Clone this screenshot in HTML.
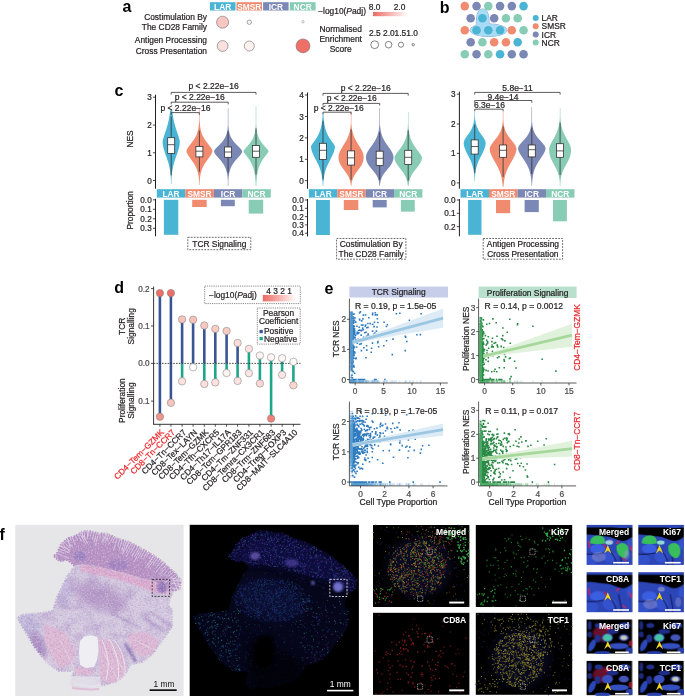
<!DOCTYPE html>
<html><head><meta charset="utf-8"><style>
html,body{margin:0;padding:0;background:#fff;}
body{width:685px;height:696px;overflow:hidden;position:relative;}
svg{position:absolute;left:0;top:0;font-family:"Liberation Sans",sans-serif;will-change:transform;}
</style></head><body>
<svg width="685" height="696" viewBox="0 0 685 696">
<text x="122.5" y="12.4" font-size="16" text-anchor="start" fill="#000" font-weight="bold" >a</text>
<rect x="209.9" y="2.2" width="25.6" height="8.3" fill="#4ab4d4" />
<text x="222.7" y="9.6" font-size="8.4" text-anchor="middle" fill="#fff" font-weight="bold" >LAR</text>
<rect x="236.5" y="2.2" width="25.5" height="8.3" fill="#f08b70" />
<text x="249.25" y="9.6" font-size="8.4" text-anchor="middle" fill="#fff" font-weight="bold" >SMSR</text>
<rect x="263.1" y="2.2" width="25.5" height="8.3" fill="#7b87b4" />
<text x="275.85" y="9.6" font-size="8.4" text-anchor="middle" fill="#fff" font-weight="bold" >ICR</text>
<rect x="289.8" y="2.2" width="25.8" height="8.3" fill="#88ccb6" />
<text x="302.7" y="9.6" font-size="8.4" text-anchor="middle" fill="#fff" font-weight="bold" >NCR</text>
<text x="207" y="19.8" font-size="8.4" text-anchor="end" fill="#231f20" font-weight="normal" stroke="#231f20" stroke-width="0.22" >Costimulation By</text>
<text x="207" y="29.8" font-size="8.4" text-anchor="end" fill="#231f20" font-weight="normal" stroke="#231f20" stroke-width="0.22" >The CD28 Family</text>
<text x="207" y="43.2" font-size="8.4" text-anchor="end" fill="#231f20" font-weight="normal" stroke="#231f20" stroke-width="0.22" >Antigen Processing</text>
<text x="207" y="53.8" font-size="8.4" text-anchor="end" fill="#231f20" font-weight="normal" stroke="#231f20" stroke-width="0.22" >Cross Presentation</text>
<circle cx="222.6" cy="22.2" r="6" fill="#f9c7c2" stroke="#555" stroke-width="0.5" />
<circle cx="249.3" cy="22.2" r="2.2" fill="#fdf3f2" stroke="#555" stroke-width="0.5" />
<circle cx="303" cy="21.8" r="1.2" fill="#fff" stroke="#666" stroke-width="0.4" />
<circle cx="222.6" cy="46" r="5.4" fill="#fbe1de" stroke="#555" stroke-width="0.5" />
<circle cx="249.3" cy="46" r="5" fill="#fdf1ef" stroke="#555" stroke-width="0.5" />
<circle cx="303" cy="45.9" r="7" fill="#ee6f66" stroke="#666" stroke-width="0.5" />
<text x="318.2" y="13.6" font-size="8.4" text-anchor="start" fill="#231f20" font-weight="normal" stroke="#231f20" stroke-width="0.22" >−log10(<tspan font-style="italic">P</tspan>adj)</text>
<defs><linearGradient id="ga" x1="0" x2="1" y1="0" y2="0"><stop offset="0" stop-color="#ec6a62"/><stop offset="1" stop-color="#ec6a62" stop-opacity="0"/></linearGradient></defs>
<rect x="373" y="11.9" width="35" height="4.3" fill="url(#ga)" />
<text x="374.6" y="10.2" font-size="8.4" text-anchor="middle" fill="#231f20" font-weight="normal" stroke="#231f20" stroke-width="0.22" >8.0</text>
<text x="399.5" y="10.2" font-size="8.4" text-anchor="middle" fill="#231f20" font-weight="normal" stroke="#231f20" stroke-width="0.22" >2.0</text>
<text x="340.7" y="31.6" font-size="8.4" text-anchor="middle" fill="#231f20" font-weight="normal" stroke="#231f20" stroke-width="0.22" >Normalised</text>
<text x="340.7" y="41.8" font-size="8.4" text-anchor="middle" fill="#231f20" font-weight="normal" stroke="#231f20" stroke-width="0.22" >Enrichment</text>
<text x="340.7" y="52.2" font-size="8.4" text-anchor="middle" fill="#231f20" font-weight="normal" stroke="#231f20" stroke-width="0.22" >Score</text>
<text x="369" y="36" font-size="8.4" text-anchor="start" fill="#231f20" font-weight="normal" stroke="#231f20" stroke-width="0.22" >2.5 2.01.51.0</text>
<circle cx="374.7" cy="44.7" r="3.9" fill="#fff" stroke="#333" stroke-width="0.6" />
<circle cx="388.6" cy="44.7" r="3.3" fill="#fff" stroke="#333" stroke-width="0.6" />
<circle cx="401" cy="44.7" r="2.6" fill="#fff" stroke="#333" stroke-width="0.6" />
<circle cx="413.2" cy="44.7" r="1.2" fill="#fff" stroke="#333" stroke-width="0.6" />
<text x="439.8" y="13.4" font-size="16" text-anchor="start" fill="#000" font-weight="bold" >b</text>
<ellipse cx="488.5" cy="30.2" rx="18.6" ry="6.3" fill="#a8dcf5" stroke="#6a7fbf" stroke-width="0.7"/><path d="M476.3,28 C476.3,19 476.2,9 482.7,9 C489.2,9 489.1,19 489.1,28 Z" fill="#a8dcf5" stroke="#6a7fbf" stroke-width="0.7"/>
<ellipse cx="488.5" cy="30.2" rx="18.6" ry="6.3" fill="#a8dcf5"/><path d="M476.3,28 C476.3,19 476.2,9 482.7,9 C489.2,9 489.1,19 489.1,28 Z" fill="#a8dcf5"/>
<circle cx="464.8" cy="6.1" r="4.3" fill="#f08b70" stroke="none" stroke-width="0.6" />
<circle cx="476.55" cy="6.1" r="4.3" fill="#7b87b4" stroke="none" stroke-width="0.6" />
<circle cx="488.3" cy="6.1" r="4.3" fill="#88ccb6" stroke="none" stroke-width="0.6" />
<circle cx="500.05" cy="6.1" r="4.3" fill="#7b87b4" stroke="none" stroke-width="0.6" />
<circle cx="511.8" cy="6.1" r="4.3" fill="#7b87b4" stroke="none" stroke-width="0.6" />
<circle cx="523.55" cy="6.1" r="4.3" fill="#4ab4d4" stroke="none" stroke-width="0.6" />
<circle cx="470.68" cy="18.2" r="4.3" fill="#7b87b4" stroke="none" stroke-width="0.6" />
<circle cx="482.43" cy="18.2" r="4.3" fill="#4ab4d4" stroke="none" stroke-width="0.6" />
<circle cx="494.18" cy="18.2" r="4.3" fill="#7b87b4" stroke="none" stroke-width="0.6" />
<circle cx="505.93" cy="18.2" r="4.3" fill="#88ccb6" stroke="none" stroke-width="0.6" />
<circle cx="517.67" cy="18.2" r="4.3" fill="#88ccb6" stroke="none" stroke-width="0.6" />
<circle cx="464.8" cy="30.2" r="4.3" fill="#f08b70" stroke="none" stroke-width="0.6" />
<circle cx="476.55" cy="30.2" r="4.3" fill="#4ab4d4" stroke="none" stroke-width="0.6" />
<circle cx="488.3" cy="30.2" r="4.3" fill="#4ab4d4" stroke="none" stroke-width="0.6" />
<circle cx="500.05" cy="30.2" r="4.3" fill="#4ab4d4" stroke="none" stroke-width="0.6" />
<circle cx="511.8" cy="30.2" r="4.3" fill="#f08b70" stroke="none" stroke-width="0.6" />
<circle cx="523.55" cy="30.2" r="4.3" fill="#88ccb6" stroke="none" stroke-width="0.6" />
<circle cx="470.68" cy="42.3" r="4.3" fill="#7b87b4" stroke="none" stroke-width="0.6" />
<circle cx="482.43" cy="42.3" r="4.3" fill="#88ccb6" stroke="none" stroke-width="0.6" />
<circle cx="494.18" cy="42.3" r="4.3" fill="#f08b70" stroke="none" stroke-width="0.6" />
<circle cx="505.93" cy="42.3" r="4.3" fill="#f08b70" stroke="none" stroke-width="0.6" />
<circle cx="517.67" cy="42.3" r="4.3" fill="#4ab4d4" stroke="none" stroke-width="0.6" />
<circle cx="464.8" cy="54.3" r="4.3" fill="#88ccb6" stroke="none" stroke-width="0.6" />
<circle cx="476.55" cy="54.3" r="4.3" fill="#7b87b4" stroke="none" stroke-width="0.6" />
<circle cx="488.3" cy="54.3" r="4.3" fill="#88ccb6" stroke="none" stroke-width="0.6" />
<circle cx="500.05" cy="54.3" r="4.3" fill="#4ab4d4" stroke="none" stroke-width="0.6" />
<circle cx="511.8" cy="54.3" r="4.3" fill="#7b87b4" stroke="none" stroke-width="0.6" />
<circle cx="523.55" cy="54.3" r="4.3" fill="#7b87b4" stroke="none" stroke-width="0.6" />
<circle cx="535.7" cy="18" r="3" fill="#4ab4d4" stroke="none" stroke-width="0.6" />
<text x="541.6" y="21" font-size="8.4" text-anchor="start" fill="#231f20" font-weight="normal" stroke="#231f20" stroke-width="0.22" >LAR</text>
<circle cx="535.7" cy="26.2" r="3" fill="#f08b70" stroke="none" stroke-width="0.6" />
<text x="541.6" y="29.2" font-size="8.4" text-anchor="start" fill="#231f20" font-weight="normal" stroke="#231f20" stroke-width="0.22" >SMSR</text>
<circle cx="535.7" cy="34.6" r="3" fill="#7b87b4" stroke="none" stroke-width="0.6" />
<text x="541.6" y="37.6" font-size="8.4" text-anchor="start" fill="#231f20" font-weight="normal" stroke="#231f20" stroke-width="0.22" >ICR</text>
<circle cx="535.7" cy="42.6" r="3" fill="#88ccb6" stroke="none" stroke-width="0.6" />
<text x="541.6" y="45.6" font-size="8.4" text-anchor="start" fill="#231f20" font-weight="normal" stroke="#231f20" stroke-width="0.22" >NCR</text>
<text x="114.5" y="96.4" font-size="16" text-anchor="start" fill="#000" font-weight="bold" >c</text>
<text x="0" y="0" font-size="8.4" text-anchor="middle" fill="#231f20" font-weight="normal" stroke="#231f20" stroke-width="0.22" transform="translate(133.3,139) rotate(-90)">NES</text>
<text x="0" y="0" font-size="8.4" text-anchor="middle" fill="#231f20" font-weight="normal" stroke="#231f20" stroke-width="0.22" transform="translate(133.3,210.3) rotate(-90)">Proportion</text>
<line x1="155.5" y1="94.7" x2="155.5" y2="188.8" stroke="#231f20" stroke-width="1" />
<line x1="152.9" y1="180.5" x2="155.5" y2="180.5" stroke="#231f20" stroke-width="0.8" />
<text x="151.7" y="183.5" font-size="8.2" text-anchor="end" fill="#231f20" font-weight="normal" stroke="#231f20" stroke-width="0.22" >0</text>
<line x1="152.9" y1="152.8" x2="155.5" y2="152.8" stroke="#231f20" stroke-width="0.8" />
<text x="151.7" y="155.8" font-size="8.2" text-anchor="end" fill="#231f20" font-weight="normal" stroke="#231f20" stroke-width="0.22" >1</text>
<line x1="152.9" y1="125.1" x2="155.5" y2="125.1" stroke="#231f20" stroke-width="0.8" />
<text x="151.7" y="128.1" font-size="8.2" text-anchor="end" fill="#231f20" font-weight="normal" stroke="#231f20" stroke-width="0.22" >2</text>
<line x1="152.9" y1="97.2" x2="155.5" y2="97.2" stroke="#231f20" stroke-width="0.8" />
<text x="151.7" y="100.2" font-size="8.2" text-anchor="end" fill="#231f20" font-weight="normal" stroke="#231f20" stroke-width="0.22" >3</text>
<path d="M171.40,110.00 L172.25,110.82 L172.34,111.64 L172.43,112.47 L172.54,113.29 L172.64,114.11 L172.76,114.93 L172.89,115.76 L173.02,116.58 L173.16,117.40 L173.31,118.22 L173.46,119.04 L173.63,119.87 L173.80,120.69 L173.99,121.51 L174.18,122.33 L174.38,123.16 L174.59,123.98 L174.81,124.80 L175.03,125.62 L175.27,126.44 L175.51,127.27 L175.76,128.09 L176.02,128.91 L176.29,129.73 L176.55,130.56 L176.83,131.38 L177.10,132.20 L177.38,133.02 L177.66,133.84 L177.94,134.67 L178.21,135.49 L178.48,136.31 L178.73,137.13 L178.98,137.96 L179.21,138.78 L179.42,139.60 L179.60,140.42 L179.74,141.24 L179.79,142.07 L179.74,142.89 L179.67,143.71 L179.58,144.53 L179.45,145.36 L179.31,146.18 L179.14,147.00 L178.96,147.82 L178.75,148.64 L178.52,149.47 L178.28,150.29 L178.03,151.11 L177.76,151.93 L177.49,152.76 L177.21,153.58 L176.92,154.40 L176.62,155.22 L176.33,156.04 L176.04,156.87 L175.75,157.69 L175.46,158.51 L175.18,159.33 L174.90,160.16 L174.63,160.98 L174.38,161.80 L174.13,162.62 L173.89,163.44 L173.66,164.27 L173.45,165.09 L173.25,165.91 L173.06,166.73 L172.88,167.56 L172.72,168.38 L172.56,169.20 L172.42,170.02 L172.29,170.84 L172.17,171.67 L172.06,172.49 L171.97,173.31 L171.88,174.13 L171.80,174.96 L171.72,175.78 L171.66,176.60 L171.60,177.42 L171.55,178.24 L171.50,179.07 L171.46,179.89 L171.45,180.71 L171.45,181.53 L171.45,182.36 L171.45,183.18 L171.40,184.00 L171.00,184.00 L170.95,183.18 L170.95,182.36 L170.95,181.53 L170.95,180.71 L170.94,179.89 L170.90,179.07 L170.85,178.24 L170.80,177.42 L170.74,176.60 L170.68,175.78 L170.60,174.96 L170.52,174.13 L170.43,173.31 L170.34,172.49 L170.23,171.67 L170.11,170.84 L169.98,170.02 L169.84,169.20 L169.68,168.38 L169.52,167.56 L169.34,166.73 L169.15,165.91 L168.95,165.09 L168.74,164.27 L168.51,163.44 L168.27,162.62 L168.02,161.80 L167.77,160.98 L167.50,160.16 L167.22,159.33 L166.94,158.51 L166.65,157.69 L166.36,156.87 L166.07,156.04 L165.78,155.22 L165.48,154.40 L165.19,153.58 L164.91,152.76 L164.64,151.93 L164.37,151.11 L164.12,150.29 L163.88,149.47 L163.65,148.64 L163.44,147.82 L163.26,147.00 L163.09,146.18 L162.95,145.36 L162.82,144.53 L162.73,143.71 L162.66,142.89 L162.61,142.07 L162.66,141.24 L162.80,140.42 L162.98,139.60 L163.19,138.78 L163.42,137.96 L163.67,137.13 L163.92,136.31 L164.19,135.49 L164.46,134.67 L164.74,133.84 L165.02,133.02 L165.30,132.20 L165.57,131.38 L165.85,130.56 L166.11,129.73 L166.38,128.91 L166.64,128.09 L166.89,127.27 L167.13,126.44 L167.37,125.62 L167.59,124.80 L167.81,123.98 L168.02,123.16 L168.22,122.33 L168.41,121.51 L168.60,120.69 L168.77,119.87 L168.94,119.04 L169.09,118.22 L169.24,117.40 L169.38,116.58 L169.51,115.76 L169.64,114.93 L169.76,114.11 L169.86,113.29 L169.97,112.47 L170.06,111.64 L170.15,110.82 L171.00,110.00 Z" fill="#4ab4d4"/>
<line x1="171.2" y1="116.6" x2="171.2" y2="175.3" stroke="#333" stroke-width="0.8" />
<rect x="167.7" y="137.7" width="7" height="15.7" fill="#fff" stroke="#333" stroke-width="0.8"/>
<line x1="167.7" y1="144.7" x2="174.7" y2="144.7" stroke="#333" stroke-width="0.8" />
<path d="M199.60,108.00 L199.65,108.86 L199.65,109.71 L199.65,110.57 L199.65,111.42 L199.65,112.28 L199.65,113.13 L199.65,113.99 L199.65,114.84 L199.65,115.70 L199.65,116.56 L199.65,117.41 L199.65,118.27 L199.65,119.12 L199.65,119.98 L199.68,120.83 L199.73,121.69 L199.78,122.54 L199.84,123.40 L199.92,124.26 L200.00,125.11 L200.10,125.97 L200.21,126.82 L200.34,127.68 L200.49,128.53 L200.66,129.39 L200.85,130.24 L201.06,131.10 L201.30,131.96 L201.57,132.81 L201.87,133.67 L202.20,134.52 L202.57,135.38 L202.97,136.23 L203.41,137.09 L203.88,137.94 L204.39,138.80 L204.93,139.66 L205.51,140.51 L206.11,141.37 L206.74,142.22 L207.39,143.08 L208.05,143.93 L208.72,144.79 L209.39,145.64 L210.03,146.50 L210.64,147.36 L211.21,148.21 L211.71,149.07 L212.11,149.92 L212.37,150.78 L212.30,151.63 L212.05,152.49 L211.70,153.34 L211.27,154.20 L210.77,155.06 L210.22,155.91 L209.64,156.77 L209.03,157.62 L208.41,158.48 L207.79,159.33 L207.17,160.19 L206.55,161.04 L205.96,161.90 L205.38,162.76 L204.83,163.61 L204.31,164.47 L203.82,165.32 L203.37,166.18 L202.94,167.03 L202.55,167.89 L202.19,168.74 L201.86,169.60 L201.56,170.46 L201.30,171.31 L201.06,172.17 L200.84,173.02 L200.65,173.88 L200.48,174.73 L200.33,175.59 L200.20,176.44 L200.09,177.30 L199.99,178.16 L199.91,179.01 L199.83,179.87 L199.77,180.72 L199.72,181.58 L199.67,182.43 L199.65,183.29 L199.65,184.14 L199.60,185.00 L199.20,185.00 L199.15,184.14 L199.15,183.29 L199.13,182.43 L199.08,181.58 L199.03,180.72 L198.97,179.87 L198.89,179.01 L198.81,178.16 L198.71,177.30 L198.60,176.44 L198.47,175.59 L198.32,174.73 L198.15,173.88 L197.96,173.02 L197.74,172.17 L197.50,171.31 L197.24,170.46 L196.94,169.60 L196.61,168.74 L196.25,167.89 L195.86,167.03 L195.43,166.18 L194.98,165.32 L194.49,164.47 L193.97,163.61 L193.42,162.76 L192.84,161.90 L192.25,161.04 L191.63,160.19 L191.01,159.33 L190.39,158.48 L189.77,157.62 L189.16,156.77 L188.58,155.91 L188.03,155.06 L187.53,154.20 L187.10,153.34 L186.75,152.49 L186.50,151.63 L186.43,150.78 L186.69,149.92 L187.09,149.07 L187.59,148.21 L188.16,147.36 L188.77,146.50 L189.41,145.64 L190.08,144.79 L190.75,143.93 L191.41,143.08 L192.06,142.22 L192.69,141.37 L193.29,140.51 L193.87,139.66 L194.41,138.80 L194.92,137.94 L195.39,137.09 L195.83,136.23 L196.23,135.38 L196.60,134.52 L196.93,133.67 L197.23,132.81 L197.50,131.96 L197.74,131.10 L197.95,130.24 L198.14,129.39 L198.31,128.53 L198.46,127.68 L198.59,126.82 L198.70,125.97 L198.80,125.11 L198.88,124.26 L198.96,123.40 L199.02,122.54 L199.07,121.69 L199.12,120.83 L199.15,119.98 L199.15,119.12 L199.15,118.27 L199.15,117.41 L199.15,116.56 L199.15,115.70 L199.15,114.84 L199.15,113.99 L199.15,113.13 L199.15,112.28 L199.15,111.42 L199.15,110.57 L199.15,109.71 L199.15,108.86 L199.20,108.00 Z" fill="#f08b70"/>
<line x1="199.4" y1="130.7" x2="199.4" y2="171.8" stroke="#333" stroke-width="0.8" />
<rect x="195.9" y="146.4" width="7" height="10.5" fill="#fff" stroke="#333" stroke-width="0.8"/>
<line x1="195.9" y1="151.2" x2="202.9" y2="151.2" stroke="#333" stroke-width="0.8" />
<path d="M228.30,108.00 L228.35,108.87 L228.35,109.73 L228.35,110.60 L228.35,111.47 L228.35,112.33 L228.35,113.20 L228.35,114.07 L228.35,114.93 L228.35,115.80 L228.35,116.67 L228.35,117.53 L228.35,118.40 L228.35,119.27 L228.35,120.13 L228.35,121.00 L228.35,121.87 L228.35,122.73 L228.35,123.60 L228.35,124.47 L228.39,125.33 L228.44,126.20 L228.50,127.07 L228.58,127.93 L228.67,128.80 L228.78,129.67 L228.91,130.53 L229.06,131.40 L229.24,132.27 L229.44,133.13 L229.69,134.00 L229.97,134.87 L230.29,135.73 L230.66,136.60 L231.08,137.47 L231.55,138.33 L232.08,139.20 L232.66,140.07 L233.30,140.93 L233.99,141.80 L234.74,142.67 L235.53,143.53 L236.36,144.40 L237.22,145.27 L238.09,146.13 L238.96,147.00 L239.79,147.87 L240.58,148.73 L241.27,149.60 L241.83,150.47 L242.17,151.33 L242.02,152.20 L241.61,153.07 L241.06,153.93 L240.42,154.80 L239.71,155.67 L238.96,156.53 L238.19,157.40 L237.42,158.27 L236.65,159.13 L235.90,160.00 L235.17,160.87 L234.48,161.73 L233.83,162.60 L233.22,163.47 L232.65,164.33 L232.13,165.20 L231.65,166.07 L231.21,166.93 L230.82,167.80 L230.47,168.67 L230.16,169.53 L229.88,170.40 L229.64,171.27 L229.42,172.13 L229.23,173.00 L229.07,173.87 L228.93,174.73 L228.81,175.60 L228.70,176.47 L228.61,177.33 L228.54,178.20 L228.47,179.07 L228.42,179.93 L228.37,180.80 L228.35,181.67 L228.35,182.53 L228.35,183.40 L228.35,184.27 L228.35,185.13 L228.30,186.00 L227.90,186.00 L227.85,185.13 L227.85,184.27 L227.85,183.40 L227.85,182.53 L227.85,181.67 L227.83,180.80 L227.78,179.93 L227.73,179.07 L227.66,178.20 L227.59,177.33 L227.50,176.47 L227.39,175.60 L227.27,174.73 L227.13,173.87 L226.97,173.00 L226.78,172.13 L226.56,171.27 L226.32,170.40 L226.04,169.53 L225.73,168.67 L225.38,167.80 L224.99,166.93 L224.55,166.07 L224.07,165.20 L223.55,164.33 L222.98,163.47 L222.37,162.60 L221.72,161.73 L221.03,160.87 L220.30,160.00 L219.55,159.13 L218.78,158.27 L218.01,157.40 L217.24,156.53 L216.49,155.67 L215.78,154.80 L215.14,153.93 L214.59,153.07 L214.18,152.20 L214.03,151.33 L214.37,150.47 L214.93,149.60 L215.62,148.73 L216.41,147.87 L217.24,147.00 L218.11,146.13 L218.98,145.27 L219.84,144.40 L220.67,143.53 L221.46,142.67 L222.21,141.80 L222.90,140.93 L223.54,140.07 L224.12,139.20 L224.65,138.33 L225.12,137.47 L225.54,136.60 L225.91,135.73 L226.23,134.87 L226.51,134.00 L226.76,133.13 L226.96,132.27 L227.14,131.40 L227.29,130.53 L227.42,129.67 L227.53,128.80 L227.62,127.93 L227.70,127.07 L227.76,126.20 L227.81,125.33 L227.85,124.47 L227.85,123.60 L227.85,122.73 L227.85,121.87 L227.85,121.00 L227.85,120.13 L227.85,119.27 L227.85,118.40 L227.85,117.53 L227.85,116.67 L227.85,115.80 L227.85,114.93 L227.85,114.07 L227.85,113.20 L227.85,112.33 L227.85,111.47 L227.85,110.60 L227.85,109.73 L227.85,108.87 L227.90,108.00 Z" fill="#7b87b4"/>
<line x1="228.1" y1="131.2" x2="228.1" y2="172.7" stroke="#333" stroke-width="0.8" />
<rect x="224.6" y="147" width="7" height="10.3" fill="#fff" stroke="#333" stroke-width="0.8"/>
<line x1="224.6" y1="152" x2="231.6" y2="152" stroke="#333" stroke-width="0.8" />
<path d="M256.20,106.00 L256.25,106.89 L256.25,107.78 L256.25,108.67 L256.25,109.56 L256.25,110.44 L256.25,111.33 L256.25,112.22 L256.25,113.11 L256.25,114.00 L256.25,114.89 L256.25,115.78 L256.25,116.67 L256.25,117.56 L256.25,118.44 L256.25,119.33 L256.25,120.22 L256.25,121.11 L256.25,122.00 L256.25,122.89 L256.27,123.78 L256.31,124.67 L256.35,125.56 L256.41,126.44 L256.48,127.33 L256.55,128.22 L256.64,129.11 L256.75,130.00 L256.88,130.89 L257.02,131.78 L257.19,132.67 L257.39,133.56 L257.61,134.44 L257.87,135.33 L258.17,136.22 L258.51,137.11 L258.89,138.00 L259.32,138.89 L259.79,139.78 L260.32,140.67 L260.90,141.56 L261.52,142.44 L262.20,143.33 L262.92,144.22 L263.68,145.11 L264.46,146.00 L265.26,146.89 L266.06,147.78 L266.83,148.67 L267.54,149.56 L268.15,150.44 L268.56,151.33 L268.24,152.22 L267.63,153.11 L266.96,154.00 L266.26,154.89 L265.56,155.78 L264.87,156.67 L264.19,157.56 L263.55,158.44 L262.93,159.33 L262.35,160.22 L261.80,161.11 L261.29,162.00 L260.81,162.89 L260.36,163.78 L259.95,164.67 L259.58,165.56 L259.23,166.44 L258.91,167.33 L258.62,168.22 L258.36,169.11 L258.12,170.00 L257.90,170.89 L257.70,171.78 L257.52,172.67 L257.36,173.56 L257.22,174.44 L257.09,175.33 L256.97,176.22 L256.86,177.11 L256.77,178.00 L256.69,178.89 L256.61,179.78 L256.54,180.67 L256.49,181.56 L256.43,182.44 L256.38,183.33 L256.34,184.22 L256.31,185.11 L256.20,186.00 L255.80,186.00 L255.69,185.11 L255.66,184.22 L255.62,183.33 L255.57,182.44 L255.51,181.56 L255.46,180.67 L255.39,179.78 L255.31,178.89 L255.23,178.00 L255.14,177.11 L255.03,176.22 L254.91,175.33 L254.78,174.44 L254.64,173.56 L254.48,172.67 L254.30,171.78 L254.10,170.89 L253.88,170.00 L253.64,169.11 L253.38,168.22 L253.09,167.33 L252.77,166.44 L252.42,165.56 L252.05,164.67 L251.64,163.78 L251.19,162.89 L250.71,162.00 L250.20,161.11 L249.65,160.22 L249.07,159.33 L248.45,158.44 L247.81,157.56 L247.13,156.67 L246.44,155.78 L245.74,154.89 L245.04,154.00 L244.37,153.11 L243.76,152.22 L243.44,151.33 L243.85,150.44 L244.46,149.56 L245.17,148.67 L245.94,147.78 L246.74,146.89 L247.54,146.00 L248.32,145.11 L249.08,144.22 L249.80,143.33 L250.48,142.44 L251.10,141.56 L251.68,140.67 L252.21,139.78 L252.68,138.89 L253.11,138.00 L253.49,137.11 L253.83,136.22 L254.13,135.33 L254.39,134.44 L254.61,133.56 L254.81,132.67 L254.98,131.78 L255.12,130.89 L255.25,130.00 L255.36,129.11 L255.45,128.22 L255.52,127.33 L255.59,126.44 L255.65,125.56 L255.69,124.67 L255.73,123.78 L255.75,122.89 L255.75,122.00 L255.75,121.11 L255.75,120.22 L255.75,119.33 L255.75,118.44 L255.75,117.56 L255.75,116.67 L255.75,115.78 L255.75,114.89 L255.75,114.00 L255.75,113.11 L255.75,112.22 L255.75,111.33 L255.75,110.44 L255.75,109.56 L255.75,108.67 L255.75,107.78 L255.75,106.89 L255.80,106.00 Z" fill="#88ccb6"/>
<line x1="256" y1="128.4" x2="256" y2="174.5" stroke="#333" stroke-width="0.8" />
<rect x="252.5" y="145.5" width="7" height="11.8" fill="#fff" stroke="#333" stroke-width="0.8"/>
<line x1="252.5" y1="151.2" x2="259.5" y2="151.2" stroke="#333" stroke-width="0.8" />
<rect x="156.8" y="189.2" width="28.5" height="8.4" fill="#4ab4d4" />
<text x="171.05" y="196.5" font-size="8.4" text-anchor="middle" fill="#fff" font-weight="bold" >LAR</text>
<rect x="185.3" y="189.2" width="28.5" height="8.4" fill="#f08b70" />
<text x="199.55" y="196.5" font-size="8.4" text-anchor="middle" fill="#fff" font-weight="bold" >SMSR</text>
<rect x="213.8" y="189.2" width="28.5" height="8.4" fill="#7b87b4" />
<text x="228.05" y="196.5" font-size="8.4" text-anchor="middle" fill="#fff" font-weight="bold" >ICR</text>
<rect x="242.3" y="189.2" width="28.5" height="8.4" fill="#88ccb6" />
<text x="256.55" y="196.5" font-size="8.4" text-anchor="middle" fill="#fff" font-weight="bold" >NCR</text>
<line x1="155.5" y1="198.8" x2="155.5" y2="236.3" stroke="#231f20" stroke-width="1" />
<line x1="152.9" y1="199.8" x2="155.5" y2="199.8" stroke="#231f20" stroke-width="0.8" />
<text x="151.7" y="202.8" font-size="8.2" text-anchor="end" fill="#231f20" font-weight="normal" stroke="#231f20" stroke-width="0.22" >0.0</text>
<line x1="152.9" y1="209.3" x2="155.5" y2="209.3" stroke="#231f20" stroke-width="0.8" />
<text x="151.7" y="212.3" font-size="8.2" text-anchor="end" fill="#231f20" font-weight="normal" stroke="#231f20" stroke-width="0.22" >0.1</text>
<line x1="152.9" y1="218.8" x2="155.5" y2="218.8" stroke="#231f20" stroke-width="0.8" />
<text x="151.7" y="221.8" font-size="8.2" text-anchor="end" fill="#231f20" font-weight="normal" stroke="#231f20" stroke-width="0.22" >0.2</text>
<line x1="152.9" y1="228.3" x2="155.5" y2="228.3" stroke="#231f20" stroke-width="0.8" />
<text x="151.7" y="231.3" font-size="8.2" text-anchor="end" fill="#231f20" font-weight="normal" stroke="#231f20" stroke-width="0.22" >0.3</text>
<rect x="163.9" y="199.8" width="14.4" height="35" fill="#4ab4d4" />
<rect x="192.2" y="199.8" width="14.5" height="7.2" fill="#f08b70" />
<rect x="220.9" y="199.8" width="13.9" height="6.4" fill="#7b87b4" />
<rect x="248.7" y="199.8" width="14.5" height="13.8" fill="#88ccb6" />
<path d="M171.2,94.6 V92.4 H256 V94.6" fill="none" stroke="#333" stroke-width="0.8"/>
<path d="M171.2,104.4 V102.2 H228.2 V104.4" fill="none" stroke="#333" stroke-width="0.8"/>
<path d="M171.2,114.8 V112.6 H199.3 V114.8" fill="none" stroke="#333" stroke-width="0.8"/>
<text x="213.6" y="89.2" font-size="8.5" text-anchor="middle" fill="#231f20" font-weight="normal" stroke="#231f20" stroke-width="0.22" >p &lt; 2.22e−16</text>
<text x="199.7" y="100" font-size="8.5" text-anchor="middle" fill="#231f20" font-weight="normal" stroke="#231f20" stroke-width="0.22" >p &lt; 2.22e−16</text>
<text x="185.5" y="111.4" font-size="8.5" text-anchor="middle" fill="#231f20" font-weight="normal" stroke="#231f20" stroke-width="0.22" >p &lt; 2.22e−16</text>
<text x="0" y="0" font-size="1" text-anchor="start" fill="#231f20" font-weight="normal" stroke="#231f20" stroke-width="0.22" ></text>
<rect x="187.8" y="237.3" width="63" height="12.4" fill="none" stroke="#444" stroke-width="0.8" stroke-dasharray="1.8,1.2"/>
<text x="219.3" y="246.6" font-size="8.4" text-anchor="middle" fill="#231f20" font-weight="normal" stroke="#231f20" stroke-width="0.22" >TCR Signaling</text>
<line x1="307.5" y1="92.5" x2="307.5" y2="188.8" stroke="#231f20" stroke-width="1" />
<line x1="304.9" y1="180.6" x2="307.5" y2="180.6" stroke="#231f20" stroke-width="0.8" />
<text x="303.7" y="183.6" font-size="8.2" text-anchor="end" fill="#231f20" font-weight="normal" stroke="#231f20" stroke-width="0.22" >0</text>
<line x1="304.9" y1="159.3" x2="307.5" y2="159.3" stroke="#231f20" stroke-width="0.8" />
<text x="303.7" y="162.3" font-size="8.2" text-anchor="end" fill="#231f20" font-weight="normal" stroke="#231f20" stroke-width="0.22" >1</text>
<line x1="304.9" y1="137.9" x2="307.5" y2="137.9" stroke="#231f20" stroke-width="0.8" />
<text x="303.7" y="140.9" font-size="8.2" text-anchor="end" fill="#231f20" font-weight="normal" stroke="#231f20" stroke-width="0.22" >2</text>
<line x1="304.9" y1="116.5" x2="307.5" y2="116.5" stroke="#231f20" stroke-width="0.8" />
<text x="303.7" y="119.5" font-size="8.2" text-anchor="end" fill="#231f20" font-weight="normal" stroke="#231f20" stroke-width="0.22" >3</text>
<line x1="304.9" y1="95" x2="307.5" y2="95" stroke="#231f20" stroke-width="0.8" />
<text x="303.7" y="98" font-size="8.2" text-anchor="end" fill="#231f20" font-weight="normal" stroke="#231f20" stroke-width="0.22" >4</text>
<path d="M323.20,113.00 L323.35,113.81 L323.39,114.62 L323.44,115.43 L323.49,116.24 L323.54,117.06 L323.60,117.87 L323.67,118.68 L323.75,119.49 L323.83,120.30 L323.92,121.11 L324.02,121.92 L324.14,122.73 L324.26,123.54 L324.40,124.36 L324.54,125.17 L324.71,125.98 L324.88,126.79 L325.08,127.60 L325.29,128.41 L325.52,129.22 L325.77,130.03 L326.04,130.84 L326.34,131.66 L326.66,132.47 L327.00,133.28 L327.36,134.09 L327.76,134.90 L328.18,135.71 L328.62,136.52 L329.09,137.33 L329.59,138.14 L330.12,138.96 L330.66,139.77 L331.23,140.58 L331.81,141.39 L332.40,142.20 L333.00,143.01 L333.59,143.82 L334.15,144.63 L334.66,145.44 L335.00,146.26 L334.94,147.07 L334.85,147.88 L334.72,148.69 L334.55,149.50 L334.35,150.31 L334.11,151.12 L333.84,151.93 L333.55,152.74 L333.22,153.56 L332.88,154.37 L332.51,155.18 L332.13,155.99 L331.73,156.80 L331.32,157.61 L330.91,158.42 L330.49,159.23 L330.06,160.04 L329.64,160.86 L329.23,161.67 L328.82,162.48 L328.41,163.29 L328.02,164.10 L327.64,164.91 L327.28,165.72 L326.93,166.53 L326.60,167.34 L326.28,168.16 L325.98,168.97 L325.70,169.78 L325.44,170.59 L325.20,171.40 L324.97,172.21 L324.77,173.02 L324.57,173.83 L324.40,174.64 L324.24,175.46 L324.10,176.27 L323.97,177.08 L323.85,177.89 L323.74,178.70 L323.65,179.51 L323.57,180.32 L323.49,181.13 L323.43,181.94 L323.37,182.76 L323.32,183.57 L323.27,184.38 L323.25,185.19 L323.20,186.00 L322.80,186.00 L322.75,185.19 L322.73,184.38 L322.68,183.57 L322.63,182.76 L322.57,181.94 L322.51,181.13 L322.43,180.32 L322.35,179.51 L322.26,178.70 L322.15,177.89 L322.03,177.08 L321.90,176.27 L321.76,175.46 L321.60,174.64 L321.43,173.83 L321.23,173.02 L321.03,172.21 L320.80,171.40 L320.56,170.59 L320.30,169.78 L320.02,168.97 L319.72,168.16 L319.40,167.34 L319.07,166.53 L318.72,165.72 L318.36,164.91 L317.98,164.10 L317.59,163.29 L317.18,162.48 L316.77,161.67 L316.36,160.86 L315.94,160.04 L315.51,159.23 L315.09,158.42 L314.68,157.61 L314.27,156.80 L313.87,155.99 L313.49,155.18 L313.12,154.37 L312.78,153.56 L312.45,152.74 L312.16,151.93 L311.89,151.12 L311.65,150.31 L311.45,149.50 L311.28,148.69 L311.15,147.88 L311.06,147.07 L311.00,146.26 L311.34,145.44 L311.85,144.63 L312.41,143.82 L313.00,143.01 L313.60,142.20 L314.19,141.39 L314.77,140.58 L315.34,139.77 L315.88,138.96 L316.41,138.14 L316.91,137.33 L317.38,136.52 L317.82,135.71 L318.24,134.90 L318.64,134.09 L319.00,133.28 L319.34,132.47 L319.66,131.66 L319.96,130.84 L320.23,130.03 L320.48,129.22 L320.71,128.41 L320.92,127.60 L321.12,126.79 L321.29,125.98 L321.46,125.17 L321.60,124.36 L321.74,123.54 L321.86,122.73 L321.98,121.92 L322.08,121.11 L322.17,120.30 L322.25,119.49 L322.33,118.68 L322.40,117.87 L322.46,117.06 L322.51,116.24 L322.56,115.43 L322.61,114.62 L322.65,113.81 L322.80,113.00 Z" fill="#4ab4d4"/>
<line x1="323" y1="120.9" x2="323" y2="179.7" stroke="#333" stroke-width="0.8" />
<rect x="319.5" y="143.3" width="7" height="16.1" fill="#fff" stroke="#333" stroke-width="0.8"/>
<line x1="319.5" y1="150.3" x2="326.5" y2="150.3" stroke="#333" stroke-width="0.8" />
<path d="M351.30,111.00 L351.35,111.83 L351.35,112.67 L351.35,113.50 L351.35,114.33 L351.35,115.17 L351.35,116.00 L351.35,116.83 L351.35,117.67 L351.35,118.50 L351.35,119.33 L351.35,120.17 L351.35,121.00 L351.35,121.83 L351.35,122.67 L351.40,123.50 L351.46,124.33 L351.52,125.17 L351.59,126.00 L351.68,126.83 L351.78,127.67 L351.90,128.50 L352.03,129.33 L352.18,130.17 L352.34,131.00 L352.53,131.83 L352.74,132.67 L352.98,133.50 L353.24,134.33 L353.52,135.17 L353.83,136.00 L354.17,136.83 L354.53,137.67 L354.92,138.50 L355.33,139.33 L355.76,140.17 L356.22,141.00 L356.70,141.83 L357.19,142.67 L357.70,143.50 L358.21,144.33 L358.73,145.17 L359.25,146.00 L359.77,146.83 L360.27,147.67 L360.76,148.50 L361.22,149.33 L361.67,150.17 L362.07,151.00 L362.45,151.83 L362.78,152.67 L363.06,153.50 L363.30,154.33 L363.48,155.17 L363.62,156.00 L363.69,156.83 L363.67,157.67 L363.61,158.50 L363.51,159.33 L363.38,160.17 L363.19,161.00 L362.96,161.83 L362.67,162.67 L362.33,163.50 L361.94,164.33 L361.49,165.17 L361.00,166.00 L360.46,166.83 L359.89,167.67 L359.29,168.50 L358.67,169.33 L358.04,170.17 L357.41,171.00 L356.79,171.83 L356.19,172.67 L355.60,173.50 L355.05,174.33 L354.54,175.17 L354.06,176.00 L353.63,176.83 L353.24,177.67 L352.89,178.50 L352.59,179.33 L352.32,180.17 L352.10,181.00 L351.91,181.83 L351.75,182.67 L351.62,183.50 L351.51,184.33 L351.43,185.17 L351.30,186.00 L350.90,186.00 L350.77,185.17 L350.69,184.33 L350.58,183.50 L350.45,182.67 L350.29,181.83 L350.10,181.00 L349.88,180.17 L349.61,179.33 L349.31,178.50 L348.96,177.67 L348.57,176.83 L348.14,176.00 L347.66,175.17 L347.15,174.33 L346.60,173.50 L346.01,172.67 L345.41,171.83 L344.79,171.00 L344.16,170.17 L343.53,169.33 L342.91,168.50 L342.31,167.67 L341.74,166.83 L341.20,166.00 L340.71,165.17 L340.26,164.33 L339.87,163.50 L339.53,162.67 L339.24,161.83 L339.01,161.00 L338.82,160.17 L338.69,159.33 L338.59,158.50 L338.53,157.67 L338.51,156.83 L338.58,156.00 L338.72,155.17 L338.90,154.33 L339.14,153.50 L339.42,152.67 L339.75,151.83 L340.13,151.00 L340.53,150.17 L340.98,149.33 L341.44,148.50 L341.93,147.67 L342.43,146.83 L342.95,146.00 L343.47,145.17 L343.99,144.33 L344.50,143.50 L345.01,142.67 L345.50,141.83 L345.98,141.00 L346.44,140.17 L346.87,139.33 L347.28,138.50 L347.67,137.67 L348.03,136.83 L348.37,136.00 L348.68,135.17 L348.96,134.33 L349.22,133.50 L349.46,132.67 L349.67,131.83 L349.86,131.00 L350.02,130.17 L350.17,129.33 L350.30,128.50 L350.42,127.67 L350.52,126.83 L350.61,126.00 L350.68,125.17 L350.74,124.33 L350.80,123.50 L350.85,122.67 L350.85,121.83 L350.85,121.00 L350.85,120.17 L350.85,119.33 L350.85,118.50 L350.85,117.67 L350.85,116.83 L350.85,116.00 L350.85,115.17 L350.85,114.33 L350.85,113.50 L350.85,112.67 L350.85,111.83 L350.90,111.00 Z" fill="#f08b70"/>
<line x1="351.1" y1="129.4" x2="351.1" y2="179.7" stroke="#333" stroke-width="0.8" />
<rect x="347.6" y="150.9" width="7" height="14.2" fill="#fff" stroke="#333" stroke-width="0.8"/>
<line x1="347.6" y1="157.9" x2="354.6" y2="157.9" stroke="#333" stroke-width="0.8" />
<path d="M379.90,108.00 L379.95,108.87 L379.95,109.73 L379.95,110.60 L379.95,111.47 L379.95,112.33 L379.95,113.20 L379.95,114.07 L379.95,114.93 L379.95,115.80 L379.95,116.67 L379.95,117.53 L379.95,118.40 L379.95,119.27 L379.95,120.13 L379.95,121.00 L379.95,121.87 L379.95,122.73 L379.96,123.60 L380.01,124.47 L380.07,125.33 L380.14,126.20 L380.22,127.07 L380.31,127.93 L380.42,128.80 L380.54,129.67 L380.69,130.53 L380.85,131.40 L381.04,132.27 L381.25,133.13 L381.49,134.00 L381.76,134.87 L382.06,135.73 L382.39,136.60 L382.75,137.47 L383.15,138.33 L383.58,139.20 L384.04,140.07 L384.53,140.93 L385.05,141.80 L385.60,142.67 L386.17,143.53 L386.77,144.40 L387.37,145.27 L387.99,146.13 L388.61,147.00 L389.23,147.87 L389.84,148.73 L390.42,149.60 L390.98,150.47 L391.51,151.33 L391.99,152.20 L392.42,153.07 L392.79,153.93 L393.09,154.80 L393.32,155.67 L393.46,156.53 L393.48,157.40 L393.41,158.27 L393.29,159.13 L393.12,160.00 L392.88,160.87 L392.58,161.73 L392.20,162.60 L391.76,163.47 L391.25,164.33 L390.68,165.20 L390.06,166.07 L389.39,166.93 L388.70,167.80 L387.98,168.67 L387.25,169.53 L386.52,170.40 L385.81,171.27 L385.12,172.13 L384.46,173.00 L383.84,173.87 L383.27,174.73 L382.75,175.60 L382.27,176.47 L381.85,177.33 L381.49,178.20 L381.17,179.07 L380.89,179.93 L380.67,180.80 L380.47,181.67 L380.32,182.53 L380.19,183.40 L380.09,184.27 L380.01,185.13 L379.90,186.00 L379.50,186.00 L379.39,185.13 L379.31,184.27 L379.21,183.40 L379.08,182.53 L378.93,181.67 L378.73,180.80 L378.51,179.93 L378.23,179.07 L377.91,178.20 L377.55,177.33 L377.13,176.47 L376.65,175.60 L376.13,174.73 L375.56,173.87 L374.94,173.00 L374.28,172.13 L373.59,171.27 L372.88,170.40 L372.15,169.53 L371.42,168.67 L370.70,167.80 L370.01,166.93 L369.34,166.07 L368.72,165.20 L368.15,164.33 L367.64,163.47 L367.20,162.60 L366.82,161.73 L366.52,160.87 L366.28,160.00 L366.11,159.13 L365.99,158.27 L365.92,157.40 L365.94,156.53 L366.08,155.67 L366.31,154.80 L366.61,153.93 L366.98,153.07 L367.41,152.20 L367.89,151.33 L368.42,150.47 L368.98,149.60 L369.56,148.73 L370.17,147.87 L370.79,147.00 L371.41,146.13 L372.03,145.27 L372.63,144.40 L373.23,143.53 L373.80,142.67 L374.35,141.80 L374.87,140.93 L375.36,140.07 L375.82,139.20 L376.25,138.33 L376.65,137.47 L377.01,136.60 L377.34,135.73 L377.64,134.87 L377.91,134.00 L378.15,133.13 L378.36,132.27 L378.55,131.40 L378.71,130.53 L378.86,129.67 L378.98,128.80 L379.09,127.93 L379.18,127.07 L379.26,126.20 L379.33,125.33 L379.39,124.47 L379.44,123.60 L379.45,122.73 L379.45,121.87 L379.45,121.00 L379.45,120.13 L379.45,119.27 L379.45,118.40 L379.45,117.53 L379.45,116.67 L379.45,115.80 L379.45,114.93 L379.45,114.07 L379.45,113.20 L379.45,112.33 L379.45,111.47 L379.45,110.60 L379.45,109.73 L379.45,108.87 L379.50,108.00 Z" fill="#7b87b4"/>
<line x1="379.7" y1="132.3" x2="379.7" y2="179.7" stroke="#333" stroke-width="0.8" />
<rect x="376.2" y="151.2" width="7" height="14.3" fill="#fff" stroke="#333" stroke-width="0.8"/>
<line x1="376.2" y1="158.3" x2="383.2" y2="158.3" stroke="#333" stroke-width="0.8" />
<path d="M408.40,112.00 L408.45,112.82 L408.45,113.64 L408.45,114.47 L408.45,115.29 L408.45,116.11 L408.45,116.93 L408.45,117.76 L408.45,118.58 L408.45,119.40 L408.45,120.22 L408.45,121.04 L408.45,121.87 L408.45,122.69 L408.45,123.51 L408.48,124.33 L408.52,125.16 L408.56,125.98 L408.61,126.80 L408.67,127.62 L408.74,128.44 L408.82,129.27 L408.91,130.09 L409.00,130.91 L409.12,131.73 L409.24,132.56 L409.38,133.38 L409.54,134.20 L409.71,135.02 L409.90,135.84 L410.12,136.67 L410.36,137.49 L410.62,138.31 L410.90,139.13 L411.21,139.96 L411.56,140.78 L411.92,141.60 L412.32,142.42 L412.75,143.24 L413.21,144.07 L413.70,144.89 L414.21,145.71 L414.76,146.53 L415.33,147.36 L415.92,148.18 L416.53,149.00 L417.15,149.82 L417.79,150.64 L418.42,151.47 L419.05,152.29 L419.66,153.11 L420.25,153.93 L420.79,154.76 L421.27,155.58 L421.68,156.40 L421.95,157.22 L421.96,158.04 L421.85,158.87 L421.67,159.69 L421.43,160.51 L421.11,161.33 L420.73,162.16 L420.29,162.98 L419.80,163.80 L419.26,164.62 L418.68,165.44 L418.06,166.27 L417.43,167.09 L416.78,167.91 L416.13,168.73 L415.47,169.56 L414.83,170.38 L414.21,171.20 L413.61,172.02 L413.04,172.84 L412.50,173.67 L412.00,174.49 L411.53,175.31 L411.10,176.13 L410.72,176.96 L410.37,177.78 L410.06,178.60 L409.78,179.42 L409.54,180.24 L409.33,181.07 L409.15,181.89 L408.99,182.71 L408.86,183.53 L408.74,184.36 L408.65,185.18 L408.40,186.00 L408.00,186.00 L407.75,185.18 L407.66,184.36 L407.54,183.53 L407.41,182.71 L407.25,181.89 L407.07,181.07 L406.86,180.24 L406.62,179.42 L406.34,178.60 L406.03,177.78 L405.68,176.96 L405.30,176.13 L404.87,175.31 L404.40,174.49 L403.90,173.67 L403.36,172.84 L402.79,172.02 L402.19,171.20 L401.57,170.38 L400.93,169.56 L400.27,168.73 L399.62,167.91 L398.97,167.09 L398.34,166.27 L397.72,165.44 L397.14,164.62 L396.60,163.80 L396.11,162.98 L395.67,162.16 L395.29,161.33 L394.97,160.51 L394.73,159.69 L394.55,158.87 L394.44,158.04 L394.45,157.22 L394.72,156.40 L395.13,155.58 L395.61,154.76 L396.15,153.93 L396.74,153.11 L397.35,152.29 L397.98,151.47 L398.61,150.64 L399.25,149.82 L399.87,149.00 L400.48,148.18 L401.07,147.36 L401.64,146.53 L402.19,145.71 L402.70,144.89 L403.19,144.07 L403.65,143.24 L404.08,142.42 L404.48,141.60 L404.84,140.78 L405.19,139.96 L405.50,139.13 L405.78,138.31 L406.04,137.49 L406.28,136.67 L406.50,135.84 L406.69,135.02 L406.86,134.20 L407.02,133.38 L407.16,132.56 L407.28,131.73 L407.40,130.91 L407.49,130.09 L407.58,129.27 L407.66,128.44 L407.73,127.62 L407.79,126.80 L407.84,125.98 L407.88,125.16 L407.92,124.33 L407.95,123.51 L407.95,122.69 L407.95,121.87 L407.95,121.04 L407.95,120.22 L407.95,119.40 L407.95,118.58 L407.95,117.76 L407.95,116.93 L407.95,116.11 L407.95,115.29 L407.95,114.47 L407.95,113.64 L407.95,112.82 L408.00,112.00 Z" fill="#88ccb6"/>
<line x1="408.2" y1="130.4" x2="408.2" y2="180.7" stroke="#333" stroke-width="0.8" />
<rect x="404.7" y="150.3" width="7" height="14.2" fill="#fff" stroke="#333" stroke-width="0.8"/>
<line x1="404.7" y1="157.3" x2="411.7" y2="157.3" stroke="#333" stroke-width="0.8" />
<rect x="308.9" y="189.2" width="28.38" height="8.4" fill="#4ab4d4" />
<text x="323.09" y="196.5" font-size="8.4" text-anchor="middle" fill="#fff" font-weight="bold" >LAR</text>
<rect x="337.27" y="189.2" width="28.38" height="8.4" fill="#f08b70" />
<text x="351.46" y="196.5" font-size="8.4" text-anchor="middle" fill="#fff" font-weight="bold" >SMSR</text>
<rect x="365.65" y="189.2" width="28.38" height="8.4" fill="#7b87b4" />
<text x="379.84" y="196.5" font-size="8.4" text-anchor="middle" fill="#fff" font-weight="bold" >ICR</text>
<rect x="394.02" y="189.2" width="28.38" height="8.4" fill="#88ccb6" />
<text x="408.21" y="196.5" font-size="8.4" text-anchor="middle" fill="#fff" font-weight="bold" >NCR</text>
<line x1="307.5" y1="199" x2="307.5" y2="236.5" stroke="#231f20" stroke-width="1" />
<line x1="304.9" y1="200" x2="307.5" y2="200" stroke="#231f20" stroke-width="0.8" />
<text x="303.7" y="203" font-size="8.2" text-anchor="end" fill="#231f20" font-weight="normal" stroke="#231f20" stroke-width="0.22" >0.0</text>
<line x1="304.9" y1="208.3" x2="307.5" y2="208.3" stroke="#231f20" stroke-width="0.8" />
<text x="303.7" y="211.3" font-size="8.2" text-anchor="end" fill="#231f20" font-weight="normal" stroke="#231f20" stroke-width="0.22" >0.1</text>
<line x1="304.9" y1="216.6" x2="307.5" y2="216.6" stroke="#231f20" stroke-width="0.8" />
<text x="303.7" y="219.6" font-size="8.2" text-anchor="end" fill="#231f20" font-weight="normal" stroke="#231f20" stroke-width="0.22" >0.2</text>
<line x1="304.9" y1="224.9" x2="307.5" y2="224.9" stroke="#231f20" stroke-width="0.8" />
<text x="303.7" y="227.9" font-size="8.2" text-anchor="end" fill="#231f20" font-weight="normal" stroke="#231f20" stroke-width="0.22" >0.3</text>
<line x1="304.9" y1="233.2" x2="307.5" y2="233.2" stroke="#231f20" stroke-width="0.8" />
<text x="303.7" y="236.2" font-size="8.2" text-anchor="end" fill="#231f20" font-weight="normal" stroke="#231f20" stroke-width="0.22" >0.4</text>
<rect x="316" y="200" width="13.9" height="35" fill="#4ab4d4" />
<rect x="343.8" y="200" width="14.5" height="10" fill="#f08b70" />
<rect x="372.7" y="200" width="14" height="7.4" fill="#7b87b4" />
<rect x="400.9" y="200" width="13.9" height="11.6" fill="#88ccb6" />
<path d="M323,95.6 V93.4 H408.2 V95.6" fill="none" stroke="#333" stroke-width="0.8"/>
<path d="M323,105.6 V103.4 H379.7 V105.6" fill="none" stroke="#333" stroke-width="0.8"/>
<path d="M323,114.4 V112.2 H351.1 V114.4" fill="none" stroke="#333" stroke-width="0.8"/>
<text x="365.7" y="91" font-size="8.5" text-anchor="middle" fill="#231f20" font-weight="normal" stroke="#231f20" stroke-width="0.22" >p &lt; 2.22e−16</text>
<text x="351.7" y="101" font-size="8.5" text-anchor="middle" fill="#231f20" font-weight="normal" stroke="#231f20" stroke-width="0.22" >p &lt; 2.22e−16</text>
<text x="338.7" y="110.8" font-size="8.5" text-anchor="middle" fill="#231f20" font-weight="normal" stroke="#231f20" stroke-width="0.22" >p &lt; 2.22e−16</text>
<rect x="336.6" y="238.5" width="69.3" height="20.7" fill="none" stroke="#444" stroke-width="0.8" stroke-dasharray="1.8,1.2"/>
<text x="371.2" y="247.3" font-size="8.4" text-anchor="middle" fill="#231f20" font-weight="normal" stroke="#231f20" stroke-width="0.22" >Costimulation By</text>
<text x="371.2" y="256.8" font-size="8.4" text-anchor="middle" fill="#231f20" font-weight="normal" stroke="#231f20" stroke-width="0.22" >The CD28 Family</text>
<line x1="459.4" y1="91.7" x2="459.4" y2="188.8" stroke="#231f20" stroke-width="1" />
<line x1="456.8" y1="182.9" x2="459.4" y2="182.9" stroke="#231f20" stroke-width="0.8" />
<text x="455.6" y="185.9" font-size="8.2" text-anchor="end" fill="#231f20" font-weight="normal" stroke="#231f20" stroke-width="0.22" >0</text>
<line x1="456.8" y1="153.4" x2="459.4" y2="153.4" stroke="#231f20" stroke-width="0.8" />
<text x="455.6" y="156.4" font-size="8.2" text-anchor="end" fill="#231f20" font-weight="normal" stroke="#231f20" stroke-width="0.22" >1</text>
<line x1="456.8" y1="124" x2="459.4" y2="124" stroke="#231f20" stroke-width="0.8" />
<text x="455.6" y="127" font-size="8.2" text-anchor="end" fill="#231f20" font-weight="normal" stroke="#231f20" stroke-width="0.22" >2</text>
<line x1="456.8" y1="94.2" x2="459.4" y2="94.2" stroke="#231f20" stroke-width="0.8" />
<text x="455.6" y="97.2" font-size="8.2" text-anchor="end" fill="#231f20" font-weight="normal" stroke="#231f20" stroke-width="0.22" >3</text>
<path d="M474.90,112.00 L474.95,112.77 L474.95,113.53 L474.95,114.30 L474.95,115.07 L474.95,115.83 L474.98,116.60 L475.03,117.37 L475.09,118.13 L475.15,118.90 L475.24,119.67 L475.33,120.43 L475.44,121.20 L475.57,121.97 L475.71,122.73 L475.88,123.50 L476.07,124.27 L476.29,125.03 L476.53,125.80 L476.80,126.57 L477.10,127.33 L477.43,128.10 L477.79,128.87 L478.18,129.63 L478.60,130.40 L479.05,131.17 L479.53,131.93 L480.03,132.70 L480.55,133.47 L481.08,134.23 L481.63,135.00 L482.17,135.77 L482.71,136.53 L483.24,137.30 L483.74,138.07 L484.21,138.83 L484.64,139.60 L485.01,140.37 L485.32,141.13 L485.55,141.90 L485.68,142.67 L485.67,143.43 L485.60,144.20 L485.49,144.97 L485.34,145.73 L485.16,146.50 L484.95,147.27 L484.71,148.03 L484.44,148.80 L484.15,149.57 L483.83,150.33 L483.49,151.10 L483.13,151.87 L482.76,152.63 L482.38,153.40 L482.00,154.17 L481.60,154.93 L481.21,155.70 L480.82,156.47 L480.43,157.23 L480.04,158.00 L479.67,158.77 L479.30,159.53 L478.95,160.30 L478.61,161.07 L478.28,161.83 L477.97,162.60 L477.68,163.37 L477.40,164.13 L477.15,164.90 L476.90,165.67 L476.68,166.43 L476.47,167.20 L476.28,167.97 L476.11,168.73 L475.95,169.50 L475.80,170.27 L475.67,171.03 L475.55,171.80 L475.45,172.57 L475.35,173.33 L475.27,174.10 L475.20,174.87 L475.13,175.63 L475.07,176.40 L475.02,177.17 L474.98,177.93 L474.95,178.70 L474.95,179.47 L474.95,180.23 L474.90,181.00 L474.50,181.00 L474.45,180.23 L474.45,179.47 L474.45,178.70 L474.42,177.93 L474.38,177.17 L474.33,176.40 L474.27,175.63 L474.20,174.87 L474.13,174.10 L474.05,173.33 L473.95,172.57 L473.85,171.80 L473.73,171.03 L473.60,170.27 L473.45,169.50 L473.29,168.73 L473.12,167.97 L472.93,167.20 L472.72,166.43 L472.50,165.67 L472.25,164.90 L472.00,164.13 L471.72,163.37 L471.43,162.60 L471.12,161.83 L470.79,161.07 L470.45,160.30 L470.10,159.53 L469.73,158.77 L469.36,158.00 L468.97,157.23 L468.58,156.47 L468.19,155.70 L467.80,154.93 L467.40,154.17 L467.02,153.40 L466.64,152.63 L466.27,151.87 L465.91,151.10 L465.57,150.33 L465.25,149.57 L464.96,148.80 L464.69,148.03 L464.45,147.27 L464.24,146.50 L464.06,145.73 L463.91,144.97 L463.80,144.20 L463.73,143.43 L463.72,142.67 L463.85,141.90 L464.08,141.13 L464.39,140.37 L464.76,139.60 L465.19,138.83 L465.66,138.07 L466.16,137.30 L466.69,136.53 L467.23,135.77 L467.77,135.00 L468.32,134.23 L468.85,133.47 L469.37,132.70 L469.87,131.93 L470.35,131.17 L470.80,130.40 L471.22,129.63 L471.61,128.87 L471.97,128.10 L472.30,127.33 L472.60,126.57 L472.87,125.80 L473.11,125.03 L473.33,124.27 L473.52,123.50 L473.69,122.73 L473.83,121.97 L473.96,121.20 L474.07,120.43 L474.16,119.67 L474.25,118.90 L474.31,118.13 L474.37,117.37 L474.42,116.60 L474.45,115.83 L474.45,115.07 L474.45,114.30 L474.45,113.53 L474.45,112.77 L474.50,112.00 Z" fill="#4ab4d4"/>
<line x1="474.7" y1="124.7" x2="474.7" y2="173" stroke="#333" stroke-width="0.8" />
<rect x="471.2" y="139.9" width="7" height="14.2" fill="#fff" stroke="#333" stroke-width="0.8"/>
<line x1="471.2" y1="146.5" x2="478.2" y2="146.5" stroke="#333" stroke-width="0.8" />
<path d="M503.30,112.00 L503.35,112.83 L503.35,113.67 L503.35,114.50 L503.35,115.33 L503.35,116.17 L503.35,117.00 L503.35,117.83 L503.35,118.67 L503.35,119.50 L503.40,120.33 L503.46,121.17 L503.52,122.00 L503.60,122.83 L503.70,123.67 L503.81,124.50 L503.94,125.33 L504.10,126.17 L504.28,127.00 L504.48,127.83 L504.71,128.67 L504.98,129.50 L505.28,130.33 L505.61,131.17 L505.98,132.00 L506.39,132.83 L506.84,133.67 L507.33,134.50 L507.85,135.33 L508.41,136.17 L509.01,137.00 L509.63,137.83 L510.27,138.67 L510.93,139.50 L511.60,140.33 L512.26,141.17 L512.92,142.00 L513.56,142.83 L514.17,143.67 L514.73,144.50 L515.24,145.33 L515.68,146.17 L516.04,147.00 L516.31,147.83 L516.47,148.67 L516.46,149.50 L516.36,150.33 L516.20,151.17 L516.00,152.00 L515.75,152.83 L515.47,153.67 L515.15,154.50 L514.79,155.33 L514.41,156.17 L514.00,157.00 L513.57,157.83 L513.13,158.67 L512.67,159.50 L512.20,160.33 L511.73,161.17 L511.25,162.00 L510.78,162.83 L510.31,163.67 L509.84,164.50 L509.39,165.33 L508.95,166.17 L508.52,167.00 L508.11,167.83 L507.71,168.67 L507.34,169.50 L506.98,170.33 L506.64,171.17 L506.32,172.00 L506.02,172.83 L505.74,173.67 L505.48,174.50 L505.24,175.33 L505.02,176.17 L504.82,177.00 L504.63,177.83 L504.46,178.67 L504.31,179.50 L504.17,180.33 L504.04,181.17 L503.93,182.00 L503.83,182.83 L503.74,183.67 L503.66,184.50 L503.59,185.33 L503.52,186.17 L503.30,187.00 L502.90,187.00 L502.68,186.17 L502.61,185.33 L502.54,184.50 L502.46,183.67 L502.37,182.83 L502.27,182.00 L502.16,181.17 L502.03,180.33 L501.89,179.50 L501.74,178.67 L501.57,177.83 L501.38,177.00 L501.18,176.17 L500.96,175.33 L500.72,174.50 L500.46,173.67 L500.18,172.83 L499.88,172.00 L499.56,171.17 L499.22,170.33 L498.86,169.50 L498.49,168.67 L498.09,167.83 L497.68,167.00 L497.25,166.17 L496.81,165.33 L496.36,164.50 L495.89,163.67 L495.42,162.83 L494.95,162.00 L494.47,161.17 L494.00,160.33 L493.53,159.50 L493.07,158.67 L492.63,157.83 L492.20,157.00 L491.79,156.17 L491.41,155.33 L491.05,154.50 L490.73,153.67 L490.45,152.83 L490.20,152.00 L490.00,151.17 L489.84,150.33 L489.74,149.50 L489.73,148.67 L489.89,147.83 L490.16,147.00 L490.52,146.17 L490.96,145.33 L491.47,144.50 L492.03,143.67 L492.64,142.83 L493.28,142.00 L493.94,141.17 L494.60,140.33 L495.27,139.50 L495.93,138.67 L496.57,137.83 L497.19,137.00 L497.79,136.17 L498.35,135.33 L498.87,134.50 L499.36,133.67 L499.81,132.83 L500.22,132.00 L500.59,131.17 L500.92,130.33 L501.22,129.50 L501.49,128.67 L501.72,127.83 L501.92,127.00 L502.10,126.17 L502.26,125.33 L502.39,124.50 L502.50,123.67 L502.60,122.83 L502.68,122.00 L502.74,121.17 L502.80,120.33 L502.85,119.50 L502.85,118.67 L502.85,117.83 L502.85,117.00 L502.85,116.17 L502.85,115.33 L502.85,114.50 L502.85,113.67 L502.85,112.83 L502.90,112.00 Z" fill="#f08b70"/>
<line x1="503.1" y1="126.6" x2="503.1" y2="176.9" stroke="#333" stroke-width="0.8" />
<rect x="499.6" y="145" width="7" height="12.3" fill="#fff" stroke="#333" stroke-width="0.8"/>
<line x1="499.6" y1="150.3" x2="506.6" y2="150.3" stroke="#333" stroke-width="0.8" />
<path d="M532.00,107.00 L532.05,107.88 L532.05,108.76 L532.05,109.63 L532.05,110.51 L532.05,111.39 L532.05,112.27 L532.05,113.14 L532.05,114.02 L532.05,114.90 L532.05,115.78 L532.05,116.66 L532.05,117.53 L532.05,118.41 L532.05,119.29 L532.05,120.17 L532.06,121.04 L532.11,121.92 L532.17,122.80 L532.25,123.68 L532.34,124.56 L532.45,125.43 L532.58,126.31 L532.74,127.19 L532.92,128.07 L533.14,128.94 L533.39,129.82 L533.68,130.70 L534.01,131.58 L534.39,132.46 L534.82,133.33 L535.31,134.21 L535.84,135.09 L536.42,135.97 L537.06,136.84 L537.74,137.72 L538.47,138.60 L539.23,139.48 L540.01,140.36 L540.81,141.23 L541.61,142.11 L542.40,142.99 L543.15,143.87 L543.85,144.74 L544.46,145.62 L544.98,146.50 L545.37,147.38 L545.59,148.26 L545.51,149.13 L545.29,150.01 L544.99,150.89 L544.63,151.77 L544.20,152.64 L543.73,153.52 L543.21,154.40 L542.67,155.28 L542.10,156.16 L541.52,157.03 L540.94,157.91 L540.35,158.79 L539.76,159.67 L539.18,160.54 L538.62,161.42 L538.08,162.30 L537.56,163.18 L537.06,164.06 L536.58,164.93 L536.14,165.81 L535.72,166.69 L535.33,167.57 L534.96,168.44 L534.63,169.32 L534.32,170.20 L534.04,171.08 L533.78,171.96 L533.55,172.83 L533.34,173.71 L533.15,174.59 L532.98,175.47 L532.83,176.34 L532.70,177.22 L532.58,178.10 L532.47,178.98 L532.38,179.86 L532.30,180.73 L532.23,181.61 L532.17,182.49 L532.12,183.37 L532.07,184.24 L532.05,185.12 L532.00,186.00 L531.60,186.00 L531.55,185.12 L531.53,184.24 L531.48,183.37 L531.43,182.49 L531.37,181.61 L531.30,180.73 L531.22,179.86 L531.13,178.98 L531.02,178.10 L530.90,177.22 L530.77,176.34 L530.62,175.47 L530.45,174.59 L530.26,173.71 L530.05,172.83 L529.82,171.96 L529.56,171.08 L529.28,170.20 L528.97,169.32 L528.64,168.44 L528.27,167.57 L527.88,166.69 L527.46,165.81 L527.02,164.93 L526.54,164.06 L526.04,163.18 L525.52,162.30 L524.98,161.42 L524.42,160.54 L523.84,159.67 L523.25,158.79 L522.66,157.91 L522.08,157.03 L521.50,156.16 L520.93,155.28 L520.39,154.40 L519.87,153.52 L519.40,152.64 L518.97,151.77 L518.61,150.89 L518.31,150.01 L518.09,149.13 L518.01,148.26 L518.23,147.38 L518.62,146.50 L519.14,145.62 L519.75,144.74 L520.45,143.87 L521.20,142.99 L521.99,142.11 L522.79,141.23 L523.59,140.36 L524.37,139.48 L525.13,138.60 L525.86,137.72 L526.54,136.84 L527.18,135.97 L527.76,135.09 L528.29,134.21 L528.78,133.33 L529.21,132.46 L529.59,131.58 L529.92,130.70 L530.21,129.82 L530.46,128.94 L530.68,128.07 L530.86,127.19 L531.02,126.31 L531.15,125.43 L531.26,124.56 L531.35,123.68 L531.43,122.80 L531.49,121.92 L531.54,121.04 L531.55,120.17 L531.55,119.29 L531.55,118.41 L531.55,117.53 L531.55,116.66 L531.55,115.78 L531.55,114.90 L531.55,114.02 L531.55,113.14 L531.55,112.27 L531.55,111.39 L531.55,110.51 L531.55,109.63 L531.55,108.76 L531.55,107.88 L531.60,107.00 Z" fill="#7b87b4"/>
<line x1="531.8" y1="127.5" x2="531.8" y2="174" stroke="#333" stroke-width="0.8" />
<rect x="528.3" y="145" width="7" height="11.9" fill="#fff" stroke="#333" stroke-width="0.8"/>
<line x1="528.3" y1="149.7" x2="535.3" y2="149.7" stroke="#333" stroke-width="0.8" />
<path d="M560.30,108.00 L560.35,108.87 L560.35,109.73 L560.35,110.60 L560.35,111.47 L560.35,112.33 L560.35,113.20 L560.35,114.07 L560.35,114.93 L560.35,115.80 L560.36,116.67 L560.40,117.53 L560.46,118.40 L560.52,119.27 L560.59,120.13 L560.68,121.00 L560.77,121.87 L560.88,122.73 L561.01,123.60 L561.15,124.47 L561.31,125.33 L561.50,126.20 L561.70,127.07 L561.92,127.93 L562.17,128.80 L562.44,129.67 L562.74,130.53 L563.06,131.40 L563.41,132.27 L563.78,133.13 L564.17,134.00 L564.59,134.87 L565.03,135.73 L565.48,136.60 L565.95,137.47 L566.43,138.33 L566.92,139.20 L567.40,140.07 L567.89,140.93 L568.36,141.80 L568.82,142.67 L569.26,143.53 L569.66,144.40 L570.03,145.27 L570.36,146.13 L570.64,147.00 L570.86,147.87 L571.02,148.73 L571.10,149.60 L571.06,150.47 L571.00,151.33 L570.92,152.20 L570.80,153.07 L570.66,153.93 L570.47,154.80 L570.25,155.67 L569.99,156.53 L569.70,157.40 L569.36,158.27 L569.00,159.13 L568.61,160.00 L568.19,160.87 L567.75,161.73 L567.29,162.60 L566.82,163.47 L566.34,164.33 L565.87,165.20 L565.39,166.07 L564.92,166.93 L564.47,167.80 L564.03,168.67 L563.61,169.53 L563.22,170.40 L562.85,171.27 L562.51,172.13 L562.19,173.00 L561.91,173.87 L561.65,174.73 L561.42,175.60 L561.22,176.47 L561.04,177.33 L560.89,178.20 L560.75,179.07 L560.64,179.93 L560.54,180.80 L560.46,181.67 L560.39,182.53 L560.35,183.40 L560.35,184.27 L560.35,185.13 L560.30,186.00 L559.90,186.00 L559.85,185.13 L559.85,184.27 L559.85,183.40 L559.81,182.53 L559.74,181.67 L559.66,180.80 L559.56,179.93 L559.45,179.07 L559.31,178.20 L559.16,177.33 L558.98,176.47 L558.78,175.60 L558.55,174.73 L558.29,173.87 L558.01,173.00 L557.69,172.13 L557.35,171.27 L556.98,170.40 L556.59,169.53 L556.17,168.67 L555.73,167.80 L555.28,166.93 L554.81,166.07 L554.33,165.20 L553.86,164.33 L553.38,163.47 L552.91,162.60 L552.45,161.73 L552.01,160.87 L551.59,160.00 L551.20,159.13 L550.84,158.27 L550.50,157.40 L550.21,156.53 L549.95,155.67 L549.73,154.80 L549.54,153.93 L549.40,153.07 L549.28,152.20 L549.20,151.33 L549.14,150.47 L549.10,149.60 L549.18,148.73 L549.34,147.87 L549.56,147.00 L549.84,146.13 L550.17,145.27 L550.54,144.40 L550.94,143.53 L551.38,142.67 L551.84,141.80 L552.31,140.93 L552.80,140.07 L553.28,139.20 L553.77,138.33 L554.25,137.47 L554.72,136.60 L555.17,135.73 L555.61,134.87 L556.03,134.00 L556.42,133.13 L556.79,132.27 L557.14,131.40 L557.46,130.53 L557.76,129.67 L558.03,128.80 L558.28,127.93 L558.50,127.07 L558.70,126.20 L558.89,125.33 L559.05,124.47 L559.19,123.60 L559.32,122.73 L559.43,121.87 L559.52,121.00 L559.61,120.13 L559.68,119.27 L559.74,118.40 L559.80,117.53 L559.84,116.67 L559.85,115.80 L559.85,114.93 L559.85,114.07 L559.85,113.20 L559.85,112.33 L559.85,111.47 L559.85,110.60 L559.85,109.73 L559.85,108.87 L559.90,108.00 Z" fill="#88ccb6"/>
<line x1="560.1" y1="122.8" x2="560.1" y2="175" stroke="#333" stroke-width="0.8" />
<rect x="556.6" y="143.7" width="7" height="13.6" fill="#fff" stroke="#333" stroke-width="0.8"/>
<line x1="556.6" y1="150.9" x2="563.6" y2="150.9" stroke="#333" stroke-width="0.8" />
<rect x="460.5" y="189.2" width="28.5" height="8.4" fill="#4ab4d4" />
<text x="474.75" y="196.5" font-size="8.4" text-anchor="middle" fill="#fff" font-weight="bold" >LAR</text>
<rect x="489" y="189.2" width="28.5" height="8.4" fill="#f08b70" />
<text x="503.25" y="196.5" font-size="8.4" text-anchor="middle" fill="#fff" font-weight="bold" >SMSR</text>
<rect x="517.5" y="189.2" width="28.5" height="8.4" fill="#7b87b4" />
<text x="531.75" y="196.5" font-size="8.4" text-anchor="middle" fill="#fff" font-weight="bold" >ICR</text>
<rect x="546" y="189.2" width="28.5" height="8.4" fill="#88ccb6" />
<text x="560.25" y="196.5" font-size="8.4" text-anchor="middle" fill="#fff" font-weight="bold" >NCR</text>
<line x1="459.4" y1="199" x2="459.4" y2="236.3" stroke="#231f20" stroke-width="1" />
<line x1="456.8" y1="200" x2="459.4" y2="200" stroke="#231f20" stroke-width="0.8" />
<text x="455.6" y="203" font-size="8.2" text-anchor="end" fill="#231f20" font-weight="normal" stroke="#231f20" stroke-width="0.22" >0.0</text>
<line x1="456.8" y1="213.3" x2="459.4" y2="213.3" stroke="#231f20" stroke-width="0.8" />
<text x="455.6" y="216.3" font-size="8.2" text-anchor="end" fill="#231f20" font-weight="normal" stroke="#231f20" stroke-width="0.22" >0.1</text>
<line x1="456.8" y1="226.6" x2="459.4" y2="226.6" stroke="#231f20" stroke-width="0.8" />
<text x="455.6" y="229.6" font-size="8.2" text-anchor="end" fill="#231f20" font-weight="normal" stroke="#231f20" stroke-width="0.22" >0.2</text>
<rect x="468.1" y="200" width="13.4" height="34.8" fill="#4ab4d4" />
<rect x="496" y="200" width="14.2" height="13.2" fill="#f08b70" />
<rect x="524.6" y="200" width="14.2" height="12.1" fill="#7b87b4" />
<rect x="553" y="200" width="13.9" height="21.3" fill="#88ccb6" />
<path d="M474.7,94.6 V92.4 H560.1 V94.6" fill="none" stroke="#333" stroke-width="0.8"/>
<path d="M474.7,102.7 V100.5 H531.8 V102.7" fill="none" stroke="#333" stroke-width="0.8"/>
<path d="M474.7,111.4 V109.2 H503.1 V111.4" fill="none" stroke="#333" stroke-width="0.8"/>
<text x="517.5" y="90.8" font-size="8.5" text-anchor="middle" fill="#231f20" font-weight="normal" stroke="#231f20" stroke-width="0.22" >5.8e−11</text>
<text x="503" y="99.8" font-size="8.5" text-anchor="middle" fill="#231f20" font-weight="normal" stroke="#231f20" stroke-width="0.22" >9.4e−14</text>
<text x="489.5" y="108.2" font-size="8.5" text-anchor="middle" fill="#231f20" font-weight="normal" stroke="#231f20" stroke-width="0.22" >6.3e−16</text>
<rect x="483.2" y="238.5" width="79.4" height="20.7" fill="none" stroke="#444" stroke-width="0.8" stroke-dasharray="1.8,1.2"/>
<text x="522.9" y="247.3" font-size="8.4" text-anchor="middle" fill="#231f20" font-weight="normal" stroke="#231f20" stroke-width="0.22" >Antigen Processing</text>
<text x="522.9" y="256.8" font-size="8.4" text-anchor="middle" fill="#231f20" font-weight="normal" stroke="#231f20" stroke-width="0.22" >Cross Presentation</text>
<text x="114.2" y="293.4" font-size="16" text-anchor="start" fill="#000" font-weight="bold" >d</text>
<line x1="153.6" y1="286.5" x2="153.6" y2="424.3" stroke="#231f20" stroke-width="0.9" />
<line x1="153.15" y1="424.3" x2="300.5" y2="424.3" stroke="#231f20" stroke-width="0.9" />
<line x1="151" y1="288.6" x2="153.6" y2="288.6" stroke="#231f20" stroke-width="0.8" />
<text x="149.6" y="291.6" font-size="8.2" text-anchor="end" fill="#4a4a4a" font-weight="normal" stroke="#4a4a4a" stroke-width="0.22" >0.2</text>
<line x1="151" y1="325.9" x2="153.6" y2="325.9" stroke="#231f20" stroke-width="0.8" />
<text x="149.6" y="328.9" font-size="8.2" text-anchor="end" fill="#4a4a4a" font-weight="normal" stroke="#4a4a4a" stroke-width="0.22" >0.1</text>
<line x1="151" y1="363.4" x2="153.6" y2="363.4" stroke="#231f20" stroke-width="0.8" />
<text x="149.6" y="366.4" font-size="8.2" text-anchor="end" fill="#4a4a4a" font-weight="normal" stroke="#4a4a4a" stroke-width="0.22" >0.0</text>
<line x1="151" y1="401.1" x2="153.6" y2="401.1" stroke="#231f20" stroke-width="0.8" />
<text x="149.6" y="404.1" font-size="8.2" text-anchor="end" fill="#4a4a4a" font-weight="normal" stroke="#4a4a4a" stroke-width="0.22" >0.1</text>
<text x="0" y="0" font-size="8.4" text-anchor="middle" fill="#231f20" font-weight="normal" stroke="#231f20" stroke-width="0.22" transform="translate(125.4,326.3) rotate(-90)">TCR</text>
<text x="0" y="0" font-size="8.4" text-anchor="middle" fill="#231f20" font-weight="normal" stroke="#231f20" stroke-width="0.22" transform="translate(134.4,326.3) rotate(-90)">Signalling</text>
<text x="0" y="0" font-size="8.4" text-anchor="middle" fill="#231f20" font-weight="normal" stroke="#231f20" stroke-width="0.22" transform="translate(125.4,400.6) rotate(-90)">Proliferation</text>
<text x="0" y="0" font-size="8.4" text-anchor="middle" fill="#231f20" font-weight="normal" stroke="#231f20" stroke-width="0.22" transform="translate(134.4,400.6) rotate(-90)">Signalling</text>
<line x1="159.9" y1="293.1" x2="159.9" y2="416.8" stroke="#3a5595" stroke-width="2.6" />
<line x1="170.9" y1="293.1" x2="170.9" y2="402.8" stroke="#3a5595" stroke-width="2.6" />
<line x1="182.1" y1="319.4" x2="182.1" y2="363.4" stroke="#3a5595" stroke-width="2.6" />
<line x1="182.1" y1="363.4" x2="182.1" y2="381.3" stroke="#1fa58a" stroke-width="2.6" />
<line x1="193.1" y1="319.7" x2="193.1" y2="363.4" stroke="#3a5595" stroke-width="2.6" />
<line x1="193.1" y1="363.4" x2="193.1" y2="367.3" stroke="#1fa58a" stroke-width="2.6" />
<line x1="204.3" y1="325.5" x2="204.3" y2="363.4" stroke="#3a5595" stroke-width="2.6" />
<line x1="204.3" y1="363.4" x2="204.3" y2="384" stroke="#1fa58a" stroke-width="2.6" />
<line x1="215.3" y1="328.9" x2="215.3" y2="363.4" stroke="#3a5595" stroke-width="2.6" />
<line x1="215.3" y1="363.4" x2="215.3" y2="382.4" stroke="#1fa58a" stroke-width="2.6" />
<line x1="226.6" y1="331" x2="226.6" y2="363.4" stroke="#3a5595" stroke-width="2.6" />
<line x1="226.6" y1="363.4" x2="226.6" y2="373" stroke="#1fa58a" stroke-width="2.6" />
<line x1="237.6" y1="343" x2="237.6" y2="363.4" stroke="#3a5595" stroke-width="2.6" />
<line x1="237.6" y1="363.4" x2="237.6" y2="380.9" stroke="#1fa58a" stroke-width="2.6" />
<line x1="248.9" y1="348.9" x2="248.9" y2="373.2" stroke="#1fa58a" stroke-width="2.6" />
<line x1="259.9" y1="355.5" x2="259.9" y2="383.5" stroke="#1fa58a" stroke-width="2.6" />
<line x1="271.1" y1="357.3" x2="271.1" y2="418.6" stroke="#1fa58a" stroke-width="2.6" />
<line x1="282.1" y1="358.2" x2="282.1" y2="374.8" stroke="#1fa58a" stroke-width="2.6" />
<line x1="293.4" y1="361.8" x2="293.4" y2="385.3" stroke="#1fa58a" stroke-width="2.6" />
<line x1="153.6" y1="363.4" x2="300.5" y2="363.4" stroke="#222" stroke-width="0.8" stroke-dasharray="1.6,1.2"/>
<circle cx="159.9" cy="293.1" r="3.7" fill="#ec6f66" stroke="#777" stroke-width="0.5" />
<circle cx="159.9" cy="416.8" r="3.7" fill="#f0968c" stroke="#777" stroke-width="0.5" />
<circle cx="170.9" cy="293.1" r="3.7" fill="#ec6f66" stroke="#777" stroke-width="0.5" />
<circle cx="170.9" cy="402.8" r="3.7" fill="#f7c4be" stroke="#777" stroke-width="0.5" />
<circle cx="182.1" cy="319.4" r="3.7" fill="#f7c3bd" stroke="#777" stroke-width="0.5" />
<circle cx="182.1" cy="381.3" r="3.7" fill="#fde3e0" stroke="#777" stroke-width="0.5" />
<circle cx="193.1" cy="319.7" r="3.7" fill="#f7c3bd" stroke="#777" stroke-width="0.5" />
<circle cx="193.1" cy="367.3" r="3.7" fill="#fffdfd" stroke="#777" stroke-width="0.5" />
<circle cx="204.3" cy="325.5" r="3.7" fill="#f8c9c3" stroke="#777" stroke-width="0.5" />
<circle cx="204.3" cy="384" r="3.7" fill="#fde0dc" stroke="#777" stroke-width="0.5" />
<circle cx="215.3" cy="328.9" r="3.7" fill="#f8cbc5" stroke="#777" stroke-width="0.5" />
<circle cx="215.3" cy="382.4" r="3.7" fill="#fde1dd" stroke="#777" stroke-width="0.5" />
<circle cx="226.6" cy="331" r="3.7" fill="#f8ccc6" stroke="#777" stroke-width="0.5" />
<circle cx="226.6" cy="373" r="3.7" fill="#fff3f1" stroke="#777" stroke-width="0.5" />
<circle cx="237.6" cy="343" r="3.7" fill="#fbdcd8" stroke="#777" stroke-width="0.5" />
<circle cx="237.6" cy="380.9" r="3.7" fill="#fde3e0" stroke="#777" stroke-width="0.5" />
<circle cx="248.9" cy="348.9" r="3.7" fill="#fce3e0" stroke="#777" stroke-width="0.5" />
<circle cx="248.9" cy="373.2" r="3.7" fill="#fde7e4" stroke="#777" stroke-width="0.5" />
<circle cx="259.9" cy="355.5" r="3.7" fill="#fff4f3" stroke="#777" stroke-width="0.5" />
<circle cx="259.9" cy="383.5" r="3.7" fill="#fbd9d5" stroke="#777" stroke-width="0.5" />
<circle cx="271.1" cy="357.3" r="3.7" fill="#fff5f4" stroke="#777" stroke-width="0.5" />
<circle cx="271.1" cy="418.6" r="3.7" fill="#ee8278" stroke="#777" stroke-width="0.5" />
<circle cx="282.1" cy="358.2" r="3.7" fill="#fff5f4" stroke="#777" stroke-width="0.5" />
<circle cx="282.1" cy="374.8" r="3.7" fill="#fde6e3" stroke="#777" stroke-width="0.5" />
<circle cx="293.4" cy="361.8" r="3.7" fill="#fffafa" stroke="#777" stroke-width="0.5" />
<circle cx="293.4" cy="385.3" r="3.7" fill="#fbd7d2" stroke="#777" stroke-width="0.5" />
<line x1="159.9" y1="424.3" x2="159.9" y2="426.7" stroke="#231f20" stroke-width="0.8" />
<line x1="170.9" y1="424.3" x2="170.9" y2="426.7" stroke="#231f20" stroke-width="0.8" />
<line x1="182.1" y1="424.3" x2="182.1" y2="426.7" stroke="#231f20" stroke-width="0.8" />
<line x1="193.1" y1="424.3" x2="193.1" y2="426.7" stroke="#231f20" stroke-width="0.8" />
<line x1="204.3" y1="424.3" x2="204.3" y2="426.7" stroke="#231f20" stroke-width="0.8" />
<line x1="215.3" y1="424.3" x2="215.3" y2="426.7" stroke="#231f20" stroke-width="0.8" />
<line x1="226.6" y1="424.3" x2="226.6" y2="426.7" stroke="#231f20" stroke-width="0.8" />
<line x1="237.6" y1="424.3" x2="237.6" y2="426.7" stroke="#231f20" stroke-width="0.8" />
<line x1="248.9" y1="424.3" x2="248.9" y2="426.7" stroke="#231f20" stroke-width="0.8" />
<line x1="259.9" y1="424.3" x2="259.9" y2="426.7" stroke="#231f20" stroke-width="0.8" />
<line x1="271.1" y1="424.3" x2="271.1" y2="426.7" stroke="#231f20" stroke-width="0.8" />
<line x1="282.1" y1="424.3" x2="282.1" y2="426.7" stroke="#231f20" stroke-width="0.8" />
<line x1="293.4" y1="424.3" x2="293.4" y2="426.7" stroke="#231f20" stroke-width="0.8" />
<text x="0" y="0" font-size="8.4" text-anchor="end" fill="#e8262b" font-weight="normal" stroke="#e8262b" stroke-width="0.22" transform="translate(164.5,432.9) rotate(-45)">CD4−Tem−GZMK</text>
<text x="0" y="0" font-size="8.4" text-anchor="end" fill="#e8262b" font-weight="normal" stroke="#e8262b" stroke-width="0.22" transform="translate(175.5,432.9) rotate(-45)">CD8−Tn−CCR7</text>
<text x="0" y="0" font-size="8.4" text-anchor="end" fill="#231f20" font-weight="normal" stroke="#231f20" stroke-width="0.22" transform="translate(186.7,432.9) rotate(-45)">CD4−Tn−CCR7</text>
<text x="0" y="0" font-size="8.4" text-anchor="end" fill="#231f20" font-weight="normal" stroke="#231f20" stroke-width="0.22" transform="translate(197.7,432.9) rotate(-45)">CD8−Tex−LAYN</text>
<text x="0" y="0" font-size="8.4" text-anchor="end" fill="#231f20" font-weight="normal" stroke="#231f20" stroke-width="0.22" transform="translate(208.9,432.9) rotate(-45)">CD8−Tem−GZMK</text>
<text x="0" y="0" font-size="8.4" text-anchor="end" fill="#231f20" font-weight="normal" stroke="#231f20" stroke-width="0.22" transform="translate(219.9,432.9) rotate(-45)">CD4−Tfh−CXCR5</text>
<text x="0" y="0" font-size="8.4" text-anchor="end" fill="#231f20" font-weight="normal" stroke="#231f20" stroke-width="0.22" transform="translate(231.2,432.9) rotate(-45)">CD4−Th17−IL17A</text>
<text x="0" y="0" font-size="8.4" text-anchor="end" fill="#231f20" font-weight="normal" stroke="#231f20" stroke-width="0.22" transform="translate(242.2,432.9) rotate(-45)">CD8−Tcm−GPR183</text>
<text x="0" y="0" font-size="8.4" text-anchor="end" fill="#231f20" font-weight="normal" stroke="#231f20" stroke-width="0.22" transform="translate(253.5,432.9) rotate(-45)">CD4−Tm−ZNF331</text>
<text x="0" y="0" font-size="8.4" text-anchor="end" fill="#231f20" font-weight="normal" stroke="#231f20" stroke-width="0.22" transform="translate(264.5,432.9) rotate(-45)">CD8−Temra−CX3CR1</text>
<text x="0" y="0" font-size="8.4" text-anchor="end" fill="#231f20" font-weight="normal" stroke="#231f20" stroke-width="0.22" transform="translate(275.7,432.9) rotate(-45)">CD8−Trm−ZNF683</text>
<text x="0" y="0" font-size="8.4" text-anchor="end" fill="#231f20" font-weight="normal" stroke="#231f20" stroke-width="0.22" transform="translate(286.7,432.9) rotate(-45)">CD4−Treg−FOXP3</text>
<text x="0" y="0" font-size="8.4" text-anchor="end" fill="#231f20" font-weight="normal" stroke="#231f20" stroke-width="0.22" transform="translate(298,432.9) rotate(-45)">CD8−MAIT−SLC4A10</text>
<rect x="204.7" y="286.1" width="95.6" height="17.5" fill="none" stroke="#555" stroke-width="0.7" stroke-dasharray="1.2,1.0"/>
<text x="209" y="297.8" font-size="8.4" text-anchor="start" fill="#231f20" font-weight="normal" stroke="#231f20" stroke-width="0.22" >−log10(<tspan font-style="italic">P</tspan>adj)</text>
<defs><linearGradient id="gd" x1="0" x2="1" y1="0" y2="0"><stop offset="0" stop-color="#ec6a62"/><stop offset="1" stop-color="#ec6a62" stop-opacity="0"/></linearGradient></defs>
<rect x="262.8" y="294.9" width="33.5" height="6.5" fill="url(#gd)" />
<text x="279" y="293.5" font-size="8.4" text-anchor="middle" fill="#231f20" font-weight="normal" stroke="#231f20" stroke-width="0.22" >4 3 2 1</text>
<rect x="257.3" y="308.0" width="42.9" height="36.1" fill="none" stroke="#555" stroke-width="0.7" stroke-dasharray="1.2,1.0"/>
<text x="278.6" y="316.1" font-size="8.4" text-anchor="middle" fill="#231f20" font-weight="normal" stroke="#231f20" stroke-width="0.22" >Pearson</text>
<text x="278.6" y="324.2" font-size="8.4" text-anchor="middle" fill="#231f20" font-weight="normal" stroke="#231f20" stroke-width="0.22" >Coefficient</text>
<rect x="259.5" y="329.9" width="3.3" height="3.3" fill="#3a5595" />
<text x="264" y="334.4" font-size="8.4" text-anchor="start" fill="#231f20" font-weight="normal" stroke="#231f20" stroke-width="0.22" >Positive</text>
<rect x="259.5" y="336.9" width="3.3" height="3.3" fill="#1fa58a" />
<text x="264" y="341.6" font-size="8.4" text-anchor="start" fill="#231f20" font-weight="normal" stroke="#231f20" stroke-width="0.22" >Negative</text>
<text x="324.6" y="293.6" font-size="16" text-anchor="start" fill="#000" font-weight="bold" >e</text>
<rect x="349.4" y="286.6" width="98.6" height="10.9" fill="#c6cee9" />
<text x="398.7" y="295.3" font-size="8.4" text-anchor="middle" fill="#231f20" font-weight="normal" stroke="#231f20" stroke-width="0.22" >TCR Signaling</text>
<rect x="478.6" y="286.6" width="98" height="11.4" fill="#b8e0cc" />
<text x="527.6" y="295.5" font-size="8.4" text-anchor="middle" fill="#231f20" font-weight="normal" stroke="#231f20" stroke-width="0.22" >Proliferation Signaling</text>
<path d="M351.2 380.4v2.4M351.4 380.4v2.4M351.7 380.4v2.4M352.5 380.4v2.4M351.2 380.4v2.4M351.6 380.4v2.4M352.4 380.4v2.4M352.3 380.4v2.4M351.3 380.4v2.4M351.1 380.4v2.4M353.7 380.4v2.4M351.5 380.4v2.4M351.1 380.4v2.4M351.3 380.4v2.4M351.4 380.4v2.4M351.3 380.4v2.4M351.4 380.4v2.4M351.1 380.4v2.4M352.0 380.4v2.4M351.3 380.4v2.4M351.2 380.4v2.4M352.2 380.4v2.4M353.6 380.4v2.4M352.1 380.4v2.4M351.4 380.4v2.4M352.8 380.4v2.4M351.7 380.4v2.4M351.4 380.4v2.4M352.6 380.4v2.4M351.8 380.4v2.4M352.2 380.4v2.4M351.6 380.4v2.4M351.8 380.4v2.4M351.6 380.4v2.4M351.7 380.4v2.4M352.2 380.4v2.4M354.8 380.4v2.4M351.3 380.4v2.4M351.7 380.4v2.4M351.8 380.4v2.4M352.9 380.4v2.4M353.9 380.4v2.4M351.9 380.4v2.4M351.8 380.4v2.4M354.0 380.4v2.4M352.7 380.4v2.4M353.1 380.4v2.4M351.8 380.4v2.4M351.9 380.4v2.4M353.0 380.4v2.4M351.9 380.4v2.4M351.7 380.4v2.4M351.5 380.4v2.4M352.0 380.4v2.4M352.0 380.4v2.4M351.3 380.4v2.4M351.3 380.4v2.4M352.6 380.4v2.4M352.6 380.4v2.4M352.8 380.4v2.4M352.1 380.4v2.4M351.1 380.4v2.4M352.4 380.4v2.4M352.0 380.4v2.4M351.5 380.4v2.4M351.8 380.4v2.4M351.3 380.4v2.4M351.7 380.4v2.4M351.5 380.4v2.4M351.6 380.4v2.4M351.6 380.4v2.4M353.2 380.4v2.4M351.8 380.4v2.4M352.7 380.4v2.4M351.1 380.4v2.4M352.3 380.4v2.4M351.3 380.4v2.4M351.8 380.4v2.4M351.3 380.4v2.4M351.8 380.4v2.4M351.3 380.4v2.4M351.9 380.4v2.4M351.5 380.4v2.4M351.4 380.4v2.4M354.2 380.4v2.4M352.9 380.4v2.4M351.4 380.4v2.4M351.6 380.4v2.4M351.4 380.4v2.4M351.1 380.4v2.4M351.9 380.4v2.4M351.3 380.4v2.4M352.2 380.4v2.4M351.8 380.4v2.4M351.3 380.4v2.4M352.1 380.4v2.4M351.2 380.4v2.4M352.1 380.4v2.4M351.5 380.4v2.4M353.0 380.4v2.4M351.3 380.4v2.4M351.5 380.4v2.4M351.5 380.4v2.4M351.3 380.4v2.4M353.6 380.4v2.4M351.5 380.4v2.4M351.7 380.4v2.4M355.0 380.4v2.4M351.2 380.4v2.4M351.3 380.4v2.4M352.4 380.4v2.4M351.9 380.4v2.4M351.5 380.4v2.4M351.4 380.4v2.4M353.9 380.4v2.4M353.1 380.4v2.4M351.2 380.4v2.4M351.1 380.4v2.4M352.5 380.4v2.4M352.7 380.4v2.4M352.5 380.4v2.4M351.5 380.4v2.4M351.2 380.4v2.4M351.4 380.4v2.4M353.5 380.4v2.4M351.7 380.4v2.4M352.7 380.4v2.4M351.1 380.4v2.4M351.2 380.4v2.4M353.1 380.4v2.4M355.1 380.4v2.4M351.6 380.4v2.4M351.4 380.4v2.4M352.3 380.4v2.4M351.5 380.4v2.4M354.3 380.4v2.4M351.4 380.4v2.4M351.7 380.4v2.4M351.1 380.4v2.4M351.1 380.4v2.4M351.9 380.4v2.4M351.7 380.4v2.4M353.3 380.4v2.4M354.3 380.4v2.4M351.3 380.4v2.4M352.0 380.4v2.4M352.2 380.4v2.4M352.1 380.4v2.4M351.4 380.4v2.4M351.4 380.4v2.4M354.8 380.4v2.4M351.7 380.4v2.4M353.7 380.4v2.4M351.6 380.4v2.4M351.5 380.4v2.4M352.8 380.4v2.4M351.5 380.4v2.4M351.8 380.4v2.4M351.4 380.4v2.4M351.1 380.4v2.4M351.8 380.4v2.4M351.2 380.4v2.4M351.4 380.4v2.4M352.5 380.4v2.4M351.3 380.4v2.4M351.7 380.4v2.4M353.8 380.4v2.4M351.3 380.4v2.4M352.7 380.4v2.4M351.8 380.4v2.4M353.4 380.4v2.4M351.2 380.4v2.4M351.5 380.4v2.4M353.2 380.4v2.4M352.8 380.4v2.4M352.4 380.4v2.4M351.6 380.4v2.4M351.3 380.4v2.4M351.4 380.4v2.4M351.2 380.4v2.4M351.8 380.4v2.4M351.8 380.4v2.4M351.6 380.4v2.4M351.5 380.4v2.4M352.1 380.4v2.4M351.6 380.4v2.4M351.5 380.4v2.4M351.2 380.4v2.4M352.7 380.4v2.4M351.6 380.4v2.4M351.4 380.4v2.4M351.1 380.4v2.4M352.1 380.4v2.4M351.6 380.4v2.4M351.4 380.4v2.4M351.7 380.4v2.4M351.6 380.4v2.4M351.9 380.4v2.4M351.4 380.4v2.4M352.1 380.4v2.4M351.8 380.4v2.4M353.0 380.4v2.4M353.1 380.4v2.4M351.4 380.4v2.4M351.5 380.4v2.4M352.2 380.4v2.4M352.9 380.4v2.4M353.2 380.4v2.4M351.3 380.4v2.4M351.4 380.4v2.4M352.4 380.4v2.4M351.2 380.4v2.4M351.5 380.4v2.4M351.8 380.4v2.4M351.1 380.4v2.4M354.7 380.4v2.4M351.4 380.4v2.4M353.3 380.4v2.4M352.5 380.4v2.4M352.8 380.4v2.4M351.6 380.4v2.4M353.5 380.4v2.4M352.6 380.4v2.4M351.6 380.4v2.4M351.2 380.4v2.4M353.3 380.4v2.4M351.9 380.4v2.4M351.6 380.4v2.4M351.4 380.4v2.4M352.4 380.4v2.4M351.6 380.4v2.4M351.1 380.4v2.4M352.7 380.4v2.4M351.3 380.4v2.4M351.4 380.4v2.4M351.9 380.4v2.4M352.5 380.4v2.4M352.6 380.4v2.4M351.7 380.4v2.4M352.9 380.4v2.4M351.5 380.4v2.4M351.4 380.4v2.4M351.2 380.4v2.4M352.4 380.4v2.4M352.4 380.4v2.4M354.4 380.4v2.4M351.9 380.4v2.4M351.4 380.4v2.4M351.8 380.4v2.4M351.1 380.4v2.4M351.4 380.4v2.4M351.6 380.4v2.4M351.7 380.4v2.4M352.1 380.4v2.4M351.1 380.4v2.4M351.4 380.4v2.4M352.7 380.4v2.4M351.8 380.4v2.4M352.7 380.4v2.4M351.6 380.4v2.4M351.4 380.4v2.4M351.8 380.4v2.4M351.5 380.4v2.4M351.6 380.4v2.4M351.6 380.4v2.4M352.3 380.4v2.4M353.2 380.4v2.4M352.4 380.4v2.4M352.0 380.4v2.4M351.6 380.4v2.4M352.0 380.4v2.4M352.5 380.4v2.4M352.8 380.4v2.4M352.0 380.4v2.4M351.5 380.4v2.4M353.0 380.4v2.4M351.8 380.4v2.4M351.7 380.4v2.4M351.7 380.4v2.4M352.4 380.4v2.4M351.6 380.4v2.4M351.1 380.4v2.4M351.8 380.4v2.4M351.6 380.4v2.4M352.2 380.4v2.4M351.3 380.4v2.4M353.1 380.4v2.4M352.7 380.4v2.4M351.8 380.4v2.4M352.3 380.4v2.4M351.3 380.4v2.4M352.6 380.4v2.4M351.4 380.4v2.4M351.9 380.4v2.4M351.3 380.4v2.4M351.5 380.4v2.4M351.3 380.4v2.4M352.8 380.4v2.4M351.1 380.4v2.4M351.5 380.4v2.4M351.6 380.4v2.4M351.3 380.4v2.4M352.0 380.4v2.4M351.6 380.4v2.4M352.0 380.4v2.4M351.4 380.4v2.4M351.2 380.4v2.4M352.3 380.4v2.4M351.4 380.4v2.4M352.3 380.4v2.4M351.2 380.4v2.4M351.6 380.4v2.4M351.3 380.4v2.4M351.2 380.4v2.4M351.3 380.4v2.4M351.1 380.4v2.4M354.1 380.4v2.4M352.0 380.4v2.4M351.2 380.4v2.4M352.2 380.4v2.4M351.7 380.4v2.4M351.5 380.4v2.4M352.7 380.4v2.4M351.7 380.4v2.4M352.3 380.4v2.4M351.5 380.4v2.4M355.8 380.4v2.4M351.2 380.4v2.4M351.5 380.4v2.4M351.5 380.4v2.4M351.6 380.4v2.4M353.0 380.4v2.4M353.3 380.4v2.4M351.1 380.4v2.4M351.2 380.4v2.4M351.5 380.4v2.4M352.8 380.4v2.4M353.3 380.4v2.4M352.8 380.4v2.4M351.2 380.4v2.4M351.2 380.4v2.4M351.1 380.4v2.4M352.2 380.4v2.4M352.8 380.4v2.4M352.0 380.4v2.4M354.3 380.4v2.4M351.2 380.4v2.4M353.6 380.4v2.4M352.0 380.4v2.4M351.9 380.4v2.4M351.5 380.4v2.4M351.6 380.4v2.4M351.6 380.4v2.4M352.3 380.4v2.4M352.3 380.4v2.4M354.5 380.4v2.4M351.3 380.4v2.4M352.8 380.4v2.4M351.2 380.4v2.4M351.7 380.4v2.4M351.5 380.4v2.4M351.8 380.4v2.4M351.6 380.4v2.4M352.2 380.4v2.4M353.1 380.4v2.4M351.2 380.4v2.4M352.6 380.4v2.4M351.6 380.4v2.4M352.3 380.4v2.4M352.5 380.4v2.4M352.6 380.4v2.4M351.6 380.4v2.4M351.4 380.4v2.4M351.5 380.4v2.4M352.5 380.4v2.4M351.2 380.4v2.4M352.1 380.4v2.4M352.3 380.4v2.4M351.8 380.4v2.4M353.2 380.4v2.4M351.3 380.4v2.4M351.5 380.4v2.4M351.5 380.4v2.4M351.9 380.4v2.4M352.1 380.4v2.4M351.5 380.4v2.4M351.5 380.4v2.4M352.4 380.4v2.4M351.3 380.4v2.4M353.3 380.4v2.4M351.2 380.4v2.4M354.6 380.4v2.4M353.5 380.4v2.4M354.3 380.4v2.4M353.4 380.4v2.4M352.6 380.4v2.4M351.9 380.4v2.4M355.6 380.4v2.4M352.4 380.4v2.4M351.5 380.4v2.4M351.6 380.4v2.4M351.7 380.4v2.4M351.3 380.4v2.4M351.3 380.4v2.4M353.3 380.4v2.4M351.3 380.4v2.4M351.2 380.4v2.4M351.2 380.4v2.4M351.2 380.4v2.4M351.4 380.4v2.4M351.2 380.4v2.4M351.2 380.4v2.4M351.3 380.4v2.4M352.9 380.4v2.4M352.8 380.4v2.4M352.2 380.4v2.4M351.9 380.4v2.4M351.6 380.4v2.4M352.1 380.4v2.4M352.6 380.4v2.4M352.3 380.4v2.4M351.4 380.4v2.4M352.4 380.4v2.4M351.8 380.4v2.4M353.1 380.4v2.4M352.6 380.4v2.4M352.8 380.4v2.4M351.7 380.4v2.4M352.2 380.4v2.4M351.1 380.4v2.4M353.1 380.4v2.4M352.4 380.4v2.4M351.9 380.4v2.4M351.8 380.4v2.4M352.7 380.4v2.4M353.9 380.4v2.4M351.4 380.4v2.4M351.4 380.4v2.4M351.8 380.4v2.4M354.5 380.4v2.4M355.8 380.4v2.4M352.3 380.4v2.4M351.6 380.4v2.4M353.6 380.4v2.4M353.2 380.4v2.4M353.5 380.4v2.4M351.7 380.4v2.4M352.6 380.4v2.4M351.7 380.4v2.4M351.5 380.4v2.4M351.5 380.4v2.4M351.6 380.4v2.4M351.4 380.4v2.4M352.9 380.4v2.4M356.6 380.4v2.4M351.4 380.4v2.4M352.2 380.4v2.4M351.6 380.4v2.4M352.3 380.4v2.4M351.7 380.4v2.4M351.2 380.4v2.4M351.2 380.4v2.4M351.1 380.4v2.4M351.4 380.4v2.4M351.6 380.4v2.4M352.3 380.4v2.4M352.0 380.4v2.4M356.1 380.4v2.4M351.5 380.4v2.4M353.8 380.4v2.4M351.8 380.4v2.4M351.6 380.4v2.4M351.4 380.4v2.4M351.4 380.4v2.4M352.9 380.4v2.4M352.5 380.4v2.4M351.6 380.4v2.4M352.1 380.4v2.4M353.3 380.4v2.4M351.2 380.4v2.4M351.6 380.4v2.4M353.3 380.4v2.4M351.6 380.4v2.4M353.1 380.4v2.4M351.7 380.4v2.4M353.2 380.4v2.4M352.4 380.4v2.4M351.5 380.4v2.4M355.2 380.4v2.4M352.1 380.4v2.4M351.4 380.4v2.4M352.4 380.4v2.4M352.8 380.4v2.4M352.2 380.4v2.4M351.6 380.4v2.4M351.9 380.4v2.4M351.9 380.4v2.4M352.0 380.4v2.4M351.3 380.4v2.4M352.2 380.4v2.4M351.4 380.4v2.4M351.7 380.4v2.4M351.5 380.4v2.4M353.0 380.4v2.4M352.2 380.4v2.4M351.5 380.4v2.4M352.2 380.4v2.4M353.1 380.4v2.4M351.5 380.4v2.4M351.2 380.4v2.4M351.2 380.4v2.4M351.8 380.4v2.4M352.2 380.4v2.4M351.3 380.4v2.4M351.3 380.4v2.4M351.6 380.4v2.4M351.1 380.4v2.4M352.0 380.4v2.4M351.2 380.4v2.4M354.9 380.4v2.4M351.5 380.4v2.4M351.1 380.4v2.4M351.5 380.4v2.4M352.4 380.4v2.4M352.1 380.4v2.4M352.3 380.4v2.4M351.2 380.4v2.4M351.2 380.4v2.4M351.1 380.4v2.4M353.6 380.4v2.4M352.0 380.4v2.4M351.4 380.4v2.4M351.8 380.4v2.4M351.5 380.4v2.4M352.8 380.4v2.4M352.0 380.4v2.4M352.1 380.4v2.4M352.0 380.4v2.4M351.8 380.4v2.4M351.6 380.4v2.4M351.8 380.4v2.4M351.2 380.4v2.4M351.3 380.4v2.4M351.6 380.4v2.4M351.4 380.4v2.4M351.8 380.4v2.4M351.2 380.4v2.4M351.5 380.4v2.4M351.8 380.4v2.4M352.8 380.4v2.4M351.1 380.4v2.4M351.4 380.4v2.4M353.3 380.4v2.4M351.2 380.4v2.4M352.8 380.4v2.4M352.8 380.4v2.4M351.3 380.4v2.4M352.8 380.4v2.4M351.2 380.4v2.4M351.9 380.4v2.4M352.6 380.4v2.4M352.0 380.4v2.4M353.4 380.4v2.4M351.9 380.4v2.4M353.1 380.4v2.4M351.9 380.4v2.4M351.6 380.4v2.4M352.0 380.4v2.4M351.2 380.4v2.4M352.2 380.4v2.4M351.1 380.4v2.4M351.2 380.4v2.4M351.8 380.4v2.4M354.8 380.4v2.4M353.3 380.4v2.4M352.7 380.4v2.4M351.4 380.4v2.4M351.9 380.4v2.4M351.5 380.4v2.4M353.4 380.4v2.4M351.5 380.4v2.4M352.1 380.4v2.4M356.1 380.4v2.4M351.6 380.4v2.4M351.5 380.4v2.4M351.6 380.4v2.4M352.2 380.4v2.4M351.2 380.4v2.4M352.1 380.4v2.4M352.0 380.4v2.4M351.7 380.4v2.4M354.5 380.4v2.4M351.1 380.4v2.4M352.7 380.4v2.4M351.3 380.4v2.4M351.5 380.4v2.4M354.3 380.4v2.4M351.7 380.4v2.4M351.7 380.4v2.4M352.3 380.4v2.4M361.3 380.4v2.4M374.2 380.4v2.4M410.4 380.4v2.4M366.6 380.4v2.4M359.3 380.4v2.4M361.0 380.4v2.4M386.6 380.4v2.4M363.9 380.4v2.4M360.4 380.4v2.4M416.9 380.4v2.4M357.3 380.4v2.4M384.1 380.4v2.4M406.8 380.4v2.4M357.0 380.4v2.4M390.2 380.4v2.4M379.1 380.4v2.4M387.4 380.4v2.4M412.9 380.4v2.4M374.9 380.4v2.4M371.6 380.4v2.4M413.0 380.4v2.4M383.3 380.4v2.4M378.6 380.4v2.4M372.6 380.4v2.4M359.5 380.4v2.4M378.0 380.4v2.4M377.9 380.4v2.4M370.2 380.4v2.4M357.2 380.4v2.4M420.4 380.4v2.4M367.9 380.4v2.4M375.4 380.4v2.4M364.7 380.4v2.4M372.5 380.4v2.4M368.0 380.4v2.4M360.7 380.4v2.4M361.5 380.4v2.4M391.6 380.4v2.4M374.0 380.4v2.4M395.0 380.4v2.4M383.8 380.4v2.4M365.3 380.4v2.4M365.7 380.4v2.4M363.6 380.4v2.4M359.8 380.4v2.4M362.9 380.4v2.4M372.7 380.4v2.4M361.4 380.4v2.4M374.5 380.4v2.4M373.4 380.4v2.4M377.0 380.4v2.4M358.5 380.4v2.4M385.0 380.4v2.4M366.8 380.4v2.4M359.7 380.4v2.4M372.7 380.4v2.4M366.7 380.4v2.4M363.8 380.4v2.4M365.9 380.4v2.4M394.2 380.4v2.4M365.6 380.4v2.4M372.6 380.4v2.4M361.7 380.4v2.4M369.6 380.4v2.4M375.3 380.4v2.4M376.4 380.4v2.4M358.1 380.4v2.4M393.0 380.4v2.4M421.1 380.4v2.4M377.2 380.4v2.4M377.4 380.4v2.4M362.7 380.4v2.4M359.6 380.4v2.4M405.3 380.4v2.4M366.8 380.4v2.4M409.4 380.4v2.4M362.9 380.4v2.4M357.0 380.4v2.4M386.4 380.4v2.4M366.6 380.4v2.4M363.3 380.4v2.4M377.7 380.4v2.4M371.2 380.4v2.4M396.4 380.4v2.4M368.1 380.4v2.4M363.4 380.4v2.4M359.7 380.4v2.4M373.7 380.4v2.4M361.8 380.4v2.4M392.3 380.4v2.4M405.7 380.4v2.4M358.9 380.4v2.4M368.1 380.4v2.4M368.8 380.4v2.4M361.2 380.4v2.4M371.5 380.4v2.4M366.0 380.4v2.4M399.8 380.4v2.4M358.3 380.4v2.4M405.2 380.4v2.4M351.7 380.4v2.4M351.5 380.4v2.4M362.8 380.4v2.4M352.4 380.4v2.4M350.9 380.4v2.4M354.2 380.4v2.4M374.5 380.4v2.4M359.9 380.4v2.4M353.2 380.4v2.4M376.1 380.4v2.4M358.8 380.4v2.4M360.1 380.4v2.4M356.0 380.4v2.4M353.2 380.4v2.4M362.7 380.4v2.4M353.9 380.4v2.4M364.6 380.4v2.4M354.8 380.4v2.4M363.0 380.4v2.4M354.0 380.4v2.4M353.5 380.4v2.4M355.2 380.4v2.4M352.6 380.4v2.4M351.5 380.4v2.4M355.2 380.4v2.4M360.4 380.4v2.4M352.3 380.4v2.4M360.9 380.4v2.4M358.6 380.4v2.4M358.3 380.4v2.4M353.4 380.4v2.4M384.9 380.4v2.4M358.7 380.4v2.4M355.0 380.4v2.4M351.3 380.4v2.4M355.0 380.4v2.4M350.7 380.4v2.4M362.5 380.4v2.4M352.8 380.4v2.4M353.0 380.4v2.4" stroke="#5a9fd4" stroke-width="0.5" fill="none" opacity="0.55"/>
<path d="M350.4 325.7h1.6M350.6 361.3h1.6M350.9 361.1h1.6M351.7 333.6h1.6M350.4 312.2h1.6M350.8 335.3h1.6M351.6 324.0h1.6M351.5 340.2h1.6M350.5 351.3h1.6M350.3 321.8h1.6M352.9 337.4h1.6M350.7 337.1h1.6M350.3 325.0h1.6M350.5 356.7h1.6M350.6 333.7h1.6M350.5 337.1h1.6M350.6 324.0h1.6M350.3 330.3h1.6M351.2 356.7h1.6M350.5 341.8h1.6M350.4 352.3h1.6M351.4 319.5h1.6M352.8 365.4h1.6M351.3 327.1h1.6M350.6 366.9h1.6M352.0 356.7h1.6M350.9 343.8h1.6M350.6 342.5h1.6M351.8 348.3h1.6M351.0 335.6h1.6M351.4 347.0h1.6M350.8 353.3h1.6M351.0 337.1h1.6M350.8 358.3h1.6M350.9 336.0h1.6M351.4 339.5h1.6M354.0 352.9h1.6M350.5 348.7h1.6M350.9 314.7h1.6M351.0 343.3h1.6M352.1 338.4h1.6M353.1 322.4h1.6M351.1 351.9h1.6M351.0 337.3h1.6M353.2 314.1h1.6M351.9 339.4h1.6M352.3 342.0h1.6M351.0 367.7h1.6M351.1 344.9h1.6M352.2 338.1h1.6M351.1 334.8h1.6M350.9 323.4h1.6M350.7 351.0h1.6M351.2 325.0h1.6M351.2 343.8h1.6M350.5 339.4h1.6M350.5 366.2h1.6M351.8 355.5h1.6M351.8 335.7h1.6M352.0 350.9h1.6M351.3 338.0h1.6M350.3 339.0h1.6M351.6 340.3h1.6M351.2 333.1h1.6M350.7 332.3h1.6M351.0 336.6h1.6M350.5 343.8h1.6M350.9 316.9h1.6M350.7 343.6h1.6M350.8 339.8h1.6M350.8 337.6h1.6M352.4 333.7h1.6M351.0 335.2h1.6M351.9 320.5h1.6M350.3 332.0h1.6M351.5 339.4h1.6M350.5 346.7h1.6M351.0 362.1h1.6M350.5 313.8h1.6M351.0 344.5h1.6M350.5 349.4h1.6M351.1 352.5h1.6M350.7 343.9h1.6M350.6 344.2h1.6M353.4 331.2h1.6M352.1 349.4h1.6M350.6 317.3h1.6M350.8 349.6h1.6M350.6 338.7h1.6M350.3 324.1h1.6M351.1 375.3h1.6M350.5 313.0h1.6M351.4 370.4h1.6M351.0 350.4h1.6M350.5 330.7h1.6M351.3 349.4h1.6M350.4 336.3h1.6M351.3 345.4h1.6M350.7 323.4h1.6M352.2 338.0h1.6M350.5 342.1h1.6M350.7 314.2h1.6M350.7 342.5h1.6M350.5 353.5h1.6M352.8 365.9h1.6M350.7 323.4h1.6M350.9 355.8h1.6M354.2 338.0h1.6M350.4 316.3h1.6M350.5 331.5h1.6M351.6 345.9h1.6M351.1 332.6h1.6M350.7 352.5h1.6M350.6 326.6h1.6M353.1 355.5h1.6M352.3 327.8h1.6M350.4 326.1h1.6M350.3 313.3h1.6M351.7 327.0h1.6M351.9 351.6h1.6M351.7 322.9h1.6M350.7 350.0h1.6M350.4 345.0h1.6M350.6 325.4h1.6M352.7 352.7h1.6M350.9 344.9h1.6M351.9 314.3h1.6M350.3 343.5h1.6M350.4 346.2h1.6M352.3 329.6h1.6M354.3 337.6h1.6M350.8 333.6h1.6M350.6 334.3h1.6M351.5 314.0h1.6M350.7 320.4h1.6M353.5 329.8h1.6M350.6 347.2h1.6M350.9 322.7h1.6M350.3 327.5h1.6M350.3 327.8h1.6M351.1 341.7h1.6M350.9 342.5h1.6M352.5 335.4h1.6M353.5 333.2h1.6M350.5 341.7h1.6M351.2 321.7h1.6M351.4 342.7h1.6M351.3 341.4h1.6M350.6 321.6h1.6M350.6 329.7h1.6M354.0 334.4h1.6M350.9 352.9h1.6M352.9 358.0h1.6M350.8 345.1h1.6M350.7 327.8h1.6M352.0 330.3h1.6M350.7 348.3h1.6M351.0 358.2h1.6M350.6 350.0h1.6M350.3 340.1h1.6M351.0 334.5h1.6M350.4 321.3h1.6M350.6 330.6h1.6M351.7 370.3h1.6M350.5 339.1h1.6M350.9 338.7h1.6M353.0 346.2h1.6M350.5 333.2h1.6M351.9 343.4h1.6M351.0 333.9h1.6M352.6 349.0h1.6M350.4 337.1h1.6M350.7 342.4h1.6M352.4 329.5h1.6M352.0 371.3h1.6M351.6 343.9h1.6M350.8 349.1h1.6M350.5 345.3h1.6M350.6 362.2h1.6M350.4 313.7h1.6M351.0 346.6h1.6M351.0 330.5h1.6M350.8 353.7h1.6M350.7 340.5h1.6M351.3 337.0h1.6M350.8 345.2h1.6M350.7 342.7h1.6M350.4 332.1h1.6M351.9 332.1h1.6M350.8 357.2h1.6M350.6 328.3h1.6M350.3 357.8h1.6M351.3 343.6h1.6M350.8 349.8h1.6M350.6 362.9h1.6M350.9 351.0h1.6M350.8 338.9h1.6M351.1 312.3h1.6M350.6 358.9h1.6M351.3 334.8h1.6M351.0 338.6h1.6M352.2 326.6h1.6M352.3 318.8h1.6M350.6 350.7h1.6M350.7 367.7h1.6M351.4 342.1h1.6M352.1 360.5h1.6M352.4 321.4h1.6M350.5 345.2h1.6M350.6 336.4h1.6M351.6 321.2h1.6M350.4 350.3h1.6M350.7 362.1h1.6M351.0 327.9h1.6M350.3 319.4h1.6M353.9 332.8h1.6M350.6 360.2h1.6M352.5 332.4h1.6M351.7 342.4h1.6M352.0 352.9h1.6M350.8 360.1h1.6M352.7 325.8h1.6M351.8 343.0h1.6M350.8 333.6h1.6M350.4 328.9h1.6M352.5 333.0h1.6M351.1 342.3h1.6M350.8 331.1h1.6M350.6 331.9h1.6M351.6 330.6h1.6M350.8 340.1h1.6M350.3 354.7h1.6M351.9 355.1h1.6M350.5 344.4h1.6M350.6 322.0h1.6M351.1 340.5h1.6M351.7 317.5h1.6M351.8 321.7h1.6M350.9 343.5h1.6M352.1 338.0h1.6M350.7 359.8h1.6M350.6 319.1h1.6M350.4 323.2h1.6M351.6 377.8h1.6M351.6 351.3h1.6M353.6 328.8h1.6M351.1 327.0h1.6M350.6 354.5h1.6M351.0 340.6h1.6M350.3 355.7h1.6M350.6 334.5h1.6M350.8 335.7h1.6M350.9 362.7h1.6M351.3 347.7h1.6M350.3 333.3h1.6M350.6 365.7h1.6M351.9 358.4h1.6M351.0 323.7h1.6M351.9 341.7h1.6M350.8 341.9h1.6M350.6 330.3h1.6M351.0 322.0h1.6M350.7 325.4h1.6M350.8 340.0h1.6M350.8 327.5h1.6M351.5 355.6h1.6M352.4 340.5h1.6M351.6 357.9h1.6M351.2 353.0h1.6M350.8 357.4h1.6M351.2 364.0h1.6M351.7 366.7h1.6M352.0 337.3h1.6M351.2 367.9h1.6M350.7 342.5h1.6M352.2 316.9h1.6M351.0 323.9h1.6M350.9 317.1h1.6M350.9 323.1h1.6M351.6 335.3h1.6M350.8 353.9h1.6M350.3 323.0h1.6M351.0 318.6h1.6M350.8 348.0h1.6M351.4 348.5h1.6M350.5 346.7h1.6M352.3 341.1h1.6M351.9 334.5h1.6M351.0 352.6h1.6M351.5 327.1h1.6M350.5 354.0h1.6M351.8 359.9h1.6M350.6 348.8h1.6M351.1 347.3h1.6M350.5 332.9h1.6M350.7 369.6h1.6M350.5 317.4h1.6M352.0 345.7h1.6M350.3 323.4h1.6M350.7 352.8h1.6M350.8 338.4h1.6M350.5 366.7h1.6M351.2 319.9h1.6M350.8 319.6h1.6M351.2 353.0h1.6M350.6 348.5h1.6M350.4 341.7h1.6M351.5 356.5h1.6M350.6 321.1h1.6M351.5 342.9h1.6M350.4 353.0h1.6M350.8 347.3h1.6M350.5 340.0h1.6M350.4 366.2h1.6M350.5 358.5h1.6M350.3 348.3h1.6M353.3 366.9h1.6M351.2 356.1h1.6M350.4 316.4h1.6M351.4 327.8h1.6M350.9 331.8h1.6M350.7 335.0h1.6M351.9 330.8h1.6M350.9 349.5h1.6M351.5 345.4h1.6M350.7 367.8h1.6M355.0 358.7h1.6M350.4 331.6h1.6M350.7 368.8h1.6M350.7 369.9h1.6M350.8 356.7h1.6M352.2 339.9h1.6M352.5 349.0h1.6M350.3 326.8h1.6M350.4 322.8h1.6M350.7 328.9h1.6M352.0 328.1h1.6M352.5 335.2h1.6M352.0 339.2h1.6M350.4 341.5h1.6M350.4 332.9h1.6M350.3 356.5h1.6M351.4 359.3h1.6M352.0 348.1h1.6M351.2 353.1h1.6M353.5 347.4h1.6M350.4 349.1h1.6M352.8 352.1h1.6M351.2 347.9h1.6M351.1 345.6h1.6M350.7 341.1h1.6M350.8 330.7h1.6M350.8 352.8h1.6M351.5 360.7h1.6M351.5 340.2h1.6M353.7 351.8h1.6M350.5 314.6h1.6M352.0 354.8h1.6M350.4 317.2h1.6M350.9 325.4h1.6M350.7 336.1h1.6M351.0 340.8h1.6M350.8 329.9h1.6M351.4 329.5h1.6M352.3 322.2h1.6M350.4 337.5h1.6M351.8 337.0h1.6M350.8 338.3h1.6M351.5 343.4h1.6M351.7 333.0h1.6M351.8 332.5h1.6M350.8 350.4h1.6M350.6 353.0h1.6M350.7 345.1h1.6M351.7 321.2h1.6M350.4 345.8h1.6M351.3 326.2h1.6M351.5 328.5h1.6M351.0 360.5h1.6M352.4 334.2h1.6M350.5 351.3h1.6M350.7 347.1h1.6M350.7 341.3h1.6M351.1 313.8h1.6M351.3 332.9h1.6M350.7 344.6h1.6M350.7 327.0h1.6M351.6 358.8h1.6M350.5 340.5h1.6M352.5 346.5h1.6M350.4 328.4h1.6M353.8 373.3h1.6M352.7 336.1h1.6M353.5 326.6h1.6M352.6 371.8h1.6M351.8 328.2h1.6M351.1 326.7h1.6M354.8 335.4h1.6M351.6 363.3h1.6M350.7 320.2h1.6M350.8 348.0h1.6M350.9 322.0h1.6M350.5 342.7h1.6M350.5 347.8h1.6M352.5 358.2h1.6M350.5 361.0h1.6M350.4 327.5h1.6M350.4 351.7h1.6M350.4 343.7h1.6M350.6 352.8h1.6M350.4 354.0h1.6M350.4 327.6h1.6M350.5 357.8h1.6M352.1 326.1h1.6M352.0 338.4h1.6M351.4 347.0h1.6M351.1 319.3h1.6M350.8 364.2h1.6M351.3 375.2h1.6M351.8 350.4h1.6M351.5 319.5h1.6M350.6 332.9h1.6M351.6 316.6h1.6M351.0 355.6h1.6M352.3 339.1h1.6M351.8 344.1h1.6M352.0 342.6h1.6M350.9 335.7h1.6M351.4 328.6h1.6M350.3 331.1h1.6M352.3 331.6h1.6M351.6 321.9h1.6M351.1 343.8h1.6M351.0 358.9h1.6M351.9 343.4h1.6M353.1 358.2h1.6M350.6 328.8h1.6M350.6 360.3h1.6M351.0 341.2h1.6M353.7 329.2h1.6M355.0 322.1h1.6M351.5 353.6h1.6M350.8 346.2h1.6M352.8 322.6h1.6M352.4 354.1h1.6M352.7 331.9h1.6M350.9 352.5h1.6M351.8 357.8h1.6M350.9 322.4h1.6M350.7 347.6h1.6M350.7 338.3h1.6M350.8 331.2h1.6M350.6 339.3h1.6M352.1 350.8h1.6M355.8 347.0h1.6M350.6 365.0h1.6M351.4 342.5h1.6M350.8 337.4h1.6M351.5 357.5h1.6M350.9 316.9h1.6M350.4 344.6h1.6M350.4 329.7h1.6M350.3 342.6h1.6M350.6 377.2h1.6M350.8 335.7h1.6M351.5 337.1h1.6M351.2 346.0h1.6M355.3 358.1h1.6M350.7 346.1h1.6M353.0 333.5h1.6M351.0 341.7h1.6M350.8 343.9h1.6M350.6 347.0h1.6M350.6 366.9h1.6M352.1 337.0h1.6M351.7 343.2h1.6M350.8 346.1h1.6M351.3 345.3h1.6M352.5 323.1h1.6M350.4 336.0h1.6M350.8 346.0h1.6M352.5 334.9h1.6M350.8 323.0h1.6M352.3 328.0h1.6M350.9 341.0h1.6M352.4 350.4h1.6M351.6 343.3h1.6M350.7 342.3h1.6M354.4 340.2h1.6M351.3 358.2h1.6M350.6 356.1h1.6M351.6 344.5h1.6M352.0 338.8h1.6M351.4 328.4h1.6M350.8 333.6h1.6M351.1 333.1h1.6M351.1 322.4h1.6M351.2 345.0h1.6M350.5 350.8h1.6M351.4 334.1h1.6M350.6 337.2h1.6M350.9 326.3h1.6M350.7 347.9h1.6M352.2 346.2h1.6M351.4 345.5h1.6M350.7 341.5h1.6M351.4 357.2h1.6M352.3 362.1h1.6M350.7 353.8h1.6M350.4 339.8h1.6M350.4 340.6h1.6M351.0 333.9h1.6M351.4 361.5h1.6M350.5 349.2h1.6M350.5 368.9h1.6M350.8 353.2h1.6M350.3 327.6h1.6M351.2 338.8h1.6M350.4 336.7h1.6M354.1 317.9h1.6M350.7 355.0h1.6M350.3 351.2h1.6M350.7 333.0h1.6M351.6 331.6h1.6M351.3 334.5h1.6M351.5 338.8h1.6M350.4 345.2h1.6M350.4 329.5h1.6M350.3 330.6h1.6M352.8 328.7h1.6M351.2 339.2h1.6M350.6 317.7h1.6M351.0 356.4h1.6M350.7 333.3h1.6M352.0 360.7h1.6M351.2 329.8h1.6M351.3 351.5h1.6M351.2 359.5h1.6M351.0 343.7h1.6M350.8 323.3h1.6M351.0 353.1h1.6M350.4 349.7h1.6M350.5 340.9h1.6M350.8 351.3h1.6M350.6 343.6h1.6M351.0 355.4h1.6M350.4 337.8h1.6M350.7 351.0h1.6M351.0 355.9h1.6M352.0 344.2h1.6M350.3 362.9h1.6M350.6 344.0h1.6M352.5 348.4h1.6M350.4 332.8h1.6M352.0 347.6h1.6M352.0 356.5h1.6M350.5 313.3h1.6M352.0 352.3h1.6M350.4 329.4h1.6M351.1 343.1h1.6M351.8 318.2h1.6M351.2 338.5h1.6M352.6 349.5h1.6M351.1 351.9h1.6M352.3 365.7h1.6M351.1 333.8h1.6M350.8 326.3h1.6M351.2 346.6h1.6M350.4 344.5h1.6M351.4 339.6h1.6M350.3 333.3h1.6M350.4 338.5h1.6M351.0 347.8h1.6M354.0 331.0h1.6M352.5 355.6h1.6M351.9 362.8h1.6M350.6 336.4h1.6M351.1 350.8h1.6M350.7 326.2h1.6M352.6 318.5h1.6M350.7 330.3h1.6M351.3 349.9h1.6M355.3 339.7h1.6M350.8 345.4h1.6M350.7 347.9h1.6M350.8 313.7h1.6M351.4 352.4h1.6M350.4 354.0h1.6M351.3 333.2h1.6M351.2 346.2h1.6M350.9 353.2h1.6M353.7 320.4h1.6M350.3 328.5h1.6M351.9 349.3h1.6M350.5 341.8h1.6M350.7 347.1h1.6M353.5 355.0h1.6M350.9 362.3h1.6M350.9 366.3h1.6M351.5 339.2h1.6M360.5 343.6h1.6M373.4 326.5h1.6M409.6 328.1h1.6M365.8 336.4h1.6M358.5 327.2h1.6M360.2 330.7h1.6M385.8 340.7h1.6M363.1 347.7h1.6M359.6 311.9h1.6M416.1 334.8h1.6M356.5 343.2h1.6M383.3 322.3h1.6M406.0 341.5h1.6M356.2 333.8h1.6M389.4 333.9h1.6M378.3 335.6h1.6M386.6 324.8h1.6M412.1 325.0h1.6M374.1 333.0h1.6M370.8 348.2h1.6M412.2 323.1h1.6M382.5 336.3h1.6M377.8 346.7h1.6M371.8 331.1h1.6M358.7 313.0h1.6M377.2 341.6h1.6M377.1 322.5h1.6M369.4 323.6h1.6M356.4 332.4h1.6M419.6 334.6h1.6M367.1 323.5h1.6M374.6 314.9h1.6M363.9 332.8h1.6M371.7 343.1h1.6M367.2 327.4h1.6M359.9 339.6h1.6M360.7 325.0h1.6M390.8 335.2h1.6M373.2 326.7h1.6M394.2 328.5h1.6M383.0 345.8h1.6M364.5 326.3h1.6M364.9 325.0h1.6M362.8 337.2h1.6M359.0 330.1h1.6M362.1 325.1h1.6M371.9 313.4h1.6M360.6 350.6h1.6M373.7 322.2h1.6M372.6 336.7h1.6M376.2 327.0h1.6M357.7 330.5h1.6M384.2 334.9h1.6M366.0 337.1h1.6M358.9 344.2h1.6M371.9 324.3h1.6M365.9 327.8h1.6M363.0 347.7h1.6M365.1 357.7h1.6M393.4 328.8h1.6M364.8 315.0h1.6M371.8 314.6h1.6M360.9 320.9h1.6M368.8 336.2h1.6M374.5 312.7h1.6M375.6 331.1h1.6M357.3 339.4h1.6M392.2 339.1h1.6M420.3 313.7h1.6M376.4 314.9h1.6M376.6 318.8h1.6M361.9 328.1h1.6M358.8 319.2h1.6M404.5 336.4h1.6M366.0 350.1h1.6M408.6 320.2h1.6M362.1 318.9h1.6M356.2 326.2h1.6M385.6 326.5h1.6M365.8 345.8h1.6M362.5 329.7h1.6M376.9 342.6h1.6M370.4 352.3h1.6M395.6 313.7h1.6M367.3 335.0h1.6M362.6 315.1h1.6M358.9 319.9h1.6M372.9 334.4h1.6M361.0 330.4h1.6M391.5 354.6h1.6M404.9 337.1h1.6M358.1 332.7h1.6M367.3 334.1h1.6M368.0 317.7h1.6M360.4 335.1h1.6M370.7 338.3h1.6M365.2 332.3h1.6M399.0 313.2h1.6M357.5 333.5h1.6M404.4 350.6h1.6M350.9 379.5h1.6M350.7 379.5h1.6M362.0 379.5h1.6M351.6 379.5h1.6M353.4 379.5h1.6M373.7 379.5h1.6M359.1 379.5h1.6M352.4 379.5h1.6M375.3 379.5h1.6M358.0 379.5h1.6M359.3 379.5h1.6M355.2 379.5h1.6M352.4 379.5h1.6M361.9 379.5h1.6M353.1 379.5h1.6M363.8 379.5h1.6M354.0 379.5h1.6M362.2 379.5h1.6M353.2 379.5h1.6M352.7 379.5h1.6M354.4 379.5h1.6M351.8 379.5h1.6M350.7 379.5h1.6M354.4 379.5h1.6M359.6 379.5h1.6M351.5 379.5h1.6M360.1 379.5h1.6M357.8 379.5h1.6M357.5 379.5h1.6M352.6 379.5h1.6M384.1 379.5h1.6M357.9 379.5h1.6M354.2 379.5h1.6M350.5 379.5h1.6M354.2 379.5h1.6M361.7 379.5h1.6M352.0 379.5h1.6M352.2 379.5h1.6" stroke="#2f7bbf" stroke-width="1.6" fill="none"/>
<path d="M349.8 325.7h3.2M349.8 361.3h3.2M349.8 361.1h3.2M349.8 333.6h3.2M349.8 312.2h3.2M349.8 335.3h3.2M349.8 324.0h3.2M349.8 340.2h3.2M349.8 351.3h3.2M349.8 321.8h3.2M349.8 337.4h3.2M349.8 337.1h3.2M349.8 325.0h3.2M349.8 356.7h3.2M349.8 333.7h3.2M349.8 337.1h3.2M349.8 324.0h3.2M349.8 330.3h3.2M349.8 356.7h3.2M349.8 341.8h3.2M349.8 352.3h3.2M349.8 319.5h3.2M349.8 365.4h3.2M349.8 327.1h3.2M349.8 366.9h3.2M349.8 356.7h3.2M349.8 343.8h3.2M349.8 342.5h3.2M349.8 348.3h3.2M349.8 335.6h3.2M349.8 347.0h3.2M349.8 353.3h3.2M349.8 337.1h3.2M349.8 358.3h3.2M349.8 336.0h3.2M349.8 339.5h3.2M349.8 352.9h3.2M349.8 348.7h3.2M349.8 314.7h3.2M349.8 343.3h3.2M349.8 338.4h3.2M349.8 322.4h3.2M349.8 351.9h3.2M349.8 337.3h3.2M349.8 314.1h3.2M349.8 339.4h3.2M349.8 342.0h3.2M349.8 367.7h3.2M349.8 344.9h3.2M349.8 338.1h3.2M349.8 334.8h3.2M349.8 323.4h3.2M349.8 351.0h3.2M349.8 325.0h3.2M349.8 343.8h3.2M349.8 339.4h3.2M349.8 366.2h3.2M349.8 355.5h3.2M349.8 335.7h3.2M349.8 350.9h3.2M349.8 338.0h3.2M349.8 339.0h3.2M349.8 340.3h3.2M349.8 333.1h3.2M349.8 332.3h3.2M349.8 336.6h3.2M349.8 343.8h3.2M349.8 316.9h3.2M349.8 343.6h3.2M349.8 339.8h3.2M349.8 337.6h3.2M349.8 333.7h3.2M349.8 335.2h3.2M349.8 320.5h3.2M349.8 332.0h3.2M349.8 339.4h3.2M349.8 346.7h3.2M349.8 362.1h3.2M349.8 313.8h3.2M349.8 344.5h3.2M349.8 349.4h3.2M349.8 352.5h3.2M349.8 343.9h3.2M349.8 344.2h3.2M349.8 331.2h3.2M349.8 349.4h3.2M349.8 317.3h3.2M349.8 349.6h3.2M349.8 338.7h3.2M349.8 324.1h3.2M349.8 375.3h3.2M349.8 313.0h3.2M349.8 370.4h3.2M349.8 350.4h3.2M349.8 330.7h3.2M349.8 349.4h3.2M349.8 336.3h3.2M349.8 345.4h3.2M349.8 323.4h3.2M349.8 338.0h3.2M349.8 342.1h3.2M349.8 314.2h3.2M349.8 342.5h3.2M349.8 353.5h3.2M349.8 365.9h3.2M349.8 323.4h3.2M349.8 355.8h3.2M349.8 338.0h3.2M349.8 316.3h3.2M349.8 331.5h3.2M349.8 345.9h3.2M349.8 332.6h3.2M349.8 352.5h3.2M349.8 326.6h3.2M349.8 355.5h3.2M349.8 327.8h3.2M349.8 326.1h3.2M349.8 313.3h3.2M349.8 327.0h3.2M349.8 351.6h3.2M349.8 322.9h3.2M349.8 350.0h3.2M349.8 345.0h3.2M349.8 325.4h3.2M349.8 352.7h3.2M349.8 344.9h3.2M349.8 314.3h3.2M349.8 343.5h3.2M349.8 346.2h3.2M349.8 329.6h3.2M349.8 337.6h3.2M349.8 333.6h3.2M349.8 334.3h3.2M349.8 314.0h3.2M349.8 320.4h3.2M349.8 329.8h3.2M349.8 347.2h3.2M349.8 322.7h3.2M349.8 327.5h3.2M349.8 327.8h3.2M349.8 341.7h3.2M349.8 342.5h3.2M349.8 335.4h3.2M349.8 333.2h3.2M349.8 341.7h3.2M349.8 321.7h3.2M349.8 342.7h3.2M349.8 341.4h3.2M349.8 321.6h3.2M349.8 329.7h3.2M349.8 334.4h3.2M349.8 352.9h3.2M349.8 358.0h3.2M349.8 345.1h3.2M349.8 327.8h3.2M349.8 330.3h3.2M349.8 348.3h3.2M349.8 358.2h3.2M349.8 350.0h3.2M349.8 340.1h3.2M349.8 334.5h3.2M349.8 321.3h3.2M349.8 330.6h3.2M349.8 370.3h3.2M349.8 339.1h3.2M349.8 338.7h3.2M349.8 346.2h3.2M349.8 333.2h3.2M349.8 343.4h3.2M349.8 333.9h3.2M349.8 349.0h3.2M349.8 337.1h3.2M349.8 342.4h3.2M349.8 329.5h3.2M349.8 371.3h3.2M349.8 343.9h3.2M349.8 349.1h3.2M349.8 345.3h3.2M349.8 362.2h3.2M349.8 313.7h3.2M349.8 346.6h3.2M349.8 330.5h3.2M349.8 353.7h3.2M349.8 340.5h3.2M349.8 337.0h3.2M349.8 345.2h3.2M349.8 342.7h3.2M349.8 332.1h3.2M349.8 332.1h3.2M349.8 357.2h3.2M349.8 328.3h3.2M349.8 357.8h3.2M349.8 343.6h3.2M349.8 349.8h3.2M349.8 362.9h3.2M349.8 351.0h3.2M349.8 338.9h3.2M349.8 312.3h3.2M349.8 358.9h3.2M349.8 334.8h3.2M349.8 338.6h3.2M349.8 326.6h3.2M349.8 318.8h3.2M349.8 350.7h3.2M349.8 367.7h3.2M349.8 342.1h3.2M349.8 360.5h3.2M349.8 321.4h3.2M349.8 345.2h3.2M349.8 336.4h3.2M349.8 321.2h3.2M349.8 350.3h3.2M349.8 362.1h3.2M349.8 327.9h3.2M349.8 319.4h3.2M349.8 332.8h3.2M349.8 360.2h3.2M349.8 332.4h3.2M349.8 342.4h3.2M349.8 352.9h3.2M349.8 360.1h3.2M349.8 325.8h3.2M349.8 343.0h3.2M349.8 333.6h3.2M349.8 328.9h3.2M349.8 333.0h3.2M349.8 342.3h3.2M349.8 331.1h3.2M349.8 331.9h3.2M349.8 330.6h3.2M349.8 340.1h3.2M349.8 354.7h3.2M349.8 355.1h3.2M349.8 344.4h3.2M349.8 322.0h3.2M349.8 340.5h3.2M349.8 317.5h3.2M349.8 321.7h3.2M349.8 343.5h3.2M349.8 338.0h3.2M349.8 359.8h3.2M349.8 319.1h3.2M349.8 323.2h3.2M349.8 377.8h3.2M349.8 351.3h3.2M349.8 328.8h3.2M349.8 327.0h3.2M349.8 354.5h3.2M349.8 340.6h3.2M349.8 355.7h3.2M349.8 334.5h3.2M349.8 335.7h3.2M349.8 362.7h3.2M349.8 347.7h3.2M349.8 333.3h3.2M349.8 365.7h3.2M349.8 358.4h3.2M349.8 323.7h3.2M349.8 341.7h3.2M349.8 341.9h3.2M349.8 330.3h3.2M349.8 322.0h3.2M349.8 325.4h3.2M349.8 340.0h3.2M349.8 327.5h3.2M349.8 355.6h3.2M349.8 340.5h3.2M349.8 357.9h3.2M349.8 353.0h3.2M349.8 357.4h3.2M349.8 364.0h3.2M349.8 366.7h3.2M349.8 337.3h3.2M349.8 367.9h3.2M349.8 342.5h3.2M349.8 316.9h3.2M349.8 323.9h3.2M349.8 317.1h3.2M349.8 323.1h3.2M349.8 335.3h3.2M349.8 353.9h3.2M349.8 323.0h3.2M349.8 318.6h3.2M349.8 348.0h3.2M349.8 348.5h3.2M349.8 346.7h3.2M349.8 341.1h3.2M349.8 334.5h3.2M349.8 352.6h3.2M349.8 327.1h3.2M349.8 354.0h3.2M349.8 359.9h3.2M349.8 348.8h3.2M349.8 347.3h3.2M349.8 332.9h3.2M349.8 369.6h3.2M349.8 317.4h3.2M349.8 345.7h3.2M349.8 323.4h3.2M349.8 352.8h3.2M349.8 338.4h3.2M349.8 366.7h3.2M349.8 319.9h3.2M349.8 319.6h3.2M349.8 353.0h3.2M349.8 348.5h3.2M349.8 341.7h3.2M349.8 356.5h3.2M349.8 321.1h3.2M349.8 342.9h3.2M349.8 353.0h3.2M349.8 347.3h3.2M349.8 340.0h3.2M349.8 366.2h3.2M349.8 358.5h3.2M349.8 348.3h3.2M349.8 366.9h3.2M349.8 356.1h3.2M349.8 316.4h3.2M349.8 327.8h3.2M349.8 331.8h3.2M349.8 335.0h3.2M349.8 330.8h3.2M349.8 349.5h3.2M349.8 345.4h3.2M349.8 367.8h3.2M349.8 358.7h3.2M349.8 331.6h3.2M349.8 368.8h3.2M349.8 369.9h3.2M349.8 356.7h3.2M349.8 339.9h3.2M349.8 349.0h3.2M349.8 326.8h3.2M349.8 322.8h3.2M349.8 328.9h3.2M349.8 328.1h3.2M349.8 335.2h3.2M349.8 339.2h3.2M349.8 341.5h3.2M349.8 332.9h3.2M349.8 356.5h3.2M349.8 359.3h3.2M349.8 348.1h3.2M349.8 353.1h3.2M349.8 347.4h3.2M349.8 349.1h3.2M349.8 352.1h3.2M349.8 347.9h3.2M349.8 345.6h3.2M349.8 341.1h3.2M349.8 330.7h3.2M349.8 352.8h3.2M349.8 360.7h3.2M349.8 340.2h3.2M349.8 351.8h3.2M349.8 314.6h3.2M349.8 354.8h3.2M349.8 317.2h3.2M349.8 325.4h3.2M349.8 336.1h3.2M349.8 340.8h3.2M349.8 329.9h3.2M349.8 329.5h3.2M349.8 322.2h3.2M349.8 337.5h3.2M349.8 337.0h3.2M349.8 338.3h3.2M349.8 343.4h3.2M349.8 333.0h3.2M349.8 332.5h3.2M349.8 350.4h3.2M349.8 353.0h3.2M349.8 345.1h3.2M349.8 321.2h3.2M349.8 345.8h3.2M349.8 326.2h3.2M349.8 328.5h3.2M349.8 360.5h3.2M349.8 334.2h3.2M349.8 351.3h3.2M349.8 347.1h3.2M349.8 341.3h3.2M349.8 313.8h3.2M349.8 332.9h3.2M349.8 344.6h3.2M349.8 327.0h3.2M349.8 358.8h3.2M349.8 340.5h3.2M349.8 346.5h3.2M349.8 328.4h3.2M349.8 373.3h3.2M349.8 336.1h3.2M349.8 326.6h3.2M349.8 371.8h3.2M349.8 328.2h3.2M349.8 326.7h3.2M349.8 335.4h3.2M349.8 363.3h3.2M349.8 320.2h3.2M349.8 348.0h3.2M349.8 322.0h3.2M349.8 342.7h3.2M349.8 347.8h3.2M349.8 358.2h3.2M349.8 361.0h3.2M349.8 327.5h3.2M349.8 351.7h3.2M349.8 343.7h3.2M349.8 352.8h3.2M349.8 354.0h3.2M349.8 327.6h3.2M349.8 357.8h3.2M349.8 326.1h3.2M349.8 338.4h3.2M349.8 347.0h3.2M349.8 319.3h3.2M349.8 364.2h3.2M349.8 375.2h3.2M349.8 350.4h3.2M349.8 319.5h3.2M349.8 332.9h3.2M349.8 316.6h3.2M349.8 355.6h3.2M349.8 339.1h3.2M349.8 344.1h3.2M349.8 342.6h3.2M349.8 335.7h3.2M349.8 328.6h3.2M349.8 331.1h3.2M349.8 331.6h3.2M349.8 321.9h3.2M349.8 343.8h3.2M349.8 358.9h3.2M349.8 343.4h3.2M349.8 358.2h3.2M349.8 328.8h3.2M349.8 360.3h3.2M349.8 341.2h3.2M349.8 329.2h3.2M349.8 322.1h3.2M349.8 353.6h3.2M349.8 346.2h3.2M349.8 322.6h3.2M349.8 354.1h3.2M349.8 331.9h3.2M349.8 352.5h3.2M349.8 357.8h3.2M349.8 322.4h3.2M349.8 347.6h3.2M349.8 338.3h3.2M349.8 331.2h3.2M349.8 339.3h3.2M349.8 350.8h3.2M349.8 347.0h3.2M349.8 365.0h3.2M349.8 342.5h3.2M349.8 337.4h3.2M349.8 357.5h3.2M349.8 316.9h3.2M349.8 344.6h3.2M349.8 329.7h3.2M349.8 342.6h3.2M349.8 377.2h3.2M349.8 335.7h3.2M349.8 337.1h3.2M349.8 346.0h3.2M349.8 358.1h3.2M349.8 346.1h3.2M349.8 333.5h3.2M349.8 341.7h3.2M349.8 343.9h3.2M349.8 347.0h3.2M349.8 366.9h3.2M349.8 337.0h3.2M349.8 343.2h3.2M349.8 346.1h3.2M349.8 345.3h3.2M349.8 323.1h3.2M349.8 336.0h3.2M349.8 346.0h3.2M349.8 334.9h3.2M349.8 323.0h3.2M349.8 328.0h3.2M349.8 341.0h3.2M349.8 350.4h3.2M349.8 343.3h3.2M349.8 342.3h3.2M349.8 340.2h3.2M349.8 358.2h3.2M349.8 356.1h3.2M349.8 344.5h3.2M349.8 338.8h3.2M349.8 328.4h3.2M349.8 333.6h3.2M349.8 333.1h3.2M349.8 322.4h3.2M349.8 345.0h3.2M349.8 350.8h3.2M349.8 334.1h3.2M349.8 337.2h3.2M349.8 326.3h3.2M349.8 347.9h3.2M349.8 346.2h3.2M349.8 345.5h3.2M349.8 341.5h3.2M349.8 357.2h3.2M349.8 362.1h3.2M349.8 353.8h3.2M349.8 339.8h3.2M349.8 340.6h3.2M349.8 333.9h3.2M349.8 361.5h3.2M349.8 349.2h3.2M349.8 368.9h3.2M349.8 353.2h3.2M349.8 327.6h3.2M349.8 338.8h3.2M349.8 336.7h3.2M349.8 317.9h3.2M349.8 355.0h3.2M349.8 351.2h3.2M349.8 333.0h3.2M349.8 331.6h3.2M349.8 334.5h3.2M349.8 338.8h3.2M349.8 345.2h3.2M349.8 329.5h3.2M349.8 330.6h3.2M349.8 328.7h3.2M349.8 339.2h3.2M349.8 317.7h3.2M349.8 356.4h3.2M349.8 333.3h3.2M349.8 360.7h3.2M349.8 329.8h3.2M349.8 351.5h3.2M349.8 359.5h3.2M349.8 343.7h3.2M349.8 323.3h3.2M349.8 353.1h3.2M349.8 349.7h3.2M349.8 340.9h3.2M349.8 351.3h3.2M349.8 343.6h3.2M349.8 355.4h3.2M349.8 337.8h3.2M349.8 351.0h3.2M349.8 355.9h3.2M349.8 344.2h3.2M349.8 362.9h3.2M349.8 344.0h3.2M349.8 348.4h3.2M349.8 332.8h3.2M349.8 347.6h3.2M349.8 356.5h3.2M349.8 313.3h3.2M349.8 352.3h3.2M349.8 329.4h3.2M349.8 343.1h3.2M349.8 318.2h3.2M349.8 338.5h3.2M349.8 349.5h3.2M349.8 351.9h3.2M349.8 365.7h3.2M349.8 333.8h3.2M349.8 326.3h3.2M349.8 346.6h3.2M349.8 344.5h3.2M349.8 339.6h3.2M349.8 333.3h3.2M349.8 338.5h3.2M349.8 347.8h3.2M349.8 331.0h3.2M349.8 355.6h3.2M349.8 362.8h3.2M349.8 336.4h3.2M349.8 350.8h3.2M349.8 326.2h3.2M349.8 318.5h3.2M349.8 330.3h3.2M349.8 349.9h3.2M349.8 339.7h3.2M349.8 345.4h3.2M349.8 347.9h3.2M349.8 313.7h3.2M349.8 352.4h3.2M349.8 354.0h3.2M349.8 333.2h3.2M349.8 346.2h3.2M349.8 353.2h3.2M349.8 320.4h3.2M349.8 328.5h3.2M349.8 349.3h3.2M349.8 341.8h3.2M349.8 347.1h3.2M349.8 355.0h3.2M349.8 362.3h3.2M349.8 366.3h3.2M349.8 339.2h3.2M349.8 343.6h3.2M349.8 326.5h3.2M349.8 328.1h3.2M349.8 336.4h3.2M349.8 327.2h3.2M349.8 330.7h3.2M349.8 340.7h3.2M349.8 347.7h3.2M349.8 311.9h3.2M349.8 334.8h3.2M349.8 343.2h3.2M349.8 322.3h3.2M349.8 341.5h3.2M349.8 333.8h3.2M349.8 333.9h3.2M349.8 335.6h3.2M349.8 324.8h3.2M349.8 325.0h3.2M349.8 333.0h3.2M349.8 348.2h3.2M349.8 323.1h3.2M349.8 336.3h3.2M349.8 346.7h3.2M349.8 331.1h3.2M349.8 313.0h3.2M349.8 341.6h3.2M349.8 322.5h3.2M349.8 323.6h3.2M349.8 332.4h3.2M349.8 334.6h3.2M349.8 323.5h3.2M349.8 314.9h3.2M349.8 332.8h3.2M349.8 343.1h3.2M349.8 327.4h3.2M349.8 339.6h3.2M349.8 325.0h3.2M349.8 335.2h3.2M349.8 326.7h3.2M349.8 328.5h3.2M349.8 345.8h3.2M349.8 326.3h3.2M349.8 325.0h3.2M349.8 337.2h3.2M349.8 330.1h3.2M349.8 325.1h3.2M349.8 313.4h3.2M349.8 350.6h3.2M349.8 322.2h3.2M349.8 336.7h3.2M349.8 327.0h3.2M349.8 330.5h3.2M349.8 334.9h3.2M349.8 337.1h3.2M349.8 344.2h3.2M349.8 324.3h3.2M349.8 327.8h3.2M349.8 347.7h3.2M349.8 357.7h3.2M349.8 328.8h3.2M349.8 315.0h3.2M349.8 314.6h3.2M349.8 320.9h3.2M349.8 336.2h3.2M349.8 312.7h3.2M349.8 331.1h3.2M349.8 339.4h3.2M349.8 339.1h3.2M349.8 313.7h3.2M349.8 314.9h3.2M349.8 318.8h3.2M349.8 328.1h3.2M349.8 319.2h3.2M349.8 336.4h3.2M349.8 350.1h3.2M349.8 320.2h3.2M349.8 318.9h3.2M349.8 326.2h3.2M349.8 326.5h3.2M349.8 345.8h3.2M349.8 329.7h3.2M349.8 342.6h3.2M349.8 352.3h3.2M349.8 313.7h3.2M349.8 335.0h3.2M349.8 315.1h3.2M349.8 319.9h3.2M349.8 334.4h3.2M349.8 330.4h3.2M349.8 354.6h3.2M349.8 337.1h3.2M349.8 332.7h3.2M349.8 334.1h3.2M349.8 317.7h3.2M349.8 335.1h3.2M349.8 338.3h3.2M349.8 332.3h3.2M349.8 313.2h3.2M349.8 333.5h3.2M349.8 350.6h3.2M349.8 379.5h3.2M349.8 379.5h3.2M349.8 379.5h3.2M349.8 379.5h3.2M349.8 379.5h3.2M349.8 379.5h3.2M349.8 379.5h3.2M349.8 379.5h3.2M349.8 379.5h3.2M349.8 379.5h3.2M349.8 379.5h3.2M349.8 379.5h3.2M349.8 379.5h3.2M349.8 379.5h3.2M349.8 379.5h3.2M349.8 379.5h3.2M349.8 379.5h3.2M349.8 379.5h3.2M349.8 379.5h3.2M349.8 379.5h3.2M349.8 379.5h3.2M349.8 379.5h3.2M349.8 379.5h3.2M349.8 379.5h3.2M349.8 379.5h3.2M349.8 379.5h3.2M349.8 379.5h3.2M349.8 379.5h3.2M349.8 379.5h3.2M349.8 379.5h3.2M349.8 379.5h3.2M349.8 379.5h3.2M349.8 379.5h3.2M349.8 379.5h3.2M349.8 379.5h3.2M349.8 379.5h3.2M349.8 379.5h3.2M349.8 379.5h3.2M349.8 379.5h3.2M349.8 379.5h3.2" stroke="#5a9fd4" stroke-width="0.5" fill="none" opacity="0.5"/>
<path d="M352.7,340.6 L357.22,339.33 L361.74,337.95 L366.26,336.48 L370.78,334.95 L375.3,333.38 L379.82,331.79 L384.34,330.17 L388.86,328.54 L393.38,326.9 L397.9,325.25 L402.42,323.6 L406.94,321.94 L411.46,320.28 L415.98,318.62 L420.5,316.95 L425.02,315.28 L429.54,313.62 L434.06,311.94 L438.58,310.27 L443.1,308.6 L443.1,327.8 L438.58,328.55 L434.06,329.3 L429.54,330.04 L425.02,330.8 L420.5,331.55 L415.98,332.3 L411.46,333.06 L406.94,333.82 L402.42,334.58 L397.9,335.35 L393.38,336.12 L388.86,336.9 L384.34,337.69 L379.82,338.49 L375.3,339.32 L370.78,340.17 L366.26,341.06 L361.74,342.01 L357.22,343.05 L352.7,344.2 Z" fill="#dcebf6"/>
<line x1="352.7" y1="342.4" x2="443.1" y2="318.2" stroke="#9cc7e2" stroke-width="2.8" />
<line x1="349.4" y1="298.6" x2="349.4" y2="383" stroke="#333" stroke-width="0.8" />
<line x1="349.4" y1="383" x2="447.8" y2="383" stroke="#333" stroke-width="0.8" />
<line x1="347" y1="379.5" x2="349.4" y2="379.5" stroke="#333" stroke-width="0.8" />
<text x="346.2" y="382.5" font-size="8.4" text-anchor="end" fill="#4d4d4d" font-weight="normal" stroke="#4d4d4d" stroke-width="0.22" >0</text>
<line x1="347" y1="349.4" x2="349.4" y2="349.4" stroke="#333" stroke-width="0.8" />
<text x="346.2" y="352.4" font-size="8.4" text-anchor="end" fill="#4d4d4d" font-weight="normal" stroke="#4d4d4d" stroke-width="0.22" >1</text>
<line x1="347" y1="319.3" x2="349.4" y2="319.3" stroke="#333" stroke-width="0.8" />
<text x="346.2" y="322.3" font-size="8.4" text-anchor="end" fill="#4d4d4d" font-weight="normal" stroke="#4d4d4d" stroke-width="0.22" >2</text>
<line x1="355.2" y1="383" x2="355.2" y2="385.4" stroke="#333" stroke-width="0.8" />
<text x="355.2" y="393.6" font-size="8.4" text-anchor="middle" fill="#4d4d4d" font-weight="normal" stroke="#4d4d4d" stroke-width="0.22" >0</text>
<line x1="383.6" y1="383" x2="383.6" y2="385.4" stroke="#333" stroke-width="0.8" />
<text x="383.6" y="393.6" font-size="8.4" text-anchor="middle" fill="#4d4d4d" font-weight="normal" stroke="#4d4d4d" stroke-width="0.22" >5</text>
<line x1="412" y1="383" x2="412" y2="385.4" stroke="#333" stroke-width="0.8" />
<text x="412" y="393.6" font-size="8.4" text-anchor="middle" fill="#4d4d4d" font-weight="normal" stroke="#4d4d4d" stroke-width="0.22" >10</text>
<line x1="440.4" y1="383" x2="440.4" y2="385.4" stroke="#333" stroke-width="0.8" />
<text x="440.4" y="393.6" font-size="8.4" text-anchor="middle" fill="#4d4d4d" font-weight="normal" stroke="#4d4d4d" stroke-width="0.22" >15</text>
<text x="0" y="0" font-size="8.4" text-anchor="middle" fill="#231f20" font-weight="normal" stroke="#231f20" stroke-width="0.22" transform="translate(339.4,338.8) rotate(-90)">TCR NES</text>
<text x="355" y="309.3" font-size="8.6" text-anchor="start" fill="#231f20" font-weight="normal" stroke="#231f20" stroke-width="0.22" >R = 0.19, p = 1.5e-05</text>
<path d="M483.4 380.4v2.4M480.5 380.4v2.4M482.1 380.4v2.4M480.7 380.4v2.4M481.2 380.4v2.4M480.5 380.4v2.4M481.6 380.4v2.4M485.4 380.4v2.4M480.9 380.4v2.4M480.7 380.4v2.4M481.0 380.4v2.4M480.7 380.4v2.4M481.1 380.4v2.4M480.4 380.4v2.4M480.8 380.4v2.4M486.7 380.4v2.4M481.5 380.4v2.4M481.9 380.4v2.4M481.6 380.4v2.4M481.9 380.4v2.4M480.8 380.4v2.4M480.5 380.4v2.4M481.0 380.4v2.4M482.9 380.4v2.4M481.0 380.4v2.4M482.4 380.4v2.4M482.6 380.4v2.4M482.8 380.4v2.4M481.6 380.4v2.4M480.8 380.4v2.4M481.5 380.4v2.4M480.7 380.4v2.4M482.7 380.4v2.4M481.5 380.4v2.4M481.4 380.4v2.4M481.2 380.4v2.4M481.1 380.4v2.4M483.0 380.4v2.4M482.0 380.4v2.4M481.6 380.4v2.4M481.7 380.4v2.4M480.4 380.4v2.4M480.6 380.4v2.4M482.4 380.4v2.4M482.2 380.4v2.4M480.6 380.4v2.4M480.9 380.4v2.4M481.6 380.4v2.4M480.6 380.4v2.4M481.4 380.4v2.4M480.4 380.4v2.4M481.6 380.4v2.4M482.0 380.4v2.4M480.5 380.4v2.4M480.8 380.4v2.4M480.4 380.4v2.4M480.4 380.4v2.4M480.8 380.4v2.4M480.5 380.4v2.4M480.8 380.4v2.4M481.8 380.4v2.4M481.7 380.4v2.4M482.3 380.4v2.4M481.5 380.4v2.4M481.4 380.4v2.4M480.7 380.4v2.4M482.4 380.4v2.4M480.5 380.4v2.4M481.1 380.4v2.4M480.5 380.4v2.4M481.3 380.4v2.4M480.9 380.4v2.4M480.5 380.4v2.4M480.4 380.4v2.4M480.5 380.4v2.4M481.3 380.4v2.4M483.0 380.4v2.4M480.9 380.4v2.4M480.7 380.4v2.4M481.9 380.4v2.4M481.6 380.4v2.4M481.1 380.4v2.4M480.4 380.4v2.4M480.5 380.4v2.4M481.6 380.4v2.4M480.6 380.4v2.4M480.6 380.4v2.4M481.0 380.4v2.4M480.7 380.4v2.4M482.6 380.4v2.4M483.5 380.4v2.4M481.1 380.4v2.4M481.2 380.4v2.4M481.1 380.4v2.4M480.6 380.4v2.4M480.8 380.4v2.4M481.1 380.4v2.4M480.7 380.4v2.4M484.3 380.4v2.4M481.5 380.4v2.4M480.5 380.4v2.4M481.4 380.4v2.4M480.4 380.4v2.4M481.0 380.4v2.4M480.6 380.4v2.4M480.7 380.4v2.4M480.8 380.4v2.4M481.7 380.4v2.4M480.6 380.4v2.4M481.0 380.4v2.4M481.7 380.4v2.4M480.5 380.4v2.4M480.5 380.4v2.4M483.5 380.4v2.4M481.5 380.4v2.4M481.8 380.4v2.4M481.6 380.4v2.4M481.0 380.4v2.4M481.9 380.4v2.4M481.0 380.4v2.4M483.3 380.4v2.4M482.1 380.4v2.4M481.0 380.4v2.4M480.7 380.4v2.4M482.8 380.4v2.4M481.2 380.4v2.4M480.8 380.4v2.4M486.2 380.4v2.4M480.4 380.4v2.4M480.5 380.4v2.4M480.7 380.4v2.4M480.6 380.4v2.4M480.9 380.4v2.4M481.1 380.4v2.4M483.2 380.4v2.4M481.7 380.4v2.4M481.6 380.4v2.4M480.7 380.4v2.4M481.5 380.4v2.4M480.9 380.4v2.4M481.2 380.4v2.4M480.5 380.4v2.4M481.2 380.4v2.4M482.4 380.4v2.4M481.0 380.4v2.4M480.9 380.4v2.4M481.5 380.4v2.4M480.8 380.4v2.4M481.7 380.4v2.4M481.3 380.4v2.4M480.9 380.4v2.4M481.3 380.4v2.4M481.6 380.4v2.4M482.4 380.4v2.4M480.4 380.4v2.4M481.3 380.4v2.4M482.6 380.4v2.4M482.0 380.4v2.4M481.8 380.4v2.4M481.2 380.4v2.4M480.6 380.4v2.4M481.3 380.4v2.4M480.9 380.4v2.4M481.0 380.4v2.4M480.6 380.4v2.4M480.4 380.4v2.4M481.0 380.4v2.4M481.7 380.4v2.4M481.0 380.4v2.4M480.7 380.4v2.4M481.0 380.4v2.4M481.7 380.4v2.4M480.6 380.4v2.4M480.9 380.4v2.4M482.3 380.4v2.4M480.8 380.4v2.4M481.0 380.4v2.4M481.2 380.4v2.4M483.6 380.4v2.4M480.8 380.4v2.4M480.9 380.4v2.4M481.4 380.4v2.4M481.0 380.4v2.4M480.5 380.4v2.4M481.4 380.4v2.4M481.9 380.4v2.4M482.1 380.4v2.4M480.5 380.4v2.4M481.1 380.4v2.4M482.2 380.4v2.4M480.7 380.4v2.4M480.6 380.4v2.4M480.7 380.4v2.4M483.4 380.4v2.4M480.8 380.4v2.4M480.8 380.4v2.4M481.0 380.4v2.4M480.6 380.4v2.4M482.5 380.4v2.4M482.8 380.4v2.4M482.9 380.4v2.4M480.8 380.4v2.4M480.6 380.4v2.4M481.5 380.4v2.4M481.9 380.4v2.4M480.6 380.4v2.4M480.9 380.4v2.4M482.0 380.4v2.4M482.9 380.4v2.4M481.0 380.4v2.4M481.7 380.4v2.4M483.0 380.4v2.4M480.7 380.4v2.4M480.8 380.4v2.4M480.9 380.4v2.4M480.8 380.4v2.4M481.0 380.4v2.4M483.5 380.4v2.4M480.5 380.4v2.4M480.8 380.4v2.4M482.8 380.4v2.4M480.9 380.4v2.4M481.1 380.4v2.4M480.9 380.4v2.4M480.7 380.4v2.4M480.7 380.4v2.4M482.9 380.4v2.4M480.6 380.4v2.4M480.7 380.4v2.4M480.8 380.4v2.4M480.6 380.4v2.4M480.8 380.4v2.4M480.8 380.4v2.4M480.5 380.4v2.4M482.2 380.4v2.4M480.5 380.4v2.4M480.8 380.4v2.4M480.9 380.4v2.4M486.1 380.4v2.4M481.3 380.4v2.4M480.7 380.4v2.4M481.2 380.4v2.4M481.1 380.4v2.4M482.1 380.4v2.4M481.1 380.4v2.4M480.4 380.4v2.4M480.5 380.4v2.4M482.7 380.4v2.4M480.5 380.4v2.4M480.4 380.4v2.4M480.5 380.4v2.4M480.5 380.4v2.4M481.4 380.4v2.4M481.4 380.4v2.4M480.4 380.4v2.4M481.0 380.4v2.4M481.2 380.4v2.4M480.4 380.4v2.4M480.6 380.4v2.4M481.1 380.4v2.4M481.5 380.4v2.4M481.0 380.4v2.4M480.5 380.4v2.4M480.6 380.4v2.4M480.4 380.4v2.4M481.3 380.4v2.4M482.2 380.4v2.4M481.1 380.4v2.4M482.8 380.4v2.4M482.0 380.4v2.4M481.3 380.4v2.4M480.7 380.4v2.4M480.9 380.4v2.4M481.9 380.4v2.4M482.0 380.4v2.4M480.7 380.4v2.4M481.8 380.4v2.4M481.5 380.4v2.4M481.5 380.4v2.4M481.1 380.4v2.4M480.6 380.4v2.4M481.4 380.4v2.4M481.3 380.4v2.4M481.0 380.4v2.4M482.0 380.4v2.4M482.1 380.4v2.4M480.6 380.4v2.4M480.5 380.4v2.4M480.6 380.4v2.4M483.4 380.4v2.4M481.0 380.4v2.4M480.7 380.4v2.4M481.5 380.4v2.4M480.7 380.4v2.4M480.9 380.4v2.4M480.9 380.4v2.4M481.4 380.4v2.4M480.5 380.4v2.4M482.7 380.4v2.4M480.6 380.4v2.4M480.9 380.4v2.4M481.1 380.4v2.4M481.8 380.4v2.4M481.5 380.4v2.4M481.0 380.4v2.4M480.8 380.4v2.4M480.6 380.4v2.4M481.0 380.4v2.4M481.2 380.4v2.4M480.7 380.4v2.4M482.3 380.4v2.4M480.6 380.4v2.4M482.4 380.4v2.4M481.5 380.4v2.4M482.1 380.4v2.4M480.7 380.4v2.4M480.6 380.4v2.4M480.7 380.4v2.4M481.6 380.4v2.4M480.8 380.4v2.4M482.1 380.4v2.4M480.4 380.4v2.4M480.5 380.4v2.4M481.3 380.4v2.4M481.2 380.4v2.4M482.7 380.4v2.4M481.9 380.4v2.4M482.7 380.4v2.4M483.6 380.4v2.4M482.9 380.4v2.4M482.4 380.4v2.4M481.2 380.4v2.4M480.6 380.4v2.4M480.6 380.4v2.4M480.5 380.4v2.4M481.3 380.4v2.4M483.7 380.4v2.4M480.9 380.4v2.4M480.6 380.4v2.4M480.6 380.4v2.4M480.5 380.4v2.4M480.4 380.4v2.4M481.6 380.4v2.4M480.5 380.4v2.4M481.1 380.4v2.4M481.2 380.4v2.4M480.6 380.4v2.4M480.5 380.4v2.4M480.5 380.4v2.4M481.3 380.4v2.4M481.4 380.4v2.4M481.2 380.4v2.4M480.5 380.4v2.4M480.5 380.4v2.4M480.7 380.4v2.4M483.1 380.4v2.4M480.8 380.4v2.4M481.3 380.4v2.4M480.5 380.4v2.4M483.2 380.4v2.4M481.3 380.4v2.4M481.1 380.4v2.4M480.8 380.4v2.4M482.1 380.4v2.4M487.2 380.4v2.4M481.6 380.4v2.4M481.1 380.4v2.4M481.3 380.4v2.4M481.9 380.4v2.4M480.5 380.4v2.4M483.6 380.4v2.4M482.1 380.4v2.4M482.6 380.4v2.4M480.4 380.4v2.4M482.5 380.4v2.4M480.9 380.4v2.4M481.2 380.4v2.4M480.4 380.4v2.4M480.4 380.4v2.4M480.9 380.4v2.4M481.4 380.4v2.4M480.4 380.4v2.4M480.9 380.4v2.4M482.7 380.4v2.4M481.0 380.4v2.4M480.8 380.4v2.4M481.1 380.4v2.4M480.9 380.4v2.4M481.9 380.4v2.4M481.2 380.4v2.4M480.5 380.4v2.4M481.5 380.4v2.4M484.0 380.4v2.4M480.7 380.4v2.4M480.9 380.4v2.4M480.7 380.4v2.4M480.6 380.4v2.4M482.0 380.4v2.4M480.7 380.4v2.4M482.1 380.4v2.4M481.2 380.4v2.4M481.5 380.4v2.4M480.8 380.4v2.4M482.2 380.4v2.4M481.2 380.4v2.4M483.3 380.4v2.4M481.7 380.4v2.4M482.6 380.4v2.4M481.7 380.4v2.4M481.3 380.4v2.4M481.0 380.4v2.4M480.9 380.4v2.4M481.5 380.4v2.4M480.8 380.4v2.4M480.5 380.4v2.4M481.4 380.4v2.4M481.0 380.4v2.4M484.6 380.4v2.4M482.7 380.4v2.4M481.2 380.4v2.4M481.8 380.4v2.4M482.5 380.4v2.4M480.9 380.4v2.4M480.4 380.4v2.4M483.1 380.4v2.4M480.8 380.4v2.4M480.6 380.4v2.4M482.1 380.4v2.4M481.3 380.4v2.4M480.9 380.4v2.4M480.5 380.4v2.4M480.4 380.4v2.4M481.6 380.4v2.4M480.4 380.4v2.4M482.6 380.4v2.4M483.8 380.4v2.4M481.2 380.4v2.4M480.6 380.4v2.4M480.7 380.4v2.4M482.1 380.4v2.4M481.0 380.4v2.4M481.2 380.4v2.4M480.6 380.4v2.4M480.6 380.4v2.4M481.6 380.4v2.4M480.6 380.4v2.4M482.3 380.4v2.4M481.2 380.4v2.4M480.9 380.4v2.4M481.0 380.4v2.4M480.6 380.4v2.4M481.5 380.4v2.4M481.3 380.4v2.4M481.9 380.4v2.4M481.5 380.4v2.4M480.4 380.4v2.4M480.6 380.4v2.4M480.6 380.4v2.4M480.4 380.4v2.4M481.2 380.4v2.4M481.0 380.4v2.4M480.6 380.4v2.4M481.9 380.4v2.4M483.5 380.4v2.4M480.4 380.4v2.4M480.5 380.4v2.4M482.0 380.4v2.4M480.7 380.4v2.4M480.6 380.4v2.4M480.9 380.4v2.4M481.0 380.4v2.4M480.6 380.4v2.4M481.8 380.4v2.4M480.5 380.4v2.4M481.3 380.4v2.4M481.9 380.4v2.4M480.5 380.4v2.4M480.5 380.4v2.4M480.5 380.4v2.4M482.8 380.4v2.4M483.9 380.4v2.4M480.8 380.4v2.4M483.4 380.4v2.4M481.1 380.4v2.4M480.4 380.4v2.4M481.6 380.4v2.4M482.3 380.4v2.4M481.7 380.4v2.4M484.2 380.4v2.4M480.7 380.4v2.4M480.4 380.4v2.4M482.6 380.4v2.4M480.8 380.4v2.4M480.7 380.4v2.4M481.2 380.4v2.4M480.5 380.4v2.4M482.9 380.4v2.4M480.6 380.4v2.4M480.6 380.4v2.4M480.9 380.4v2.4M482.1 380.4v2.4M480.8 380.4v2.4M480.8 380.4v2.4M480.6 380.4v2.4M480.4 380.4v2.4M481.5 380.4v2.4M481.8 380.4v2.4M480.6 380.4v2.4M482.6 380.4v2.4M480.5 380.4v2.4M480.6 380.4v2.4M481.4 380.4v2.4M481.1 380.4v2.4M480.7 380.4v2.4M481.0 380.4v2.4M480.9 380.4v2.4M480.8 380.4v2.4M480.9 380.4v2.4M480.7 380.4v2.4M480.6 380.4v2.4M480.5 380.4v2.4M482.1 380.4v2.4M480.6 380.4v2.4M480.7 380.4v2.4M480.9 380.4v2.4M481.5 380.4v2.4M482.1 380.4v2.4M481.9 380.4v2.4M480.8 380.4v2.4M480.7 380.4v2.4M480.7 380.4v2.4M481.1 380.4v2.4M482.0 380.4v2.4M481.0 380.4v2.4M482.1 380.4v2.4M480.6 380.4v2.4M481.2 380.4v2.4M481.1 380.4v2.4M480.4 380.4v2.4M480.4 380.4v2.4M481.0 380.4v2.4M480.5 380.4v2.4M481.0 380.4v2.4M481.4 380.4v2.4M482.0 380.4v2.4M481.6 380.4v2.4M483.8 380.4v2.4M482.5 380.4v2.4M480.5 380.4v2.4M480.5 380.4v2.4M481.1 380.4v2.4M480.6 380.4v2.4M481.2 380.4v2.4M482.6 380.4v2.4M486.0 380.4v2.4M481.6 380.4v2.4M483.0 380.4v2.4M481.0 380.4v2.4M480.7 380.4v2.4M480.4 380.4v2.4M482.7 380.4v2.4M480.4 380.4v2.4M480.8 380.4v2.4M480.7 380.4v2.4M481.0 380.4v2.4M480.6 380.4v2.4M483.9 380.4v2.4M480.9 380.4v2.4M480.4 380.4v2.4M480.6 380.4v2.4M480.8 380.4v2.4M481.5 380.4v2.4M480.7 380.4v2.4M481.9 380.4v2.4M480.9 380.4v2.4M481.2 380.4v2.4M483.9 380.4v2.4M481.4 380.4v2.4M483.1 380.4v2.4M482.7 380.4v2.4M480.5 380.4v2.4M480.4 380.4v2.4M482.2 380.4v2.4M481.8 380.4v2.4M480.4 380.4v2.4M480.7 380.4v2.4M482.9 380.4v2.4M482.6 380.4v2.4M481.4 380.4v2.4M481.4 380.4v2.4M482.5 380.4v2.4M482.6 380.4v2.4M480.4 380.4v2.4M480.7 380.4v2.4M480.6 380.4v2.4M481.4 380.4v2.4M482.6 380.4v2.4M480.4 380.4v2.4M481.4 380.4v2.4M480.7 380.4v2.4M490.2 380.4v2.4M488.7 380.4v2.4M488.2 380.4v2.4M497.7 380.4v2.4M491.9 380.4v2.4M487.8 380.4v2.4M504.2 380.4v2.4M492.1 380.4v2.4M487.0 380.4v2.4M497.2 380.4v2.4M504.4 380.4v2.4M542.2 380.4v2.4M502.8 380.4v2.4M503.8 380.4v2.4M488.1 380.4v2.4M490.8 380.4v2.4M502.8 380.4v2.4M502.1 380.4v2.4M497.3 380.4v2.4M494.2 380.4v2.4M504.1 380.4v2.4M493.3 380.4v2.4M492.5 380.4v2.4M497.0 380.4v2.4M492.9 380.4v2.4M487.1 380.4v2.4M488.4 380.4v2.4M532.9 380.4v2.4M510.3 380.4v2.4M486.8 380.4v2.4M488.3 380.4v2.4M501.5 380.4v2.4M502.9 380.4v2.4M509.3 380.4v2.4M489.5 380.4v2.4M516.0 380.4v2.4M487.7 380.4v2.4M499.3 380.4v2.4M491.6 380.4v2.4M511.1 380.4v2.4M492.4 380.4v2.4M505.6 380.4v2.4M486.8 380.4v2.4M504.2 380.4v2.4M555.9 380.4v2.4M501.2 380.4v2.4M517.4 380.4v2.4M493.1 380.4v2.4M487.5 380.4v2.4M510.3 380.4v2.4M520.1 380.4v2.4M495.6 380.4v2.4M517.7 380.4v2.4M491.7 380.4v2.4M494.3 380.4v2.4M501.2 380.4v2.4M496.2 380.4v2.4M497.5 380.4v2.4M514.6 380.4v2.4M496.7 380.4v2.4M504.9 380.4v2.4M507.2 380.4v2.4M495.1 380.4v2.4M503.7 380.4v2.4M504.5 380.4v2.4M499.0 380.4v2.4M492.0 380.4v2.4M509.7 380.4v2.4M510.0 380.4v2.4M522.1 380.4v2.4M488.0 380.4v2.4M493.8 380.4v2.4M489.5 380.4v2.4M482.3 380.4v2.4M488.2 380.4v2.4M483.4 380.4v2.4M483.9 380.4v2.4M489.0 380.4v2.4M487.7 380.4v2.4M481.1 380.4v2.4M487.0 380.4v2.4M480.5 380.4v2.4M481.7 380.4v2.4M491.9 380.4v2.4M496.6 380.4v2.4M482.1 380.4v2.4M489.9 380.4v2.4M481.5 380.4v2.4M484.8 380.4v2.4M483.0 380.4v2.4M480.7 380.4v2.4M483.9 380.4v2.4M485.5 380.4v2.4M493.0 380.4v2.4M480.8 380.4v2.4M482.4 380.4v2.4M480.1 380.4v2.4M481.7 380.4v2.4M482.2 380.4v2.4M491.7 380.4v2.4M499.0 380.4v2.4M481.7 380.4v2.4M484.5 380.4v2.4M485.1 380.4v2.4M484.7 380.4v2.4M501.7 380.4v2.4M500.3 380.4v2.4M480.4 380.4v2.4M483.6 380.4v2.4M485.2 380.4v2.4M487.2 380.4v2.4M485.2 380.4v2.4M491.7 380.4v2.4M480.8 380.4v2.4M484.3 380.4v2.4M492.1 380.4v2.4M481.4 380.4v2.4M481.4 380.4v2.4M486.6 380.4v2.4M481.2 380.4v2.4" stroke="#4fae6a" stroke-width="0.5" fill="none" opacity="0.55"/>
<path d="M482.6 350.2h1.6M479.7 357.4h1.6M481.3 357.8h1.6M479.9 373.7h1.6M480.4 369.8h1.6M479.7 370.8h1.6M480.8 348.5h1.6M484.6 335.6h1.6M480.1 362.2h1.6M479.9 351.7h1.6M480.2 354.7h1.6M479.9 331.3h1.6M480.3 367.1h1.6M479.6 360.2h1.6M480.0 342.5h1.6M485.9 340.4h1.6M480.7 340.8h1.6M481.1 323.3h1.6M480.8 331.9h1.6M481.1 371.4h1.6M480.0 360.7h1.6M479.7 354.9h1.6M480.2 374.7h1.6M482.1 359.3h1.6M480.2 347.9h1.6M481.6 369.3h1.6M481.8 376.7h1.6M482.0 350.3h1.6M480.8 367.5h1.6M480.0 354.6h1.6M480.7 337.1h1.6M479.9 323.9h1.6M481.9 371.0h1.6M480.7 375.9h1.6M480.6 356.1h1.6M480.4 359.9h1.6M480.3 345.0h1.6M482.2 360.4h1.6M481.2 360.3h1.6M480.8 346.4h1.6M480.9 361.6h1.6M479.6 363.3h1.6M479.8 366.6h1.6M481.6 339.6h1.6M481.4 343.0h1.6M479.8 347.1h1.6M480.1 322.0h1.6M480.8 340.0h1.6M479.8 352.4h1.6M480.6 319.4h1.6M479.6 334.8h1.6M480.8 342.8h1.6M481.2 353.9h1.6M479.7 345.2h1.6M480.0 332.0h1.6M479.6 346.0h1.6M479.6 356.2h1.6M480.0 376.3h1.6M479.7 373.9h1.6M480.0 337.6h1.6M481.0 352.1h1.6M480.9 332.6h1.6M481.5 371.9h1.6M480.7 367.4h1.6M480.6 353.6h1.6M479.9 340.9h1.6M481.6 344.6h1.6M479.7 370.1h1.6M480.3 364.1h1.6M479.7 343.0h1.6M480.5 358.9h1.6M480.1 334.3h1.6M479.7 353.2h1.6M479.6 345.9h1.6M479.7 353.5h1.6M480.5 358.1h1.6M482.2 343.4h1.6M480.1 356.0h1.6M479.9 375.3h1.6M481.1 368.3h1.6M480.8 356.3h1.6M480.3 338.0h1.6M479.6 338.8h1.6M479.7 351.8h1.6M480.8 355.2h1.6M479.8 347.9h1.6M479.8 351.4h1.6M480.2 335.7h1.6M479.9 362.9h1.6M481.8 364.6h1.6M482.7 358.0h1.6M480.3 373.4h1.6M480.4 339.0h1.6M480.3 350.1h1.6M479.8 330.4h1.6M480.0 338.8h1.6M480.3 335.3h1.6M479.9 366.5h1.6M483.5 357.9h1.6M480.7 353.2h1.6M479.7 366.7h1.6M480.6 325.4h1.6M479.6 372.1h1.6M480.2 350.4h1.6M479.8 361.2h1.6M479.9 359.1h1.6M480.0 349.4h1.6M480.9 358.3h1.6M479.8 370.7h1.6M480.2 362.9h1.6M480.9 362.4h1.6M479.7 350.4h1.6M479.7 341.5h1.6M482.7 375.0h1.6M480.7 331.2h1.6M481.0 351.8h1.6M480.8 371.4h1.6M480.2 355.4h1.6M481.1 358.0h1.6M480.2 335.2h1.6M482.5 342.6h1.6M481.3 359.1h1.6M480.2 343.9h1.6M479.9 378.4h1.6M482.0 344.5h1.6M480.4 352.5h1.6M480.0 362.5h1.6M485.4 345.0h1.6M479.6 341.7h1.6M479.7 360.9h1.6M479.9 362.7h1.6M479.8 367.7h1.6M480.1 377.9h1.6M480.3 339.6h1.6M482.4 342.0h1.6M480.9 338.9h1.6M480.8 344.1h1.6M479.9 340.9h1.6M480.7 367.1h1.6M480.1 326.3h1.6M480.4 356.5h1.6M479.7 359.4h1.6M480.4 354.1h1.6M481.6 347.1h1.6M480.2 337.4h1.6M480.1 365.3h1.6M480.7 348.2h1.6M480.0 356.3h1.6M480.9 348.4h1.6M480.5 365.2h1.6M480.1 378.6h1.6M480.5 336.9h1.6M480.8 354.2h1.6M481.6 373.8h1.6M479.6 330.1h1.6M480.5 365.1h1.6M481.8 349.8h1.6M481.2 360.7h1.6M481.0 347.0h1.6M480.4 329.2h1.6M479.8 352.5h1.6M480.5 364.2h1.6M480.1 356.1h1.6M480.2 333.9h1.6M479.8 349.2h1.6M479.6 357.0h1.6M480.2 342.8h1.6M480.9 376.6h1.6M480.2 362.5h1.6M479.9 369.1h1.6M480.2 348.9h1.6M480.9 354.4h1.6M479.8 355.6h1.6M480.1 369.0h1.6M481.5 349.0h1.6M480.0 348.1h1.6M480.2 356.3h1.6M480.4 353.3h1.6M482.8 369.5h1.6M480.0 340.1h1.6M480.1 345.7h1.6M480.6 366.1h1.6M480.2 364.5h1.6M479.7 349.2h1.6M480.6 368.4h1.6M481.1 365.2h1.6M481.3 369.4h1.6M479.7 366.8h1.6M480.3 368.0h1.6M481.4 348.6h1.6M479.9 378.2h1.6M479.8 367.4h1.6M479.9 352.4h1.6M482.6 331.9h1.6M480.0 335.5h1.6M480.0 358.4h1.6M480.2 349.5h1.6M479.8 368.6h1.6M481.7 350.6h1.6M482.0 378.0h1.6M482.1 347.0h1.6M480.0 345.6h1.6M479.8 348.4h1.6M480.7 366.7h1.6M481.1 344.4h1.6M479.8 347.0h1.6M480.1 377.8h1.6M481.2 374.5h1.6M482.1 326.7h1.6M480.2 370.7h1.6M480.9 355.4h1.6M482.2 354.6h1.6M479.9 373.6h1.6M480.0 373.0h1.6M480.1 336.4h1.6M480.0 318.0h1.6M480.2 347.1h1.6M482.7 362.3h1.6M479.7 340.2h1.6M480.0 352.9h1.6M482.0 334.5h1.6M480.1 374.7h1.6M480.3 353.0h1.6M480.1 323.9h1.6M479.9 361.8h1.6M479.9 362.9h1.6M482.1 347.9h1.6M479.8 350.4h1.6M479.9 366.8h1.6M480.0 349.5h1.6M479.8 354.2h1.6M480.0 332.6h1.6M480.0 354.9h1.6M479.7 361.6h1.6M481.4 343.1h1.6M479.7 360.3h1.6M480.0 353.0h1.6M480.1 378.5h1.6M485.3 370.4h1.6M480.5 343.7h1.6M479.9 343.7h1.6M480.4 374.9h1.6M480.3 360.4h1.6M481.3 372.2h1.6M480.3 350.7h1.6M479.6 321.0h1.6M479.7 332.2h1.6M481.9 365.3h1.6M479.7 365.9h1.6M479.6 327.4h1.6M479.7 361.7h1.6M479.7 347.2h1.6M480.6 318.1h1.6M480.6 331.1h1.6M479.6 345.6h1.6M480.2 363.0h1.6M480.4 342.8h1.6M479.6 340.4h1.6M479.8 328.4h1.6M480.3 370.9h1.6M480.7 349.1h1.6M480.2 362.1h1.6M479.7 349.6h1.6M479.8 350.2h1.6M479.6 352.0h1.6M480.5 339.6h1.6M481.4 333.6h1.6M480.3 370.7h1.6M482.0 351.5h1.6M481.2 348.8h1.6M480.5 351.6h1.6M479.9 339.8h1.6M480.1 370.8h1.6M481.1 348.2h1.6M481.2 373.2h1.6M479.9 362.9h1.6M481.0 343.5h1.6M480.7 356.6h1.6M480.7 357.9h1.6M480.3 359.1h1.6M479.8 348.0h1.6M480.6 334.8h1.6M480.5 356.9h1.6M480.2 328.0h1.6M481.2 347.1h1.6M481.3 359.4h1.6M479.8 358.3h1.6M479.7 369.4h1.6M479.8 371.5h1.6M482.6 319.9h1.6M480.2 360.6h1.6M479.9 347.6h1.6M480.7 325.3h1.6M479.9 337.8h1.6M480.1 368.1h1.6M480.1 359.0h1.6M480.6 373.8h1.6M479.7 359.6h1.6M481.9 368.4h1.6M479.8 366.0h1.6M480.1 337.5h1.6M480.3 345.6h1.6M481.0 360.8h1.6M480.7 351.5h1.6M480.2 373.4h1.6M480.0 368.3h1.6M479.8 353.4h1.6M480.2 348.9h1.6M480.4 337.9h1.6M479.9 344.6h1.6M481.5 335.5h1.6M479.8 374.0h1.6M481.6 372.0h1.6M480.7 359.7h1.6M481.3 344.9h1.6M479.9 321.7h1.6M479.8 352.9h1.6M479.9 361.0h1.6M480.8 343.9h1.6M480.0 371.9h1.6M481.3 349.2h1.6M479.6 363.4h1.6M479.7 359.9h1.6M480.5 360.0h1.6M480.4 351.3h1.6M481.9 367.6h1.6M481.1 371.1h1.6M481.9 347.4h1.6M482.8 344.1h1.6M482.1 348.0h1.6M481.6 330.5h1.6M480.4 361.7h1.6M479.8 375.2h1.6M479.8 332.6h1.6M479.7 346.2h1.6M480.5 369.5h1.6M482.9 344.2h1.6M480.1 371.8h1.6M479.8 353.0h1.6M479.8 361.9h1.6M479.7 331.9h1.6M479.6 364.0h1.6M480.8 372.1h1.6M479.7 343.9h1.6M480.3 359.3h1.6M480.4 363.3h1.6M479.8 336.7h1.6M479.7 352.6h1.6M479.7 364.7h1.6M480.5 336.8h1.6M480.6 348.3h1.6M480.4 358.3h1.6M479.7 364.3h1.6M479.7 371.4h1.6M479.9 365.7h1.6M482.3 371.7h1.6M480.0 376.0h1.6M480.5 323.5h1.6M479.7 352.2h1.6M482.4 371.2h1.6M480.5 343.5h1.6M480.3 351.9h1.6M480.0 356.4h1.6M481.3 330.5h1.6M486.4 354.3h1.6M480.8 351.3h1.6M480.3 360.7h1.6M480.5 371.7h1.6M481.1 348.7h1.6M479.7 334.0h1.6M482.8 349.3h1.6M481.3 362.1h1.6M481.8 368.0h1.6M479.6 355.0h1.6M481.7 326.0h1.6M480.1 348.7h1.6M480.4 360.0h1.6M479.6 354.5h1.6M479.6 344.8h1.6M480.1 369.2h1.6M480.6 355.6h1.6M479.6 376.1h1.6M480.1 357.9h1.6M481.9 343.2h1.6M480.2 342.9h1.6M480.0 334.0h1.6M480.3 359.2h1.6M480.1 339.8h1.6M481.1 361.6h1.6M480.4 363.6h1.6M479.7 357.7h1.6M480.7 352.7h1.6M483.2 369.7h1.6M479.9 372.2h1.6M480.1 372.8h1.6M479.9 351.7h1.6M479.8 355.4h1.6M481.2 358.5h1.6M479.9 358.4h1.6M481.3 334.7h1.6M480.4 359.2h1.6M480.7 355.1h1.6M480.0 329.1h1.6M481.4 349.7h1.6M480.4 373.8h1.6M482.5 359.6h1.6M480.9 373.1h1.6M481.8 346.0h1.6M480.9 338.8h1.6M480.5 340.4h1.6M480.2 365.7h1.6M480.1 376.9h1.6M480.7 374.7h1.6M480.0 351.0h1.6M479.7 370.5h1.6M480.6 365.8h1.6M480.2 369.5h1.6M483.8 349.5h1.6M481.9 371.6h1.6M480.4 375.6h1.6M481.0 342.0h1.6M481.7 367.6h1.6M480.1 377.5h1.6M479.6 363.5h1.6M482.3 353.3h1.6M480.0 377.2h1.6M479.8 372.3h1.6M481.3 358.7h1.6M480.5 349.5h1.6M480.1 339.7h1.6M479.7 364.5h1.6M479.6 336.4h1.6M480.8 351.9h1.6M479.6 364.8h1.6M481.8 338.8h1.6M483.0 338.6h1.6M480.4 372.5h1.6M479.8 363.3h1.6M479.9 362.2h1.6M481.3 366.8h1.6M480.2 359.3h1.6M480.4 336.1h1.6M479.8 328.9h1.6M479.8 354.1h1.6M480.8 325.0h1.6M479.8 366.2h1.6M481.5 362.0h1.6M480.4 365.6h1.6M480.1 356.3h1.6M480.2 362.4h1.6M479.8 347.5h1.6M480.7 326.8h1.6M480.5 370.3h1.6M481.1 347.9h1.6M480.7 347.0h1.6M479.6 330.4h1.6M479.8 340.9h1.6M479.8 336.1h1.6M479.6 345.3h1.6M480.4 365.6h1.6M480.2 325.0h1.6M479.8 326.3h1.6M481.1 342.2h1.6M482.7 368.3h1.6M479.6 344.0h1.6M479.7 340.1h1.6M481.2 360.6h1.6M479.9 320.8h1.6M479.8 349.6h1.6M480.1 339.9h1.6M480.2 339.7h1.6M479.8 340.8h1.6M481.0 351.9h1.6M479.7 352.4h1.6M480.5 332.5h1.6M481.1 375.6h1.6M479.7 352.0h1.6M479.7 357.5h1.6M479.7 352.5h1.6M482.0 375.3h1.6M483.1 333.5h1.6M480.0 362.5h1.6M482.6 356.8h1.6M480.3 366.6h1.6M479.6 331.8h1.6M480.8 353.0h1.6M481.5 355.4h1.6M480.9 364.7h1.6M483.4 364.1h1.6M479.9 372.8h1.6M479.6 332.2h1.6M481.8 335.0h1.6M480.0 350.1h1.6M479.9 363.7h1.6M480.4 340.5h1.6M479.7 369.9h1.6M482.1 368.3h1.6M479.8 359.3h1.6M479.8 349.3h1.6M480.1 376.4h1.6M481.3 342.6h1.6M480.0 333.8h1.6M480.0 366.6h1.6M479.8 332.0h1.6M479.6 362.3h1.6M480.7 368.2h1.6M481.0 343.4h1.6M479.8 358.0h1.6M481.8 334.8h1.6M479.7 342.1h1.6M479.8 378.8h1.6M480.6 374.7h1.6M480.3 373.8h1.6M479.9 368.0h1.6M480.2 355.8h1.6M480.1 346.0h1.6M480.0 348.0h1.6M480.1 366.4h1.6M479.9 370.0h1.6M479.8 360.7h1.6M479.7 317.8h1.6M481.3 365.3h1.6M479.8 351.0h1.6M479.9 349.2h1.6M480.1 338.0h1.6M480.7 354.8h1.6M481.3 355.2h1.6M481.1 354.7h1.6M480.0 359.4h1.6M479.9 346.6h1.6M479.9 356.1h1.6M480.3 343.4h1.6M481.2 361.9h1.6M480.2 339.3h1.6M481.3 350.5h1.6M479.8 350.8h1.6M480.4 368.8h1.6M480.3 368.8h1.6M479.6 362.3h1.6M479.6 324.1h1.6M480.2 371.0h1.6M479.7 345.2h1.6M480.2 372.5h1.6M480.6 349.1h1.6M481.2 345.7h1.6M480.8 337.8h1.6M483.0 357.4h1.6M481.7 357.3h1.6M479.7 327.7h1.6M479.7 342.4h1.6M480.3 357.7h1.6M479.8 354.5h1.6M480.4 360.4h1.6M481.8 369.3h1.6M485.2 359.7h1.6M480.8 346.4h1.6M482.2 369.7h1.6M480.2 356.0h1.6M479.9 342.0h1.6M479.6 368.0h1.6M481.9 367.2h1.6M479.6 353.3h1.6M480.0 366.4h1.6M479.9 332.3h1.6M480.2 362.0h1.6M479.8 340.2h1.6M483.1 350.9h1.6M480.1 371.2h1.6M479.6 363.1h1.6M479.8 339.8h1.6M480.0 359.4h1.6M480.7 363.8h1.6M479.9 361.3h1.6M481.1 364.3h1.6M480.1 333.8h1.6M480.4 339.7h1.6M483.1 353.5h1.6M480.6 354.6h1.6M482.3 374.7h1.6M481.9 372.6h1.6M479.7 370.2h1.6M479.6 348.2h1.6M481.4 329.8h1.6M481.0 352.4h1.6M479.6 358.3h1.6M479.9 333.4h1.6M482.1 353.1h1.6M481.8 336.1h1.6M480.6 340.2h1.6M480.6 366.1h1.6M481.7 349.1h1.6M481.8 360.0h1.6M479.6 376.2h1.6M479.9 354.8h1.6M479.8 343.1h1.6M480.6 360.1h1.6M481.8 365.1h1.6M479.6 334.2h1.6M480.6 361.7h1.6M479.9 368.0h1.6M489.4 378.3h1.6M487.9 348.2h1.6M487.4 361.4h1.6M496.9 346.9h1.6M491.1 341.6h1.6M487.0 343.0h1.6M503.4 367.7h1.6M491.3 345.0h1.6M486.2 353.1h1.6M496.4 345.0h1.6M503.6 361.3h1.6M541.4 359.3h1.6M502.0 335.6h1.6M503.0 351.1h1.6M487.3 371.0h1.6M490.0 355.4h1.6M502.0 340.0h1.6M501.3 339.0h1.6M496.5 345.4h1.6M493.4 343.2h1.6M503.3 359.6h1.6M492.5 346.9h1.6M491.7 338.3h1.6M496.2 336.2h1.6M492.1 318.9h1.6M486.3 350.5h1.6M487.6 357.7h1.6M532.1 326.3h1.6M509.5 343.3h1.6M486.0 324.3h1.6M487.5 336.7h1.6M500.7 338.8h1.6M502.1 328.0h1.6M508.5 358.5h1.6M488.7 323.5h1.6M515.2 368.0h1.6M486.9 354.7h1.6M498.5 367.8h1.6M490.8 347.0h1.6M510.3 376.6h1.6M491.6 351.3h1.6M504.8 356.9h1.6M486.0 344.0h1.6M503.4 350.5h1.6M555.1 371.1h1.6M500.4 346.6h1.6M516.6 324.7h1.6M492.3 355.8h1.6M486.7 341.7h1.6M509.5 358.0h1.6M519.3 346.1h1.6M494.8 342.6h1.6M516.9 323.7h1.6M490.9 371.8h1.6M493.5 371.2h1.6M500.4 346.3h1.6M495.4 322.8h1.6M496.7 357.8h1.6M513.8 361.3h1.6M495.9 371.7h1.6M504.1 340.9h1.6M506.4 332.3h1.6M494.3 369.3h1.6M502.9 347.6h1.6M503.7 354.5h1.6M498.2 356.7h1.6M491.2 346.7h1.6M508.9 319.2h1.6M509.2 378.9h1.6M521.3 346.8h1.6M487.2 379.6h1.6M493.0 379.6h1.6M488.7 379.6h1.6M481.5 379.6h1.6M487.4 379.6h1.6M482.6 379.6h1.6M483.1 379.6h1.6M488.2 379.6h1.6M486.9 379.6h1.6M480.3 379.6h1.6M486.2 379.6h1.6M479.7 379.6h1.6M480.9 379.6h1.6M491.1 379.6h1.6M495.8 379.6h1.6M481.3 379.6h1.6M489.1 379.6h1.6M480.7 379.6h1.6M484.0 379.6h1.6M482.2 379.6h1.6M479.9 379.6h1.6M483.1 379.6h1.6M484.7 379.6h1.6M492.2 379.6h1.6M480.0 379.6h1.6M481.6 379.6h1.6M479.3 379.6h1.6M480.9 379.6h1.6M481.4 379.6h1.6M490.9 379.6h1.6M498.2 379.6h1.6M480.9 379.6h1.6M483.7 379.6h1.6M484.3 379.6h1.6M483.9 379.6h1.6M500.9 379.6h1.6M499.5 379.6h1.6M479.6 379.6h1.6M482.8 379.6h1.6M484.4 379.6h1.6M486.4 379.6h1.6M484.4 379.6h1.6M490.9 379.6h1.6M480.0 379.6h1.6M483.5 379.6h1.6M491.3 379.6h1.6M480.6 379.6h1.6M480.6 379.6h1.6M485.8 379.6h1.6M480.4 379.6h1.6" stroke="#2a8a45" stroke-width="1.6" fill="none"/>
<path d="M479.0 350.2h3.2M479.0 357.4h3.2M479.0 357.8h3.2M479.0 373.7h3.2M479.0 369.8h3.2M479.0 370.8h3.2M479.0 348.5h3.2M479.0 335.6h3.2M479.0 362.2h3.2M479.0 351.7h3.2M479.0 354.7h3.2M479.0 331.3h3.2M479.0 367.1h3.2M479.0 360.2h3.2M479.0 342.5h3.2M479.0 340.4h3.2M479.0 340.8h3.2M479.0 323.3h3.2M479.0 331.9h3.2M479.0 371.4h3.2M479.0 360.7h3.2M479.0 354.9h3.2M479.0 374.7h3.2M479.0 359.3h3.2M479.0 347.9h3.2M479.0 369.3h3.2M479.0 376.7h3.2M479.0 350.3h3.2M479.0 367.5h3.2M479.0 354.6h3.2M479.0 337.1h3.2M479.0 323.9h3.2M479.0 371.0h3.2M479.0 375.9h3.2M479.0 356.1h3.2M479.0 359.9h3.2M479.0 345.0h3.2M479.0 360.4h3.2M479.0 360.3h3.2M479.0 346.4h3.2M479.0 361.6h3.2M479.0 363.3h3.2M479.0 366.6h3.2M479.0 339.6h3.2M479.0 343.0h3.2M479.0 347.1h3.2M479.0 322.0h3.2M479.0 340.0h3.2M479.0 352.4h3.2M479.0 319.4h3.2M479.0 334.8h3.2M479.0 342.8h3.2M479.0 353.9h3.2M479.0 345.2h3.2M479.0 332.0h3.2M479.0 346.0h3.2M479.0 356.2h3.2M479.0 376.3h3.2M479.0 373.9h3.2M479.0 337.6h3.2M479.0 352.1h3.2M479.0 332.6h3.2M479.0 371.9h3.2M479.0 367.4h3.2M479.0 353.6h3.2M479.0 340.9h3.2M479.0 344.6h3.2M479.0 370.1h3.2M479.0 364.1h3.2M479.0 343.0h3.2M479.0 358.9h3.2M479.0 334.3h3.2M479.0 353.2h3.2M479.0 345.9h3.2M479.0 353.5h3.2M479.0 358.1h3.2M479.0 343.4h3.2M479.0 356.0h3.2M479.0 375.3h3.2M479.0 368.3h3.2M479.0 356.3h3.2M479.0 338.0h3.2M479.0 338.8h3.2M479.0 351.8h3.2M479.0 355.2h3.2M479.0 347.9h3.2M479.0 351.4h3.2M479.0 335.7h3.2M479.0 362.9h3.2M479.0 364.6h3.2M479.0 358.0h3.2M479.0 373.4h3.2M479.0 339.0h3.2M479.0 350.1h3.2M479.0 330.4h3.2M479.0 338.8h3.2M479.0 335.3h3.2M479.0 366.5h3.2M479.0 357.9h3.2M479.0 353.2h3.2M479.0 366.7h3.2M479.0 325.4h3.2M479.0 372.1h3.2M479.0 350.4h3.2M479.0 361.2h3.2M479.0 359.1h3.2M479.0 349.4h3.2M479.0 358.3h3.2M479.0 370.7h3.2M479.0 362.9h3.2M479.0 362.4h3.2M479.0 350.4h3.2M479.0 341.5h3.2M479.0 375.0h3.2M479.0 331.2h3.2M479.0 351.8h3.2M479.0 371.4h3.2M479.0 355.4h3.2M479.0 358.0h3.2M479.0 335.2h3.2M479.0 342.6h3.2M479.0 359.1h3.2M479.0 343.9h3.2M479.0 378.4h3.2M479.0 344.5h3.2M479.0 352.5h3.2M479.0 362.5h3.2M479.0 345.0h3.2M479.0 341.7h3.2M479.0 360.9h3.2M479.0 362.7h3.2M479.0 367.7h3.2M479.0 377.9h3.2M479.0 339.6h3.2M479.0 342.0h3.2M479.0 338.9h3.2M479.0 344.1h3.2M479.0 340.9h3.2M479.0 367.1h3.2M479.0 326.3h3.2M479.0 356.5h3.2M479.0 359.4h3.2M479.0 354.1h3.2M479.0 347.1h3.2M479.0 337.4h3.2M479.0 365.3h3.2M479.0 348.2h3.2M479.0 356.3h3.2M479.0 348.4h3.2M479.0 365.2h3.2M479.0 378.6h3.2M479.0 336.9h3.2M479.0 354.2h3.2M479.0 373.8h3.2M479.0 330.1h3.2M479.0 365.1h3.2M479.0 349.8h3.2M479.0 360.7h3.2M479.0 347.0h3.2M479.0 329.2h3.2M479.0 352.5h3.2M479.0 364.2h3.2M479.0 356.1h3.2M479.0 333.9h3.2M479.0 349.2h3.2M479.0 357.0h3.2M479.0 342.8h3.2M479.0 376.6h3.2M479.0 362.5h3.2M479.0 369.1h3.2M479.0 348.9h3.2M479.0 354.4h3.2M479.0 355.6h3.2M479.0 369.0h3.2M479.0 349.0h3.2M479.0 348.1h3.2M479.0 356.3h3.2M479.0 353.3h3.2M479.0 369.5h3.2M479.0 340.1h3.2M479.0 345.7h3.2M479.0 366.1h3.2M479.0 364.5h3.2M479.0 349.2h3.2M479.0 368.4h3.2M479.0 365.2h3.2M479.0 369.4h3.2M479.0 366.8h3.2M479.0 368.0h3.2M479.0 348.6h3.2M479.0 378.2h3.2M479.0 367.4h3.2M479.0 352.4h3.2M479.0 331.9h3.2M479.0 335.5h3.2M479.0 358.4h3.2M479.0 349.5h3.2M479.0 368.6h3.2M479.0 350.6h3.2M479.0 378.0h3.2M479.0 347.0h3.2M479.0 345.6h3.2M479.0 348.4h3.2M479.0 366.7h3.2M479.0 344.4h3.2M479.0 347.0h3.2M479.0 377.8h3.2M479.0 374.5h3.2M479.0 326.7h3.2M479.0 370.7h3.2M479.0 355.4h3.2M479.0 354.6h3.2M479.0 373.6h3.2M479.0 373.0h3.2M479.0 336.4h3.2M479.0 318.0h3.2M479.0 347.1h3.2M479.0 362.3h3.2M479.0 340.2h3.2M479.0 352.9h3.2M479.0 334.5h3.2M479.0 374.7h3.2M479.0 353.0h3.2M479.0 323.9h3.2M479.0 361.8h3.2M479.0 362.9h3.2M479.0 347.9h3.2M479.0 350.4h3.2M479.0 366.8h3.2M479.0 349.5h3.2M479.0 354.2h3.2M479.0 332.6h3.2M479.0 354.9h3.2M479.0 361.6h3.2M479.0 343.1h3.2M479.0 360.3h3.2M479.0 353.0h3.2M479.0 378.5h3.2M479.0 370.4h3.2M479.0 343.7h3.2M479.0 343.7h3.2M479.0 374.9h3.2M479.0 360.4h3.2M479.0 372.2h3.2M479.0 350.7h3.2M479.0 321.0h3.2M479.0 332.2h3.2M479.0 365.3h3.2M479.0 365.9h3.2M479.0 327.4h3.2M479.0 361.7h3.2M479.0 347.2h3.2M479.0 318.1h3.2M479.0 331.1h3.2M479.0 345.6h3.2M479.0 363.0h3.2M479.0 342.8h3.2M479.0 340.4h3.2M479.0 328.4h3.2M479.0 370.9h3.2M479.0 349.1h3.2M479.0 362.1h3.2M479.0 349.6h3.2M479.0 350.2h3.2M479.0 352.0h3.2M479.0 339.6h3.2M479.0 333.6h3.2M479.0 370.7h3.2M479.0 351.5h3.2M479.0 348.8h3.2M479.0 351.6h3.2M479.0 339.8h3.2M479.0 370.8h3.2M479.0 348.2h3.2M479.0 373.2h3.2M479.0 362.9h3.2M479.0 343.5h3.2M479.0 356.6h3.2M479.0 357.9h3.2M479.0 359.1h3.2M479.0 348.0h3.2M479.0 334.8h3.2M479.0 356.9h3.2M479.0 328.0h3.2M479.0 347.1h3.2M479.0 359.4h3.2M479.0 358.3h3.2M479.0 369.4h3.2M479.0 371.5h3.2M479.0 319.9h3.2M479.0 360.6h3.2M479.0 347.6h3.2M479.0 325.3h3.2M479.0 337.8h3.2M479.0 368.1h3.2M479.0 359.0h3.2M479.0 373.8h3.2M479.0 359.6h3.2M479.0 368.4h3.2M479.0 366.0h3.2M479.0 337.5h3.2M479.0 345.6h3.2M479.0 360.8h3.2M479.0 351.5h3.2M479.0 373.4h3.2M479.0 368.3h3.2M479.0 353.4h3.2M479.0 348.9h3.2M479.0 337.9h3.2M479.0 344.6h3.2M479.0 335.5h3.2M479.0 374.0h3.2M479.0 372.0h3.2M479.0 359.7h3.2M479.0 344.9h3.2M479.0 321.7h3.2M479.0 352.9h3.2M479.0 361.0h3.2M479.0 343.9h3.2M479.0 371.9h3.2M479.0 349.2h3.2M479.0 363.4h3.2M479.0 359.9h3.2M479.0 360.0h3.2M479.0 351.3h3.2M479.0 367.6h3.2M479.0 371.1h3.2M479.0 347.4h3.2M479.0 344.1h3.2M479.0 348.0h3.2M479.0 330.5h3.2M479.0 361.7h3.2M479.0 375.2h3.2M479.0 332.6h3.2M479.0 346.2h3.2M479.0 369.5h3.2M479.0 344.2h3.2M479.0 371.8h3.2M479.0 353.0h3.2M479.0 361.9h3.2M479.0 331.9h3.2M479.0 364.0h3.2M479.0 372.1h3.2M479.0 343.9h3.2M479.0 359.3h3.2M479.0 363.3h3.2M479.0 336.7h3.2M479.0 352.6h3.2M479.0 364.7h3.2M479.0 336.8h3.2M479.0 348.3h3.2M479.0 358.3h3.2M479.0 364.3h3.2M479.0 371.4h3.2M479.0 365.7h3.2M479.0 371.7h3.2M479.0 376.0h3.2M479.0 323.5h3.2M479.0 352.2h3.2M479.0 371.2h3.2M479.0 343.5h3.2M479.0 351.9h3.2M479.0 356.4h3.2M479.0 330.5h3.2M479.0 354.3h3.2M479.0 351.3h3.2M479.0 360.7h3.2M479.0 371.7h3.2M479.0 348.7h3.2M479.0 334.0h3.2M479.0 349.3h3.2M479.0 362.1h3.2M479.0 368.0h3.2M479.0 355.0h3.2M479.0 326.0h3.2M479.0 348.7h3.2M479.0 360.0h3.2M479.0 354.5h3.2M479.0 344.8h3.2M479.0 369.2h3.2M479.0 355.6h3.2M479.0 376.1h3.2M479.0 357.9h3.2M479.0 343.2h3.2M479.0 342.9h3.2M479.0 334.0h3.2M479.0 359.2h3.2M479.0 339.8h3.2M479.0 361.6h3.2M479.0 363.6h3.2M479.0 357.7h3.2M479.0 352.7h3.2M479.0 369.7h3.2M479.0 372.2h3.2M479.0 372.8h3.2M479.0 351.7h3.2M479.0 355.4h3.2M479.0 358.5h3.2M479.0 358.4h3.2M479.0 334.7h3.2M479.0 359.2h3.2M479.0 355.1h3.2M479.0 329.1h3.2M479.0 349.7h3.2M479.0 373.8h3.2M479.0 359.6h3.2M479.0 373.1h3.2M479.0 346.0h3.2M479.0 338.8h3.2M479.0 340.4h3.2M479.0 365.7h3.2M479.0 376.9h3.2M479.0 374.7h3.2M479.0 351.0h3.2M479.0 370.5h3.2M479.0 365.8h3.2M479.0 369.5h3.2M479.0 349.5h3.2M479.0 371.6h3.2M479.0 375.6h3.2M479.0 342.0h3.2M479.0 367.6h3.2M479.0 377.5h3.2M479.0 363.5h3.2M479.0 353.3h3.2M479.0 377.2h3.2M479.0 372.3h3.2M479.0 358.7h3.2M479.0 349.5h3.2M479.0 339.7h3.2M479.0 364.5h3.2M479.0 336.4h3.2M479.0 351.9h3.2M479.0 364.8h3.2M479.0 338.8h3.2M479.0 338.6h3.2M479.0 372.5h3.2M479.0 363.3h3.2M479.0 362.2h3.2M479.0 366.8h3.2M479.0 359.3h3.2M479.0 336.1h3.2M479.0 328.9h3.2M479.0 354.1h3.2M479.0 325.0h3.2M479.0 366.2h3.2M479.0 362.0h3.2M479.0 365.6h3.2M479.0 356.3h3.2M479.0 362.4h3.2M479.0 347.5h3.2M479.0 326.8h3.2M479.0 370.3h3.2M479.0 347.9h3.2M479.0 347.0h3.2M479.0 330.4h3.2M479.0 340.9h3.2M479.0 336.1h3.2M479.0 345.3h3.2M479.0 365.6h3.2M479.0 325.0h3.2M479.0 326.3h3.2M479.0 342.2h3.2M479.0 368.3h3.2M479.0 344.0h3.2M479.0 340.1h3.2M479.0 360.6h3.2M479.0 320.8h3.2M479.0 349.6h3.2M479.0 339.9h3.2M479.0 339.7h3.2M479.0 340.8h3.2M479.0 351.9h3.2M479.0 352.4h3.2M479.0 332.5h3.2M479.0 375.6h3.2M479.0 352.0h3.2M479.0 357.5h3.2M479.0 352.5h3.2M479.0 375.3h3.2M479.0 333.5h3.2M479.0 362.5h3.2M479.0 356.8h3.2M479.0 366.6h3.2M479.0 331.8h3.2M479.0 353.0h3.2M479.0 355.4h3.2M479.0 364.7h3.2M479.0 364.1h3.2M479.0 372.8h3.2M479.0 332.2h3.2M479.0 335.0h3.2M479.0 350.1h3.2M479.0 363.7h3.2M479.0 340.5h3.2M479.0 369.9h3.2M479.0 368.3h3.2M479.0 359.3h3.2M479.0 349.3h3.2M479.0 376.4h3.2M479.0 342.6h3.2M479.0 333.8h3.2M479.0 366.6h3.2M479.0 332.0h3.2M479.0 362.3h3.2M479.0 368.2h3.2M479.0 343.4h3.2M479.0 358.0h3.2M479.0 334.8h3.2M479.0 342.1h3.2M479.0 378.8h3.2M479.0 374.7h3.2M479.0 373.8h3.2M479.0 368.0h3.2M479.0 355.8h3.2M479.0 346.0h3.2M479.0 348.0h3.2M479.0 366.4h3.2M479.0 370.0h3.2M479.0 360.7h3.2M479.0 317.8h3.2M479.0 365.3h3.2M479.0 351.0h3.2M479.0 349.2h3.2M479.0 338.0h3.2M479.0 354.8h3.2M479.0 355.2h3.2M479.0 354.7h3.2M479.0 359.4h3.2M479.0 346.6h3.2M479.0 356.1h3.2M479.0 343.4h3.2M479.0 361.9h3.2M479.0 339.3h3.2M479.0 350.5h3.2M479.0 350.8h3.2M479.0 368.8h3.2M479.0 368.8h3.2M479.0 362.3h3.2M479.0 324.1h3.2M479.0 371.0h3.2M479.0 345.2h3.2M479.0 372.5h3.2M479.0 349.1h3.2M479.0 345.7h3.2M479.0 337.8h3.2M479.0 357.4h3.2M479.0 357.3h3.2M479.0 327.7h3.2M479.0 342.4h3.2M479.0 357.7h3.2M479.0 354.5h3.2M479.0 360.4h3.2M479.0 369.3h3.2M479.0 359.7h3.2M479.0 346.4h3.2M479.0 369.7h3.2M479.0 356.0h3.2M479.0 342.0h3.2M479.0 368.0h3.2M479.0 367.2h3.2M479.0 353.3h3.2M479.0 366.4h3.2M479.0 332.3h3.2M479.0 362.0h3.2M479.0 340.2h3.2M479.0 350.9h3.2M479.0 371.2h3.2M479.0 363.1h3.2M479.0 339.8h3.2M479.0 359.4h3.2M479.0 363.8h3.2M479.0 361.3h3.2M479.0 364.3h3.2M479.0 333.8h3.2M479.0 339.7h3.2M479.0 353.5h3.2M479.0 354.6h3.2M479.0 374.7h3.2M479.0 372.6h3.2M479.0 370.2h3.2M479.0 348.2h3.2M479.0 329.8h3.2M479.0 352.4h3.2M479.0 358.3h3.2M479.0 333.4h3.2M479.0 353.1h3.2M479.0 336.1h3.2M479.0 340.2h3.2M479.0 366.1h3.2M479.0 349.1h3.2M479.0 360.0h3.2M479.0 376.2h3.2M479.0 354.8h3.2M479.0 343.1h3.2M479.0 360.1h3.2M479.0 365.1h3.2M479.0 334.2h3.2M479.0 361.7h3.2M479.0 368.0h3.2M479.0 378.3h3.2M479.0 348.2h3.2M479.0 361.4h3.2M479.0 346.9h3.2M479.0 341.6h3.2M479.0 343.0h3.2M479.0 367.7h3.2M479.0 345.0h3.2M479.0 353.1h3.2M479.0 345.0h3.2M479.0 361.3h3.2M479.0 359.3h3.2M479.0 335.6h3.2M479.0 351.1h3.2M479.0 371.0h3.2M479.0 355.4h3.2M479.0 340.0h3.2M479.0 339.0h3.2M479.0 345.4h3.2M479.0 343.2h3.2M479.0 359.6h3.2M479.0 346.9h3.2M479.0 338.3h3.2M479.0 336.2h3.2M479.0 318.9h3.2M479.0 350.5h3.2M479.0 357.7h3.2M479.0 326.3h3.2M479.0 343.3h3.2M479.0 324.3h3.2M479.0 336.7h3.2M479.0 338.8h3.2M479.0 328.0h3.2M479.0 358.5h3.2M479.0 323.5h3.2M479.0 368.0h3.2M479.0 354.7h3.2M479.0 367.8h3.2M479.0 347.0h3.2M479.0 376.6h3.2M479.0 351.3h3.2M479.0 356.9h3.2M479.0 344.0h3.2M479.0 350.5h3.2M479.0 371.1h3.2M479.0 346.6h3.2M479.0 324.7h3.2M479.0 355.8h3.2M479.0 341.7h3.2M479.0 358.0h3.2M479.0 346.1h3.2M479.0 342.6h3.2M479.0 323.7h3.2M479.0 371.8h3.2M479.0 371.2h3.2M479.0 346.3h3.2M479.0 322.8h3.2M479.0 357.8h3.2M479.0 361.3h3.2M479.0 371.7h3.2M479.0 340.9h3.2M479.0 332.3h3.2M479.0 369.3h3.2M479.0 347.6h3.2M479.0 354.5h3.2M479.0 356.7h3.2M479.0 346.7h3.2M479.0 319.2h3.2M479.0 378.9h3.2M479.0 346.8h3.2M479.0 379.6h3.2M479.0 379.6h3.2M479.0 379.6h3.2M479.0 379.6h3.2M479.0 379.6h3.2M479.0 379.6h3.2M479.0 379.6h3.2M479.0 379.6h3.2M479.0 379.6h3.2M479.0 379.6h3.2M479.0 379.6h3.2M479.0 379.6h3.2M479.0 379.6h3.2M479.0 379.6h3.2M479.0 379.6h3.2M479.0 379.6h3.2M479.0 379.6h3.2M479.0 379.6h3.2M479.0 379.6h3.2M479.0 379.6h3.2M479.0 379.6h3.2M479.0 379.6h3.2M479.0 379.6h3.2M479.0 379.6h3.2M479.0 379.6h3.2M479.0 379.6h3.2M479.0 379.6h3.2M479.0 379.6h3.2M479.0 379.6h3.2M479.0 379.6h3.2M479.0 379.6h3.2M479.0 379.6h3.2M479.0 379.6h3.2M479.0 379.6h3.2M479.0 379.6h3.2M479.0 379.6h3.2M479.0 379.6h3.2M479.0 379.6h3.2M479.0 379.6h3.2M479.0 379.6h3.2M479.0 379.6h3.2M479.0 379.6h3.2M479.0 379.6h3.2M479.0 379.6h3.2M479.0 379.6h3.2M479.0 379.6h3.2M479.0 379.6h3.2M479.0 379.6h3.2M479.0 379.6h3.2M479.0 379.6h3.2" stroke="#4fae6a" stroke-width="0.5" fill="none" opacity="0.5"/>
<path d="M483.5,354.4 L487.93,353.26 L492.36,351.97 L496.79,350.57 L501.22,349.1 L505.65,347.59 L510.08,346.05 L514.51,344.49 L518.94,342.91 L523.37,341.33 L527.8,339.74 L532.23,338.15 L536.66,336.55 L541.09,334.95 L545.52,333.35 L549.95,331.74 L554.38,330.14 L558.81,328.53 L563.24,326.92 L567.67,325.31 L572.1,323.7 L572.1,346.7 L567.67,347.19 L563.24,347.68 L558.81,348.17 L554.38,348.66 L549.95,349.16 L545.52,349.65 L541.09,350.15 L536.66,350.65 L532.23,351.15 L527.8,351.66 L523.37,352.17 L518.94,352.69 L514.51,353.21 L510.08,353.75 L505.65,354.31 L501.22,354.9 L496.79,355.53 L492.36,356.23 L487.93,357.04 L483.5,358 Z" fill="#e0f1dc"/>
<line x1="483.5" y1="356.2" x2="572.1" y2="335.2" stroke="#a6d79b" stroke-width="2.8" />
<line x1="478.6" y1="298.6" x2="478.6" y2="383" stroke="#333" stroke-width="0.8" />
<line x1="478.6" y1="383" x2="576.5" y2="383" stroke="#333" stroke-width="0.8" />
<line x1="476.2" y1="379.6" x2="478.6" y2="379.6" stroke="#333" stroke-width="0.8" />
<text x="475.4" y="382.6" font-size="8.4" text-anchor="end" fill="#4d4d4d" font-weight="normal" stroke="#4d4d4d" stroke-width="0.22" >0</text>
<line x1="476.2" y1="355.6" x2="478.6" y2="355.6" stroke="#333" stroke-width="0.8" />
<text x="475.4" y="358.6" font-size="8.4" text-anchor="end" fill="#4d4d4d" font-weight="normal" stroke="#4d4d4d" stroke-width="0.22" >1</text>
<line x1="476.2" y1="331.6" x2="478.6" y2="331.6" stroke="#333" stroke-width="0.8" />
<text x="475.4" y="334.6" font-size="8.4" text-anchor="end" fill="#4d4d4d" font-weight="normal" stroke="#4d4d4d" stroke-width="0.22" >2</text>
<line x1="476.2" y1="307.6" x2="478.6" y2="307.6" stroke="#333" stroke-width="0.8" />
<text x="475.4" y="310.6" font-size="8.4" text-anchor="end" fill="#4d4d4d" font-weight="normal" stroke="#4d4d4d" stroke-width="0.22" >3</text>
<line x1="484.6" y1="383" x2="484.6" y2="385.4" stroke="#333" stroke-width="0.8" />
<text x="484.6" y="393.6" font-size="8.4" text-anchor="middle" fill="#4d4d4d" font-weight="normal" stroke="#4d4d4d" stroke-width="0.22" >0</text>
<line x1="512.75" y1="383" x2="512.75" y2="385.4" stroke="#333" stroke-width="0.8" />
<text x="512.75" y="393.6" font-size="8.4" text-anchor="middle" fill="#4d4d4d" font-weight="normal" stroke="#4d4d4d" stroke-width="0.22" >5</text>
<line x1="540.9" y1="383" x2="540.9" y2="385.4" stroke="#333" stroke-width="0.8" />
<text x="540.9" y="393.6" font-size="8.4" text-anchor="middle" fill="#4d4d4d" font-weight="normal" stroke="#4d4d4d" stroke-width="0.22" >10</text>
<line x1="569.05" y1="383" x2="569.05" y2="385.4" stroke="#333" stroke-width="0.8" />
<text x="569.05" y="393.6" font-size="8.4" text-anchor="middle" fill="#4d4d4d" font-weight="normal" stroke="#4d4d4d" stroke-width="0.22" >15</text>
<text x="0" y="0" font-size="8.4" text-anchor="middle" fill="#231f20" font-weight="normal" stroke="#231f20" stroke-width="0.22" transform="translate(469.2,338.8) rotate(-90)">Proliferation NES</text>
<text x="484.6" y="309.3" font-size="8.6" text-anchor="start" fill="#231f20" font-weight="normal" stroke="#231f20" stroke-width="0.22" >R = 0.14, p = 0.0012</text>
<path d="M352.6 483.3v2.4M354.0 483.3v2.4M354.2 483.3v2.4M356.0 483.3v2.4M352.7 483.3v2.4M353.4 483.3v2.4M354.2 483.3v2.4M352.4 483.3v2.4M353.6 483.3v2.4M355.0 483.3v2.4M355.1 483.3v2.4M354.0 483.3v2.4M356.4 483.3v2.4M353.4 483.3v2.4M354.8 483.3v2.4M357.6 483.3v2.4M353.3 483.3v2.4M358.0 483.3v2.4M352.3 483.3v2.4M352.6 483.3v2.4M354.2 483.3v2.4M352.8 483.3v2.4M353.0 483.3v2.4M353.9 483.3v2.4M354.5 483.3v2.4M357.8 483.3v2.4M354.5 483.3v2.4M352.4 483.3v2.4M357.1 483.3v2.4M353.9 483.3v2.4M355.9 483.3v2.4M353.9 483.3v2.4M356.2 483.3v2.4M362.0 483.3v2.4M353.2 483.3v2.4M352.4 483.3v2.4M356.5 483.3v2.4M352.1 483.3v2.4M354.8 483.3v2.4M352.9 483.3v2.4M353.6 483.3v2.4M366.2 483.3v2.4M354.0 483.3v2.4M352.1 483.3v2.4M354.1 483.3v2.4M352.4 483.3v2.4M352.9 483.3v2.4M359.0 483.3v2.4M353.4 483.3v2.4M353.6 483.3v2.4M353.8 483.3v2.4M354.1 483.3v2.4M353.3 483.3v2.4M354.8 483.3v2.4M360.3 483.3v2.4M353.6 483.3v2.4M353.2 483.3v2.4M353.9 483.3v2.4M354.2 483.3v2.4M352.2 483.3v2.4M354.5 483.3v2.4M353.0 483.3v2.4M352.1 483.3v2.4M352.2 483.3v2.4M352.7 483.3v2.4M353.4 483.3v2.4M353.0 483.3v2.4M352.8 483.3v2.4M352.8 483.3v2.4M353.1 483.3v2.4M353.9 483.3v2.4M354.9 483.3v2.4M355.6 483.3v2.4M352.6 483.3v2.4M354.6 483.3v2.4M352.3 483.3v2.4M355.9 483.3v2.4M353.3 483.3v2.4M352.9 483.3v2.4M354.3 483.3v2.4M352.6 483.3v2.4M352.3 483.3v2.4M355.6 483.3v2.4M356.0 483.3v2.4M355.6 483.3v2.4M354.3 483.3v2.4M352.3 483.3v2.4M352.8 483.3v2.4M353.0 483.3v2.4M353.2 483.3v2.4M357.5 483.3v2.4M352.4 483.3v2.4M356.6 483.3v2.4M358.6 483.3v2.4M357.7 483.3v2.4M356.0 483.3v2.4M354.4 483.3v2.4M352.9 483.3v2.4M352.6 483.3v2.4M352.8 483.3v2.4M355.6 483.3v2.4M354.6 483.3v2.4M357.6 483.3v2.4M353.9 483.3v2.4M352.1 483.3v2.4M352.8 483.3v2.4M354.4 483.3v2.4M358.1 483.3v2.4M354.1 483.3v2.4M356.3 483.3v2.4M353.4 483.3v2.4M352.5 483.3v2.4M353.7 483.3v2.4M355.4 483.3v2.4M357.6 483.3v2.4M352.0 483.3v2.4M354.2 483.3v2.4M352.7 483.3v2.4M352.7 483.3v2.4M353.4 483.3v2.4M355.3 483.3v2.4M352.3 483.3v2.4M352.3 483.3v2.4M356.2 483.3v2.4M352.9 483.3v2.4M352.9 483.3v2.4M354.0 483.3v2.4M353.0 483.3v2.4M352.3 483.3v2.4M353.8 483.3v2.4M352.2 483.3v2.4M352.5 483.3v2.4M355.4 483.3v2.4M353.1 483.3v2.4M353.3 483.3v2.4M353.0 483.3v2.4M353.2 483.3v2.4M354.6 483.3v2.4M353.7 483.3v2.4M354.6 483.3v2.4M353.2 483.3v2.4M356.6 483.3v2.4M357.0 483.3v2.4M355.4 483.3v2.4M352.3 483.3v2.4M355.7 483.3v2.4M355.5 483.3v2.4M354.4 483.3v2.4M352.3 483.3v2.4M354.0 483.3v2.4M355.3 483.3v2.4M352.1 483.3v2.4M356.7 483.3v2.4M352.5 483.3v2.4M352.3 483.3v2.4M356.1 483.3v2.4M358.7 483.3v2.4M353.9 483.3v2.4M355.2 483.3v2.4M353.6 483.3v2.4M355.0 483.3v2.4M358.0 483.3v2.4M353.8 483.3v2.4M355.9 483.3v2.4M352.7 483.3v2.4M354.1 483.3v2.4M353.0 483.3v2.4M353.1 483.3v2.4M352.2 483.3v2.4M353.5 483.3v2.4M355.0 483.3v2.4M352.4 483.3v2.4M354.5 483.3v2.4M353.6 483.3v2.4M357.0 483.3v2.4M352.4 483.3v2.4M357.4 483.3v2.4M353.6 483.3v2.4M352.5 483.3v2.4M352.7 483.3v2.4M352.9 483.3v2.4M352.6 483.3v2.4M352.8 483.3v2.4M354.7 483.3v2.4M353.9 483.3v2.4M352.7 483.3v2.4M353.5 483.3v2.4M353.1 483.3v2.4M352.9 483.3v2.4M355.3 483.3v2.4M353.5 483.3v2.4M355.9 483.3v2.4M355.8 483.3v2.4M354.8 483.3v2.4M356.3 483.3v2.4M359.1 483.3v2.4M353.4 483.3v2.4M354.8 483.3v2.4M354.5 483.3v2.4M352.6 483.3v2.4M352.5 483.3v2.4M354.7 483.3v2.4M356.3 483.3v2.4M356.4 483.3v2.4M352.8 483.3v2.4M352.2 483.3v2.4M352.2 483.3v2.4M353.0 483.3v2.4M353.9 483.3v2.4M352.9 483.3v2.4M353.3 483.3v2.4M353.9 483.3v2.4M358.8 483.3v2.4M352.3 483.3v2.4M352.7 483.3v2.4M356.8 483.3v2.4M357.2 483.3v2.4M353.1 483.3v2.4M355.3 483.3v2.4M354.5 483.3v2.4M354.3 483.3v2.4M355.1 483.3v2.4M359.1 483.3v2.4M352.3 483.3v2.4M353.5 483.3v2.4M354.5 483.3v2.4M353.8 483.3v2.4M354.2 483.3v2.4M352.5 483.3v2.4M352.3 483.3v2.4M357.9 483.3v2.4M354.8 483.3v2.4M354.0 483.3v2.4M353.4 483.3v2.4M352.8 483.3v2.4M354.8 483.3v2.4M355.1 483.3v2.4M353.0 483.3v2.4M352.7 483.3v2.4M352.1 483.3v2.4M353.6 483.3v2.4M353.0 483.3v2.4M352.9 483.3v2.4M355.2 483.3v2.4M353.0 483.3v2.4M352.7 483.3v2.4M352.3 483.3v2.4M354.9 483.3v2.4M352.5 483.3v2.4M355.0 483.3v2.4M355.7 483.3v2.4M352.4 483.3v2.4M353.1 483.3v2.4M353.9 483.3v2.4M352.5 483.3v2.4M352.1 483.3v2.4M355.6 483.3v2.4M353.1 483.3v2.4M353.8 483.3v2.4M360.2 483.3v2.4M354.6 483.3v2.4M353.5 483.3v2.4M354.0 483.3v2.4M355.2 483.3v2.4M354.4 483.3v2.4M353.4 483.3v2.4M352.5 483.3v2.4M353.5 483.3v2.4M354.3 483.3v2.4M359.0 483.3v2.4M356.9 483.3v2.4M354.2 483.3v2.4M352.1 483.3v2.4M352.2 483.3v2.4M353.7 483.3v2.4M356.5 483.3v2.4M354.6 483.3v2.4M354.0 483.3v2.4M357.7 483.3v2.4M352.9 483.3v2.4M355.6 483.3v2.4M353.3 483.3v2.4M355.1 483.3v2.4M352.1 483.3v2.4M352.2 483.3v2.4M353.5 483.3v2.4M354.6 483.3v2.4M354.3 483.3v2.4M352.8 483.3v2.4M353.1 483.3v2.4M352.5 483.3v2.4M353.0 483.3v2.4M353.0 483.3v2.4M352.6 483.3v2.4M352.0 483.3v2.4M352.4 483.3v2.4M353.4 483.3v2.4M352.4 483.3v2.4M353.2 483.3v2.4M352.3 483.3v2.4M352.4 483.3v2.4M352.1 483.3v2.4M353.3 483.3v2.4M352.1 483.3v2.4M353.2 483.3v2.4M359.4 483.3v2.4M352.6 483.3v2.4M352.4 483.3v2.4M354.2 483.3v2.4M352.1 483.3v2.4M354.9 483.3v2.4M353.4 483.3v2.4M357.9 483.3v2.4M352.7 483.3v2.4M355.7 483.3v2.4M352.2 483.3v2.4M354.5 483.3v2.4M352.0 483.3v2.4M352.1 483.3v2.4M352.1 483.3v2.4M352.2 483.3v2.4M352.5 483.3v2.4M360.0 483.3v2.4M357.5 483.3v2.4M358.2 483.3v2.4M354.1 483.3v2.4M358.4 483.3v2.4M356.2 483.3v2.4M352.3 483.3v2.4M354.5 483.3v2.4M357.8 483.3v2.4M354.9 483.3v2.4M356.0 483.3v2.4M353.0 483.3v2.4M353.2 483.3v2.4M353.5 483.3v2.4M352.7 483.3v2.4M354.1 483.3v2.4M354.7 483.3v2.4M352.4 483.3v2.4M354.7 483.3v2.4M355.1 483.3v2.4M354.5 483.3v2.4M356.1 483.3v2.4M354.3 483.3v2.4M353.3 483.3v2.4M357.0 483.3v2.4M353.0 483.3v2.4M352.2 483.3v2.4M352.3 483.3v2.4M353.9 483.3v2.4M354.3 483.3v2.4M352.6 483.3v2.4M354.3 483.3v2.4M353.9 483.3v2.4M359.5 483.3v2.4M352.6 483.3v2.4M355.3 483.3v2.4M354.0 483.3v2.4M352.5 483.3v2.4M352.5 483.3v2.4M352.3 483.3v2.4M352.1 483.3v2.4M356.9 483.3v2.4M352.2 483.3v2.4M355.9 483.3v2.4M354.1 483.3v2.4M356.5 483.3v2.4M353.0 483.3v2.4M352.3 483.3v2.4M356.0 483.3v2.4M352.5 483.3v2.4M353.7 483.3v2.4M352.2 483.3v2.4M353.0 483.3v2.4M353.8 483.3v2.4M354.9 483.3v2.4M354.1 483.3v2.4M352.6 483.3v2.4M352.9 483.3v2.4M352.6 483.3v2.4M352.4 483.3v2.4M356.6 483.3v2.4M361.4 483.3v2.4M353.7 483.3v2.4M353.2 483.3v2.4M358.5 483.3v2.4M353.5 483.3v2.4M364.9 483.3v2.4M357.5 483.3v2.4M352.5 483.3v2.4M352.2 483.3v2.4M353.6 483.3v2.4M354.3 483.3v2.4M352.7 483.3v2.4M353.3 483.3v2.4M355.0 483.3v2.4M352.8 483.3v2.4M353.2 483.3v2.4M352.2 483.3v2.4M372.9 483.3v2.4M406.7 483.3v2.4M363.1 483.3v2.4M359.2 483.3v2.4M366.8 483.3v2.4M367.3 483.3v2.4M361.3 483.3v2.4M365.1 483.3v2.4M361.6 483.3v2.4M360.6 483.3v2.4M358.7 483.3v2.4M366.9 483.3v2.4M357.6 483.3v2.4M359.9 483.3v2.4M408.5 483.3v2.4M377.4 483.3v2.4M359.6 483.3v2.4M357.0 483.3v2.4M357.6 483.3v2.4M367.4 483.3v2.4M360.7 483.3v2.4M378.4 483.3v2.4M357.5 483.3v2.4M364.3 483.3v2.4M389.3 483.3v2.4M378.9 483.3v2.4M375.8 483.3v2.4M377.6 483.3v2.4M367.6 483.3v2.4M361.2 483.3v2.4M370.6 483.3v2.4M387.1 483.3v2.4M371.4 483.3v2.4M392.0 483.3v2.4M364.0 483.3v2.4M366.6 483.3v2.4M372.2 483.3v2.4M421.3 483.3v2.4M362.6 483.3v2.4M364.9 483.3v2.4M399.5 483.3v2.4M359.1 483.3v2.4M363.9 483.3v2.4M382.2 483.3v2.4M369.5 483.3v2.4M357.3 483.3v2.4M365.8 483.3v2.4M361.2 483.3v2.4M358.3 483.3v2.4M371.6 483.3v2.4M387.0 483.3v2.4M399.8 483.3v2.4M390.6 483.3v2.4M359.5 483.3v2.4M361.9 483.3v2.4M361.1 483.3v2.4M362.0 483.3v2.4M363.5 483.3v2.4M360.7 483.3v2.4M409.1 483.3v2.4M359.8 483.3v2.4M358.0 483.3v2.4M381.1 483.3v2.4M370.1 483.3v2.4M361.3 483.3v2.4M400.1 483.3v2.4M365.6 483.3v2.4M361.0 483.3v2.4M360.5 483.3v2.4M398.9 483.3v2.4M359.5 483.3v2.4M422.6 483.3v2.4M358.9 483.3v2.4M357.6 483.3v2.4M359.7 483.3v2.4M379.9 483.3v2.4M400.0 483.3v2.4M367.1 483.3v2.4M363.4 483.3v2.4M415.2 483.3v2.4M359.0 483.3v2.4M358.7 483.3v2.4M357.9 483.3v2.4M359.7 483.3v2.4M408.9 483.3v2.4M397.0 483.3v2.4M365.7 483.3v2.4M357.2 483.3v2.4M362.5 483.3v2.4M368.1 483.3v2.4M365.2 483.3v2.4M367.0 483.3v2.4M380.7 483.3v2.4M392.8 483.3v2.4M382.0 483.3v2.4M381.3 483.3v2.4M359.3 483.3v2.4M357.6 483.3v2.4M407.9 483.3v2.4M358.5 483.3v2.4M357.1 483.3v2.4M420.4 483.3v2.4M372.3 483.3v2.4M358.2 483.3v2.4M367.2 483.3v2.4M369.1 483.3v2.4M362.1 483.3v2.4M362.0 483.3v2.4M362.8 483.3v2.4M393.5 483.3v2.4M383.2 483.3v2.4M406.9 483.3v2.4M361.1 483.3v2.4M374.4 483.3v2.4M362.4 483.3v2.4M402.2 483.3v2.4M364.9 483.3v2.4M384.5 483.3v2.4M414.2 483.3v2.4M369.7 483.3v2.4M357.8 483.3v2.4M376.9 483.3v2.4M357.7 483.3v2.4M409.8 483.3v2.4M362.9 483.3v2.4M385.5 483.3v2.4M364.4 483.3v2.4M362.8 483.3v2.4M361.6 483.3v2.4M363.1 483.3v2.4M370.9 483.3v2.4M359.0 483.3v2.4M360.2 483.3v2.4M358.9 483.3v2.4M358.0 483.3v2.4M357.3 483.3v2.4M367.2 483.3v2.4M374.7 483.3v2.4M380.3 483.3v2.4M364.6 483.3v2.4M372.1 483.3v2.4M363.2 483.3v2.4M365.5 483.3v2.4M359.7 483.3v2.4M380.0 483.3v2.4M357.2 483.3v2.4M362.6 483.3v2.4M359.6 483.3v2.4M361.1 483.3v2.4M364.4 483.3v2.4M370.1 483.3v2.4M358.2 483.3v2.4M408.4 483.3v2.4M364.6 483.3v2.4M375.5 483.3v2.4M357.0 483.3v2.4M365.6 483.3v2.4M380.2 483.3v2.4M362.2 483.3v2.4M385.6 483.3v2.4M359.9 483.3v2.4M370.5 483.3v2.4M357.2 483.3v2.4M368.2 483.3v2.4M358.1 483.3v2.4M382.8 483.3v2.4M367.2 483.3v2.4M371.3 483.3v2.4M361.6 483.3v2.4M387.5 483.3v2.4M369.7 483.3v2.4M362.7 483.3v2.4M382.8 483.3v2.4M374.7 483.3v2.4M364.4 483.3v2.4M361.8 483.3v2.4M360.1 483.3v2.4M379.9 483.3v2.4M389.5 483.3v2.4M363.6 483.3v2.4M357.4 483.3v2.4M366.1 483.3v2.4M380.7 483.3v2.4M357.7 483.3v2.4M359.5 483.3v2.4M360.7 483.3v2.4M362.4 483.3v2.4M358.4 483.3v2.4M367.9 483.3v2.4M360.6 483.3v2.4M371.7 483.3v2.4M369.4 483.3v2.4M363.5 483.3v2.4M367.2 483.3v2.4M364.6 483.3v2.4M357.6 483.3v2.4M365.8 483.3v2.4M368.4 483.3v2.4M372.3 483.3v2.4M360.2 483.3v2.4M362.5 483.3v2.4M428.9 483.3v2.4M373.7 483.3v2.4M362.4 483.3v2.4M358.4 483.3v2.4M366.9 483.3v2.4M367.2 483.3v2.4M383.3 483.3v2.4M368.5 483.3v2.4M380.0 483.3v2.4M375.9 483.3v2.4M367.6 483.3v2.4M385.6 483.3v2.4M367.2 483.3v2.4M375.2 483.3v2.4M361.5 483.3v2.4M374.6 483.3v2.4M362.6 483.3v2.4M360.7 483.3v2.4M372.8 483.3v2.4M358.4 483.3v2.4M367.6 483.3v2.4M359.4 483.3v2.4M363.5 483.3v2.4M368.3 483.3v2.4M358.4 483.3v2.4M359.9 483.3v2.4M366.2 483.3v2.4M367.1 483.3v2.4M391.0 483.3v2.4M363.6 483.3v2.4M357.8 483.3v2.4M394.7 483.3v2.4M358.5 483.3v2.4M364.4 483.3v2.4M360.9 483.3v2.4M368.1 483.3v2.4M366.4 483.3v2.4M413.1 483.3v2.4M377.7 483.3v2.4M358.3 483.3v2.4M373.1 483.3v2.4M365.0 483.3v2.4M405.7 483.3v2.4M359.3 483.3v2.4M371.5 483.3v2.4M363.1 483.3v2.4M384.1 483.3v2.4M372.3 483.3v2.4M364.3 483.3v2.4M367.3 483.3v2.4M368.6 483.3v2.4M359.3 483.3v2.4M370.5 483.3v2.4M366.2 483.3v2.4M397.6 483.3v2.4M363.1 483.3v2.4M357.5 483.3v2.4M390.7 483.3v2.4M359.9 483.3v2.4M376.0 483.3v2.4M364.5 483.3v2.4M376.0 483.3v2.4M356.0 483.3v2.4M366.5 483.3v2.4M372.0 483.3v2.4M368.9 483.3v2.4M356.2 483.3v2.4M355.7 483.3v2.4M369.8 483.3v2.4M389.8 483.3v2.4M355.8 483.3v2.4M353.4 483.3v2.4M354.7 483.3v2.4M379.3 483.3v2.4M361.6 483.3v2.4M363.5 483.3v2.4M440.0 483.3v2.4M369.2 483.3v2.4M358.4 483.3v2.4M373.7 483.3v2.4M353.3 483.3v2.4M358.8 483.3v2.4M373.6 483.3v2.4M356.4 483.3v2.4M353.8 483.3v2.4M365.6 483.3v2.4M360.0 483.3v2.4M413.3 483.3v2.4M355.1 483.3v2.4M380.7 483.3v2.4M361.6 483.3v2.4M381.0 483.3v2.4M363.2 483.3v2.4M371.9 483.3v2.4M359.9 483.3v2.4M357.5 483.3v2.4M363.4 483.3v2.4M380.5 483.3v2.4M360.4 483.3v2.4" stroke="#5a9fd4" stroke-width="0.5" fill="none" opacity="0.55"/>
<path d="M351.8 456.8h1.6M353.2 447.8h1.6M353.4 442.2h1.6M355.2 443.3h1.6M351.9 439.8h1.6M352.6 436.2h1.6M353.4 457.5h1.6M351.6 462.4h1.6M352.8 464.8h1.6M354.2 446.6h1.6M354.3 448.6h1.6M353.2 445.3h1.6M355.6 441.0h1.6M352.6 449.7h1.6M354.0 471.7h1.6M356.8 463.6h1.6M352.5 429.2h1.6M357.2 439.8h1.6M351.5 448.5h1.6M351.8 430.0h1.6M353.4 447.4h1.6M352.0 457.7h1.6M352.2 444.8h1.6M353.1 469.7h1.6M353.7 459.1h1.6M357.0 418.3h1.6M353.7 477.1h1.6M351.6 421.6h1.6M356.3 471.3h1.6M353.1 446.3h1.6M355.1 453.4h1.6M353.1 445.3h1.6M355.4 439.4h1.6M361.2 423.4h1.6M352.4 431.3h1.6M351.6 450.6h1.6M355.7 421.8h1.6M351.3 447.3h1.6M354.0 447.0h1.6M352.1 416.2h1.6M352.8 470.3h1.6M365.4 446.2h1.6M353.2 439.1h1.6M351.3 439.7h1.6M353.3 431.0h1.6M351.6 417.8h1.6M352.1 437.0h1.6M358.2 433.6h1.6M352.6 452.3h1.6M352.8 455.6h1.6M353.0 458.6h1.6M353.3 429.1h1.6M352.5 450.1h1.6M354.0 443.3h1.6M359.5 432.7h1.6M352.8 446.2h1.6M352.4 444.8h1.6M353.1 425.5h1.6M353.4 441.9h1.6M351.4 454.9h1.6M353.7 455.2h1.6M352.2 450.2h1.6M351.3 465.7h1.6M351.4 459.9h1.6M351.9 475.6h1.6M352.6 454.2h1.6M352.2 450.8h1.6M352.0 456.7h1.6M352.0 430.8h1.6M352.3 443.8h1.6M353.1 447.4h1.6M354.1 447.8h1.6M354.8 435.2h1.6M351.8 438.6h1.6M353.8 430.8h1.6M351.5 449.6h1.6M355.1 433.2h1.6M352.5 439.1h1.6M352.1 450.8h1.6M353.5 433.0h1.6M351.8 454.1h1.6M351.5 452.9h1.6M354.8 445.9h1.6M355.2 439.8h1.6M354.8 434.2h1.6M353.5 439.9h1.6M351.5 456.0h1.6M352.0 441.3h1.6M352.2 454.7h1.6M352.4 456.5h1.6M356.7 437.5h1.6M351.6 443.3h1.6M355.8 429.7h1.6M357.8 445.4h1.6M356.9 440.3h1.6M355.2 422.0h1.6M353.6 455.4h1.6M352.1 445.6h1.6M351.8 427.7h1.6M352.0 436.7h1.6M354.8 415.9h1.6M353.8 436.0h1.6M356.8 420.9h1.6M353.1 461.9h1.6M351.3 444.5h1.6M352.0 452.6h1.6M353.6 458.1h1.6M357.3 446.4h1.6M353.3 449.9h1.6M355.5 435.5h1.6M352.6 441.7h1.6M351.7 456.7h1.6M352.9 440.8h1.6M354.6 451.9h1.6M356.8 435.5h1.6M351.2 468.1h1.6M353.4 441.4h1.6M351.9 447.5h1.6M351.9 458.3h1.6M352.6 446.7h1.6M354.5 439.6h1.6M351.5 444.2h1.6M351.5 428.8h1.6M355.4 430.4h1.6M352.1 435.9h1.6M352.1 455.9h1.6M353.2 428.4h1.6M352.2 439.8h1.6M351.5 432.9h1.6M353.0 447.0h1.6M351.4 457.3h1.6M351.7 457.2h1.6M354.6 431.0h1.6M352.3 438.2h1.6M352.5 462.3h1.6M352.2 465.5h1.6M352.4 443.7h1.6M353.8 454.1h1.6M352.9 441.7h1.6M353.8 431.3h1.6M352.4 438.0h1.6M355.8 432.1h1.6M356.2 449.4h1.6M354.6 445.4h1.6M351.5 429.0h1.6M354.9 459.1h1.6M354.7 468.5h1.6M353.6 446.0h1.6M351.5 461.7h1.6M353.2 436.6h1.6M354.5 444.0h1.6M351.3 439.0h1.6M355.9 440.8h1.6M351.7 418.3h1.6M351.5 440.4h1.6M355.3 456.2h1.6M357.9 467.2h1.6M353.1 443.1h1.6M354.4 447.8h1.6M352.8 445.6h1.6M354.2 450.5h1.6M357.2 433.0h1.6M353.0 439.7h1.6M355.1 443.8h1.6M351.9 435.7h1.6M353.3 443.9h1.6M352.2 457.9h1.6M352.3 452.6h1.6M351.4 432.8h1.6M352.7 430.4h1.6M354.2 446.6h1.6M351.6 452.5h1.6M353.7 465.6h1.6M352.8 463.7h1.6M356.2 442.2h1.6M351.6 425.6h1.6M356.6 431.4h1.6M352.8 464.6h1.6M351.7 436.6h1.6M351.9 438.5h1.6M352.1 427.0h1.6M351.8 456.4h1.6M352.0 475.7h1.6M353.9 467.1h1.6M353.1 430.4h1.6M351.9 443.6h1.6M352.7 441.3h1.6M352.3 438.2h1.6M352.1 432.8h1.6M354.5 418.2h1.6M352.7 456.7h1.6M355.1 453.2h1.6M355.0 458.9h1.6M354.0 449.7h1.6M355.5 462.2h1.6M358.3 431.2h1.6M352.6 443.0h1.6M354.0 434.3h1.6M353.7 418.4h1.6M351.8 451.1h1.6M351.7 444.7h1.6M353.9 435.5h1.6M355.5 435.8h1.6M355.6 450.4h1.6M352.0 463.7h1.6M351.4 434.0h1.6M351.4 438.5h1.6M352.2 454.0h1.6M353.1 444.9h1.6M352.1 445.7h1.6M352.5 453.6h1.6M353.1 443.4h1.6M358.0 457.5h1.6M351.5 433.4h1.6M351.9 447.6h1.6M356.0 450.0h1.6M356.4 417.6h1.6M352.3 425.7h1.6M354.5 443.7h1.6M353.7 455.6h1.6M353.5 440.5h1.6M354.3 454.3h1.6M358.3 452.1h1.6M351.5 459.2h1.6M352.7 457.2h1.6M353.7 426.8h1.6M353.0 436.1h1.6M353.4 426.4h1.6M351.7 428.9h1.6M351.5 456.9h1.6M357.1 436.5h1.6M354.0 434.7h1.6M353.2 462.8h1.6M352.6 450.9h1.6M352.0 441.9h1.6M354.0 439.6h1.6M354.3 465.8h1.6M352.2 450.2h1.6M351.9 464.8h1.6M351.3 425.7h1.6M352.8 443.8h1.6M352.2 420.9h1.6M352.1 458.2h1.6M354.4 434.5h1.6M352.2 440.4h1.6M351.9 449.7h1.6M351.5 426.2h1.6M354.1 428.8h1.6M351.7 438.9h1.6M354.2 431.1h1.6M354.9 444.4h1.6M351.6 462.5h1.6M352.3 438.4h1.6M353.1 428.6h1.6M351.7 444.2h1.6M351.3 420.4h1.6M354.8 418.4h1.6M352.3 465.3h1.6M353.0 461.0h1.6M359.4 453.9h1.6M353.8 452.5h1.6M352.7 418.5h1.6M353.2 444.4h1.6M354.4 445.2h1.6M353.6 460.8h1.6M352.6 443.4h1.6M351.7 447.9h1.6M352.7 444.9h1.6M353.5 460.8h1.6M358.2 438.2h1.6M356.1 428.3h1.6M353.4 426.0h1.6M351.3 450.6h1.6M351.4 436.6h1.6M352.9 433.3h1.6M355.7 449.4h1.6M353.8 426.3h1.6M353.2 424.1h1.6M356.9 449.0h1.6M352.1 466.1h1.6M354.8 419.6h1.6M352.5 455.5h1.6M354.3 450.8h1.6M351.3 443.6h1.6M351.4 441.7h1.6M352.7 436.5h1.6M353.8 458.1h1.6M353.5 447.6h1.6M352.0 466.6h1.6M352.3 439.1h1.6M351.7 426.7h1.6M352.2 457.1h1.6M352.2 462.3h1.6M351.8 447.6h1.6M351.2 438.2h1.6M351.6 421.2h1.6M352.6 441.1h1.6M351.6 435.4h1.6M352.4 442.6h1.6M351.5 441.4h1.6M351.6 449.0h1.6M351.3 443.9h1.6M352.5 462.0h1.6M351.3 432.6h1.6M352.4 446.7h1.6M358.6 442.3h1.6M351.8 431.4h1.6M351.6 435.6h1.6M353.4 448.2h1.6M351.3 438.5h1.6M354.1 448.0h1.6M352.6 420.5h1.6M357.1 447.5h1.6M351.9 434.4h1.6M354.9 452.9h1.6M351.4 453.3h1.6M353.7 426.3h1.6M351.2 447.7h1.6M351.3 437.2h1.6M351.3 439.7h1.6M351.4 460.8h1.6M351.7 468.4h1.6M359.2 468.6h1.6M356.7 440.7h1.6M357.4 432.9h1.6M353.3 441.7h1.6M357.6 434.5h1.6M355.4 438.3h1.6M351.5 453.7h1.6M353.7 436.4h1.6M357.0 434.0h1.6M354.1 424.3h1.6M355.2 473.4h1.6M352.2 454.4h1.6M352.4 441.2h1.6M352.7 420.7h1.6M351.9 433.7h1.6M353.3 425.2h1.6M353.9 456.2h1.6M351.6 433.9h1.6M353.9 429.1h1.6M354.3 442.0h1.6M353.7 436.0h1.6M355.3 438.5h1.6M353.5 424.2h1.6M352.5 463.3h1.6M356.2 445.5h1.6M352.2 456.4h1.6M351.4 471.7h1.6M351.5 424.1h1.6M353.1 439.9h1.6M353.5 440.7h1.6M351.8 436.7h1.6M353.5 441.9h1.6M353.1 434.4h1.6M358.7 443.5h1.6M351.8 457.4h1.6M354.5 449.7h1.6M353.2 440.2h1.6M351.7 460.6h1.6M351.7 421.8h1.6M351.5 432.1h1.6M351.3 435.3h1.6M356.1 446.1h1.6M351.4 453.7h1.6M355.1 442.1h1.6M353.3 458.7h1.6M355.7 462.2h1.6M352.2 456.0h1.6M351.5 453.2h1.6M355.2 465.0h1.6M351.7 458.2h1.6M352.9 465.7h1.6M351.4 439.3h1.6M352.2 449.5h1.6M353.0 443.7h1.6M354.1 461.7h1.6M353.3 435.0h1.6M351.8 470.8h1.6M352.1 449.4h1.6M351.8 441.8h1.6M351.6 424.3h1.6M355.8 453.5h1.6M360.6 468.3h1.6M352.9 464.7h1.6M352.4 416.3h1.6M357.7 453.7h1.6M352.7 442.2h1.6M364.1 458.0h1.6M356.7 452.5h1.6M351.7 413.5h1.6M351.4 446.2h1.6M352.8 455.4h1.6M353.5 422.4h1.6M351.9 438.5h1.6M352.5 456.8h1.6M354.2 425.6h1.6M352.0 435.1h1.6M352.4 437.3h1.6M351.4 431.0h1.6M372.1 422.1h1.6M405.9 414.8h1.6M362.3 441.2h1.6M358.4 443.0h1.6M366.0 426.3h1.6M366.5 452.5h1.6M360.5 420.8h1.6M364.3 422.3h1.6M360.8 451.8h1.6M359.8 437.6h1.6M357.9 439.7h1.6M366.1 444.9h1.6M356.8 439.7h1.6M359.1 436.5h1.6M407.7 451.0h1.6M376.6 435.1h1.6M358.8 438.6h1.6M356.2 447.7h1.6M356.8 433.9h1.6M366.6 429.9h1.6M359.9 432.6h1.6M377.6 446.0h1.6M356.7 433.8h1.6M363.5 450.2h1.6M388.5 450.6h1.6M378.1 438.1h1.6M375.0 431.9h1.6M376.8 459.8h1.6M366.8 439.4h1.6M360.4 437.1h1.6M369.8 436.3h1.6M386.3 427.4h1.6M370.6 445.4h1.6M391.2 432.0h1.6M363.2 452.6h1.6M365.8 434.7h1.6M371.4 431.7h1.6M420.5 449.4h1.6M361.8 441.6h1.6M364.1 434.0h1.6M398.7 450.1h1.6M358.3 443.7h1.6M363.1 425.3h1.6M381.4 425.7h1.6M368.7 461.7h1.6M356.5 451.1h1.6M365.0 444.7h1.6M360.4 444.6h1.6M357.5 462.7h1.6M370.8 447.7h1.6M386.2 428.1h1.6M399.0 442.9h1.6M389.8 444.1h1.6M358.7 454.2h1.6M361.1 423.7h1.6M360.3 411.9h1.6M361.2 446.7h1.6M362.7 439.4h1.6M359.9 432.2h1.6M408.3 430.9h1.6M359.0 434.2h1.6M357.2 456.9h1.6M380.3 441.3h1.6M369.3 437.7h1.6M360.5 439.3h1.6M399.3 429.9h1.6M364.8 434.3h1.6M360.2 441.6h1.6M359.7 439.2h1.6M398.1 422.7h1.6M358.7 418.5h1.6M421.8 445.7h1.6M358.1 452.9h1.6M356.8 437.7h1.6M358.9 445.3h1.6M379.1 435.6h1.6M399.2 440.7h1.6M366.3 442.2h1.6M362.6 434.5h1.6M414.4 439.3h1.6M358.2 432.2h1.6M357.9 453.5h1.6M357.1 417.7h1.6M358.9 452.7h1.6M408.1 437.9h1.6M396.2 427.4h1.6M364.9 441.0h1.6M356.4 447.7h1.6M361.7 438.4h1.6M367.3 458.3h1.6M364.4 450.3h1.6M366.2 441.1h1.6M379.9 433.4h1.6M392.0 423.4h1.6M381.2 425.5h1.6M380.5 411.4h1.6M358.5 438.9h1.6M356.8 430.5h1.6M407.1 457.8h1.6M357.7 425.6h1.6M356.3 424.2h1.6M419.6 453.1h1.6M371.5 457.5h1.6M357.4 441.3h1.6M366.4 444.2h1.6M368.3 435.8h1.6M361.3 449.3h1.6M361.2 438.6h1.6M362.0 464.2h1.6M392.7 457.3h1.6M382.4 433.3h1.6M406.1 446.3h1.6M360.3 428.5h1.6M373.6 428.7h1.6M361.6 443.9h1.6M401.4 445.6h1.6M364.1 452.2h1.6M383.7 436.2h1.6M413.4 450.4h1.6M368.9 440.4h1.6M357.0 458.1h1.6M376.1 428.1h1.6M356.9 431.2h1.6M409.0 447.1h1.6M362.1 435.0h1.6M384.7 424.0h1.6M363.6 426.0h1.6M362.0 451.6h1.6M360.8 449.8h1.6M362.3 438.6h1.6M370.1 427.4h1.6M358.2 448.9h1.6M359.4 449.1h1.6M358.1 426.6h1.6M357.2 442.2h1.6M356.5 429.7h1.6M366.4 425.6h1.6M373.9 444.9h1.6M379.5 424.8h1.6M363.8 459.8h1.6M371.3 421.0h1.6M362.4 421.9h1.6M364.7 430.9h1.6M358.9 444.2h1.6M379.2 442.1h1.6M356.4 441.0h1.6M361.8 416.4h1.6M358.8 437.1h1.6M360.3 448.7h1.6M363.6 429.3h1.6M369.3 444.8h1.6M357.4 448.6h1.6M407.6 439.9h1.6M363.8 442.7h1.6M374.7 433.9h1.6M356.2 438.4h1.6M364.8 459.7h1.6M379.4 426.7h1.6M361.4 451.4h1.6M384.8 430.7h1.6M359.1 442.0h1.6M369.7 435.1h1.6M356.4 425.3h1.6M367.4 443.7h1.6M357.3 436.7h1.6M382.0 425.3h1.6M366.4 445.2h1.6M370.5 445.8h1.6M360.8 439.5h1.6M386.7 428.6h1.6M368.9 427.7h1.6M361.9 435.2h1.6M382.0 463.3h1.6M373.9 437.0h1.6M363.6 434.3h1.6M361.0 430.1h1.6M359.3 416.3h1.6M379.1 432.8h1.6M388.7 440.4h1.6M362.8 436.4h1.6M356.6 431.0h1.6M365.3 455.0h1.6M379.9 423.2h1.6M356.9 447.5h1.6M358.7 431.5h1.6M359.9 439.6h1.6M361.6 420.5h1.6M357.6 435.9h1.6M367.1 425.9h1.6M359.8 440.7h1.6M370.9 445.8h1.6M368.6 429.5h1.6M362.7 421.0h1.6M366.4 451.4h1.6M363.8 447.5h1.6M356.8 433.0h1.6M365.0 460.4h1.6M367.6 441.0h1.6M371.5 413.7h1.6M359.4 424.3h1.6M361.7 468.9h1.6M428.1 445.3h1.6M372.9 437.4h1.6M361.6 439.9h1.6M357.6 453.3h1.6M366.1 430.4h1.6M366.4 448.7h1.6M382.5 450.8h1.6M367.7 433.8h1.6M379.2 436.7h1.6M375.1 433.3h1.6M366.8 446.1h1.6M384.8 415.2h1.6M366.4 416.3h1.6M374.4 439.8h1.6M360.7 420.9h1.6M373.8 437.0h1.6M361.8 452.9h1.6M359.9 436.2h1.6M372.0 448.7h1.6M357.6 442.5h1.6M366.8 446.0h1.6M358.6 421.4h1.6M362.7 434.3h1.6M367.5 427.0h1.6M357.6 425.7h1.6M359.1 433.7h1.6M365.4 435.5h1.6M366.3 433.6h1.6M390.2 428.8h1.6M362.8 448.4h1.6M357.0 439.8h1.6M393.9 428.3h1.6M357.7 425.8h1.6M363.6 442.4h1.6M360.1 431.0h1.6M367.3 439.9h1.6M365.6 435.6h1.6M412.3 430.4h1.6M376.9 440.7h1.6M357.5 462.9h1.6M372.3 438.1h1.6M364.2 446.4h1.6M404.9 447.2h1.6M358.5 420.9h1.6M370.7 439.8h1.6M362.3 424.5h1.6M383.3 438.6h1.6M371.5 451.8h1.6M363.5 435.2h1.6M366.5 446.5h1.6M367.8 440.9h1.6M358.5 435.9h1.6M369.7 433.5h1.6M365.4 419.3h1.6M396.8 427.5h1.6M362.3 453.3h1.6M356.7 456.0h1.6M389.9 444.8h1.6M359.1 420.6h1.6M375.2 482.1h1.6M363.7 482.1h1.6M375.2 482.1h1.6M355.2 482.1h1.6M365.7 482.1h1.6M371.2 482.1h1.6M368.1 482.1h1.6M355.4 482.1h1.6M354.9 482.1h1.6M369.0 482.1h1.6M389.0 482.1h1.6M355.0 482.1h1.6M352.6 482.1h1.6M353.9 482.1h1.6M378.5 482.1h1.6M360.8 482.1h1.6M362.7 482.1h1.6M439.2 482.1h1.6M368.4 482.1h1.6M357.6 482.1h1.6M372.9 482.1h1.6M352.5 482.1h1.6M358.0 482.1h1.6M372.8 482.1h1.6M355.6 482.1h1.6M353.0 482.1h1.6M364.8 482.1h1.6M359.2 482.1h1.6M412.5 482.1h1.6M354.3 482.1h1.6M379.9 482.1h1.6M360.8 482.1h1.6M380.2 482.1h1.6M362.4 482.1h1.6M371.1 482.1h1.6M359.1 482.1h1.6M356.7 482.1h1.6M362.6 482.1h1.6M379.7 482.1h1.6M359.6 482.1h1.6" stroke="#2f7bbf" stroke-width="1.6" fill="none"/>
<path d="M349.8 456.8h3.2M349.8 447.8h3.2M349.8 442.2h3.2M349.8 443.3h3.2M349.8 439.8h3.2M349.8 436.2h3.2M349.8 457.5h3.2M349.8 462.4h3.2M349.8 464.8h3.2M349.8 446.6h3.2M349.8 448.6h3.2M349.8 445.3h3.2M349.8 441.0h3.2M349.8 449.7h3.2M349.8 471.7h3.2M349.8 463.6h3.2M349.8 429.2h3.2M349.8 439.8h3.2M349.8 448.5h3.2M349.8 430.0h3.2M349.8 447.4h3.2M349.8 457.7h3.2M349.8 444.8h3.2M349.8 469.7h3.2M349.8 459.1h3.2M349.8 418.3h3.2M349.8 477.1h3.2M349.8 421.6h3.2M349.8 471.3h3.2M349.8 446.3h3.2M349.8 453.4h3.2M349.8 445.3h3.2M349.8 439.4h3.2M349.8 423.4h3.2M349.8 431.3h3.2M349.8 450.6h3.2M349.8 421.8h3.2M349.8 447.3h3.2M349.8 447.0h3.2M349.8 416.2h3.2M349.8 470.3h3.2M349.8 446.2h3.2M349.8 439.1h3.2M349.8 439.7h3.2M349.8 431.0h3.2M349.8 417.8h3.2M349.8 437.0h3.2M349.8 433.6h3.2M349.8 452.3h3.2M349.8 455.6h3.2M349.8 458.6h3.2M349.8 429.1h3.2M349.8 450.1h3.2M349.8 443.3h3.2M349.8 432.7h3.2M349.8 446.2h3.2M349.8 444.8h3.2M349.8 425.5h3.2M349.8 441.9h3.2M349.8 454.9h3.2M349.8 455.2h3.2M349.8 450.2h3.2M349.8 465.7h3.2M349.8 459.9h3.2M349.8 475.6h3.2M349.8 454.2h3.2M349.8 450.8h3.2M349.8 456.7h3.2M349.8 430.8h3.2M349.8 443.8h3.2M349.8 447.4h3.2M349.8 447.8h3.2M349.8 435.2h3.2M349.8 438.6h3.2M349.8 430.8h3.2M349.8 449.6h3.2M349.8 433.2h3.2M349.8 439.1h3.2M349.8 450.8h3.2M349.8 433.0h3.2M349.8 454.1h3.2M349.8 452.9h3.2M349.8 445.9h3.2M349.8 439.8h3.2M349.8 434.2h3.2M349.8 439.9h3.2M349.8 456.0h3.2M349.8 441.3h3.2M349.8 454.7h3.2M349.8 456.5h3.2M349.8 437.5h3.2M349.8 443.3h3.2M349.8 429.7h3.2M349.8 445.4h3.2M349.8 440.3h3.2M349.8 422.0h3.2M349.8 455.4h3.2M349.8 445.6h3.2M349.8 427.7h3.2M349.8 436.7h3.2M349.8 415.9h3.2M349.8 436.0h3.2M349.8 420.9h3.2M349.8 461.9h3.2M349.8 444.5h3.2M349.8 452.6h3.2M349.8 458.1h3.2M349.8 446.4h3.2M349.8 449.9h3.2M349.8 435.5h3.2M349.8 441.7h3.2M349.8 456.7h3.2M349.8 440.8h3.2M349.8 451.9h3.2M349.8 435.5h3.2M349.8 468.1h3.2M349.8 441.4h3.2M349.8 447.5h3.2M349.8 458.3h3.2M349.8 446.7h3.2M349.8 439.6h3.2M349.8 444.2h3.2M349.8 428.8h3.2M349.8 430.4h3.2M349.8 435.9h3.2M349.8 455.9h3.2M349.8 428.4h3.2M349.8 439.8h3.2M349.8 432.9h3.2M349.8 447.0h3.2M349.8 457.3h3.2M349.8 457.2h3.2M349.8 431.0h3.2M349.8 438.2h3.2M349.8 462.3h3.2M349.8 465.5h3.2M349.8 443.7h3.2M349.8 454.1h3.2M349.8 441.7h3.2M349.8 431.3h3.2M349.8 438.0h3.2M349.8 432.1h3.2M349.8 449.4h3.2M349.8 445.4h3.2M349.8 429.0h3.2M349.8 459.1h3.2M349.8 468.5h3.2M349.8 446.0h3.2M349.8 461.7h3.2M349.8 436.6h3.2M349.8 444.0h3.2M349.8 439.0h3.2M349.8 440.8h3.2M349.8 418.3h3.2M349.8 440.4h3.2M349.8 456.2h3.2M349.8 467.2h3.2M349.8 443.1h3.2M349.8 447.8h3.2M349.8 445.6h3.2M349.8 450.5h3.2M349.8 433.0h3.2M349.8 439.7h3.2M349.8 443.8h3.2M349.8 435.7h3.2M349.8 443.9h3.2M349.8 457.9h3.2M349.8 452.6h3.2M349.8 432.8h3.2M349.8 430.4h3.2M349.8 446.6h3.2M349.8 452.5h3.2M349.8 465.6h3.2M349.8 463.7h3.2M349.8 442.2h3.2M349.8 425.6h3.2M349.8 431.4h3.2M349.8 464.6h3.2M349.8 436.6h3.2M349.8 438.5h3.2M349.8 427.0h3.2M349.8 456.4h3.2M349.8 475.7h3.2M349.8 467.1h3.2M349.8 430.4h3.2M349.8 443.6h3.2M349.8 441.3h3.2M349.8 438.2h3.2M349.8 432.8h3.2M349.8 418.2h3.2M349.8 456.7h3.2M349.8 453.2h3.2M349.8 458.9h3.2M349.8 449.7h3.2M349.8 462.2h3.2M349.8 431.2h3.2M349.8 443.0h3.2M349.8 434.3h3.2M349.8 418.4h3.2M349.8 451.1h3.2M349.8 444.7h3.2M349.8 435.5h3.2M349.8 435.8h3.2M349.8 450.4h3.2M349.8 463.7h3.2M349.8 434.0h3.2M349.8 438.5h3.2M349.8 454.0h3.2M349.8 444.9h3.2M349.8 445.7h3.2M349.8 453.6h3.2M349.8 443.4h3.2M349.8 457.5h3.2M349.8 433.4h3.2M349.8 447.6h3.2M349.8 450.0h3.2M349.8 417.6h3.2M349.8 425.7h3.2M349.8 443.7h3.2M349.8 455.6h3.2M349.8 440.5h3.2M349.8 454.3h3.2M349.8 452.1h3.2M349.8 459.2h3.2M349.8 457.2h3.2M349.8 426.8h3.2M349.8 436.1h3.2M349.8 426.4h3.2M349.8 428.9h3.2M349.8 456.9h3.2M349.8 436.5h3.2M349.8 434.7h3.2M349.8 462.8h3.2M349.8 450.9h3.2M349.8 441.9h3.2M349.8 439.6h3.2M349.8 465.8h3.2M349.8 450.2h3.2M349.8 464.8h3.2M349.8 425.7h3.2M349.8 443.8h3.2M349.8 420.9h3.2M349.8 458.2h3.2M349.8 434.5h3.2M349.8 440.4h3.2M349.8 449.7h3.2M349.8 426.2h3.2M349.8 428.8h3.2M349.8 438.9h3.2M349.8 431.1h3.2M349.8 444.4h3.2M349.8 462.5h3.2M349.8 438.4h3.2M349.8 428.6h3.2M349.8 444.2h3.2M349.8 420.4h3.2M349.8 418.4h3.2M349.8 465.3h3.2M349.8 461.0h3.2M349.8 453.9h3.2M349.8 452.5h3.2M349.8 418.5h3.2M349.8 444.4h3.2M349.8 445.2h3.2M349.8 460.8h3.2M349.8 443.4h3.2M349.8 447.9h3.2M349.8 444.9h3.2M349.8 460.8h3.2M349.8 438.2h3.2M349.8 428.3h3.2M349.8 426.0h3.2M349.8 450.6h3.2M349.8 436.6h3.2M349.8 433.3h3.2M349.8 449.4h3.2M349.8 426.3h3.2M349.8 424.1h3.2M349.8 449.0h3.2M349.8 466.1h3.2M349.8 419.6h3.2M349.8 455.5h3.2M349.8 450.8h3.2M349.8 443.6h3.2M349.8 441.7h3.2M349.8 436.5h3.2M349.8 458.1h3.2M349.8 447.6h3.2M349.8 466.6h3.2M349.8 439.1h3.2M349.8 426.7h3.2M349.8 457.1h3.2M349.8 462.3h3.2M349.8 447.6h3.2M349.8 438.2h3.2M349.8 421.2h3.2M349.8 441.1h3.2M349.8 435.4h3.2M349.8 442.6h3.2M349.8 441.4h3.2M349.8 449.0h3.2M349.8 443.9h3.2M349.8 462.0h3.2M349.8 432.6h3.2M349.8 446.7h3.2M349.8 442.3h3.2M349.8 431.4h3.2M349.8 435.6h3.2M349.8 448.2h3.2M349.8 438.5h3.2M349.8 448.0h3.2M349.8 420.5h3.2M349.8 447.5h3.2M349.8 434.4h3.2M349.8 452.9h3.2M349.8 453.3h3.2M349.8 426.3h3.2M349.8 447.7h3.2M349.8 437.2h3.2M349.8 439.7h3.2M349.8 460.8h3.2M349.8 468.4h3.2M349.8 468.6h3.2M349.8 440.7h3.2M349.8 432.9h3.2M349.8 441.7h3.2M349.8 434.5h3.2M349.8 438.3h3.2M349.8 453.7h3.2M349.8 436.4h3.2M349.8 434.0h3.2M349.8 424.3h3.2M349.8 473.4h3.2M349.8 454.4h3.2M349.8 441.2h3.2M349.8 420.7h3.2M349.8 433.7h3.2M349.8 425.2h3.2M349.8 456.2h3.2M349.8 433.9h3.2M349.8 429.1h3.2M349.8 442.0h3.2M349.8 436.0h3.2M349.8 438.5h3.2M349.8 424.2h3.2M349.8 463.3h3.2M349.8 445.5h3.2M349.8 456.4h3.2M349.8 471.7h3.2M349.8 424.1h3.2M349.8 439.9h3.2M349.8 440.7h3.2M349.8 436.7h3.2M349.8 441.9h3.2M349.8 434.4h3.2M349.8 443.5h3.2M349.8 457.4h3.2M349.8 449.7h3.2M349.8 440.2h3.2M349.8 460.6h3.2M349.8 421.8h3.2M349.8 432.1h3.2M349.8 435.3h3.2M349.8 446.1h3.2M349.8 453.7h3.2M349.8 442.1h3.2M349.8 458.7h3.2M349.8 462.2h3.2M349.8 456.0h3.2M349.8 453.2h3.2M349.8 465.0h3.2M349.8 458.2h3.2M349.8 465.7h3.2M349.8 439.3h3.2M349.8 449.5h3.2M349.8 443.7h3.2M349.8 461.7h3.2M349.8 435.0h3.2M349.8 470.8h3.2M349.8 449.4h3.2M349.8 441.8h3.2M349.8 424.3h3.2M349.8 453.5h3.2M349.8 468.3h3.2M349.8 464.7h3.2M349.8 416.3h3.2M349.8 453.7h3.2M349.8 442.2h3.2M349.8 458.0h3.2M349.8 452.5h3.2M349.8 413.5h3.2M349.8 446.2h3.2M349.8 455.4h3.2M349.8 422.4h3.2M349.8 438.5h3.2M349.8 456.8h3.2M349.8 425.6h3.2M349.8 435.1h3.2M349.8 437.3h3.2M349.8 431.0h3.2M349.8 422.1h3.2M349.8 414.8h3.2M349.8 441.2h3.2M349.8 443.0h3.2M349.8 426.3h3.2M349.8 452.5h3.2M349.8 420.8h3.2M349.8 422.3h3.2M349.8 451.8h3.2M349.8 437.6h3.2M349.8 439.7h3.2M349.8 444.9h3.2M349.8 439.7h3.2M349.8 436.5h3.2M349.8 451.0h3.2M349.8 435.1h3.2M349.8 438.6h3.2M349.8 447.7h3.2M349.8 433.9h3.2M349.8 429.9h3.2M349.8 432.6h3.2M349.8 446.0h3.2M349.8 433.8h3.2M349.8 450.2h3.2M349.8 450.6h3.2M349.8 438.1h3.2M349.8 431.9h3.2M349.8 459.8h3.2M349.8 439.4h3.2M349.8 437.1h3.2M349.8 436.3h3.2M349.8 427.4h3.2M349.8 445.4h3.2M349.8 432.0h3.2M349.8 452.6h3.2M349.8 434.7h3.2M349.8 431.7h3.2M349.8 449.4h3.2M349.8 441.6h3.2M349.8 434.0h3.2M349.8 450.1h3.2M349.8 443.7h3.2M349.8 425.3h3.2M349.8 425.7h3.2M349.8 461.7h3.2M349.8 451.1h3.2M349.8 444.7h3.2M349.8 444.6h3.2M349.8 462.7h3.2M349.8 447.7h3.2M349.8 428.1h3.2M349.8 442.9h3.2M349.8 444.1h3.2M349.8 454.2h3.2M349.8 423.7h3.2M349.8 411.9h3.2M349.8 446.7h3.2M349.8 439.4h3.2M349.8 432.2h3.2M349.8 430.9h3.2M349.8 434.2h3.2M349.8 456.9h3.2M349.8 441.3h3.2M349.8 437.7h3.2M349.8 439.3h3.2M349.8 429.9h3.2M349.8 434.3h3.2M349.8 441.6h3.2M349.8 439.2h3.2M349.8 422.7h3.2M349.8 418.5h3.2M349.8 445.7h3.2M349.8 452.9h3.2M349.8 437.7h3.2M349.8 445.3h3.2M349.8 435.6h3.2M349.8 440.7h3.2M349.8 442.2h3.2M349.8 434.5h3.2M349.8 439.3h3.2M349.8 432.2h3.2M349.8 453.5h3.2M349.8 417.7h3.2M349.8 452.7h3.2M349.8 437.9h3.2M349.8 427.4h3.2M349.8 441.0h3.2M349.8 447.7h3.2M349.8 438.4h3.2M349.8 458.3h3.2M349.8 450.3h3.2M349.8 441.1h3.2M349.8 433.4h3.2M349.8 423.4h3.2M349.8 425.5h3.2M349.8 411.4h3.2M349.8 438.9h3.2M349.8 430.5h3.2M349.8 457.8h3.2M349.8 425.6h3.2M349.8 424.2h3.2M349.8 453.1h3.2M349.8 457.5h3.2M349.8 441.3h3.2M349.8 444.2h3.2M349.8 435.8h3.2M349.8 449.3h3.2M349.8 438.6h3.2M349.8 464.2h3.2M349.8 457.3h3.2M349.8 433.3h3.2M349.8 446.3h3.2M349.8 428.5h3.2M349.8 428.7h3.2M349.8 443.9h3.2M349.8 445.6h3.2M349.8 452.2h3.2M349.8 436.2h3.2M349.8 450.4h3.2M349.8 440.4h3.2M349.8 458.1h3.2M349.8 428.1h3.2M349.8 431.2h3.2M349.8 447.1h3.2M349.8 435.0h3.2M349.8 424.0h3.2M349.8 426.0h3.2M349.8 451.6h3.2M349.8 449.8h3.2M349.8 438.6h3.2M349.8 427.4h3.2M349.8 448.9h3.2M349.8 449.1h3.2M349.8 426.6h3.2M349.8 442.2h3.2M349.8 429.7h3.2M349.8 425.6h3.2M349.8 444.9h3.2M349.8 424.8h3.2M349.8 459.8h3.2M349.8 421.0h3.2M349.8 421.9h3.2M349.8 430.9h3.2M349.8 444.2h3.2M349.8 442.1h3.2M349.8 441.0h3.2M349.8 416.4h3.2M349.8 437.1h3.2M349.8 448.7h3.2M349.8 429.3h3.2M349.8 444.8h3.2M349.8 448.6h3.2M349.8 439.9h3.2M349.8 442.7h3.2M349.8 433.9h3.2M349.8 438.4h3.2M349.8 459.7h3.2M349.8 426.7h3.2M349.8 451.4h3.2M349.8 430.7h3.2M349.8 442.0h3.2M349.8 435.1h3.2M349.8 425.3h3.2M349.8 443.7h3.2M349.8 436.7h3.2M349.8 425.3h3.2M349.8 445.2h3.2M349.8 445.8h3.2M349.8 439.5h3.2M349.8 428.6h3.2M349.8 427.7h3.2M349.8 435.2h3.2M349.8 463.3h3.2M349.8 437.0h3.2M349.8 434.3h3.2M349.8 430.1h3.2M349.8 416.3h3.2M349.8 432.8h3.2M349.8 440.4h3.2M349.8 436.4h3.2M349.8 431.0h3.2M349.8 455.0h3.2M349.8 423.2h3.2M349.8 447.5h3.2M349.8 431.5h3.2M349.8 439.6h3.2M349.8 420.5h3.2M349.8 435.9h3.2M349.8 425.9h3.2M349.8 440.7h3.2M349.8 445.8h3.2M349.8 429.5h3.2M349.8 421.0h3.2M349.8 451.4h3.2M349.8 447.5h3.2M349.8 433.0h3.2M349.8 460.4h3.2M349.8 441.0h3.2M349.8 413.7h3.2M349.8 424.3h3.2M349.8 468.9h3.2M349.8 445.3h3.2M349.8 437.4h3.2M349.8 439.9h3.2M349.8 453.3h3.2M349.8 430.4h3.2M349.8 448.7h3.2M349.8 450.8h3.2M349.8 433.8h3.2M349.8 436.7h3.2M349.8 433.3h3.2M349.8 446.1h3.2M349.8 415.2h3.2M349.8 416.3h3.2M349.8 439.8h3.2M349.8 420.9h3.2M349.8 437.0h3.2M349.8 452.9h3.2M349.8 436.2h3.2M349.8 448.7h3.2M349.8 442.5h3.2M349.8 446.0h3.2M349.8 421.4h3.2M349.8 434.3h3.2M349.8 427.0h3.2M349.8 425.7h3.2M349.8 433.7h3.2M349.8 435.5h3.2M349.8 433.6h3.2M349.8 428.8h3.2M349.8 448.4h3.2M349.8 439.8h3.2M349.8 428.3h3.2M349.8 425.8h3.2M349.8 442.4h3.2M349.8 431.0h3.2M349.8 439.9h3.2M349.8 435.6h3.2M349.8 430.4h3.2M349.8 440.7h3.2M349.8 462.9h3.2M349.8 438.1h3.2M349.8 446.4h3.2M349.8 447.2h3.2M349.8 420.9h3.2M349.8 439.8h3.2M349.8 424.5h3.2M349.8 438.6h3.2M349.8 451.8h3.2M349.8 435.2h3.2M349.8 446.5h3.2M349.8 440.9h3.2M349.8 435.9h3.2M349.8 433.5h3.2M349.8 419.3h3.2M349.8 427.5h3.2M349.8 453.3h3.2M349.8 456.0h3.2M349.8 444.8h3.2M349.8 420.6h3.2M349.8 482.1h3.2M349.8 482.1h3.2M349.8 482.1h3.2M349.8 482.1h3.2M349.8 482.1h3.2M349.8 482.1h3.2M349.8 482.1h3.2M349.8 482.1h3.2M349.8 482.1h3.2M349.8 482.1h3.2M349.8 482.1h3.2M349.8 482.1h3.2M349.8 482.1h3.2M349.8 482.1h3.2M349.8 482.1h3.2M349.8 482.1h3.2M349.8 482.1h3.2M349.8 482.1h3.2M349.8 482.1h3.2M349.8 482.1h3.2M349.8 482.1h3.2M349.8 482.1h3.2M349.8 482.1h3.2M349.8 482.1h3.2M349.8 482.1h3.2M349.8 482.1h3.2M349.8 482.1h3.2M349.8 482.1h3.2M349.8 482.1h3.2M349.8 482.1h3.2M349.8 482.1h3.2M349.8 482.1h3.2M349.8 482.1h3.2M349.8 482.1h3.2M349.8 482.1h3.2M349.8 482.1h3.2M349.8 482.1h3.2M349.8 482.1h3.2M349.8 482.1h3.2M349.8 482.1h3.2" stroke="#5a9fd4" stroke-width="0.5" fill="none" opacity="0.5"/>
<path d="M352.7,443.1 L357.22,442.31 L361.74,441.47 L366.26,440.6 L370.78,439.68 L375.3,438.74 L379.82,437.78 L384.34,436.8 L388.86,435.8 L393.38,434.8 L397.9,433.78 L402.42,432.76 L406.94,431.73 L411.46,430.7 L415.98,429.66 L420.5,428.62 L425.02,427.58 L429.54,426.54 L434.06,425.5 L438.58,424.45 L443.1,423.4 L443.1,435.8 L438.58,436.28 L434.06,436.76 L429.54,437.25 L425.02,437.74 L420.5,438.23 L415.98,438.72 L411.46,439.21 L406.94,439.71 L402.42,440.21 L397.9,440.72 L393.38,441.23 L388.86,441.76 L384.34,442.29 L379.82,442.84 L375.3,443.41 L370.78,444 L366.26,444.61 L361.74,445.27 L357.22,445.96 L352.7,446.7 Z" fill="#dcebf6"/>
<line x1="352.7" y1="444.9" x2="443.1" y2="429.6" stroke="#9cc7e2" stroke-width="2.8" />
<line x1="349.4" y1="401.6" x2="349.4" y2="485.9" stroke="#333" stroke-width="0.8" />
<line x1="349.4" y1="485.9" x2="447.5" y2="485.9" stroke="#333" stroke-width="0.8" />
<line x1="347" y1="482.1" x2="349.4" y2="482.1" stroke="#333" stroke-width="0.8" />
<text x="346.2" y="485.1" font-size="8.4" text-anchor="end" fill="#4d4d4d" font-weight="normal" stroke="#4d4d4d" stroke-width="0.22" >0</text>
<line x1="347" y1="451.8" x2="349.4" y2="451.8" stroke="#333" stroke-width="0.8" />
<text x="346.2" y="454.8" font-size="8.4" text-anchor="end" fill="#4d4d4d" font-weight="normal" stroke="#4d4d4d" stroke-width="0.22" >1</text>
<line x1="347" y1="421.5" x2="349.4" y2="421.5" stroke="#333" stroke-width="0.8" />
<text x="346.2" y="424.5" font-size="8.4" text-anchor="end" fill="#4d4d4d" font-weight="normal" stroke="#4d4d4d" stroke-width="0.22" >2</text>
<line x1="360.5" y1="485.9" x2="360.5" y2="488.3" stroke="#333" stroke-width="0.8" />
<text x="360.5" y="496.5" font-size="8.4" text-anchor="middle" fill="#4d4d4d" font-weight="normal" stroke="#4d4d4d" stroke-width="0.22" >0</text>
<line x1="384.7" y1="485.9" x2="384.7" y2="488.3" stroke="#333" stroke-width="0.8" />
<text x="384.7" y="496.5" font-size="8.4" text-anchor="middle" fill="#4d4d4d" font-weight="normal" stroke="#4d4d4d" stroke-width="0.22" >2</text>
<line x1="408.9" y1="485.9" x2="408.9" y2="488.3" stroke="#333" stroke-width="0.8" />
<text x="408.9" y="496.5" font-size="8.4" text-anchor="middle" fill="#4d4d4d" font-weight="normal" stroke="#4d4d4d" stroke-width="0.22" >4</text>
<line x1="433.1" y1="485.9" x2="433.1" y2="488.3" stroke="#333" stroke-width="0.8" />
<text x="433.1" y="496.5" font-size="8.4" text-anchor="middle" fill="#4d4d4d" font-weight="normal" stroke="#4d4d4d" stroke-width="0.22" >6</text>
<text x="0" y="0" font-size="8.4" text-anchor="middle" fill="#231f20" font-weight="normal" stroke="#231f20" stroke-width="0.22" transform="translate(339.4,441.75) rotate(-90)">TCR NES</text>
<text x="398.45" y="504.8" font-size="8.6" text-anchor="middle" fill="#231f20" font-weight="normal" stroke="#231f20" stroke-width="0.22" >Cell Type Proportion</text>
<text x="356" y="413.8" font-size="8.6" text-anchor="start" fill="#231f20" font-weight="normal" stroke="#231f20" stroke-width="0.22" >R = 0.19, p = 1.7e-05</text>
<path d="M481.2 483.3v2.4M481.0 483.3v2.4M480.7 483.3v2.4M484.4 483.3v2.4M482.4 483.3v2.4M481.3 483.3v2.4M481.1 483.3v2.4M486.9 483.3v2.4M484.4 483.3v2.4M482.9 483.3v2.4M483.7 483.3v2.4M480.8 483.3v2.4M482.3 483.3v2.4M481.0 483.3v2.4M487.1 483.3v2.4M485.4 483.3v2.4M486.3 483.3v2.4M482.6 483.3v2.4M482.3 483.3v2.4M481.9 483.3v2.4M481.0 483.3v2.4M481.4 483.3v2.4M480.7 483.3v2.4M482.9 483.3v2.4M482.1 483.3v2.4M481.6 483.3v2.4M481.8 483.3v2.4M481.1 483.3v2.4M481.6 483.3v2.4M483.9 483.3v2.4M486.2 483.3v2.4M480.8 483.3v2.4M484.1 483.3v2.4M482.9 483.3v2.4M481.0 483.3v2.4M482.0 483.3v2.4M486.0 483.3v2.4M488.0 483.3v2.4M480.6 483.3v2.4M484.2 483.3v2.4M482.9 483.3v2.4M481.1 483.3v2.4M482.0 483.3v2.4M488.4 483.3v2.4M481.5 483.3v2.4M481.0 483.3v2.4M484.3 483.3v2.4M480.8 483.3v2.4M490.2 483.3v2.4M480.7 483.3v2.4M480.7 483.3v2.4M481.0 483.3v2.4M480.7 483.3v2.4M495.1 483.3v2.4M480.9 483.3v2.4M481.8 483.3v2.4M481.2 483.3v2.4M481.8 483.3v2.4M481.3 483.3v2.4M485.9 483.3v2.4M480.6 483.3v2.4M481.3 483.3v2.4M481.2 483.3v2.4M485.5 483.3v2.4M486.9 483.3v2.4M482.6 483.3v2.4M486.1 483.3v2.4M483.1 483.3v2.4M482.2 483.3v2.4M485.6 483.3v2.4M486.1 483.3v2.4M483.1 483.3v2.4M484.4 483.3v2.4M482.4 483.3v2.4M481.3 483.3v2.4M486.7 483.3v2.4M489.1 483.3v2.4M488.4 483.3v2.4M486.1 483.3v2.4M480.9 483.3v2.4M480.7 483.3v2.4M481.0 483.3v2.4M483.9 483.3v2.4M486.9 483.3v2.4M486.7 483.3v2.4M480.6 483.3v2.4M484.6 483.3v2.4M484.2 483.3v2.4M485.6 483.3v2.4M481.1 483.3v2.4M485.9 483.3v2.4M484.1 483.3v2.4M480.6 483.3v2.4M480.6 483.3v2.4M485.4 483.3v2.4M482.8 483.3v2.4M484.1 483.3v2.4M482.3 483.3v2.4M484.8 483.3v2.4M480.8 483.3v2.4M484.3 483.3v2.4M481.5 483.3v2.4M488.7 483.3v2.4M480.8 483.3v2.4M485.8 483.3v2.4M482.3 483.3v2.4M484.2 483.3v2.4M481.1 483.3v2.4M481.4 483.3v2.4M484.4 483.3v2.4M481.0 483.3v2.4M481.0 483.3v2.4M482.2 483.3v2.4M486.2 483.3v2.4M483.6 483.3v2.4M482.5 483.3v2.4M482.2 483.3v2.4M480.8 483.3v2.4M481.2 483.3v2.4M484.1 483.3v2.4M490.8 483.3v2.4M482.8 483.3v2.4M481.5 483.3v2.4M486.4 483.3v2.4M481.4 483.3v2.4M482.9 483.3v2.4M482.0 483.3v2.4M481.6 483.3v2.4M483.2 483.3v2.4M480.9 483.3v2.4M484.6 483.3v2.4M481.7 483.3v2.4M482.6 483.3v2.4M480.8 483.3v2.4M481.8 483.3v2.4M483.1 483.3v2.4M481.5 483.3v2.4M480.6 483.3v2.4M487.8 483.3v2.4M484.5 483.3v2.4M482.7 483.3v2.4M482.2 483.3v2.4M484.0 483.3v2.4M483.1 483.3v2.4M483.3 483.3v2.4M484.9 483.3v2.4M481.4 483.3v2.4M482.8 483.3v2.4M486.0 483.3v2.4M481.2 483.3v2.4M481.5 483.3v2.4M481.8 483.3v2.4M484.7 483.3v2.4M480.6 483.3v2.4M481.1 483.3v2.4M482.9 483.3v2.4M482.9 483.3v2.4M489.3 483.3v2.4M491.2 483.3v2.4M481.5 483.3v2.4M480.8 483.3v2.4M486.9 483.3v2.4M485.9 483.3v2.4M481.2 483.3v2.4M481.4 483.3v2.4M484.3 483.3v2.4M483.3 483.3v2.4M481.3 483.3v2.4M480.8 483.3v2.4M480.6 483.3v2.4M480.7 483.3v2.4M492.4 483.3v2.4M483.5 483.3v2.4M483.7 483.3v2.4M485.6 483.3v2.4M483.4 483.3v2.4M483.7 483.3v2.4M481.0 483.3v2.4M485.0 483.3v2.4M481.0 483.3v2.4M485.6 483.3v2.4M483.3 483.3v2.4M485.3 483.3v2.4M481.9 483.3v2.4M480.6 483.3v2.4M488.3 483.3v2.4M481.0 483.3v2.4M484.7 483.3v2.4M481.2 483.3v2.4M483.6 483.3v2.4M481.1 483.3v2.4M483.5 483.3v2.4M481.7 483.3v2.4M485.1 483.3v2.4M480.8 483.3v2.4M482.9 483.3v2.4M483.1 483.3v2.4M486.0 483.3v2.4M483.0 483.3v2.4M481.3 483.3v2.4M481.4 483.3v2.4M486.0 483.3v2.4M484.9 483.3v2.4M485.9 483.3v2.4M483.2 483.3v2.4M483.5 483.3v2.4M491.1 483.3v2.4M481.6 483.3v2.4M482.2 483.3v2.4M482.5 483.3v2.4M481.1 483.3v2.4M480.7 483.3v2.4M483.4 483.3v2.4M484.8 483.3v2.4M482.3 483.3v2.4M482.9 483.3v2.4M482.9 483.3v2.4M480.6 483.3v2.4M482.1 483.3v2.4M485.9 483.3v2.4M483.9 483.3v2.4M481.7 483.3v2.4M482.8 483.3v2.4M489.4 483.3v2.4M483.9 483.3v2.4M483.4 483.3v2.4M484.3 483.3v2.4M481.0 483.3v2.4M480.6 483.3v2.4M481.3 483.3v2.4M482.9 483.3v2.4M485.0 483.3v2.4M481.3 483.3v2.4M482.3 483.3v2.4M481.4 483.3v2.4M486.5 483.3v2.4M480.8 483.3v2.4M490.9 483.3v2.4M481.1 483.3v2.4M487.1 483.3v2.4M482.2 483.3v2.4M482.0 483.3v2.4M491.7 483.3v2.4M485.0 483.3v2.4M480.9 483.3v2.4M482.6 483.3v2.4M483.2 483.3v2.4M485.1 483.3v2.4M481.0 483.3v2.4M484.1 483.3v2.4M481.0 483.3v2.4M481.5 483.3v2.4M481.5 483.3v2.4M481.7 483.3v2.4M491.7 483.3v2.4M488.1 483.3v2.4M487.9 483.3v2.4M480.7 483.3v2.4M483.2 483.3v2.4M485.0 483.3v2.4M480.9 483.3v2.4M482.1 483.3v2.4M481.6 483.3v2.4M483.8 483.3v2.4M480.7 483.3v2.4M481.2 483.3v2.4M482.6 483.3v2.4M481.6 483.3v2.4M481.7 483.3v2.4M481.1 483.3v2.4M481.1 483.3v2.4M484.8 483.3v2.4M482.2 483.3v2.4M483.6 483.3v2.4M481.8 483.3v2.4M482.1 483.3v2.4M481.6 483.3v2.4M480.6 483.3v2.4M484.3 483.3v2.4M480.9 483.3v2.4M481.4 483.3v2.4M482.1 483.3v2.4M481.0 483.3v2.4M482.9 483.3v2.4M483.7 483.3v2.4M480.6 483.3v2.4M480.9 483.3v2.4M481.4 483.3v2.4M481.9 483.3v2.4M481.0 483.3v2.4M481.6 483.3v2.4M488.2 483.3v2.4M487.2 483.3v2.4M482.4 483.3v2.4M482.5 483.3v2.4M481.1 483.3v2.4M482.1 483.3v2.4M482.7 483.3v2.4M491.2 483.3v2.4M482.8 483.3v2.4M480.7 483.3v2.4M480.8 483.3v2.4M482.8 483.3v2.4M482.5 483.3v2.4M482.1 483.3v2.4M485.4 483.3v2.4M481.4 483.3v2.4M483.4 483.3v2.4M481.4 483.3v2.4M481.9 483.3v2.4M485.2 483.3v2.4M485.1 483.3v2.4M480.8 483.3v2.4M481.9 483.3v2.4M485.1 483.3v2.4M488.1 483.3v2.4M486.6 483.3v2.4M486.7 483.3v2.4M480.6 483.3v2.4M481.4 483.3v2.4M480.8 483.3v2.4M483.0 483.3v2.4M482.3 483.3v2.4M482.5 483.3v2.4M481.9 483.3v2.4M480.9 483.3v2.4M481.5 483.3v2.4M481.6 483.3v2.4M480.9 483.3v2.4M483.0 483.3v2.4M481.0 483.3v2.4M484.1 483.3v2.4M481.4 483.3v2.4M481.6 483.3v2.4M482.4 483.3v2.4M481.2 483.3v2.4M482.1 483.3v2.4M483.1 483.3v2.4M482.6 483.3v2.4M481.1 483.3v2.4M483.7 483.3v2.4M488.0 483.3v2.4M481.4 483.3v2.4M481.5 483.3v2.4M481.1 483.3v2.4M482.2 483.3v2.4M483.2 483.3v2.4M481.5 483.3v2.4M481.5 483.3v2.4M484.9 483.3v2.4M493.3 483.3v2.4M480.6 483.3v2.4M480.6 483.3v2.4M483.1 483.3v2.4M481.2 483.3v2.4M488.8 483.3v2.4M482.0 483.3v2.4M483.7 483.3v2.4M484.3 483.3v2.4M480.8 483.3v2.4M492.7 483.3v2.4M481.9 483.3v2.4M489.4 483.3v2.4M481.6 483.3v2.4M480.6 483.3v2.4M481.7 483.3v2.4M482.2 483.3v2.4M487.2 483.3v2.4M481.8 483.3v2.4M481.1 483.3v2.4M480.6 483.3v2.4M482.0 483.3v2.4M483.8 483.3v2.4M481.5 483.3v2.4M481.8 483.3v2.4M486.7 483.3v2.4M485.7 483.3v2.4M483.6 483.3v2.4M481.9 483.3v2.4M482.6 483.3v2.4M480.6 483.3v2.4M485.6 483.3v2.4M481.2 483.3v2.4M481.1 483.3v2.4M481.6 483.3v2.4M485.0 483.3v2.4M480.9 483.3v2.4M483.5 483.3v2.4M484.0 483.3v2.4M481.4 483.3v2.4M481.3 483.3v2.4M483.6 483.3v2.4M489.5 483.3v2.4M484.1 483.3v2.4M486.9 483.3v2.4M482.3 483.3v2.4M484.0 483.3v2.4M483.8 483.3v2.4M482.9 483.3v2.4M481.1 483.3v2.4M480.6 483.3v2.4M488.1 483.3v2.4M480.7 483.3v2.4M484.7 483.3v2.4M484.7 483.3v2.4M485.0 483.3v2.4M480.7 483.3v2.4M480.7 483.3v2.4M483.0 483.3v2.4M480.7 483.3v2.4M482.9 483.3v2.4M481.1 483.3v2.4M484.4 483.3v2.4M482.2 483.3v2.4M481.6 483.3v2.4M483.5 483.3v2.4M486.5 483.3v2.4M480.9 483.3v2.4M481.3 483.3v2.4M481.6 483.3v2.4M483.6 483.3v2.4M481.1 483.3v2.4M481.2 483.3v2.4M480.7 483.3v2.4M485.1 483.3v2.4M485.1 483.3v2.4M483.5 483.3v2.4M486.6 483.3v2.4M481.0 483.3v2.4M482.0 483.3v2.4M485.2 483.3v2.4M481.7 483.3v2.4M483.0 483.3v2.4M481.3 483.3v2.4M482.6 483.3v2.4M485.7 483.3v2.4M484.6 483.3v2.4M481.0 483.3v2.4M488.4 483.3v2.4M482.5 483.3v2.4M483.1 483.3v2.4M485.8 483.3v2.4M482.4 483.3v2.4M480.8 483.3v2.4M482.1 483.3v2.4M481.3 483.3v2.4M484.8 483.3v2.4M484.6 483.3v2.4M482.7 483.3v2.4M480.6 483.3v2.4M494.0 483.3v2.4M496.6 483.3v2.4M519.8 483.3v2.4M489.3 483.3v2.4M544.1 483.3v2.4M508.6 483.3v2.4M492.3 483.3v2.4M506.4 483.3v2.4M495.8 483.3v2.4M488.9 483.3v2.4M493.1 483.3v2.4M495.3 483.3v2.4M492.2 483.3v2.4M508.1 483.3v2.4M511.6 483.3v2.4M487.8 483.3v2.4M502.8 483.3v2.4M525.4 483.3v2.4M538.5 483.3v2.4M487.4 483.3v2.4M500.4 483.3v2.4M500.8 483.3v2.4M489.0 483.3v2.4M493.6 483.3v2.4M501.4 483.3v2.4M494.0 483.3v2.4M503.3 483.3v2.4M491.6 483.3v2.4M504.6 483.3v2.4M486.6 483.3v2.4M520.5 483.3v2.4M489.3 483.3v2.4M496.6 483.3v2.4M490.6 483.3v2.4M488.1 483.3v2.4M486.8 483.3v2.4M493.3 483.3v2.4M492.7 483.3v2.4M493.7 483.3v2.4M488.1 483.3v2.4M508.8 483.3v2.4M495.2 483.3v2.4M487.7 483.3v2.4M508.8 483.3v2.4M497.3 483.3v2.4M509.1 483.3v2.4M513.5 483.3v2.4M486.6 483.3v2.4M507.3 483.3v2.4M546.3 483.3v2.4M496.8 483.3v2.4M548.3 483.3v2.4M488.3 483.3v2.4M494.2 483.3v2.4M498.7 483.3v2.4M525.8 483.3v2.4M501.7 483.3v2.4M490.7 483.3v2.4M527.2 483.3v2.4M488.9 483.3v2.4M490.6 483.3v2.4M493.7 483.3v2.4M494.7 483.3v2.4M490.8 483.3v2.4M487.6 483.3v2.4M516.8 483.3v2.4M488.1 483.3v2.4M493.7 483.3v2.4M495.3 483.3v2.4M519.3 483.3v2.4M497.3 483.3v2.4M491.3 483.3v2.4M501.7 483.3v2.4M495.1 483.3v2.4M516.7 483.3v2.4M504.8 483.3v2.4M504.4 483.3v2.4M523.4 483.3v2.4M508.1 483.3v2.4M492.4 483.3v2.4M493.3 483.3v2.4M515.4 483.3v2.4M500.7 483.3v2.4M500.3 483.3v2.4M494.6 483.3v2.4M497.0 483.3v2.4M499.9 483.3v2.4M520.9 483.3v2.4M510.5 483.3v2.4M490.6 483.3v2.4M487.7 483.3v2.4M496.7 483.3v2.4M500.6 483.3v2.4M488.5 483.3v2.4M530.9 483.3v2.4M487.3 483.3v2.4M488.8 483.3v2.4M492.7 483.3v2.4M498.7 483.3v2.4M498.7 483.3v2.4M500.7 483.3v2.4M496.4 483.3v2.4M494.2 483.3v2.4M516.0 483.3v2.4M491.6 483.3v2.4M501.7 483.3v2.4M499.3 483.3v2.4M528.0 483.3v2.4M495.0 483.3v2.4M486.5 483.3v2.4M488.7 483.3v2.4M510.8 483.3v2.4M488.6 483.3v2.4M504.5 483.3v2.4M526.1 483.3v2.4M486.6 483.3v2.4M497.2 483.3v2.4M506.4 483.3v2.4M506.6 483.3v2.4M487.1 483.3v2.4M507.1 483.3v2.4M488.3 483.3v2.4M488.3 483.3v2.4M499.4 483.3v2.4M518.7 483.3v2.4M492.5 483.3v2.4M502.0 483.3v2.4M521.6 483.3v2.4M496.9 483.3v2.4M536.2 483.3v2.4M502.6 483.3v2.4M561.9 483.3v2.4M503.2 483.3v2.4M493.0 483.3v2.4M505.1 483.3v2.4M498.1 483.3v2.4M527.6 483.3v2.4M487.1 483.3v2.4M494.4 483.3v2.4M515.3 483.3v2.4M496.5 483.3v2.4M503.6 483.3v2.4M499.6 483.3v2.4M517.2 483.3v2.4M492.8 483.3v2.4M554.6 483.3v2.4M489.8 483.3v2.4M518.9 483.3v2.4M506.6 483.3v2.4M507.3 483.3v2.4M495.3 483.3v2.4M506.0 483.3v2.4M502.9 483.3v2.4M496.2 483.3v2.4M488.4 483.3v2.4M490.1 483.3v2.4M498.9 483.3v2.4M488.8 483.3v2.4M490.8 483.3v2.4M491.5 483.3v2.4M510.0 483.3v2.4M517.8 483.3v2.4M537.7 483.3v2.4M495.5 483.3v2.4M491.3 483.3v2.4M527.1 483.3v2.4M487.1 483.3v2.4M510.2 483.3v2.4M496.3 483.3v2.4M492.9 483.3v2.4M489.3 483.3v2.4M506.6 483.3v2.4M489.3 483.3v2.4M549.5 483.3v2.4M496.6 483.3v2.4M521.3 483.3v2.4M486.4 483.3v2.4M497.8 483.3v2.4M497.7 483.3v2.4M503.0 483.3v2.4M493.9 483.3v2.4M491.8 483.3v2.4M508.4 483.3v2.4M487.0 483.3v2.4M488.9 483.3v2.4M496.0 483.3v2.4M510.8 483.3v2.4M515.1 483.3v2.4M489.7 483.3v2.4M505.8 483.3v2.4M510.5 483.3v2.4M492.3 483.3v2.4M493.9 483.3v2.4M488.3 483.3v2.4M488.0 483.3v2.4M518.8 483.3v2.4M493.8 483.3v2.4M506.1 483.3v2.4M487.1 483.3v2.4M490.6 483.3v2.4M500.3 483.3v2.4M521.8 483.3v2.4M501.8 483.3v2.4M493.0 483.3v2.4M536.3 483.3v2.4M506.6 483.3v2.4M494.9 483.3v2.4M506.8 483.3v2.4M513.0 483.3v2.4M503.2 483.3v2.4M509.5 483.3v2.4M497.9 483.3v2.4M492.2 483.3v2.4M489.9 483.3v2.4M493.0 483.3v2.4M490.1 483.3v2.4M487.2 483.3v2.4M490.4 483.3v2.4M490.9 483.3v2.4M507.1 483.3v2.4M485.2 483.3v2.4M514.3 483.3v2.4M481.4 483.3v2.4M483.6 483.3v2.4M483.1 483.3v2.4M511.0 483.3v2.4M482.8 483.3v2.4M506.5 483.3v2.4M485.7 483.3v2.4M488.0 483.3v2.4M483.2 483.3v2.4M513.3 483.3v2.4M490.1 483.3v2.4M532.4 483.3v2.4M504.0 483.3v2.4M497.1 483.3v2.4M493.1 483.3v2.4M497.1 483.3v2.4M497.9 483.3v2.4M548.4 483.3v2.4M486.0 483.3v2.4M485.0 483.3v2.4M503.6 483.3v2.4M500.4 483.3v2.4M493.4 483.3v2.4M481.4 483.3v2.4M486.0 483.3v2.4M512.4 483.3v2.4M487.3 483.3v2.4M499.1 483.3v2.4M494.1 483.3v2.4M484.8 483.3v2.4M482.3 483.3v2.4M482.5 483.3v2.4M505.2 483.3v2.4M486.4 483.3v2.4M495.0 483.3v2.4M497.8 483.3v2.4M508.7 483.3v2.4M484.5 483.3v2.4" stroke="#4fae6a" stroke-width="0.5" fill="none" opacity="0.55"/>
<path d="M480.4 444.8h1.6M480.2 448.1h1.6M479.9 436.5h1.6M483.6 457.1h1.6M481.6 470.0h1.6M480.5 454.5h1.6M480.3 451.2h1.6M486.1 443.8h1.6M483.6 453.2h1.6M482.1 444.7h1.6M482.9 437.1h1.6M480.0 477.8h1.6M481.5 473.6h1.6M480.2 465.3h1.6M486.3 457.0h1.6M484.6 471.7h1.6M485.5 462.4h1.6M481.8 434.2h1.6M481.5 480.1h1.6M481.1 472.6h1.6M480.2 468.5h1.6M480.6 456.3h1.6M479.9 462.8h1.6M482.1 462.1h1.6M481.3 437.9h1.6M480.8 447.2h1.6M481.0 458.4h1.6M480.3 467.2h1.6M480.8 468.2h1.6M483.1 467.4h1.6M485.4 438.9h1.6M480.0 447.0h1.6M483.3 453.6h1.6M482.1 457.0h1.6M480.2 443.2h1.6M481.2 433.3h1.6M485.2 451.3h1.6M487.2 462.2h1.6M479.8 468.8h1.6M483.4 436.8h1.6M482.1 452.4h1.6M480.3 470.9h1.6M481.2 447.5h1.6M487.6 445.8h1.6M480.7 453.1h1.6M480.2 457.9h1.6M483.5 467.2h1.6M480.0 447.7h1.6M489.4 468.3h1.6M479.9 452.9h1.6M479.9 445.9h1.6M480.2 436.3h1.6M479.9 470.8h1.6M494.3 457.5h1.6M480.1 463.5h1.6M481.0 439.2h1.6M480.4 459.7h1.6M481.0 441.2h1.6M480.5 454.2h1.6M485.1 448.6h1.6M479.8 475.4h1.6M480.5 457.7h1.6M480.4 446.8h1.6M484.7 454.8h1.6M486.1 454.0h1.6M481.8 441.2h1.6M485.3 459.2h1.6M482.3 451.2h1.6M481.4 448.6h1.6M484.8 451.9h1.6M485.3 444.7h1.6M482.3 465.1h1.6M483.6 477.4h1.6M481.6 472.5h1.6M480.5 479.2h1.6M485.9 451.9h1.6M488.3 460.0h1.6M487.6 460.7h1.6M485.3 462.6h1.6M480.1 433.9h1.6M479.9 463.1h1.6M480.2 472.5h1.6M483.1 474.5h1.6M486.1 457.9h1.6M485.9 456.9h1.6M479.8 452.3h1.6M483.8 464.0h1.6M483.4 443.0h1.6M484.8 472.9h1.6M480.3 465.3h1.6M485.1 471.4h1.6M483.3 478.3h1.6M479.8 454.6h1.6M479.8 474.3h1.6M484.6 469.0h1.6M482.0 448.0h1.6M483.3 446.0h1.6M481.5 426.4h1.6M484.0 456.1h1.6M480.0 474.0h1.6M483.5 462.6h1.6M480.7 456.2h1.6M487.9 439.0h1.6M480.0 440.7h1.6M485.0 442.8h1.6M481.5 444.9h1.6M483.4 426.7h1.6M480.3 444.1h1.6M480.6 449.1h1.6M483.6 473.2h1.6M480.2 450.9h1.6M480.2 465.6h1.6M481.4 469.2h1.6M485.4 440.5h1.6M482.8 443.7h1.6M481.7 457.7h1.6M481.4 462.3h1.6M480.0 477.0h1.6M480.4 449.2h1.6M483.3 471.1h1.6M490.0 475.8h1.6M482.0 476.2h1.6M480.7 442.2h1.6M485.6 468.0h1.6M480.6 438.4h1.6M482.1 480.0h1.6M481.2 440.0h1.6M480.8 436.0h1.6M482.4 453.6h1.6M480.1 453.0h1.6M483.8 442.4h1.6M480.9 425.8h1.6M481.8 471.9h1.6M480.0 439.4h1.6M481.0 448.5h1.6M482.3 462.3h1.6M480.7 459.3h1.6M479.8 454.8h1.6M487.0 443.8h1.6M483.7 448.8h1.6M481.9 461.0h1.6M481.4 475.9h1.6M483.2 450.0h1.6M482.3 459.8h1.6M482.5 458.9h1.6M484.1 481.4h1.6M480.6 442.8h1.6M482.0 465.7h1.6M485.2 462.3h1.6M480.4 472.0h1.6M480.7 444.6h1.6M481.0 468.2h1.6M483.9 461.8h1.6M479.8 441.4h1.6M480.3 464.6h1.6M482.1 427.3h1.6M482.1 454.7h1.6M488.5 453.0h1.6M490.4 438.3h1.6M480.7 469.2h1.6M480.0 458.8h1.6M486.1 446.4h1.6M485.1 456.5h1.6M480.4 467.5h1.6M480.6 448.7h1.6M483.5 461.4h1.6M482.5 470.6h1.6M480.5 467.9h1.6M480.0 459.7h1.6M479.8 461.7h1.6M479.9 450.4h1.6M491.6 466.7h1.6M482.7 424.1h1.6M482.9 481.4h1.6M484.8 462.3h1.6M482.6 479.2h1.6M482.9 476.9h1.6M480.2 464.6h1.6M484.2 464.4h1.6M480.2 457.6h1.6M484.8 458.8h1.6M482.5 441.5h1.6M484.5 466.0h1.6M481.1 443.6h1.6M479.8 455.9h1.6M487.5 460.5h1.6M480.2 440.2h1.6M483.9 431.1h1.6M480.4 476.2h1.6M482.8 464.5h1.6M480.3 432.5h1.6M482.7 423.6h1.6M480.9 476.9h1.6M484.3 447.0h1.6M480.0 477.4h1.6M482.1 446.1h1.6M482.3 465.7h1.6M485.2 461.9h1.6M482.2 460.9h1.6M480.5 442.7h1.6M480.6 477.4h1.6M485.2 469.0h1.6M484.1 469.0h1.6M485.1 431.0h1.6M482.4 479.8h1.6M482.7 474.4h1.6M490.3 470.7h1.6M480.8 435.1h1.6M481.4 445.2h1.6M481.7 468.6h1.6M480.3 465.5h1.6M479.9 451.0h1.6M482.6 423.8h1.6M484.0 427.2h1.6M481.5 426.0h1.6M482.1 458.0h1.6M482.1 431.2h1.6M479.8 455.1h1.6M481.3 448.5h1.6M485.1 445.7h1.6M483.1 452.5h1.6M480.9 471.1h1.6M482.0 441.3h1.6M488.6 454.5h1.6M483.1 449.0h1.6M482.6 468.9h1.6M483.5 463.3h1.6M480.2 475.4h1.6M479.8 428.8h1.6M480.5 457.6h1.6M482.1 475.3h1.6M484.2 468.3h1.6M480.5 437.2h1.6M481.5 445.3h1.6M480.6 455.7h1.6M485.7 439.2h1.6M480.0 437.4h1.6M490.1 454.5h1.6M480.3 451.8h1.6M486.3 475.4h1.6M481.4 446.7h1.6M481.2 448.2h1.6M490.9 451.9h1.6M484.2 447.4h1.6M480.1 444.4h1.6M481.8 460.7h1.6M482.4 452.7h1.6M484.3 461.9h1.6M480.2 459.0h1.6M483.3 462.1h1.6M480.2 457.0h1.6M480.7 453.9h1.6M480.7 435.5h1.6M480.9 460.6h1.6M490.9 452.7h1.6M487.3 447.9h1.6M487.1 476.9h1.6M479.9 436.7h1.6M482.4 473.1h1.6M484.2 449.3h1.6M480.1 451.4h1.6M481.3 478.2h1.6M480.8 464.2h1.6M483.0 443.3h1.6M479.9 451.5h1.6M480.4 448.6h1.6M481.8 450.2h1.6M480.8 436.2h1.6M480.9 468.7h1.6M480.3 457.3h1.6M480.3 454.4h1.6M484.0 462.8h1.6M481.4 444.4h1.6M482.8 454.5h1.6M481.0 447.8h1.6M481.3 445.7h1.6M480.8 466.7h1.6M479.8 455.2h1.6M483.5 460.1h1.6M480.1 475.5h1.6M480.6 470.9h1.6M481.3 438.0h1.6M480.2 461.6h1.6M482.1 476.5h1.6M482.9 471.5h1.6M479.8 446.6h1.6M480.1 447.9h1.6M480.6 455.4h1.6M481.1 467.5h1.6M480.2 436.4h1.6M480.8 467.6h1.6M487.4 476.9h1.6M486.4 459.0h1.6M481.6 443.1h1.6M481.7 480.4h1.6M480.3 433.3h1.6M481.3 432.8h1.6M481.9 434.6h1.6M490.4 441.8h1.6M482.0 437.5h1.6M479.9 443.7h1.6M480.0 430.8h1.6M482.0 468.7h1.6M481.7 458.7h1.6M481.3 452.5h1.6M484.6 453.4h1.6M480.6 439.9h1.6M482.6 424.3h1.6M480.6 467.0h1.6M481.1 437.7h1.6M484.4 457.9h1.6M484.3 442.2h1.6M480.0 450.4h1.6M481.1 446.5h1.6M484.3 465.3h1.6M487.3 453.5h1.6M485.8 468.4h1.6M485.9 455.8h1.6M479.8 458.2h1.6M480.6 475.7h1.6M480.0 460.1h1.6M482.2 469.9h1.6M481.5 478.7h1.6M481.7 460.5h1.6M481.1 463.9h1.6M480.1 435.7h1.6M480.7 441.0h1.6M480.8 462.0h1.6M480.1 436.3h1.6M482.2 420.5h1.6M480.2 440.4h1.6M483.3 475.1h1.6M480.6 463.1h1.6M480.8 457.1h1.6M481.6 478.6h1.6M480.4 465.4h1.6M481.3 465.4h1.6M482.3 479.4h1.6M481.8 464.2h1.6M480.3 433.7h1.6M482.9 464.9h1.6M487.2 472.6h1.6M480.6 453.7h1.6M480.7 462.7h1.6M480.3 444.3h1.6M481.4 462.4h1.6M482.4 442.7h1.6M480.7 438.7h1.6M480.7 480.8h1.6M484.1 454.9h1.6M492.5 451.5h1.6M479.8 424.6h1.6M479.8 457.0h1.6M482.3 469.4h1.6M480.4 462.3h1.6M488.0 468.0h1.6M481.2 450.5h1.6M482.9 460.0h1.6M483.5 451.2h1.6M480.0 456.7h1.6M491.9 457.6h1.6M481.1 459.9h1.6M488.6 479.5h1.6M480.8 473.0h1.6M479.8 437.7h1.6M480.9 456.9h1.6M481.4 480.0h1.6M486.4 447.1h1.6M481.0 444.0h1.6M480.3 449.6h1.6M479.8 460.1h1.6M481.2 449.7h1.6M483.0 456.5h1.6M480.7 475.2h1.6M481.0 451.5h1.6M485.9 462.2h1.6M484.9 426.9h1.6M482.8 462.2h1.6M481.1 465.2h1.6M481.8 461.5h1.6M479.8 443.4h1.6M484.8 475.4h1.6M480.4 476.4h1.6M480.3 453.6h1.6M480.8 473.6h1.6M484.2 450.0h1.6M480.1 456.5h1.6M482.7 460.1h1.6M483.2 453.0h1.6M480.6 448.2h1.6M480.5 446.0h1.6M482.8 480.8h1.6M488.7 467.9h1.6M483.3 446.8h1.6M486.1 459.0h1.6M481.5 473.6h1.6M483.2 450.0h1.6M483.0 464.5h1.6M482.1 469.4h1.6M480.3 464.5h1.6M479.8 466.5h1.6M487.3 448.4h1.6M479.9 468.6h1.6M483.9 456.9h1.6M483.9 467.8h1.6M484.2 470.2h1.6M479.9 464.2h1.6M479.9 448.5h1.6M482.2 453.5h1.6M479.9 428.6h1.6M482.1 457.4h1.6M480.3 456.6h1.6M483.6 457.7h1.6M481.4 455.4h1.6M480.8 477.8h1.6M482.7 468.0h1.6M485.7 470.7h1.6M480.1 438.0h1.6M480.5 430.8h1.6M480.8 439.3h1.6M482.8 446.4h1.6M480.3 469.7h1.6M480.4 474.7h1.6M479.9 457.1h1.6M484.3 479.9h1.6M484.3 463.0h1.6M482.7 444.7h1.6M485.8 450.9h1.6M480.2 452.4h1.6M481.2 444.7h1.6M484.4 473.6h1.6M480.9 469.7h1.6M482.2 463.2h1.6M480.5 441.4h1.6M481.8 457.4h1.6M484.9 466.9h1.6M483.8 420.9h1.6M480.2 451.2h1.6M487.6 464.1h1.6M481.7 473.7h1.6M482.3 466.4h1.6M485.0 465.3h1.6M481.6 445.3h1.6M480.0 452.0h1.6M481.3 441.1h1.6M480.5 446.8h1.6M484.0 456.9h1.6M483.8 468.9h1.6M481.9 462.8h1.6M479.8 421.7h1.6M493.2 460.4h1.6M495.8 458.4h1.6M519.0 465.9h1.6M488.5 434.7h1.6M543.3 445.0h1.6M507.8 455.3h1.6M491.5 443.7h1.6M505.6 451.5h1.6M495.0 460.8h1.6M488.1 454.8h1.6M492.3 479.9h1.6M494.5 455.7h1.6M491.4 434.6h1.6M507.3 464.8h1.6M510.8 464.5h1.6M487.0 452.3h1.6M502.0 453.7h1.6M524.6 470.0h1.6M537.7 453.8h1.6M486.6 466.1h1.6M499.6 440.7h1.6M500.0 444.1h1.6M488.2 439.1h1.6M492.8 448.0h1.6M500.6 442.1h1.6M493.2 445.5h1.6M502.5 439.4h1.6M490.8 455.5h1.6M503.8 438.2h1.6M485.8 455.7h1.6M519.7 457.7h1.6M488.5 451.7h1.6M495.8 456.8h1.6M489.8 449.4h1.6M487.3 477.7h1.6M486.0 455.3h1.6M492.5 468.2h1.6M491.9 466.0h1.6M492.9 439.5h1.6M487.3 445.8h1.6M508.0 459.9h1.6M494.4 469.9h1.6M486.9 434.0h1.6M508.0 441.4h1.6M496.5 437.4h1.6M508.3 433.7h1.6M512.7 445.2h1.6M485.8 458.1h1.6M506.5 464.0h1.6M545.5 438.8h1.6M496.0 453.2h1.6M547.5 450.3h1.6M487.5 455.0h1.6M493.4 445.0h1.6M497.9 477.3h1.6M525.0 440.9h1.6M500.9 480.0h1.6M489.9 455.6h1.6M526.4 476.1h1.6M488.1 440.4h1.6M489.8 451.6h1.6M492.9 435.1h1.6M493.9 446.2h1.6M490.0 438.4h1.6M486.8 442.3h1.6M516.0 458.6h1.6M487.3 423.2h1.6M492.9 450.3h1.6M494.5 470.6h1.6M518.5 439.0h1.6M496.5 429.4h1.6M490.5 460.2h1.6M500.9 444.0h1.6M494.3 474.0h1.6M515.9 455.8h1.6M504.0 459.4h1.6M503.6 433.1h1.6M522.6 466.8h1.6M507.3 441.8h1.6M491.6 462.6h1.6M492.5 435.7h1.6M514.6 459.2h1.6M499.9 445.1h1.6M499.5 455.5h1.6M493.8 473.2h1.6M496.2 446.8h1.6M499.1 476.6h1.6M520.1 436.9h1.6M509.7 453.6h1.6M489.8 444.4h1.6M486.9 456.9h1.6M495.9 447.4h1.6M499.8 444.2h1.6M487.7 464.4h1.6M530.1 445.2h1.6M486.5 469.5h1.6M488.0 454.4h1.6M491.9 462.2h1.6M497.9 443.2h1.6M497.9 468.5h1.6M499.9 450.2h1.6M495.6 438.6h1.6M493.4 438.6h1.6M515.2 441.3h1.6M490.8 440.1h1.6M500.9 444.8h1.6M498.5 472.3h1.6M527.2 446.4h1.6M494.2 458.5h1.6M485.7 459.0h1.6M487.9 463.7h1.6M510.0 456.3h1.6M487.8 469.4h1.6M503.7 479.7h1.6M525.3 440.8h1.6M485.8 478.8h1.6M496.4 458.1h1.6M505.6 438.7h1.6M505.8 450.9h1.6M486.3 445.0h1.6M506.3 450.6h1.6M487.5 459.1h1.6M487.5 447.9h1.6M498.6 453.8h1.6M517.9 443.0h1.6M491.7 434.3h1.6M501.2 461.4h1.6M520.8 451.8h1.6M496.1 434.3h1.6M535.4 455.6h1.6M501.8 452.1h1.6M561.1 452.9h1.6M502.4 446.4h1.6M492.2 479.9h1.6M504.3 456.5h1.6M497.3 457.5h1.6M526.8 477.1h1.6M486.3 462.2h1.6M493.6 471.7h1.6M514.5 454.1h1.6M495.7 469.3h1.6M502.8 460.4h1.6M498.8 462.7h1.6M516.4 446.2h1.6M492.0 456.1h1.6M553.8 464.5h1.6M489.0 465.5h1.6M518.1 446.8h1.6M505.8 454.3h1.6M506.5 442.7h1.6M494.5 450.4h1.6M505.2 447.0h1.6M502.1 451.4h1.6M495.4 458.8h1.6M487.6 462.8h1.6M489.3 457.8h1.6M498.1 440.3h1.6M488.0 431.5h1.6M490.0 453.1h1.6M490.7 464.6h1.6M509.2 477.5h1.6M517.0 463.5h1.6M536.9 441.2h1.6M494.7 446.0h1.6M490.5 443.8h1.6M526.3 464.0h1.6M486.3 472.4h1.6M509.4 446.5h1.6M495.5 443.7h1.6M492.1 460.5h1.6M488.5 447.3h1.6M505.8 438.1h1.6M488.5 468.7h1.6M548.7 452.3h1.6M495.8 449.6h1.6M520.5 463.2h1.6M485.6 441.6h1.6M497.0 436.8h1.6M496.9 462.9h1.6M502.2 462.6h1.6M493.1 472.9h1.6M491.0 465.0h1.6M507.6 433.9h1.6M486.2 461.1h1.6M488.1 449.6h1.6M495.2 452.1h1.6M510.0 460.7h1.6M514.3 429.8h1.6M488.9 458.3h1.6M505.0 463.7h1.6M509.7 458.6h1.6M491.5 437.6h1.6M493.1 478.4h1.6M487.5 450.1h1.6M487.2 461.1h1.6M518.0 452.5h1.6M493.0 442.3h1.6M505.3 449.2h1.6M486.3 441.7h1.6M489.8 453.9h1.6M499.5 473.9h1.6M521.0 442.0h1.6M501.0 451.2h1.6M492.2 443.3h1.6M535.5 454.9h1.6M505.8 468.6h1.6M494.1 461.4h1.6M506.0 440.3h1.6M512.2 470.7h1.6M502.4 472.0h1.6M508.7 434.7h1.6M497.1 434.0h1.6M491.4 440.0h1.6M489.1 439.2h1.6M492.2 462.8h1.6M489.3 456.2h1.6M486.4 469.0h1.6M489.6 431.5h1.6M490.1 440.4h1.6M506.3 438.7h1.6M484.4 482.1h1.6M513.5 482.1h1.6M480.6 482.1h1.6M482.8 482.1h1.6M482.3 482.1h1.6M510.2 482.1h1.6M482.0 482.1h1.6M505.7 482.1h1.6M484.9 482.1h1.6M487.2 482.1h1.6M482.4 482.1h1.6M512.5 482.1h1.6M489.3 482.1h1.6M531.6 482.1h1.6M503.2 482.1h1.6M496.3 482.1h1.6M492.3 482.1h1.6M496.3 482.1h1.6M497.1 482.1h1.6M547.6 482.1h1.6M485.2 482.1h1.6M484.2 482.1h1.6M502.8 482.1h1.6M499.6 482.1h1.6M492.6 482.1h1.6M480.6 482.1h1.6M485.2 482.1h1.6M511.6 482.1h1.6M486.5 482.1h1.6M498.3 482.1h1.6M493.3 482.1h1.6M484.0 482.1h1.6M481.5 482.1h1.6M481.7 482.1h1.6M504.4 482.1h1.6M485.6 482.1h1.6M494.2 482.1h1.6M497.0 482.1h1.6M507.9 482.1h1.6M483.7 482.1h1.6" stroke="#2a8a45" stroke-width="1.6" fill="none"/>
<path d="M479.0 444.8h3.2M479.0 448.1h3.2M479.0 436.5h3.2M479.0 457.1h3.2M479.0 470.0h3.2M479.0 454.5h3.2M479.0 451.2h3.2M479.0 443.8h3.2M479.0 453.2h3.2M479.0 444.7h3.2M479.0 437.1h3.2M479.0 477.8h3.2M479.0 473.6h3.2M479.0 465.3h3.2M479.0 457.0h3.2M479.0 471.7h3.2M479.0 462.4h3.2M479.0 434.2h3.2M479.0 480.1h3.2M479.0 472.6h3.2M479.0 468.5h3.2M479.0 456.3h3.2M479.0 462.8h3.2M479.0 462.1h3.2M479.0 437.9h3.2M479.0 447.2h3.2M479.0 458.4h3.2M479.0 467.2h3.2M479.0 468.2h3.2M479.0 467.4h3.2M479.0 438.9h3.2M479.0 447.0h3.2M479.0 453.6h3.2M479.0 457.0h3.2M479.0 443.2h3.2M479.0 433.3h3.2M479.0 451.3h3.2M479.0 462.2h3.2M479.0 468.8h3.2M479.0 436.8h3.2M479.0 452.4h3.2M479.0 470.9h3.2M479.0 447.5h3.2M479.0 445.8h3.2M479.0 453.1h3.2M479.0 457.9h3.2M479.0 467.2h3.2M479.0 447.7h3.2M479.0 468.3h3.2M479.0 452.9h3.2M479.0 445.9h3.2M479.0 436.3h3.2M479.0 470.8h3.2M479.0 457.5h3.2M479.0 463.5h3.2M479.0 439.2h3.2M479.0 459.7h3.2M479.0 441.2h3.2M479.0 454.2h3.2M479.0 448.6h3.2M479.0 475.4h3.2M479.0 457.7h3.2M479.0 446.8h3.2M479.0 454.8h3.2M479.0 454.0h3.2M479.0 441.2h3.2M479.0 459.2h3.2M479.0 451.2h3.2M479.0 448.6h3.2M479.0 451.9h3.2M479.0 444.7h3.2M479.0 465.1h3.2M479.0 477.4h3.2M479.0 472.5h3.2M479.0 479.2h3.2M479.0 451.9h3.2M479.0 460.0h3.2M479.0 460.7h3.2M479.0 462.6h3.2M479.0 433.9h3.2M479.0 463.1h3.2M479.0 472.5h3.2M479.0 474.5h3.2M479.0 457.9h3.2M479.0 456.9h3.2M479.0 452.3h3.2M479.0 464.0h3.2M479.0 443.0h3.2M479.0 472.9h3.2M479.0 465.3h3.2M479.0 471.4h3.2M479.0 478.3h3.2M479.0 454.6h3.2M479.0 474.3h3.2M479.0 469.0h3.2M479.0 448.0h3.2M479.0 446.0h3.2M479.0 426.4h3.2M479.0 456.1h3.2M479.0 474.0h3.2M479.0 462.6h3.2M479.0 456.2h3.2M479.0 439.0h3.2M479.0 440.7h3.2M479.0 442.8h3.2M479.0 444.9h3.2M479.0 426.7h3.2M479.0 444.1h3.2M479.0 449.1h3.2M479.0 473.2h3.2M479.0 450.9h3.2M479.0 465.6h3.2M479.0 469.2h3.2M479.0 440.5h3.2M479.0 443.7h3.2M479.0 457.7h3.2M479.0 462.3h3.2M479.0 477.0h3.2M479.0 449.2h3.2M479.0 471.1h3.2M479.0 475.8h3.2M479.0 476.2h3.2M479.0 442.2h3.2M479.0 468.0h3.2M479.0 438.4h3.2M479.0 480.0h3.2M479.0 440.0h3.2M479.0 436.0h3.2M479.0 453.6h3.2M479.0 453.0h3.2M479.0 442.4h3.2M479.0 425.8h3.2M479.0 471.9h3.2M479.0 439.4h3.2M479.0 448.5h3.2M479.0 462.3h3.2M479.0 459.3h3.2M479.0 454.8h3.2M479.0 443.8h3.2M479.0 448.8h3.2M479.0 461.0h3.2M479.0 475.9h3.2M479.0 450.0h3.2M479.0 459.8h3.2M479.0 458.9h3.2M479.0 481.4h3.2M479.0 442.8h3.2M479.0 465.7h3.2M479.0 462.3h3.2M479.0 472.0h3.2M479.0 444.6h3.2M479.0 468.2h3.2M479.0 461.8h3.2M479.0 441.4h3.2M479.0 464.6h3.2M479.0 427.3h3.2M479.0 454.7h3.2M479.0 453.0h3.2M479.0 438.3h3.2M479.0 469.2h3.2M479.0 458.8h3.2M479.0 446.4h3.2M479.0 456.5h3.2M479.0 467.5h3.2M479.0 448.7h3.2M479.0 461.4h3.2M479.0 470.6h3.2M479.0 467.9h3.2M479.0 459.7h3.2M479.0 461.7h3.2M479.0 450.4h3.2M479.0 466.7h3.2M479.0 424.1h3.2M479.0 481.4h3.2M479.0 462.3h3.2M479.0 479.2h3.2M479.0 476.9h3.2M479.0 464.6h3.2M479.0 464.4h3.2M479.0 457.6h3.2M479.0 458.8h3.2M479.0 441.5h3.2M479.0 466.0h3.2M479.0 443.6h3.2M479.0 455.9h3.2M479.0 460.5h3.2M479.0 440.2h3.2M479.0 431.1h3.2M479.0 476.2h3.2M479.0 464.5h3.2M479.0 432.5h3.2M479.0 423.6h3.2M479.0 476.9h3.2M479.0 447.0h3.2M479.0 477.4h3.2M479.0 446.1h3.2M479.0 465.7h3.2M479.0 461.9h3.2M479.0 460.9h3.2M479.0 442.7h3.2M479.0 477.4h3.2M479.0 469.0h3.2M479.0 469.0h3.2M479.0 431.0h3.2M479.0 479.8h3.2M479.0 474.4h3.2M479.0 470.7h3.2M479.0 435.1h3.2M479.0 445.2h3.2M479.0 468.6h3.2M479.0 465.5h3.2M479.0 451.0h3.2M479.0 423.8h3.2M479.0 427.2h3.2M479.0 426.0h3.2M479.0 458.0h3.2M479.0 431.2h3.2M479.0 455.1h3.2M479.0 448.5h3.2M479.0 445.7h3.2M479.0 452.5h3.2M479.0 471.1h3.2M479.0 441.3h3.2M479.0 454.5h3.2M479.0 449.0h3.2M479.0 468.9h3.2M479.0 463.3h3.2M479.0 475.4h3.2M479.0 428.8h3.2M479.0 457.6h3.2M479.0 475.3h3.2M479.0 468.3h3.2M479.0 437.2h3.2M479.0 445.3h3.2M479.0 455.7h3.2M479.0 439.2h3.2M479.0 437.4h3.2M479.0 454.5h3.2M479.0 451.8h3.2M479.0 475.4h3.2M479.0 446.7h3.2M479.0 448.2h3.2M479.0 451.9h3.2M479.0 447.4h3.2M479.0 444.4h3.2M479.0 460.7h3.2M479.0 452.7h3.2M479.0 461.9h3.2M479.0 459.0h3.2M479.0 462.1h3.2M479.0 457.0h3.2M479.0 453.9h3.2M479.0 435.5h3.2M479.0 460.6h3.2M479.0 452.7h3.2M479.0 447.9h3.2M479.0 476.9h3.2M479.0 436.7h3.2M479.0 473.1h3.2M479.0 449.3h3.2M479.0 451.4h3.2M479.0 478.2h3.2M479.0 464.2h3.2M479.0 443.3h3.2M479.0 451.5h3.2M479.0 448.6h3.2M479.0 450.2h3.2M479.0 436.2h3.2M479.0 468.7h3.2M479.0 457.3h3.2M479.0 454.4h3.2M479.0 462.8h3.2M479.0 444.4h3.2M479.0 454.5h3.2M479.0 447.8h3.2M479.0 445.7h3.2M479.0 466.7h3.2M479.0 455.2h3.2M479.0 460.1h3.2M479.0 475.5h3.2M479.0 470.9h3.2M479.0 438.0h3.2M479.0 461.6h3.2M479.0 476.5h3.2M479.0 471.5h3.2M479.0 446.6h3.2M479.0 447.9h3.2M479.0 455.4h3.2M479.0 467.5h3.2M479.0 436.4h3.2M479.0 467.6h3.2M479.0 476.9h3.2M479.0 459.0h3.2M479.0 443.1h3.2M479.0 480.4h3.2M479.0 433.3h3.2M479.0 432.8h3.2M479.0 434.6h3.2M479.0 441.8h3.2M479.0 437.5h3.2M479.0 443.7h3.2M479.0 430.8h3.2M479.0 468.7h3.2M479.0 458.7h3.2M479.0 452.5h3.2M479.0 453.4h3.2M479.0 439.9h3.2M479.0 424.3h3.2M479.0 467.0h3.2M479.0 437.7h3.2M479.0 457.9h3.2M479.0 442.2h3.2M479.0 450.4h3.2M479.0 446.5h3.2M479.0 465.3h3.2M479.0 453.5h3.2M479.0 468.4h3.2M479.0 455.8h3.2M479.0 458.2h3.2M479.0 475.7h3.2M479.0 460.1h3.2M479.0 469.9h3.2M479.0 478.7h3.2M479.0 460.5h3.2M479.0 463.9h3.2M479.0 435.7h3.2M479.0 441.0h3.2M479.0 462.0h3.2M479.0 436.3h3.2M479.0 420.5h3.2M479.0 440.4h3.2M479.0 475.1h3.2M479.0 463.1h3.2M479.0 457.1h3.2M479.0 478.6h3.2M479.0 465.4h3.2M479.0 465.4h3.2M479.0 479.4h3.2M479.0 464.2h3.2M479.0 433.7h3.2M479.0 464.9h3.2M479.0 472.6h3.2M479.0 453.7h3.2M479.0 462.7h3.2M479.0 444.3h3.2M479.0 462.4h3.2M479.0 442.7h3.2M479.0 438.7h3.2M479.0 480.8h3.2M479.0 454.9h3.2M479.0 451.5h3.2M479.0 424.6h3.2M479.0 457.0h3.2M479.0 469.4h3.2M479.0 462.3h3.2M479.0 468.0h3.2M479.0 450.5h3.2M479.0 460.0h3.2M479.0 451.2h3.2M479.0 456.7h3.2M479.0 457.6h3.2M479.0 459.9h3.2M479.0 479.5h3.2M479.0 473.0h3.2M479.0 437.7h3.2M479.0 456.9h3.2M479.0 480.0h3.2M479.0 447.1h3.2M479.0 444.0h3.2M479.0 449.6h3.2M479.0 460.1h3.2M479.0 449.7h3.2M479.0 456.5h3.2M479.0 475.2h3.2M479.0 451.5h3.2M479.0 462.2h3.2M479.0 426.9h3.2M479.0 462.2h3.2M479.0 465.2h3.2M479.0 461.5h3.2M479.0 443.4h3.2M479.0 475.4h3.2M479.0 476.4h3.2M479.0 453.6h3.2M479.0 473.6h3.2M479.0 450.0h3.2M479.0 456.5h3.2M479.0 460.1h3.2M479.0 453.0h3.2M479.0 448.2h3.2M479.0 446.0h3.2M479.0 480.8h3.2M479.0 467.9h3.2M479.0 446.8h3.2M479.0 459.0h3.2M479.0 473.6h3.2M479.0 450.0h3.2M479.0 464.5h3.2M479.0 469.4h3.2M479.0 464.5h3.2M479.0 466.5h3.2M479.0 448.4h3.2M479.0 468.6h3.2M479.0 456.9h3.2M479.0 467.8h3.2M479.0 470.2h3.2M479.0 464.2h3.2M479.0 448.5h3.2M479.0 453.5h3.2M479.0 428.6h3.2M479.0 457.4h3.2M479.0 456.6h3.2M479.0 457.7h3.2M479.0 455.4h3.2M479.0 477.8h3.2M479.0 468.0h3.2M479.0 470.7h3.2M479.0 438.0h3.2M479.0 430.8h3.2M479.0 439.3h3.2M479.0 446.4h3.2M479.0 469.7h3.2M479.0 474.7h3.2M479.0 457.1h3.2M479.0 479.9h3.2M479.0 463.0h3.2M479.0 444.7h3.2M479.0 450.9h3.2M479.0 452.4h3.2M479.0 444.7h3.2M479.0 473.6h3.2M479.0 469.7h3.2M479.0 463.2h3.2M479.0 441.4h3.2M479.0 457.4h3.2M479.0 466.9h3.2M479.0 420.9h3.2M479.0 451.2h3.2M479.0 464.1h3.2M479.0 473.7h3.2M479.0 466.4h3.2M479.0 465.3h3.2M479.0 445.3h3.2M479.0 452.0h3.2M479.0 441.1h3.2M479.0 446.8h3.2M479.0 456.9h3.2M479.0 468.9h3.2M479.0 462.8h3.2M479.0 421.7h3.2M479.0 460.4h3.2M479.0 458.4h3.2M479.0 465.9h3.2M479.0 434.7h3.2M479.0 445.0h3.2M479.0 455.3h3.2M479.0 443.7h3.2M479.0 451.5h3.2M479.0 460.8h3.2M479.0 454.8h3.2M479.0 479.9h3.2M479.0 455.7h3.2M479.0 434.6h3.2M479.0 464.8h3.2M479.0 464.5h3.2M479.0 452.3h3.2M479.0 453.7h3.2M479.0 470.0h3.2M479.0 453.8h3.2M479.0 466.1h3.2M479.0 440.7h3.2M479.0 444.1h3.2M479.0 439.1h3.2M479.0 448.0h3.2M479.0 442.1h3.2M479.0 445.5h3.2M479.0 439.4h3.2M479.0 455.5h3.2M479.0 438.2h3.2M479.0 455.7h3.2M479.0 457.7h3.2M479.0 451.7h3.2M479.0 456.8h3.2M479.0 449.4h3.2M479.0 477.7h3.2M479.0 455.3h3.2M479.0 468.2h3.2M479.0 466.0h3.2M479.0 439.5h3.2M479.0 445.8h3.2M479.0 459.9h3.2M479.0 469.9h3.2M479.0 434.0h3.2M479.0 441.4h3.2M479.0 437.4h3.2M479.0 433.7h3.2M479.0 445.2h3.2M479.0 458.1h3.2M479.0 464.0h3.2M479.0 438.8h3.2M479.0 453.2h3.2M479.0 450.3h3.2M479.0 455.0h3.2M479.0 445.0h3.2M479.0 477.3h3.2M479.0 440.9h3.2M479.0 480.0h3.2M479.0 455.6h3.2M479.0 476.1h3.2M479.0 440.4h3.2M479.0 451.6h3.2M479.0 435.1h3.2M479.0 446.2h3.2M479.0 438.4h3.2M479.0 442.3h3.2M479.0 458.6h3.2M479.0 423.2h3.2M479.0 450.3h3.2M479.0 470.6h3.2M479.0 439.0h3.2M479.0 429.4h3.2M479.0 460.2h3.2M479.0 444.0h3.2M479.0 474.0h3.2M479.0 455.8h3.2M479.0 459.4h3.2M479.0 433.1h3.2M479.0 466.8h3.2M479.0 441.8h3.2M479.0 462.6h3.2M479.0 435.7h3.2M479.0 459.2h3.2M479.0 445.1h3.2M479.0 455.5h3.2M479.0 473.2h3.2M479.0 446.8h3.2M479.0 476.6h3.2M479.0 436.9h3.2M479.0 453.6h3.2M479.0 444.4h3.2M479.0 456.9h3.2M479.0 447.4h3.2M479.0 444.2h3.2M479.0 464.4h3.2M479.0 445.2h3.2M479.0 469.5h3.2M479.0 454.4h3.2M479.0 462.2h3.2M479.0 443.2h3.2M479.0 468.5h3.2M479.0 450.2h3.2M479.0 438.6h3.2M479.0 438.6h3.2M479.0 441.3h3.2M479.0 440.1h3.2M479.0 444.8h3.2M479.0 472.3h3.2M479.0 446.4h3.2M479.0 458.5h3.2M479.0 459.0h3.2M479.0 463.7h3.2M479.0 456.3h3.2M479.0 469.4h3.2M479.0 479.7h3.2M479.0 440.8h3.2M479.0 478.8h3.2M479.0 458.1h3.2M479.0 438.7h3.2M479.0 450.9h3.2M479.0 445.0h3.2M479.0 450.6h3.2M479.0 459.1h3.2M479.0 447.9h3.2M479.0 453.8h3.2M479.0 443.0h3.2M479.0 434.3h3.2M479.0 461.4h3.2M479.0 451.8h3.2M479.0 434.3h3.2M479.0 455.6h3.2M479.0 452.1h3.2M479.0 452.9h3.2M479.0 446.4h3.2M479.0 479.9h3.2M479.0 456.5h3.2M479.0 457.5h3.2M479.0 477.1h3.2M479.0 462.2h3.2M479.0 471.7h3.2M479.0 454.1h3.2M479.0 469.3h3.2M479.0 460.4h3.2M479.0 462.7h3.2M479.0 446.2h3.2M479.0 456.1h3.2M479.0 464.5h3.2M479.0 465.5h3.2M479.0 446.8h3.2M479.0 454.3h3.2M479.0 442.7h3.2M479.0 450.4h3.2M479.0 447.0h3.2M479.0 451.4h3.2M479.0 458.8h3.2M479.0 462.8h3.2M479.0 457.8h3.2M479.0 440.3h3.2M479.0 431.5h3.2M479.0 453.1h3.2M479.0 464.6h3.2M479.0 477.5h3.2M479.0 463.5h3.2M479.0 441.2h3.2M479.0 446.0h3.2M479.0 443.8h3.2M479.0 464.0h3.2M479.0 472.4h3.2M479.0 446.5h3.2M479.0 443.7h3.2M479.0 460.5h3.2M479.0 447.3h3.2M479.0 438.1h3.2M479.0 468.7h3.2M479.0 452.3h3.2M479.0 449.6h3.2M479.0 463.2h3.2M479.0 441.6h3.2M479.0 436.8h3.2M479.0 462.9h3.2M479.0 462.6h3.2M479.0 472.9h3.2M479.0 465.0h3.2M479.0 433.9h3.2M479.0 461.1h3.2M479.0 449.6h3.2M479.0 452.1h3.2M479.0 460.7h3.2M479.0 429.8h3.2M479.0 458.3h3.2M479.0 463.7h3.2M479.0 458.6h3.2M479.0 437.6h3.2M479.0 478.4h3.2M479.0 450.1h3.2M479.0 461.1h3.2M479.0 452.5h3.2M479.0 442.3h3.2M479.0 449.2h3.2M479.0 441.7h3.2M479.0 453.9h3.2M479.0 473.9h3.2M479.0 442.0h3.2M479.0 451.2h3.2M479.0 443.3h3.2M479.0 454.9h3.2M479.0 468.6h3.2M479.0 461.4h3.2M479.0 440.3h3.2M479.0 470.7h3.2M479.0 472.0h3.2M479.0 434.7h3.2M479.0 434.0h3.2M479.0 440.0h3.2M479.0 439.2h3.2M479.0 462.8h3.2M479.0 456.2h3.2M479.0 469.0h3.2M479.0 431.5h3.2M479.0 440.4h3.2M479.0 438.7h3.2M479.0 482.1h3.2M479.0 482.1h3.2M479.0 482.1h3.2M479.0 482.1h3.2M479.0 482.1h3.2M479.0 482.1h3.2M479.0 482.1h3.2M479.0 482.1h3.2M479.0 482.1h3.2M479.0 482.1h3.2M479.0 482.1h3.2M479.0 482.1h3.2M479.0 482.1h3.2M479.0 482.1h3.2M479.0 482.1h3.2M479.0 482.1h3.2M479.0 482.1h3.2M479.0 482.1h3.2M479.0 482.1h3.2M479.0 482.1h3.2M479.0 482.1h3.2M479.0 482.1h3.2M479.0 482.1h3.2M479.0 482.1h3.2M479.0 482.1h3.2M479.0 482.1h3.2M479.0 482.1h3.2M479.0 482.1h3.2M479.0 482.1h3.2M479.0 482.1h3.2M479.0 482.1h3.2M479.0 482.1h3.2M479.0 482.1h3.2M479.0 482.1h3.2M479.0 482.1h3.2M479.0 482.1h3.2M479.0 482.1h3.2M479.0 482.1h3.2M479.0 482.1h3.2M479.0 482.1h3.2" stroke="#4fae6a" stroke-width="0.5" fill="none" opacity="0.5"/>
<path d="M482.4,457.1 L486.88,456.54 L491.37,455.91 L495.85,455.21 L500.34,454.46 L504.82,453.67 L509.31,452.86 L513.79,452.03 L518.28,451.18 L522.76,450.32 L527.25,449.46 L531.74,448.59 L536.22,447.71 L540.71,446.83 L545.19,445.94 L549.67,445.06 L554.16,444.17 L558.64,443.28 L563.13,442.39 L567.62,441.49 L572.1,440.6 L572.1,456.6 L567.62,456.74 L563.13,456.87 L558.64,457.01 L554.16,457.15 L549.67,457.29 L545.19,457.44 L540.71,457.58 L536.22,457.73 L531.74,457.88 L527.25,458.04 L522.76,458.21 L518.28,458.38 L513.79,458.56 L509.31,458.76 L504.82,458.98 L500.34,459.22 L495.85,459.5 L491.37,459.83 L486.88,460.23 L482.4,460.7 Z" fill="#e0f1dc"/>
<line x1="482.4" y1="458.9" x2="572.1" y2="448.6" stroke="#a6d79b" stroke-width="2.8" />
<line x1="478.6" y1="401.6" x2="478.6" y2="485.9" stroke="#333" stroke-width="0.8" />
<line x1="478.6" y1="485.9" x2="576.1" y2="485.9" stroke="#333" stroke-width="0.8" />
<line x1="476.2" y1="482.1" x2="478.6" y2="482.1" stroke="#333" stroke-width="0.8" />
<text x="475.4" y="485.1" font-size="8.4" text-anchor="end" fill="#4d4d4d" font-weight="normal" stroke="#4d4d4d" stroke-width="0.22" >0</text>
<line x1="476.2" y1="458.2" x2="478.6" y2="458.2" stroke="#333" stroke-width="0.8" />
<text x="475.4" y="461.2" font-size="8.4" text-anchor="end" fill="#4d4d4d" font-weight="normal" stroke="#4d4d4d" stroke-width="0.22" >1</text>
<line x1="476.2" y1="434.3" x2="478.6" y2="434.3" stroke="#333" stroke-width="0.8" />
<text x="475.4" y="437.3" font-size="8.4" text-anchor="end" fill="#4d4d4d" font-weight="normal" stroke="#4d4d4d" stroke-width="0.22" >2</text>
<line x1="476.2" y1="410.4" x2="478.6" y2="410.4" stroke="#333" stroke-width="0.8" />
<text x="475.4" y="413.4" font-size="8.4" text-anchor="end" fill="#4d4d4d" font-weight="normal" stroke="#4d4d4d" stroke-width="0.22" >3</text>
<line x1="489.6" y1="485.9" x2="489.6" y2="488.3" stroke="#333" stroke-width="0.8" />
<text x="489.6" y="496.5" font-size="8.4" text-anchor="middle" fill="#4d4d4d" font-weight="normal" stroke="#4d4d4d" stroke-width="0.22" >0</text>
<line x1="513.7" y1="485.9" x2="513.7" y2="488.3" stroke="#333" stroke-width="0.8" />
<text x="513.7" y="496.5" font-size="8.4" text-anchor="middle" fill="#4d4d4d" font-weight="normal" stroke="#4d4d4d" stroke-width="0.22" >2</text>
<line x1="537.8" y1="485.9" x2="537.8" y2="488.3" stroke="#333" stroke-width="0.8" />
<text x="537.8" y="496.5" font-size="8.4" text-anchor="middle" fill="#4d4d4d" font-weight="normal" stroke="#4d4d4d" stroke-width="0.22" >4</text>
<line x1="561.9" y1="485.9" x2="561.9" y2="488.3" stroke="#333" stroke-width="0.8" />
<text x="561.9" y="496.5" font-size="8.4" text-anchor="middle" fill="#4d4d4d" font-weight="normal" stroke="#4d4d4d" stroke-width="0.22" >6</text>
<text x="0" y="0" font-size="8.4" text-anchor="middle" fill="#231f20" font-weight="normal" stroke="#231f20" stroke-width="0.22" transform="translate(469.2,441.75) rotate(-90)">Proliferation NES</text>
<text x="527.35" y="504.8" font-size="8.6" text-anchor="middle" fill="#231f20" font-weight="normal" stroke="#231f20" stroke-width="0.22" >Cell Type Proportion</text>
<text x="485.2" y="413.8" font-size="8.6" text-anchor="start" fill="#231f20" font-weight="normal" stroke="#231f20" stroke-width="0.22" >R = 0.11, p = 0.017</text>
<text x="0" y="0" font-size="8.4" text-anchor="middle" fill="#e8262b" font-weight="normal" stroke="#e8262b" stroke-width="0.22" transform="translate(580.4,337.5) rotate(-90)">CD4−Tem−GZMK</text>
<text x="0" y="0" font-size="8.4" text-anchor="middle" fill="#e8262b" font-weight="normal" stroke="#e8262b" stroke-width="0.22" transform="translate(580.4,441.5) rotate(-90)">CD8−Tn−CCR7</text>
<text x="-0.4" y="539.7" font-size="16" font-weight="bold" fill="#000">f</text>
<defs>
<filter id="texd" color-interpolation-filters="sRGB" x="0" y="0" width="100%" height="100%"><feTurbulence type="fractalNoise" baseFrequency="0.6" numOctaves="2" seed="4"/><feColorMatrix type="matrix" values="0 0 0 0 0.45  0 0 0 0 0.32  0 0 0 0 0.62  3 0 0 0 -1.4"/></filter>
<filter id="texl" color-interpolation-filters="sRGB" x="0" y="0" width="100%" height="100%"><feTurbulence type="fractalNoise" baseFrequency="0.6" numOctaves="2" seed="11"/><feColorMatrix type="matrix" values="0 0 0 0 0.92  0 0 0 0 0.90  0 0 0 0 0.95  3 0 0 0 -1.45"/></filter>
<filter id="texv" color-interpolation-filters="sRGB" x="0" y="0" width="100%" height="100%"><feTurbulence type="fractalNoise" baseFrequency="0.45 0.09" numOctaves="2" seed="7"/><feColorMatrix type="matrix" values="0 0 0 0 0.93  0 0 0 0 0.91  0 0 0 0 0.95  4 0 0 0 -2.1"/></filter>
<filter id="texvd" color-interpolation-filters="sRGB" x="0" y="0" width="100%" height="100%"><feTurbulence type="fractalNoise" baseFrequency="0.45 0.09" numOctaves="2" seed="17"/><feColorMatrix type="matrix" values="0 0 0 0 0.55  0 0 0 0 0.35  0 0 0 0 0.68  4 0 0 0 -2.1"/></filter>
<filter id="spkb" color-interpolation-filters="sRGB" x="0" y="0" width="100%" height="100%"><feTurbulence type="fractalNoise" baseFrequency="0.8" numOctaves="1" seed="21"/><feColorMatrix type="matrix" values="0 0 0 0 0.2  0 0 0 0 0.22  0 0 0 0 0.6  4 0 0 0 -1.9"/></filter>
<filter id="spkg" color-interpolation-filters="sRGB" x="0" y="0" width="100%" height="100%"><feTurbulence type="fractalNoise" baseFrequency="0.9" numOctaves="1" seed="33"/><feColorMatrix type="matrix" values="0 0 0 0 0.15  0 0 0 0 0.6  0 0 0 0 0.55  6 0 0 0 -3.9"/></filter>
<filter id="cloud" color-interpolation-filters="sRGB" x="0" y="0" width="100%" height="100%"><feTurbulence type="fractalNoise" baseFrequency="0.09" numOctaves="3" seed="5"/><feColorMatrix type="matrix" values="0 0 0 0 0.62  0 0 0 0 0.5  0 0 0 0 0.75  2.2 0 0 0 -0.95"/></filter>
<filter id="blur1" color-interpolation-filters="sRGB"><feGaussianBlur stdDeviation="1.2"/></filter>
<filter id="blur05" color-interpolation-filters="sRGB"><feGaussianBlur stdDeviation="0.6"/></filter>
<filter id="blur2" color-interpolation-filters="sRGB"><feGaussianBlur stdDeviation="2.5"/></filter>
<filter id="blur4" color-interpolation-filters="sRGB"><feGaussianBlur stdDeviation="4"/></filter>
<clipPath id="cpHE"><path d="M52.2,555.4 L56,552.9 L59.7,544.2 L67.1,537.4 L74.6,534.9 L82,530.6 L89.4,530 L100,532.4 L107.4,532.4 L117.4,537.4 L129.8,541.1 L143.4,548.6 L154.6,554.8 L164.5,562.2 L174.4,570.9 L181.9,579.6 L180.6,589.5 L174.4,592 L170.7,599.4 L169.5,605.6 L173.2,610 L173.2,626.6 L167.7,635 L159.3,646 L152.4,655.8 L142.7,662.7 L131.6,665.5 L124.7,676.6 L117.7,682.1 L103.9,686.3 L92.8,687.7 L75,690 L69.6,684 L72,672 L58.4,672 L46,663.3 L33.6,647.2 L22.4,628.6 L16.2,617.4 L22.4,613.7 L39.8,611.9 L52.2,610 L56,597 L62.1,584.6 L67.1,574.6 L73.3,566 L67.1,561 L59.7,562.2 L54,558 Z"/></clipPath>
<clipPath id="cpCrest"><path d="M52.2,555.4 L56,552.9 L59.7,544.2 L67.1,537.4 L74.6,534.9 L82,530.6 L89.4,530 L100,532.4 L107.4,532.4 L117.4,537.4 L129.8,541.1 L143.4,548.6 L154.6,554.8 L164.5,562.2 L174.4,570.9 L181.9,579.6 L180.6,589.5 L174.4,592 L152.1,580.6 L141,578.1 L124.8,573.1 L100,567 L82,564 L73.3,566 L67.1,561 L59.7,562.2 L54,558 Z"/></clipPath>
<clipPath id="cpIF"><path d="M227.7,555.4 L231.5,552.9 L235.2,544.2 L242.6,537.4 L250.1,534.9 L257.5,530.6 L264.9,530 L275.5,532.4 L282.9,532.4 L292.9,537.4 L305.3,541.1 L318.9,548.6 L330.1,554.8 L340,562.2 L349.9,570.9 L357.4,579.6 L356.1,589.5 L349.9,592 L346.2,599.4 L345,605.6 L348.7,610 L348.7,626.6 L343.2,635 L334.8,646 L327.9,655.8 L318.2,662.7 L307.1,665.5 L300.2,676.6 L293.2,682.1 L279.4,686.3 L268.3,687.7 L250.5,690 L245.1,684 L247.5,672 L233.9,672 L221.5,663.3 L209.1,647.2 L197.9,628.6 L191.7,617.4 L197.9,613.7 L215.3,611.9 L227.7,610 L231.5,597 L237.6,584.6 L242.6,574.6 L248.8,566 L242.6,561 L235.2,562.2 L229.5,558 Z"/></clipPath>
</defs>
<rect x="15.3" y="524.8" width="168.3" height="172" fill="#e6e6e8" />
<g clip-path="url(#cpHE)">
<path d="M52.2,555.4 L56,552.9 L59.7,544.2 L67.1,537.4 L74.6,534.9 L82,530.6 L89.4,530 L100,532.4 L107.4,532.4 L117.4,537.4 L129.8,541.1 L143.4,548.6 L154.6,554.8 L164.5,562.2 L174.4,570.9 L181.9,579.6 L180.6,589.5 L174.4,592 L170.7,599.4 L169.5,605.6 L173.2,610 L173.2,626.6 L167.7,635 L159.3,646 L152.4,655.8 L142.7,662.7 L131.6,665.5 L124.7,676.6 L117.7,682.1 L103.9,686.3 L92.8,687.7 L75,690 L69.6,684 L72,672 L58.4,672 L46,663.3 L33.6,647.2 L22.4,628.6 L16.2,617.4 L22.4,613.7 L39.8,611.9 L52.2,610 L56,597 L62.1,584.6 L67.1,574.6 L73.3,566 L67.1,561 L59.7,562.2 L54,558 Z" fill="#d6cbe0"/>
<ellipse cx="28" cy="625" rx="12" ry="14" fill="#c4bddc" filter="url(#blur2)"/>
<ellipse cx="64" cy="590" rx="8" ry="18" fill="#c6bbdc" filter="url(#blur2)"/>
<ellipse cx="100" cy="597" rx="28" ry="13" fill="#ba9fca" filter="url(#blur4)" transform="rotate(20 100 597)"/>
<ellipse cx="38" cy="645" rx="7" ry="14" fill="#ae92c4" filter="url(#blur2)" transform="rotate(-25 38 645)"/>
<rect x="15" y="525" width="170" height="171" filter="url(#cloud)" opacity="0.42"/>
<path d="M150,612 L172,626 M145,618 L165,632 M110,612 L140,628" stroke="#a488be" stroke-width="1.4" filter="url(#blur1)"/>
<path d="M44.8,624 L56,628 L68,636 L76,652 L72,664 L60,668 L50,655 L45,640 Z" fill="#e0b8d4" filter="url(#blur1)" opacity="0.9"/>
<path d="M98,638 L110,640 L122,652 L127,668 L123,680 L108,684 L100,676 L100,655 Z" fill="#e0b8d4" filter="url(#blur1)" opacity="0.9"/>
<path d="M127.4,634 L145,632 L159.3,640 L152,655 L138,656 L130,645 Z" fill="#e0b8d4" filter="url(#blur1)" opacity="0.9"/>
<path d="M75,667 L92,668 L93,675 L76,675 Z" fill="#e0b8d4" filter="url(#blur1)" opacity="0.9"/>
<path d="M125,643 L136,662" stroke="#9078b6" stroke-width="3" filter="url(#blur1)"/>
<path d="M60,640 L74,668 M102,650 L118,680 M112,648 L124,672 M135,640 L155,650" stroke="#ebe6ee" stroke-width="0.8" opacity="0.7"/>
<path d="M52.2,555.4 L56,552.9 L59.7,544.2 L67.1,537.4 L74.6,534.9 L82,530.6 L89.4,530 L100,532.4 L107.4,532.4 L117.4,537.4 L129.8,541.1 L143.4,548.6 L154.6,554.8 L164.5,562.2 L174.4,570.9 L181.9,579.6 L180.6,589.5 L174.4,592 L152.1,580.6 L141,578.1 L124.8,573.1 L100,567 L82,564 L73.3,566 L67.1,561 L59.7,562.2 L54,558 Z" fill="#b893c4" filter="url(#blur05)"/>
<path d="M82,564.5 L100,567.5 L124.8,573.5 L141,578.5 L152.1,581 L168,588 L170,594 L152,592 L140,587 L120,580 L100,575 L80,571 Z" fill="#dfa6cb" filter="url(#blur1)" opacity="0.8"/>
<ellipse cx="80" cy="556" rx="6" ry="5" fill="#9e86c0" filter="url(#blur1)"/>
<ellipse cx="118.6" cy="564.7" rx="10" ry="5" fill="#a486c0" filter="url(#blur1)"/>
<ellipse cx="162" cy="587.5" rx="5" ry="5.5" fill="#9478b8" filter="url(#blur1)"/>
<path d="M51.7 554.6l3.3 5.1M54.3 552.8l3.7 5.7M55.1 552.5l13.9 5.9M56.2 549.9l7.9 3.4M57.1 547.8l12.6 5.3M58.3 544.9l11.9 5.1M59.0 543.5l6.5 7.1M60.8 541.9l9.2 10.0M62.5 540.2l7.7 8.4M64.5 538.4l8.5 9.3M65.9 537.2l5.3 5.7M66.8 536.5l3.7 11.2M69.6 535.5l1.8 5.3M71.6 534.8l3.5 10.5M74.1 534.0l3.7 6.3M76.6 532.6l5.0 8.6M78.5 531.5l7.5 12.9M80.2 530.5l8.1 14.0M81.9 529.6l0.8 9.3M84.0 529.4l0.9 10.6M87.0 529.2l0.6 7.6M89.6 529.0l-2.3 10.0M91.8 529.5l-1.4 6.4M94.5 530.1l-2.2 9.7M96.9 530.7l-2.7 11.9M98.8 531.1l-3.3 14.4M100.0 531.4l-0.0 8.1M102.9 531.4l-0.0 13.4M105.2 531.4l-0.0 8.2M107.1 531.4l-0.0 10.0M107.8 531.5l-4.8 9.7M110.1 532.6l-5.2 10.4M111.8 533.5l-3.4 6.9M114.1 534.7l-4.8 9.5M116.0 535.6l-3.7 7.4M117.7 536.4l-4.2 14.0M120.4 537.2l-2.6 8.9M122.7 537.9l-3.8 12.9M125.2 538.7l-3.6 12.2M126.9 539.2l-3.9 13.0M128.9 539.8l-2.6 8.6M130.3 540.2l-7.9 14.4M132.4 541.4l-6.2 11.2M134.2 542.4l-7.9 14.3M136.1 543.4l-5.5 10.1M138.5 544.7l-6.5 11.7M140.6 545.9l-6.2 11.2M142.2 546.8l-8.1 14.7M143.9 547.7l-5.9 10.6M145.8 548.8l-5.2 9.4M148.1 550.1l-4.8 8.7M149.9 551.0l-3.6 6.4M152.5 552.5l-3.6 6.5M154.7 553.7l-6.6 11.8M155.2 554.0l-8.8 11.8M157.2 555.5l-9.8 13.1M158.8 556.7l-6.0 8.1M160.7 558.1l-5.0 6.6M162.6 559.5l-6.1 8.1M164.5 560.9l-9.2 12.3M165.2 561.4l-3.7 4.3M167.3 563.3l-6.7 7.7M168.7 564.5l-9.3 10.6M170.8 566.4l-8.5 9.7M173.0 568.3l-5.4 6.2M175.2 570.2l-7.1 6.1M177.1 572.5l-12.9 11.1M178.8 574.5l-7.6 6.6M180.6 576.6l-10.3 8.9M182.3 578.5l-4.5 3.9M182.9 579.7l-13.1 -1.7M182.7 581.5l-9.8 -1.3M182.3 584.6l-13.5 -1.8M182.0 586.7l-6.6 -0.9M181.6 589.3l-12.3 -1.6M181.0 590.4l-4.2 -10.4M178.0 591.6l-4.8 -11.9M175.6 592.6l-2.2 -5.3" stroke="#e6e0ec" stroke-width="0.8" fill="none" opacity="0.8"/>
<rect x="15" y="525" width="170" height="171" filter="url(#texd)" opacity="0.2"/>
<rect x="15" y="525" width="170" height="171" filter="url(#texl)" opacity="0.4"/>
</g>
<path d="M52.2,555.4 L56,552.9 L59.7,544.2 L67.1,537.4 L74.6,534.9 L82,530.6 L89.4,530 L100,532.4 L107.4,532.4 L117.4,537.4 L129.8,541.1 L143.4,548.6 L154.6,554.8 L164.5,562.2 L174.4,570.9 L181.9,579.6 L180.6,589.5 L174.4,592 L170.7,599.4 L169.5,605.6 L173.2,610 L173.2,626.6 L167.7,635 L159.3,646 L152.4,655.8 L142.7,662.7 L131.6,665.5 L124.7,676.6 L117.7,682.1 L103.9,686.3 L92.8,687.7 L75,690 L69.6,684 L72,672 L58.4,672 L46,663.3 L33.6,647.2 L22.4,628.6 L16.2,617.4 L22.4,613.7 L39.8,611.9 L52.2,610 L56,597 L62.1,584.6 L67.1,574.6 L73.3,566 L67.1,561 L59.7,562.2 L54,558 Z" fill="none" stroke="#e6e6e8" stroke-width="2.6" stroke-dasharray="1.3,2.1,0.8,1.6" filter="url(#blur05)"/>
<path d="M80,641 L84,636.5 L92,635.5 L97.5,637 L98.5,650 L97,660 L94,667 L86,668 L80,665 L79,652 Z" fill="#efeef2" filter="url(#blur05)"/>
<path d="M70,676 L100,677 L102,692 L70,692 Z" fill="#e6e4ea" opacity="0.75" filter="url(#blur05)"/>
<path d="M102,640 C108,652 110,666 106,680 M109,639 C117,651 120,666 118,682 M115,641 C124,653 127,668 124,680 M74,684 C82,686 92,687 100,685" stroke="#eae6ee" stroke-width="0.9" fill="none"/>
<path d="M72,688 C80,689 90,690 99,689" stroke="#dfb4d0" stroke-width="2" fill="none" opacity="0.8"/>
<rect x="152.2" y="579.4" width="17.4" height="17.0" fill="none" stroke="#333" stroke-width="0.9" stroke-dasharray="2,1.4"/>
<text x="163.9" y="687" font-size="8.4" text-anchor="middle" fill="#111" font-weight="normal" >1 mm</text>
<rect x="149.6" y="689.3" width="27.1" height="1.7" fill="#111" />
<rect x="189.7" y="524.8" width="169.2" height="172" fill="#000" />
<g clip-path="url(#cpIF)">
<path d="M227.7,555.4 L231.5,552.9 L235.2,544.2 L242.6,537.4 L250.1,534.9 L257.5,530.6 L264.9,530 L275.5,532.4 L282.9,532.4 L292.9,537.4 L305.3,541.1 L318.9,548.6 L330.1,554.8 L340,562.2 L349.9,570.9 L357.4,579.6 L356.1,589.5 L349.9,592 L346.2,599.4 L345,605.6 L348.7,610 L348.7,626.6 L343.2,635 L334.8,646 L327.9,655.8 L318.2,662.7 L307.1,665.5 L300.2,676.6 L293.2,682.1 L279.4,686.3 L268.3,687.7 L250.5,690 L245.1,684 L247.5,672 L233.9,672 L221.5,663.3 L209.1,647.2 L197.9,628.6 L191.7,617.4 L197.9,613.7 L215.3,611.9 L227.7,610 L231.5,597 L237.6,584.6 L242.6,574.6 L248.8,566 L242.6,561 L235.2,562.2 L229.5,558 Z" fill="#05061a" filter="url(#blur1)"/>
<path d="M227.7,555.4 L231.5,552.9 L235.2,544.2 L242.6,537.4 L250.1,534.9 L257.5,530.6 L264.9,530 L275.5,532.4 L282.9,532.4 L292.9,537.4 L305.3,541.1 L318.9,548.6 L330.1,554.8 L340,562.2 L349.9,570.9 L357.4,579.6 L356.1,589.5 L349.9,592 L327.6,580.6 L316.5,578.1 L300.3,573.1 L275.5,567 L257.5,564 L248.8,566 L242.6,561 L235.2,562.2 L229.5,558 Z" fill="#0e0c3c" filter="url(#blur2)"/>
<ellipse cx="270" cy="600" rx="34" ry="20" fill="#0a0e30" filter="url(#blur4)" transform="rotate(15 270 600)"/>
<path d="M227.2 554.6l7.5 11.4M229.7 552.9l4.8 7.3M230.6 552.5l10.7 4.6M232.1 549.0l7.6 3.2M233.1 546.7l7.1 3.0M234.0 544.5l9.6 4.1M234.5 543.5l4.1 4.5M237.0 541.2l4.1 4.5M239.8 538.7l6.5 7.0M241.8 536.8l2.9 3.2M242.3 536.5l4.1 12.4M244.7 535.7l3.2 9.6M247.6 534.7l2.7 8.0M249.6 534.0l2.6 4.5M252.4 532.4l2.3 4.0M254.6 531.1l5.4 9.3M256.8 529.9l2.7 4.6M257.4 529.6l0.8 10.4M259.6 529.4l0.9 10.7M262.7 529.2l0.3 4.0M265.1 529.0l-0.9 3.9M268.1 529.7l-2.2 9.9M270.9 530.3l-1.7 7.4M274.3 531.1l-1.3 5.8M275.5 531.4l-0.0 9.0M277.8 531.4l-0.0 13.0M280.3 531.4l-0.0 11.9M283.3 531.5l-1.8 3.7M285.7 532.7l-4.4 8.8M288.4 534.0l-5.9 11.7M290.4 535.0l-5.5 11.0M293.2 536.4l-1.6 5.4M296.1 537.3l-1.3 4.3M299.1 538.2l-3.1 10.5M301.6 539.0l-3.4 11.4M304.1 539.7l-1.3 4.4M305.8 540.2l-5.5 10.0M308.1 541.5l-3.0 5.4M311.0 543.1l-5.2 9.4M313.1 544.3l-2.7 4.9M315.9 545.8l-5.7 10.4M318.0 547.0l-5.0 9.1M319.4 547.7l-2.1 3.9M322.3 549.3l-4.3 7.8M324.3 550.5l-2.6 4.7M326.6 551.7l-5.4 9.7M328.8 552.9l-4.8 8.6M330.7 554.0l-5.8 7.7M333.3 556.0l-3.1 4.1M336.3 558.2l-8.1 10.8M339.2 560.4l-3.8 5.1M340.7 561.4l-7.6 8.6M342.5 563.0l-3.5 4.0M345.2 565.4l-6.3 7.2M348.0 567.9l-5.4 6.2M350.7 570.2l-8.4 7.3M352.3 572.1l-4.8 4.2M354.7 574.9l-3.8 3.3M357.2 577.8l-7.9 6.8M358.4 579.7l-5.9 -0.8M358.1 582.0l-13.2 -1.7M357.7 585.0l-6.8 -0.9M357.3 588.2l-5.4 -0.7M356.5 590.4l-3.9 -9.5M353.5 591.6l-2.9 -7.2M350.8 592.7l-2.4 -6.0" stroke="#06061c" stroke-width="1.0" fill="none" opacity="0.9"/>
<path d="M278.2 541.6h1M274.2 554.4h1M272.1 542.7h1M323.9 558.0h1M306.6 553.9h1M316.0 549.3h1M267.1 560.4h1M250.4 550.9h1M277.7 535.6h1M274.9 552.1h1M330.0 581.2h1M274.6 546.4h1M262.9 555.2h1M282.5 541.7h1M277.1 566.2h1M239.7 551.4h1M317.1 564.1h1M260.5 548.9h1M330.1 579.3h1M333.4 575.0h1M244.3 550.4h1M271.7 563.1h1M306.5 550.0h1M288.3 569.9h1M349.9 590.1h1M297.4 564.4h1M257.3 563.6h1M274.3 539.3h1M282.7 562.4h1M282.3 546.8h1M266.3 532.1h1M276.2 549.8h1M274.6 561.8h1M289.6 552.5h1M267.1 533.2h1M304.1 571.4h1M348.7 579.1h1M321.8 560.8h1M305.1 564.5h1M249.0 557.7h1M257.3 547.9h1M250.4 552.8h1M347.5 574.0h1M294.8 554.7h1M261.6 559.9h1M231.5 553.2h1M356.7 579.9h1M254.9 562.8h1M330.4 566.9h1M333.8 576.6h1M278.7 545.4h1M329.3 569.4h1M321.7 575.5h1M264.5 548.7h1M290.2 565.0h1M240.6 539.7h1M309.1 555.6h1M338.7 567.7h1M329.4 557.2h1M267.9 539.5h1M311.9 576.0h1M277.0 540.8h1M239.0 543.5h1M323.2 557.2h1M273.1 556.4h1M337.3 564.1h1M270.2 538.5h1M252.8 564.9h1M237.4 549.4h1M331.1 563.8h1M263.8 543.3h1M297.3 570.3h1M284.4 536.0h1M242.3 556.9h1M247.9 536.1h1M346.2 570.7h1M275.9 535.0h1M252.1 534.3h1M245.4 563.5h1M311.3 572.4h1M318.4 570.6h1M319.6 569.8h1M272.0 564.0h1M333.5 583.7h1M329.6 557.2h1M321.1 576.8h1M260.9 534.3h1M344.3 571.0h1M258.9 554.9h1M309.0 566.0h1M284.6 561.0h1M334.8 579.6h1M256.8 552.8h1M233.4 555.2h1M331.2 565.6h1M287.9 563.3h1M342.5 583.8h1M248.3 562.5h1M345.3 573.6h1M304.0 563.4h1M299.0 558.1h1M288.8 545.7h1M303.5 568.0h1M319.8 554.6h1M230.5 556.4h1M283.0 558.1h1M295.3 570.7h1M300.4 546.7h1M270.3 538.0h1M274.8 550.4h1M273.6 566.5h1M253.5 545.0h1M288.5 567.3h1M279.0 557.8h1M303.1 570.1h1M261.6 551.3h1M322.8 572.9h1M312.4 569.8h1M267.0 544.6h1M352.1 583.3h1M344.5 571.4h1M284.7 560.7h1M314.4 573.0h1M341.2 570.5h1M272.7 548.0h1M324.0 557.9h1M254.1 557.8h1M254.4 553.7h1M319.9 576.4h1M317.6 557.2h1M311.3 558.1h1M292.6 542.5h1M267.8 556.1h1M232.3 552.1h1M276.0 553.1h1M290.3 557.7h1M323.4 577.4h1M250.6 549.6h1M255.7 547.3h1M344.0 586.0h1M324.2 567.2h1M242.2 546.6h1M283.7 565.6h1M280.2 538.0h1M275.8 556.2h1M334.2 577.6h1M258.5 555.2h1M274.2 544.3h1M303.0 559.2h1M295.0 555.4h1M252.2 535.5h1M267.9 564.8h1M297.3 551.4h1M259.8 558.2h1M311.4 569.1h1M286.9 540.4h1M280.2 552.2h1M283.6 536.8h1M269.7 550.3h1M266.1 551.6h1M267.3 551.9h1M312.8 576.3h1M297.1 570.0h1M248.0 552.4h1M288.8 562.0h1M265.1 536.8h1" stroke="#343288" stroke-width="1" fill="none"/>
<path d="M255.1 537.1h1M257.9 554.0h1M281.1 552.7h1M350.0 572.9h1M294.1 541.7h1M295.6 540.3h1M275.5 557.8h1M238.5 548.9h1M259.3 537.3h1M305.8 551.1h1M249.5 540.2h1M283.5 545.2h1M337.1 573.2h1M247.7 555.6h1M282.3 566.5h1M269.9 537.0h1M313.9 562.3h1M268.9 540.9h1M344.2 573.7h1M270.2 545.4h1M253.7 550.2h1M234.8 554.1h1M305.0 564.4h1M279.0 556.8h1M280.6 557.0h1M298.3 571.6h1M264.1 550.8h1M270.3 536.7h1M271.3 532.3h1M266.2 544.1h1M356.4 580.8h1M325.8 561.8h1M297.6 547.6h1M326.9 577.1h1M292.7 560.5h1M341.2 576.4h1M268.2 542.7h1M255.1 533.5h1M351.1 591.3h1M351.9 580.2h1M284.6 539.4h1M255.2 549.0h1M236.2 560.8h1M328.8 573.6h1M348.6 584.1h1M235.2 544.5h1M330.0 569.3h1M261.5 543.1h1M257.0 550.0h1M254.9 560.4h1M252.9 563.3h1M345.1 572.8h1M291.1 547.7h1M287.7 536.0h1M316.2 557.4h1M340.2 580.2h1M311.8 547.5h1M306.2 557.7h1M240.8 540.0h1M301.8 554.8h1M298.2 572.7h1M267.6 554.1h1M306.6 561.9h1M249.5 560.8h1M303.9 549.0h1M303.7 572.8h1M247.8 555.1h1M260.3 539.4h1M300.3 554.4h1M263.5 563.9h1M256.9 555.3h1M248.8 562.5h1M302.2 573.3h1M295.8 557.9h1M274.0 558.9h1M275.4 546.7h1M273.1 540.7h1M303.1 545.8h1M250.5 562.1h1M270.7 538.4h1M273.3 548.4h1M270.3 566.2h1M298.6 548.2h1M258.3 551.7h1M300.5 563.4h1M232.6 549.4h1M278.0 533.9h1M251.1 537.9h1M257.6 555.4h1M260.4 557.5h1M305.4 572.4h1M262.3 555.6h1M263.3 561.9h1M313.0 572.5h1M319.3 565.8h1M341.1 582.7h1M354.2 582.2h1M255.2 534.4h1M245.7 554.0h1M339.1 576.6h1M315.7 555.4h1M288.0 538.5h1M350.1 587.4h1M319.6 551.0h1M299.6 565.2h1M292.3 541.9h1M276.7 538.3h1M264.0 558.3h1M334.0 580.5h1M310.0 552.9h1M302.8 549.3h1M318.2 555.9h1M289.3 554.9h1M294.4 550.5h1M264.2 544.6h1M311.1 556.8h1M276.6 541.5h1M294.7 567.4h1M329.3 561.8h1M331.8 569.9h1M311.7 547.8h1M259.0 543.1h1M343.0 566.3h1M302.3 554.6h1M259.8 540.6h1M272.0 561.9h1M250.1 552.4h1M238.2 548.4h1M256.9 540.9h1M347.3 574.9h1M287.3 541.1h1M318.1 571.9h1M258.4 561.3h1M233.5 552.6h1M285.6 564.4h1M277.2 540.1h1M278.3 539.0h1M244.0 555.1h1M287.2 561.1h1M335.3 566.7h1M284.8 568.3h1M319.9 555.4h1M332.0 579.9h1M270.3 560.8h1M310.9 549.2h1M346.1 572.1h1M304.3 574.1h1M297.3 548.9h1M298.7 542.5h1M258.0 554.8h1M321.8 574.7h1M266.0 563.6h1M325.7 563.8h1M263.4 555.2h1M308.9 572.9h1" stroke="#2a2a78" stroke-width="1" fill="none"/>
<path d="M327.5 559.9h1M315.5 556.5h1M309.7 558.1h1M347.3 577.1h1M339.2 570.1h1M283.6 542.0h1M250.3 534.8h1M277.5 539.7h1M344.4 587.0h1M300.7 570.6h1M245.6 557.9h1M255.0 540.8h1M343.3 583.0h1M298.4 547.7h1M229.2 554.9h1M273.7 538.9h1M255.7 563.7h1M310.3 557.5h1M321.2 561.8h1M344.5 575.9h1M336.5 579.1h1M300.7 551.0h1M332.4 570.7h1M287.7 557.2h1M259.8 557.5h1M295.8 541.7h1M297.2 559.6h1M252.7 536.0h1M242.6 560.9h1M286.2 558.9h1M303.9 548.4h1M269.0 548.5h1M242.2 545.1h1M253.1 557.1h1M248.4 541.3h1M286.6 546.4h1M314.5 558.0h1M294.7 563.6h1M308.3 560.8h1M292.6 560.8h1M265.1 562.4h1M265.6 554.0h1M233.6 550.5h1M302.3 566.9h1M287.4 559.3h1M337.9 578.2h1M300.5 566.7h1M270.0 557.6h1M264.6 534.7h1M342.6 571.3h1M290.8 550.9h1M250.1 543.2h1M270.8 555.1h1M287.4 549.8h1M335.7 573.6h1M302.6 565.2h1M304.4 569.1h1M347.4 589.6h1M251.9 555.8h1M289.0 544.6h1M279.8 545.0h1M279.2 556.8h1M344.4 570.1h1M246.3 545.0h1M352.4 587.1h1M353.1 586.2h1M310.3 555.0h1M281.8 561.3h1M325.9 559.9h1M292.4 545.3h1M346.7 572.1h1M294.2 570.7h1M318.4 563.2h1M342.6 580.4h1M298.0 544.4h1M335.5 584.3h1M296.3 546.6h1M268.8 565.3h1M236.5 552.9h1M317.2 575.6h1M299.8 566.0h1M233.5 559.3h1M231.1 559.5h1M243.6 539.9h1M311.9 576.7h1M235.7 550.3h1M295.1 563.0h1M320.5 551.5h1M310.5 549.2h1M288.2 541.4h1M261.6 551.8h1M303.8 549.5h1M342.1 578.0h1M302.5 555.8h1M335.3 575.2h1M251.7 544.3h1M249.4 547.1h1M316.2 555.2h1M330.4 559.4h1M279.1 563.3h1M349.3 577.9h1M294.6 553.0h1M342.3 572.0h1M282.1 563.3h1M265.3 560.4h1M288.9 570.2h1M251.2 537.5h1M262.4 540.0h1M287.6 552.2h1M275.5 537.3h1M329.9 558.7h1M317.7 574.8h1M267.1 539.6h1M336.1 567.9h1M286.4 560.9h1M348.3 587.6h1M317.3 560.2h1M270.0 555.4h1M301.6 563.8h1M331.1 561.9h1M242.7 544.7h1M354.4 588.3h1M333.7 575.1h1M315.9 555.3h1M305.3 565.8h1M264.7 551.0h1M316.4 550.2h1M244.3 541.1h1M329.3 580.6h1M262.1 543.0h1M270.2 559.0h1M237.7 546.8h1M289.8 540.1h1M298.9 557.4h1M316.4 577.0h1M346.3 586.8h1M314.7 555.2h1M262.0 535.3h1M318.1 566.4h1M336.2 582.2h1M324.6 561.3h1M286.1 535.1h1M320.6 570.3h1M266.1 542.1h1M306.4 546.1h1M275.5 551.0h1M320.7 561.4h1M318.0 568.8h1M309.7 549.0h1M304.1 566.3h1" stroke="#3e3890" stroke-width="1" fill="none"/>
<path d="M290.9 543.9h1M277.6 556.2h1M312.0 569.5h1M286.7 564.1h1M273.6 565.9h1M248.3 545.0h1M292.5 565.8h1M247.4 546.7h1M281.4 532.9h1M301.3 548.1h1M275.0 552.4h1M293.9 568.9h1M337.4 577.5h1M287.5 536.7h1M304.0 542.8h1M258.1 540.5h1M348.6 580.8h1M250.0 538.0h1M304.8 565.9h1M233.6 549.7h1M316.1 577.4h1M342.4 585.2h1M315.8 566.7h1M347.0 581.5h1M276.3 556.0h1M264.4 549.9h1M355.6 580.6h1M287.1 542.6h1M259.7 552.0h1M273.1 551.1h1M352.1 590.4h1M245.1 548.8h1M262.8 552.1h1M309.2 574.6h1M316.1 572.8h1M336.6 568.0h1M250.8 562.6h1M274.9 536.7h1M305.9 558.9h1M246.0 544.6h1M252.3 557.1h1M339.3 582.0h1M243.4 559.6h1M341.8 575.2h1M292.7 563.6h1M242.6 537.7h1M275.4 566.5h1M316.0 547.7h1M302.8 551.1h1M281.8 545.6h1M284.1 554.0h1M312.8 546.0h1M259.1 547.6h1M289.9 543.7h1M256.6 545.6h1M259.8 532.4h1M300.7 571.8h1M231.4 553.6h1M254.6 552.2h1M274.3 547.4h1M298.8 556.2h1M317.8 569.6h1M317.5 573.0h1M347.4 583.4h1M275.8 554.4h1M285.6 546.0h1M279.6 560.8h1M355.4 584.6h1M239.2 549.2h1M259.6 530.6h1M285.0 558.5h1M342.9 585.9h1M280.5 564.4h1M310.6 571.6h1M280.0 557.8h1M347.7 586.8h1M319.9 556.0h1M263.7 563.8h1M290.3 538.1h1M286.7 549.7h1M244.5 561.4h1M317.1 564.2h1M308.8 575.7h1M305.9 555.4h1M284.7 558.0h1M332.9 572.9h1M350.6 579.9h1M256.1 533.4h1M351.4 574.5h1M245.5 542.7h1M275.8 564.3h1M272.6 560.7h1M282.1 559.3h1M310.1 564.6h1M296.3 548.0h1M260.7 534.4h1M352.9 584.4h1M265.2 549.7h1M309.8 562.5h1M301.7 553.6h1M284.5 548.8h1M300.3 562.1h1M282.0 551.7h1M340.8 581.4h1M285.1 550.9h1M276.0 542.6h1M239.9 558.9h1M268.1 555.9h1M309.2 551.5h1M300.2 564.2h1M284.1 539.3h1M272.8 549.3h1M307.7 567.7h1M294.7 541.3h1M347.8 579.6h1M305.4 565.1h1M286.5 549.2h1M313.1 576.9h1M301.8 550.6h1M293.2 545.5h1M238.2 555.7h1M234.4 556.7h1M284.4 536.9h1M243.5 554.1h1M246.0 537.6h1M343.5 568.2h1M276.4 538.9h1M254.5 535.5h1M250.6 560.7h1M234.6 556.7h1M264.8 564.7h1M289.7 560.9h1M265.4 544.5h1M274.1 534.9h1M304.7 548.6h1M342.7 565.1h1M279.5 539.7h1M250.9 547.3h1M351.2 587.3h1M269.7 534.0h1M252.5 538.4h1M334.4 561.8h1M266.8 564.6h1M255.7 535.7h1M269.0 552.5h1M269.3 543.9h1M335.3 563.5h1M284.5 552.9h1M318.1 575.3h1M245.5 561.2h1M296.5 544.7h1M313.7 563.9h1M327.9 580.8h1M341.7 567.3h1M317.3 565.1h1M296.6 541.2h1M252.1 549.4h1M286.5 558.6h1M263.1 564.7h1M243.1 541.5h1M241.3 542.4h1M348.7 583.9h1M275.8 553.4h1M333.8 576.5h1M324.2 566.9h1M236.1 552.9h1M296.3 544.3h1M318.3 568.8h1M243.7 544.4h1M294.9 546.6h1M271.0 539.6h1M254.9 557.0h1M254.2 538.2h1M254.7 536.0h1M294.1 549.4h1M296.3 557.7h1M238.9 546.9h1M261.0 563.0h1M272.5 559.2h1" stroke="#222266" stroke-width="1" fill="none"/>
<path d="M269.4 541.3h1M274.7 566.5h1M338.5 573.9h1M281.4 551.8h1M315.8 550.0h1M336.5 568.7h1M335.4 576.2h1M333.0 564.1h1M343.1 574.1h1M313.9 548.2h1M313.0 552.8h1M241.8 538.2h1M244.9 540.6h1M268.7 552.9h1M300.2 545.4h1M295.2 571.1h1M284.5 548.4h1M260.4 535.2h1M348.0 569.7h1M263.9 556.6h1M295.1 552.9h1M281.0 548.6h1M313.5 551.0h1" stroke="#1e6460" stroke-width="1" fill="none"/>
<path d="M344.6 568.3h1M315.5 573.3h1M282.1 557.1h1M254.7 537.9h1M313.6 547.0h1M331.2 569.1h1M326.1 562.7h1M243.6 542.9h1M267.6 538.1h1M228.3 556.5h1M257.2 534.8h1M294.1 547.3h1M239.2 546.9h1M271.3 540.3h1M253.6 539.9h1M317.9 567.3h1M273.9 549.7h1" stroke="#207068" stroke-width="1" fill="none"/>
<path d="M283.7 610.9h1M261.1 585.5h1M260.5 594.6h1M260.2 594.6h1M250.1 582.1h1M272.4 597.1h1M303.0 604.3h1M266.8 580.2h1M272.6 599.8h1M269.1 590.9h1M266.9 611.7h1M283.4 602.8h1M291.7 599.2h1M257.0 590.1h1M237.9 605.2h1M268.4 601.2h1M287.8 584.8h1M302.8 599.6h1M275.7 613.2h1M292.2 586.5h1M305.3 602.7h1M250.8 596.0h1M277.1 602.1h1M265.5 584.2h1M257.4 582.8h1M271.3 599.3h1M234.8 603.6h1M300.7 593.6h1M266.8 615.3h1M246.1 600.2h1M277.9 612.9h1M245.1 589.8h1M288.9 610.5h1M268.9 603.5h1M302.1 599.2h1M248.7 601.0h1M288.5 619.3h1M237.0 609.2h1M275.5 602.8h1M296.2 594.6h1M287.3 580.8h1M256.3 595.2h1M305.9 602.1h1M267.6 583.8h1M256.0 587.9h1M263.0 617.9h1M290.2 591.7h1M283.9 590.2h1M282.3 592.0h1M292.7 595.5h1M301.5 598.8h1M259.4 602.4h1M260.5 602.0h1M300.3 602.4h1M268.4 614.7h1M278.8 598.7h1M255.6 610.8h1M276.5 596.7h1M244.4 602.9h1M258.0 608.5h1M258.0 579.9h1M265.8 592.0h1M236.9 608.8h1M283.5 608.0h1M250.3 601.2h1M275.5 607.3h1M241.8 596.4h1M258.3 585.5h1M259.3 592.1h1M241.6 595.3h1M289.2 583.1h1M237.6 591.5h1M259.4 605.0h1M293.0 591.2h1M269.5 580.5h1M280.3 606.6h1M279.8 611.0h1M261.1 613.7h1M278.1 604.0h1M253.8 607.0h1M257.7 599.6h1M268.3 595.9h1M287.9 588.0h1M256.1 599.3h1M276.4 593.8h1M306.2 605.9h1M288.6 598.7h1M288.1 596.1h1M297.5 603.8h1M291.7 582.6h1M271.5 593.7h1M264.6 620.2h1M257.4 617.7h1M292.1 610.2h1M275.9 609.7h1M292.2 603.5h1M271.8 607.6h1M275.7 610.6h1M259.1 584.7h1M299.2 586.0h1M295.2 604.0h1M263.9 584.5h1M260.2 602.2h1M281.6 592.2h1M253.9 594.3h1M283.6 607.5h1M303.8 609.5h1M249.4 599.4h1M256.4 612.9h1M266.9 615.8h1M290.5 613.0h1M308.6 600.7h1M309.3 602.0h1M296.6 598.7h1M278.0 606.5h1M304.2 609.8h1M270.9 618.9h1M292.2 585.0h1M263.6 604.6h1M260.4 590.0h1M283.7 610.4h1M306.0 608.3h1M265.3 594.6h1M241.0 595.2h1M271.5 598.3h1M247.6 590.7h1M246.4 600.8h1M292.5 617.5h1M295.4 589.1h1M251.5 595.4h1" stroke="#163e58" stroke-width="1" fill="none"/>
<path d="M259.4 611.5h1M277.9 589.4h1M246.7 604.5h1M260.8 596.6h1M295.7 614.1h1M274.1 609.6h1M236.3 605.2h1M267.9 612.4h1M284.2 618.1h1M271.5 582.3h1M251.1 616.6h1M248.0 587.9h1M254.4 618.0h1M286.3 599.4h1M274.9 589.7h1M267.3 605.3h1M237.2 593.7h1M256.5 585.1h1M274.4 612.0h1M261.3 588.7h1M279.8 594.6h1M265.1 592.6h1M261.3 584.4h1M248.2 611.0h1M291.0 616.1h1M244.0 600.2h1M267.9 614.0h1M300.5 613.0h1M281.0 589.8h1M258.4 612.3h1M251.2 608.5h1M273.6 610.9h1M293.6 596.2h1M262.3 604.0h1M247.5 606.5h1M243.5 589.1h1M248.1 614.9h1M268.2 590.6h1M274.7 607.4h1M288.8 584.8h1M271.1 591.8h1M300.9 610.7h1M282.6 582.3h1M276.5 581.2h1M255.4 590.1h1M266.7 596.3h1M257.0 611.6h1M284.7 604.1h1M265.1 609.8h1M256.4 598.9h1M254.5 592.0h1M299.7 588.6h1M276.7 610.3h1M282.8 583.4h1M244.7 607.1h1M289.4 598.5h1M279.9 581.7h1M301.0 604.8h1M285.7 587.5h1M235.6 601.9h1M239.9 592.7h1M244.1 588.4h1M257.1 581.3h1M302.1 602.2h1M279.2 616.3h1M275.3 619.4h1M300.4 611.4h1M256.3 593.3h1M266.0 592.6h1M264.9 609.5h1M244.6 612.1h1M268.2 615.3h1M276.4 593.4h1M299.0 606.1h1M277.5 596.4h1M250.6 613.2h1M240.0 610.1h1M308.6 595.2h1M253.2 609.6h1M302.0 607.5h1M277.6 597.9h1M266.4 596.1h1M252.0 599.8h1M260.0 598.9h1M292.2 607.5h1M276.0 591.1h1M281.2 613.1h1M298.7 610.1h1M273.2 605.9h1M257.7 612.6h1M262.0 609.9h1M255.3 596.1h1M257.7 610.8h1M252.1 588.6h1M234.5 599.9h1M257.0 598.9h1M281.4 581.5h1M285.0 604.6h1M259.0 615.8h1M243.3 590.1h1M276.3 595.0h1M246.4 608.8h1M279.2 596.0h1M279.3 598.4h1M271.9 609.6h1M250.3 607.4h1M272.9 596.0h1M248.3 614.7h1M278.9 601.7h1M270.4 602.2h1M292.1 600.8h1M266.1 597.4h1M295.0 598.6h1M248.6 593.0h1M278.8 606.4h1M269.9 596.9h1M281.9 604.4h1M307.6 600.7h1M269.5 617.1h1M279.3 620.6h1M304.3 601.4h1M270.7 593.1h1M283.9 590.7h1M267.2 603.2h1M275.2 593.7h1M248.4 588.7h1M282.4 580.4h1M251.0 583.6h1M293.7 593.5h1M273.5 606.4h1M271.9 603.0h1M290.4 605.4h1M263.5 585.3h1M253.6 610.5h1M264.0 582.4h1M263.6 606.4h1M235.5 596.4h1M308.6 595.4h1M278.5 591.9h1M261.2 595.7h1M295.1 593.0h1M256.2 608.2h1M242.4 610.5h1M252.7 602.2h1M309.4 600.5h1M285.8 613.8h1M283.3 617.6h1M291.3 608.8h1M236.4 602.6h1" stroke="#22307a" stroke-width="1" fill="none"/>
<path d="M272.9 582.6h1M290.2 592.0h1M254.9 597.4h1M273.5 611.6h1M270.1 589.7h1M246.6 612.1h1M262.5 589.2h1M253.0 611.3h1M296.5 584.7h1M256.0 605.3h1M288.6 617.2h1M289.0 606.7h1M265.5 600.7h1M257.7 614.3h1M268.1 586.9h1M244.5 594.9h1M273.4 609.7h1M271.1 600.5h1M299.4 609.5h1M309.2 598.8h1M265.6 607.9h1M262.4 597.7h1M255.5 583.8h1M254.1 610.1h1M295.1 607.1h1M287.9 601.3h1M253.4 584.7h1M308.7 597.1h1M254.7 593.0h1M302.9 601.0h1M274.8 617.4h1M260.8 582.3h1M257.6 599.4h1M292.1 615.5h1M262.4 584.8h1M274.6 612.7h1M268.2 615.1h1M251.0 596.9h1M237.2 604.9h1M302.9 608.8h1M272.8 584.4h1M268.7 600.9h1M250.2 608.7h1M248.3 583.3h1M250.2 603.5h1M280.7 613.1h1M246.2 598.2h1M255.1 584.4h1M245.0 598.0h1M266.3 594.7h1M264.2 606.9h1M240.2 596.4h1M278.7 593.0h1M264.0 578.7h1M282.5 582.8h1M282.4 612.6h1M277.4 613.7h1M278.6 598.7h1M301.9 589.9h1M246.4 614.6h1M294.2 613.3h1M298.6 592.1h1M247.5 611.9h1M264.1 603.4h1M253.7 583.0h1M269.2 599.2h1M280.2 617.4h1M298.9 605.2h1M266.7 595.7h1M249.4 582.4h1M260.4 587.5h1M255.2 608.8h1M279.4 608.2h1M277.9 589.2h1M285.7 585.6h1M298.4 593.4h1M256.5 600.8h1M298.4 601.7h1M269.5 614.2h1M241.1 588.3h1M279.0 616.6h1M296.7 594.3h1M275.7 584.3h1M285.3 619.4h1M287.4 597.8h1M300.3 595.9h1M277.0 596.3h1M236.0 597.6h1M262.8 607.6h1M279.6 612.5h1M261.7 589.3h1M275.2 600.3h1M247.4 616.6h1M272.2 617.0h1M294.5 583.8h1M260.8 591.5h1M255.8 588.2h1M282.8 590.2h1M244.9 596.1h1M239.9 589.2h1M285.5 582.8h1M279.4 579.7h1M244.8 598.6h1M276.3 603.0h1M278.9 588.4h1M248.3 611.7h1M264.5 600.3h1M268.9 592.8h1M300.1 588.2h1M299.5 595.4h1M256.6 613.7h1M268.5 621.3h1M264.6 618.5h1M263.1 591.4h1M247.8 602.8h1M279.5 587.4h1M267.7 580.5h1M297.5 596.9h1M249.6 612.9h1M266.0 589.6h1M255.3 613.4h1" stroke="#141e50" stroke-width="1" fill="none"/>
<path d="M285.2 609.6h1M289.5 600.7h1M237.4 597.3h1M253.7 587.8h1M253.0 582.9h1M243.5 596.0h1M289.5 584.5h1M268.2 598.8h1M257.9 586.2h1M286.1 591.4h1M286.1 594.0h1M303.4 598.5h1M278.9 618.3h1M269.9 613.5h1M284.7 589.5h1M275.2 601.6h1M268.4 603.7h1M280.8 620.4h1M248.8 597.3h1M263.9 594.9h1M259.0 589.8h1M274.9 610.9h1M291.1 597.5h1M279.7 619.6h1M282.2 592.1h1M285.4 611.4h1M262.1 579.6h1M282.6 589.6h1M256.9 602.9h1M255.4 587.6h1M271.7 617.3h1M264.2 591.5h1M282.1 580.8h1M284.7 620.1h1M260.3 602.8h1M271.5 608.5h1M290.5 614.2h1M266.0 587.6h1M297.7 608.5h1M240.1 610.8h1M266.1 583.1h1M249.1 594.7h1M286.3 600.3h1M271.1 598.6h1M239.8 591.7h1M235.6 600.8h1M281.5 613.9h1M295.0 585.7h1M265.8 579.7h1M247.7 607.3h1M303.2 589.0h1M296.9 609.8h1M264.5 582.7h1M245.6 607.5h1M286.3 606.5h1M269.4 619.5h1M296.4 588.4h1M241.4 594.1h1M261.7 589.2h1M284.7 620.5h1M255.2 598.9h1M269.7 584.3h1M267.9 591.7h1M234.9 595.6h1M278.4 596.8h1M287.8 619.6h1M281.3 602.0h1M260.7 620.9h1M261.8 596.7h1M257.0 616.1h1M257.4 584.0h1M240.4 588.2h1M290.6 599.3h1M250.4 592.1h1M279.0 612.3h1M271.3 601.2h1M240.4 595.2h1M245.6 611.9h1M261.6 599.1h1M295.6 589.1h1M284.0 587.2h1M272.0 602.2h1M299.3 603.1h1M278.9 604.6h1M251.6 610.2h1M296.6 612.9h1M255.7 616.1h1M277.8 585.1h1M264.6 606.0h1M250.4 598.2h1M272.1 584.7h1M291.5 581.6h1M300.4 613.2h1M293.8 604.2h1M250.5 586.7h1M258.4 607.8h1M283.9 612.1h1M295.9 587.7h1M287.1 586.1h1M242.6 592.2h1M254.8 582.7h1M305.9 599.7h1M273.7 585.0h1M266.6 599.9h1M275.6 621.4h1M258.7 593.6h1M301.6 589.3h1M256.3 609.4h1M242.4 594.2h1M241.2 596.0h1M282.3 609.2h1M257.2 595.8h1M292.7 589.2h1M257.5 601.4h1M254.8 595.3h1M257.8 602.7h1M279.1 614.0h1M271.1 602.0h1M258.3 619.2h1M269.5 598.4h1M258.6 618.0h1M293.8 609.5h1" stroke="#1a2660" stroke-width="1" fill="none"/>
<path d="M258.8 607.1h1M258.4 614.5h1M270.2 582.9h1M237.2 601.9h1M280.5 600.5h1M298.7 604.5h1M275.8 613.1h1M295.3 586.8h1M290.2 595.6h1M292.4 594.1h1M244.3 599.2h1M263.7 583.9h1M279.0 588.1h1M260.3 581.0h1M269.6 598.6h1M247.6 599.3h1M239.1 589.1h1M253.9 615.4h1M290.4 616.2h1M249.4 599.3h1M268.1 614.9h1M273.7 618.6h1M255.1 592.1h1M296.6 606.1h1M284.4 620.0h1M269.6 618.2h1M279.8 592.2h1M285.1 606.7h1M245.1 587.9h1M271.1 584.6h1M292.5 616.6h1M278.1 595.4h1M245.2 601.9h1M294.1 588.9h1M288.8 616.7h1M240.2 612.0h1M272.1 579.8h1M253.3 605.3h1M273.4 595.7h1M278.8 582.7h1M290.3 608.2h1M242.0 598.7h1M247.3 607.2h1M257.7 580.6h1M274.4 583.7h1M261.4 585.9h1M294.1 604.5h1M284.4 594.2h1M299.2 592.2h1M244.8 602.0h1M273.5 598.8h1M240.8 595.4h1M240.9 593.8h1M257.1 611.6h1M266.6 620.2h1M302.4 601.7h1M297.1 606.6h1M280.0 583.3h1M274.8 594.0h1M291.4 587.6h1M262.5 586.7h1M307.4 599.1h1M280.9 590.7h1M294.3 586.9h1M240.6 603.9h1M295.1 608.7h1M302.8 608.5h1M280.6 605.4h1M273.2 616.2h1M305.8 598.8h1M297.2 613.7h1M237.5 591.5h1M289.4 595.0h1M248.8 610.1h1M271.8 600.4h1M276.5 601.5h1M262.5 591.2h1M290.5 592.3h1M291.5 596.5h1M256.5 601.0h1M307.1 600.7h1M264.1 580.5h1M244.1 611.9h1M276.4 592.2h1M245.5 585.6h1M274.3 581.3h1M276.7 592.7h1M301.0 595.3h1M302.2 611.0h1M294.3 599.1h1M303.4 593.3h1M265.0 581.5h1M282.9 619.6h1M275.8 590.9h1M287.3 582.0h1M254.8 598.2h1M255.6 585.2h1M274.6 620.2h1M256.8 608.8h1M280.3 591.1h1M307.8 601.5h1M260.9 611.7h1M255.6 592.3h1M269.6 596.4h1M245.1 602.7h1M269.8 608.4h1M265.0 599.1h1M289.5 590.9h1M253.9 591.5h1M274.2 608.1h1M239.9 603.5h1M290.5 592.1h1M283.8 586.9h1M287.6 614.2h1M257.9 615.4h1M287.2 590.5h1M275.0 593.5h1M278.7 587.1h1M268.2 594.4h1M271.8 584.7h1M281.9 598.7h1M251.6 589.5h1M260.7 581.3h1M258.5 615.2h1M280.3 580.8h1M301.8 612.8h1M263.3 598.0h1M237.4 593.9h1" stroke="#1e2c6c" stroke-width="1" fill="none"/>
<path d="M222.1 622.2h1M292.4 563.8h1M229.8 645.8h1M339.2 598.6h1M300.1 598.8h1M284.1 641.8h1M304.0 627.1h1M336.6 576.8h1M278.3 652.3h1M238.7 633.7h1M292.9 656.8h1M237.8 584.9h1M306.9 553.6h1M274.2 611.3h1M310.2 571.7h1M314.4 661.0h1M311.6 581.3h1M250.0 663.9h1M258.5 625.0h1M293.0 569.5h1M251.3 660.3h1M324.9 558.3h1M206.9 628.0h1M245.9 626.8h1M259.6 612.4h1M208.7 628.8h1M308.2 649.7h1M303.3 668.4h1M347.0 619.6h1M282.3 659.2h1M258.3 564.2h1M237.3 542.4h1M254.1 544.4h1M318.4 659.1h1M292.6 564.3h1M245.1 656.3h1M327.7 642.3h1M323.5 654.6h1M310.9 609.4h1M280.2 573.2h1M208.7 644.7h1M215.2 634.3h1M292.1 631.0h1M264.1 602.5h1M296.9 588.6h1M296.0 621.5h1M324.9 558.3h1M328.6 568.3h1M245.4 658.3h1M232.3 641.3h1M251.3 608.0h1M227.0 640.0h1M300.2 624.5h1M211.9 622.1h1M250.2 616.9h1M291.6 582.9h1M335.0 631.7h1M259.6 613.7h1M323.7 635.5h1M244.9 622.4h1M327.7 649.7h1M241.3 585.2h1M248.4 654.4h1M280.2 592.7h1M254.0 686.0h1M283.8 566.0h1M266.8 535.0h1M340.2 572.4h1M297.7 627.3h1M242.8 574.8h1M348.2 592.7h1M204.3 633.9h1M254.3 563.0h1M307.6 598.6h1M203.8 614.2h1M248.7 624.5h1M353.1 581.2h1M327.4 572.4h1M261.1 630.9h1M275.2 654.0h1M253.4 588.9h1M277.5 555.9h1M346.4 589.2h1M274.8 605.2h1M254.9 613.1h1M247.1 561.7h1M239.5 645.3h1M208.4 639.3h1M256.3 554.3h1M231.9 650.9h1M228.0 626.5h1M328.8 577.9h1M306.1 632.9h1M291.4 648.7h1M272.9 654.2h1M240.1 629.2h1M280.3 625.8h1M254.3 624.7h1M278.9 562.5h1M292.3 548.2h1M283.6 612.5h1M261.7 584.4h1M311.0 608.6h1M225.6 611.2h1M318.5 581.4h1M239.7 626.9h1M346.3 614.5h1M284.6 603.5h1M302.3 659.2h1M226.4 628.5h1M266.9 667.6h1M249.8 562.6h1M310.6 662.6h1M351.5 590.5h1M284.7 584.1h1M272.0 550.1h1M280.3 615.3h1M257.0 677.8h1M268.1 600.2h1M293.5 563.4h1M320.7 558.3h1M322.7 587.9h1M295.0 624.0h1M350.4 579.5h1M254.2 587.7h1M301.3 546.1h1M273.1 595.9h1M272.0 605.2h1M249.3 605.4h1M262.1 676.8h1M240.4 602.4h1M299.1 571.3h1M215.3 636.5h1M341.2 633.9h1M283.5 642.8h1M284.3 540.2h1M269.7 627.6h1M345.7 622.5h1M319.7 577.4h1M275.6 597.9h1M219.7 657.3h1M351.2 574.9h1M314.4 571.9h1M287.7 549.2h1M253.5 650.3h1M315.6 572.5h1M313.9 628.8h1M277.6 555.5h1M277.2 646.3h1" stroke="#103c48" stroke-width="1" fill="none"/>
<path d="M301.9 557.5h1M324.7 604.8h1M277.5 678.8h1M285.7 592.0h1M302.5 549.9h1M335.5 561.2h1M250.8 666.4h1M248.0 637.3h1M277.1 539.0h1M257.9 567.0h1M324.6 644.2h1M295.8 579.4h1M289.7 566.3h1M303.4 579.6h1M327.9 629.8h1M230.4 652.9h1M312.8 556.8h1M254.1 604.8h1M229.5 660.6h1M293.4 613.9h1M259.3 675.5h1M205.7 615.1h1M274.2 549.2h1M268.7 687.5h1M226.3 613.7h1M293.4 606.7h1M290.9 625.1h1M327.4 652.0h1M280.7 587.4h1M246.9 578.7h1M335.1 597.6h1M325.3 583.6h1M355.9 586.9h1M343.4 584.3h1M316.9 632.9h1M333.9 624.6h1M257.8 560.3h1M276.4 664.9h1M350.0 577.3h1M246.3 652.3h1M288.2 570.8h1M239.2 561.0h1M259.1 627.0h1M306.2 638.6h1M272.4 677.2h1M219.9 635.1h1M249.1 550.0h1M295.7 657.7h1M318.9 614.6h1M312.5 580.2h1M288.7 631.0h1M275.5 593.0h1M213.8 634.7h1M236.6 655.4h1M238.9 664.9h1M351.9 590.6h1M288.6 589.8h1M285.7 601.9h1M247.6 671.4h1M316.8 601.9h1M299.2 592.3h1M223.5 629.6h1M282.4 544.0h1M263.6 552.7h1M211.7 620.5h1M221.6 653.1h1M345.3 620.1h1M279.0 615.7h1M327.0 644.0h1M257.4 604.2h1M342.3 572.9h1M297.9 615.8h1M249.7 649.0h1M298.6 595.2h1M332.6 631.9h1M317.8 585.1h1M313.7 647.2h1M255.8 602.7h1M231.9 632.2h1M255.2 640.2h1M312.3 625.5h1M213.1 627.2h1M261.1 539.0h1M245.6 652.2h1M236.1 645.9h1M255.8 680.4h1M278.4 560.6h1M236.2 644.1h1M226.2 622.5h1M264.0 573.6h1M306.2 628.9h1M261.5 546.0h1M247.2 643.1h1M242.9 601.9h1M327.8 574.2h1M285.9 549.9h1M306.9 565.2h1M310.3 609.0h1M256.6 634.7h1M288.0 563.0h1M304.2 595.1h1M285.7 560.8h1M325.8 636.8h1M239.3 651.6h1M343.0 580.0h1M341.9 610.9h1M239.2 590.0h1M272.2 594.4h1M217.0 643.1h1M245.2 641.4h1M236.5 560.1h1M299.5 647.2h1M266.3 572.5h1M339.9 582.0h1M277.0 547.6h1M291.4 538.4h1M250.2 633.2h1M316.1 602.3h1M270.4 618.8h1M197.7 623.1h1M201.9 620.0h1M341.6 591.7h1M318.6 572.7h1M275.7 616.5h1M350.3 573.3h1M249.6 598.2h1M242.7 667.1h1" stroke="#161e56" stroke-width="1" fill="none"/>
<path d="M285.3 680.7h1M218.7 614.3h1M238.6 561.4h1M318.3 572.3h1M291.1 589.3h1M274.3 626.3h1M215.2 652.6h1M283.9 638.3h1M327.3 632.5h1M321.2 654.7h1M242.8 555.3h1M318.7 625.4h1M317.5 636.4h1M224.3 627.2h1M242.9 549.6h1M320.4 608.0h1M262.7 547.2h1M301.6 543.1h1M228.1 652.6h1M240.1 553.4h1M254.8 543.3h1M275.0 665.0h1M316.6 561.5h1M343.4 588.3h1M309.3 581.0h1M287.1 672.0h1M290.5 635.1h1M255.7 592.9h1M326.4 627.4h1M272.6 621.6h1M283.8 654.8h1M271.9 666.8h1M206.0 619.8h1M323.7 588.1h1M325.9 645.6h1M217.4 649.8h1M337.9 567.9h1M310.8 596.4h1M305.3 574.5h1M315.4 561.0h1M308.7 566.2h1M255.9 614.1h1M231.2 662.9h1M301.6 620.2h1M298.4 630.5h1M200.3 623.6h1M276.8 546.1h1M245.7 654.4h1M192.9 616.5h1M322.7 603.2h1M302.3 660.5h1M304.5 601.2h1M337.5 591.2h1M304.0 549.1h1M286.0 621.0h1M254.5 535.5h1M326.4 559.8h1M263.1 668.7h1M304.4 623.4h1M307.0 615.6h1M224.0 633.5h1M302.4 604.2h1M241.9 605.2h1M232.9 661.2h1M282.6 677.7h1M275.0 592.1h1M287.3 654.6h1M232.7 597.2h1M279.5 676.7h1M310.2 663.1h1M233.0 625.7h1M232.4 641.0h1M230.1 557.3h1M283.8 654.6h1M226.1 619.2h1M302.7 625.3h1M236.0 658.4h1M340.2 603.6h1M270.9 581.2h1M275.6 559.0h1M250.1 682.0h1M263.9 579.9h1M267.2 547.7h1M351.2 575.2h1M259.9 579.3h1M210.9 647.7h1M320.2 561.3h1M308.3 571.2h1M308.1 568.6h1M303.1 551.3h1M235.2 614.2h1M325.0 640.2h1M314.6 653.0h1M315.2 566.5h1M307.4 610.0h1M271.5 612.4h1M314.7 635.5h1M278.8 684.2h1M290.6 669.6h1M259.2 563.2h1M324.4 593.3h1M254.2 580.1h1M298.4 590.1h1M295.8 673.7h1M293.5 614.3h1M335.0 567.8h1M277.9 602.4h1M234.9 655.2h1M316.3 652.1h1M274.2 665.0h1M261.4 616.6h1M287.8 578.5h1M299.5 642.8h1M269.1 595.9h1M296.9 664.0h1M276.8 587.0h1M300.3 558.4h1M241.7 600.7h1M293.4 553.0h1M265.2 673.8h1M264.8 619.3h1M301.9 578.8h1M194.8 618.7h1M295.0 587.0h1M251.9 577.6h1M285.9 659.4h1M235.4 617.3h1M279.2 634.9h1M300.6 588.5h1M293.2 622.5h1M322.1 615.0h1M232.2 558.9h1M307.7 568.3h1M274.2 574.1h1M246.5 555.4h1M285.4 607.6h1M311.6 654.2h1" stroke="#28164a" stroke-width="1" fill="none"/>
<path d="M282.0 617.6h1M320.6 586.4h1M332.3 560.5h1M232.0 643.6h1M239.8 630.7h1M262.4 607.3h1M300.2 581.7h1M306.9 567.8h1M268.4 548.0h1M294.3 613.6h1M292.4 546.0h1M297.1 638.0h1M245.6 669.0h1M297.3 552.7h1M345.2 578.4h1M243.6 549.8h1M332.9 621.7h1M264.8 619.6h1M251.1 572.9h1M330.1 593.6h1M319.6 621.6h1M301.8 625.1h1M336.5 579.9h1M221.8 653.6h1M273.3 597.6h1M239.4 597.8h1M353.2 580.0h1M244.9 560.2h1M244.8 669.2h1M251.4 636.3h1M344.8 629.7h1M297.4 596.4h1M247.2 620.2h1M301.3 627.5h1M280.9 536.9h1M258.7 567.0h1M274.7 629.8h1M338.4 639.8h1M293.0 631.8h1M207.1 628.5h1M221.9 619.1h1M283.6 592.5h1M245.6 585.4h1M249.6 598.4h1M317.0 653.4h1M256.2 667.5h1M290.9 549.8h1M247.9 615.6h1M274.3 642.4h1M295.2 665.4h1M291.1 595.3h1M290.4 558.7h1M319.5 616.8h1M254.2 657.0h1M311.6 651.9h1M237.3 599.9h1M202.6 625.8h1M234.8 634.3h1M334.3 639.3h1M276.4 605.1h1M311.0 657.2h1M278.1 658.4h1M263.8 634.5h1M234.9 607.2h1M279.5 662.3h1M275.7 641.6h1M305.6 594.7h1M304.5 582.5h1M269.5 534.9h1M245.3 586.8h1M244.2 633.4h1M248.1 608.9h1M237.5 619.2h1M301.6 605.8h1M318.6 642.2h1M340.9 580.0h1M327.5 597.8h1M278.2 562.6h1M295.4 620.4h1M304.8 574.7h1M276.0 585.9h1M286.0 556.9h1M237.6 586.1h1M282.0 573.0h1M253.4 674.9h1M276.6 629.0h1M298.8 555.7h1M212.9 617.9h1M339.9 578.7h1M316.0 617.1h1M262.4 686.1h1M266.1 572.3h1M292.2 589.8h1M264.2 561.6h1M346.7 591.3h1M288.3 592.5h1M244.1 661.5h1M294.5 654.7h1M291.5 642.0h1M237.2 591.3h1M291.2 669.1h1M344.1 611.4h1M247.9 557.0h1M226.1 663.6h1M237.3 645.6h1M231.6 597.2h1M337.6 575.6h1M290.6 547.8h1M300.9 627.3h1M315.1 635.8h1M300.9 577.6h1M301.9 574.8h1M308.1 596.7h1M235.0 670.5h1M254.7 630.4h1M205.0 624.1h1M268.9 627.2h1M295.2 562.1h1M235.8 610.7h1M309.6 585.4h1M259.3 671.7h1M240.3 612.6h1M310.1 605.3h1M237.7 668.9h1M196.3 623.6h1M224.8 655.8h1M350.0 585.6h1M241.9 631.8h1M278.8 573.0h1M283.2 667.4h1M275.0 675.3h1M256.6 535.5h1M250.9 543.4h1M299.3 637.0h1M292.8 575.1h1M303.1 657.4h1M317.6 616.9h1" stroke="#10164a" stroke-width="1" fill="none"/>
<path d="M235.6 658.4h1M230.9 614.1h1M210.5 612.6h1M204.7 634.0h1M200.1 627.5h1M238.7 634.8h1M207.5 634.5h1M232.9 649.9h1M207.0 635.5h1M236.7 649.1h1M237.5 646.9h1M237.5 638.3h1M214.1 614.0h1M221.1 660.6h1M230.4 632.1h1M220.7 624.4h1M223.1 634.1h1M214.6 631.1h1M225.0 635.7h1M211.2 625.5h1M222.7 656.6h1M225.0 646.0h1M217.6 658.2h1M223.2 619.2h1M237.8 665.3h1M219.6 648.2h1M211.7 622.7h1M220.9 646.3h1M215.3 627.9h1M222.9 647.6h1M199.2 628.7h1M210.5 615.1h1M217.0 617.0h1M227.6 643.3h1M232.6 622.1h1M228.6 649.0h1M227.1 660.1h1M203.3 625.9h1M207.7 613.4h1M234.8 655.5h1M229.2 619.6h1M229.6 666.5h1M229.0 653.1h1M227.0 646.9h1M239.2 644.3h1M233.4 665.1h1M194.6 618.1h1M226.5 625.8h1M214.2 639.8h1M229.3 656.6h1M230.9 617.2h1M227.1 627.1h1M216.9 624.4h1M214.8 617.1h1M220.6 636.7h1M199.4 614.1h1M328.8 629.8h1M304.1 602.5h1M317.5 620.9h1M345.8 625.0h1M336.6 635.8h1M318.3 623.3h1M302.3 616.2h1M304.1 602.8h1M327.3 631.4h1M313.1 641.0h1M309.7 630.8h1M319.1 619.5h1M315.9 618.6h1M315.8 617.5h1M331.5 634.7h1M343.1 624.1h1M339.3 620.0h1M324.9 606.9h1M328.1 651.9h1M307.2 657.5h1M316.6 616.8h1M324.9 609.3h1M315.9 651.7h1M313.8 625.5h1M305.3 652.1h1M311.6 607.9h1M311.2 624.4h1M311.8 602.7h1M336.9 631.7h1M309.1 600.1h1M325.8 622.1h1M315.4 631.1h1M321.8 659.5h1M326.8 649.0h1M306.8 645.4h1M319.5 652.1h1M304.4 649.2h1" stroke="#1e3070" stroke-width="1" fill="none"/>
<path d="M207.3 632.2h1M211.4 612.6h1M202.2 620.3h1M224.3 618.5h1M225.3 630.1h1M229.7 650.7h1M198.4 623.1h1M228.2 661.2h1M218.0 637.9h1M206.0 630.2h1M234.4 641.1h1M211.5 627.9h1M218.7 659.6h1M213.3 620.8h1M220.8 655.8h1M222.3 611.6h1M239.3 670.5h1M236.5 660.5h1M230.5 655.9h1M221.9 618.0h1M233.5 644.6h1M228.4 643.7h1M235.6 668.9h1M237.6 620.3h1M216.7 624.5h1M218.2 642.1h1M201.3 616.6h1M216.7 626.3h1M207.4 640.6h1M219.5 618.1h1M228.2 650.8h1M212.4 631.3h1M238.0 610.6h1M215.2 646.2h1M235.2 649.2h1M229.8 641.9h1M214.9 622.6h1M230.2 627.3h1M232.1 620.2h1M195.1 623.5h1M208.4 616.9h1M227.2 657.1h1M227.9 618.5h1M211.4 626.5h1M222.6 631.1h1M217.6 638.6h1M228.2 618.6h1M205.2 632.4h1M221.8 646.1h1M225.2 614.9h1M233.5 611.6h1M218.1 616.8h1M220.9 640.4h1" stroke="#206470" stroke-width="1" fill="none"/>
<path d="M211.8 615.8h1M238.0 613.4h1M209.7 627.3h1M239.1 669.2h1M221.3 640.2h1M215.6 628.6h1M230.3 637.1h1M233.0 632.7h1M209.6 615.2h1M207.9 621.6h1M213.7 643.9h1M238.2 669.4h1M238.8 611.4h1M206.9 622.2h1M225.6 649.7h1M211.8 642.0h1M212.6 642.8h1M236.3 630.3h1M226.2 643.4h1M222.8 646.0h1M238.5 657.8h1M211.9 633.0h1M212.9 638.5h1M231.4 670.2h1M214.4 625.7h1M235.8 622.0h1M217.5 624.1h1M233.8 631.4h1M198.7 617.8h1M234.3 618.2h1M199.3 624.1h1M235.6 636.5h1M225.5 652.0h1M236.8 666.3h1M213.8 620.3h1M212.6 614.3h1M229.6 653.7h1M228.5 627.6h1M237.6 626.0h1M220.8 650.9h1M219.5 655.0h1M318.3 607.6h1M322.1 649.4h1M304.5 647.4h1M337.0 641.5h1M339.1 601.6h1M307.4 608.7h1M334.9 621.8h1M328.7 621.8h1M302.4 646.0h1M341.5 635.5h1M311.5 646.6h1M317.2 646.8h1M300.6 642.7h1M304.1 633.2h1M334.2 607.4h1M327.0 652.8h1M334.0 620.7h1M316.2 613.7h1M308.6 601.4h1M343.9 613.6h1M299.8 620.7h1M311.4 636.2h1M347.5 611.3h1M314.3 655.0h1M334.9 631.2h1M313.0 639.2h1M340.6 623.2h1M313.5 617.2h1M317.5 624.1h1M303.0 601.6h1M325.6 610.5h1M340.1 604.3h1M322.4 630.1h1M339.8 622.7h1" stroke="#1c6a60" stroke-width="1" fill="none"/>
<path d="M315.3 659.2h1M311.3 652.6h1M323.9 648.6h1M313.5 657.4h1M334.6 607.2h1M302.3 638.2h1M301.7 657.6h1M318.5 621.0h1M339.1 637.7h1M321.1 613.3h1M325.6 637.5h1M321.7 651.0h1M331.7 634.2h1M317.0 632.8h1M335.2 623.6h1M328.4 618.3h1M322.1 639.5h1M326.5 612.3h1M306.3 658.3h1M305.7 611.4h1M325.7 615.9h1M332.7 605.7h1M303.4 633.2h1M313.0 612.4h1M318.2 643.2h1M320.4 656.1h1M339.7 613.6h1M331.7 612.7h1M327.3 647.5h1M312.2 649.1h1M303.9 637.1h1M327.1 600.5h1M304.7 611.5h1M309.4 645.3h1M321.3 636.9h1M312.1 616.3h1M306.4 610.7h1M348.0 619.3h1M311.7 621.4h1" stroke="#4a2260" stroke-width="1" fill="none"/>
<ellipse cx="255" cy="556" rx="5" ry="4" fill="#6a58b0" filter="url(#blur1)" opacity="0.8"/>
<ellipse cx="292" cy="563" rx="7" ry="4" fill="#4e40a0" filter="url(#blur1)" opacity="0.7"/>
<ellipse cx="338" cy="587" rx="5" ry="5" fill="#7070cc" filter="url(#blur1)"/>
<ellipse cx="313" cy="583" rx="2" ry="2" fill="#5a58b0" filter="url(#blur1)"/>
<path d="M248,640 L272,646 L300,660 L310,696 L250,696 Z" fill="#000" filter="url(#blur4)" opacity="0.6"/>
<path d="M255.5,641 L259.5,636.5 L267.5,635.5 L273,637 L274,650 L272.5,660 L269.5,667 L261.5,668 L255.5,665 L254.5,652 Z" fill="#000" filter="url(#blur2)"/>
</g>
<rect x="329.8" y="579.3" width="17.2" height="17.2" fill="none" stroke="#ddd" stroke-width="0.9" stroke-dasharray="2,1.4"/>
<text x="340.2" y="687.3" font-size="8.4" text-anchor="middle" fill="#fff" font-weight="normal" >1 mm</text>
<rect x="327" y="689.8" width="26.4" height="1.6" fill="#fff" />
<rect x="373" y="525" width="96.4" height="82" fill="#000" />
<rect x="475.8" y="525" width="96.4" height="82" fill="#000" />
<rect x="373" y="612.8" width="96.4" height="82" fill="#000" />
<rect x="475.8" y="612.8" width="96.4" height="82" fill="#000" />
<ellipse cx="419" cy="567" rx="32" ry="30" fill="#0a0a20" filter="url(#blur4)"/>
<path d="M405.3 563.2h1M434.1 560.5h1M426.8 584.3h1M422.1 590.2h1M436.2 569.8h1M415.7 566.5h1M424.8 560.5h1M436.6 577.2h1M406.3 550.2h1M411.5 573.7h1M398.0 572.7h1M439.5 570.6h1M400.3 551.2h1M410.4 571.3h1M442.9 574.6h1M400.9 551.9h1M438.9 553.1h1M423.4 563.0h1M431.8 562.8h1M395.7 575.5h1M431.9 584.0h1M412.4 581.4h1M434.4 550.4h1M416.4 587.0h1M394.6 586.7h1M424.7 593.0h1M422.0 553.5h1M401.1 567.5h1M398.3 554.8h1M401.2 566.4h1M406.9 569.6h1M423.7 544.1h1M427.6 575.2h1M400.6 576.7h1M409.9 556.8h1M414.5 562.9h1M434.4 548.8h1M440.6 564.8h1M424.7 563.1h1M395.1 571.6h1M412.6 576.9h1M391.2 565.2h1M405.6 552.0h1M406.1 547.2h1M431.1 565.2h1M439.6 566.9h1M433.0 563.3h1M435.2 588.1h1M417.9 554.1h1M423.1 549.7h1M432.4 566.9h1M433.0 575.2h1M425.7 551.6h1M401.0 576.6h1M387.7 571.7h1M400.9 565.3h1M397.3 580.3h1M405.8 590.7h1M403.5 586.7h1M415.0 589.9h1M430.1 571.2h1M444.2 577.0h1M430.8 578.2h1M440.9 563.4h1M430.8 579.3h1M408.1 579.9h1M416.7 560.2h1M432.3 560.4h1M432.2 569.2h1M401.2 588.3h1M420.3 559.6h1M411.0 550.6h1M390.9 569.3h1M402.7 563.8h1M408.8 570.3h1M390.4 569.9h1M402.9 547.9h1M413.4 570.7h1M402.8 577.4h1M431.8 589.2h1M413.5 552.2h1M425.7 579.9h1M399.2 586.1h1M431.3 589.3h1M394.4 569.6h1M420.9 554.7h1M425.4 566.4h1M428.9 563.2h1M430.4 554.4h1M432.0 581.7h1M405.0 586.8h1M394.5 583.8h1M436.1 581.9h1M416.0 554.1h1M397.1 581.4h1M403.0 581.5h1M410.1 552.7h1M389.8 559.9h1M434.9 552.5h1M402.3 586.0h1M399.8 564.4h1M419.7 572.6h1M425.7 569.9h1M420.2 562.8h1M404.7 562.3h1M430.2 556.8h1M428.7 545.2h1M390.2 579.6h1M415.2 552.5h1M413.5 589.3h1M437.5 557.0h1M394.7 583.7h1M396.8 575.4h1M390.3 563.7h1M420.2 588.9h1M392.8 572.4h1M430.9 573.4h1M436.8 570.2h1M401.1 569.0h1M412.2 558.4h1M434.4 589.8h1M403.9 582.4h1" stroke="#84802c" stroke-width="1" fill="none"/>
<path d="M419.5 581.4h1M390.9 571.2h1M403.2 582.8h1M421.4 586.1h1M406.5 549.1h1M437.9 582.5h1M392.7 584.2h1M389.4 569.2h1M442.8 562.2h1M424.9 589.8h1M440.1 583.1h1M443.8 566.0h1M395.3 574.2h1M396.4 562.6h1M427.0 570.1h1M394.1 576.1h1M431.4 583.3h1M411.6 583.1h1M444.3 571.2h1M418.3 570.4h1M406.5 555.2h1M390.6 578.7h1M413.8 573.7h1M427.3 555.6h1M395.1 565.3h1M409.5 569.8h1M419.2 562.1h1M417.3 570.7h1M417.2 594.1h1M433.3 589.7h1M407.3 587.5h1M439.2 577.5h1M421.7 549.5h1M405.3 570.0h1M421.7 551.2h1M436.0 582.7h1M409.9 571.7h1M411.1 582.2h1M425.1 572.8h1M426.8 574.0h1M443.6 559.7h1M418.1 555.8h1M423.1 544.0h1M431.2 580.4h1M411.1 578.3h1M410.1 592.6h1M405.2 575.3h1M387.5 570.2h1M442.9 572.1h1M425.1 572.6h1M434.0 568.9h1M435.3 571.9h1M395.0 558.0h1M415.6 593.9h1M398.4 567.6h1M397.2 549.5h1M443.0 567.3h1M402.9 555.2h1M428.7 550.5h1M402.0 591.8h1M390.7 566.8h1M442.9 559.4h1M426.5 575.3h1M427.6 563.6h1M402.6 558.3h1M407.8 582.8h1M397.9 585.3h1M393.2 580.3h1M404.8 591.8h1M419.3 546.7h1M429.4 547.5h1M430.3 548.2h1M406.5 568.4h1M421.6 592.9h1M434.4 562.9h1M414.5 553.0h1M396.2 568.5h1M392.7 570.6h1M392.4 554.4h1M395.9 578.0h1M399.9 567.2h1M437.4 582.1h1M436.4 582.5h1M395.0 551.0h1M401.1 566.2h1M424.3 583.5h1M414.7 589.9h1M406.8 546.1h1M387.6 568.3h1M440.5 567.8h1M439.5 572.1h1M427.1 569.1h1M417.4 574.0h1M403.9 583.9h1M403.2 574.1h1M391.6 577.3h1M424.2 571.6h1M436.4 571.5h1M389.6 561.9h1M405.3 545.1h1M430.7 577.8h1M391.7 560.8h1M442.1 574.0h1M426.1 578.6h1M407.3 584.1h1M422.7 566.8h1M389.9 565.5h1M430.8 554.1h1M420.4 567.7h1M404.8 578.0h1M430.1 555.6h1M413.6 572.0h1M440.7 574.2h1M420.7 576.8h1M439.6 573.4h1M427.1 586.3h1M417.7 545.8h1M401.7 577.9h1M428.1 567.1h1M402.6 565.4h1M411.6 570.9h1M435.7 553.3h1M413.4 593.5h1M444.5 567.3h1M422.9 574.5h1M440.2 575.4h1" stroke="#822420" stroke-width="1" fill="none"/>
<path d="M424.1 567.7h1M419.6 575.3h1M433.9 556.7h1M425.9 546.6h1M405.6 545.1h1M417.0 583.3h1M417.6 583.1h1M393.6 567.2h1M441.3 565.2h1M441.2 566.3h1M429.6 591.8h1M411.2 570.7h1M432.4 557.9h1M417.7 545.5h1M401.2 573.3h1M417.9 569.5h1M413.0 595.4h1M400.4 553.9h1M403.2 583.0h1M420.6 575.4h1M431.1 570.1h1M394.7 565.3h1M418.8 574.7h1M421.1 560.7h1M388.1 572.0h1M431.1 572.3h1M427.9 567.4h1M390.6 564.7h1M418.7 567.0h1M398.4 554.2h1M426.0 585.8h1M420.9 592.8h1M423.7 558.9h1M414.8 564.8h1M412.0 588.9h1M398.6 578.7h1M398.4 586.8h1M406.6 574.2h1M401.7 591.9h1M428.9 549.2h1M426.2 560.8h1M391.9 571.4h1M430.4 586.6h1M393.3 562.0h1M431.8 580.2h1M414.2 559.5h1M429.3 572.7h1M422.0 573.9h1M425.0 550.1h1M391.4 561.9h1M407.6 579.8h1M442.1 558.0h1M416.4 595.0h1M392.4 574.5h1M425.0 586.3h1M433.4 561.7h1M400.5 552.3h1M394.6 559.8h1M428.2 562.3h1M415.9 556.3h1M432.1 576.2h1M427.0 553.1h1M412.0 564.9h1M428.5 568.6h1M395.9 555.9h1M396.5 568.9h1M410.2 559.9h1M427.0 561.0h1M399.4 547.6h1M415.5 582.4h1M391.9 579.1h1M403.1 559.0h1M388.2 574.9h1M410.1 589.3h1M433.9 570.7h1M413.8 571.6h1M400.0 559.7h1M411.4 577.1h1M389.9 569.0h1M396.3 571.4h1M416.4 558.5h1M414.6 543.6h1M396.5 555.5h1M402.4 582.0h1M426.9 579.3h1M414.4 585.4h1M443.1 566.2h1M403.1 571.8h1M404.1 577.7h1M410.8 556.8h1M399.4 578.3h1M412.0 585.1h1M401.8 557.2h1M397.7 583.1h1M403.8 573.1h1M397.0 581.5h1M407.2 576.4h1M403.4 553.5h1M434.0 567.1h1M414.2 554.8h1M401.2 575.5h1M425.4 559.0h1M439.2 584.8h1M434.6 567.4h1M404.5 577.2h1M407.9 574.6h1M407.8 546.1h1M440.9 575.1h1M417.4 578.5h1M392.9 577.7h1M415.0 566.5h1M425.2 545.3h1M441.0 577.2h1M440.6 582.9h1M413.7 546.7h1M413.9 565.5h1M407.7 564.4h1M402.4 584.2h1M402.5 590.6h1M416.3 583.6h1M421.5 588.3h1M394.8 586.5h1M394.0 585.2h1M413.6 581.0h1M419.6 559.4h1M401.8 580.2h1M403.7 560.0h1M427.3 562.9h1M400.1 549.8h1M407.7 584.0h1M439.8 562.2h1M412.3 588.3h1M412.4 556.2h1M429.0 550.1h1M404.8 551.4h1" stroke="#985a20" stroke-width="1" fill="none"/>
<path d="M418.3 593.0h1M402.4 579.2h1M438.7 579.8h1M428.7 544.7h1M414.5 543.6h1M404.7 546.0h1M417.6 586.8h1M444.0 577.3h1M409.5 543.5h1M420.1 542.8h1M431.3 587.2h1M434.6 557.3h1M393.4 552.8h1M412.4 581.5h1M411.9 556.5h1M397.7 580.4h1M411.3 568.2h1M398.9 586.6h1M427.3 563.2h1M410.3 555.8h1M424.1 577.3h1M416.8 550.1h1M419.7 545.9h1M423.7 568.9h1M414.2 584.7h1M388.2 567.4h1M423.8 577.3h1M443.4 568.1h1M400.4 589.5h1M436.6 563.8h1M418.9 577.5h1M437.6 554.9h1M401.4 556.1h1M394.2 583.9h1M412.9 553.7h1M411.5 591.9h1M396.8 581.4h1M418.5 549.7h1M426.4 587.9h1M417.5 560.0h1M411.7 578.4h1M418.3 564.0h1M423.0 543.0h1M435.0 576.8h1M417.5 595.8h1M392.5 562.4h1M428.5 552.5h1M415.0 556.2h1M393.1 575.7h1M427.0 559.5h1M393.5 558.6h1M397.9 570.8h1M439.1 556.5h1M429.5 567.9h1M395.1 565.1h1M391.3 576.5h1M415.4 545.3h1M412.6 553.6h1M404.1 568.1h1M410.1 556.7h1M402.0 548.6h1M410.6 589.7h1M429.7 580.6h1M389.8 565.1h1M405.8 559.8h1M413.1 574.1h1M412.6 589.5h1M395.4 559.0h1M428.8 558.8h1M421.8 571.2h1M414.5 568.3h1M431.3 561.5h1M421.0 572.1h1M391.8 581.7h1M439.7 572.5h1M415.6 580.7h1M401.8 581.4h1M428.1 554.4h1M404.2 570.1h1M418.0 560.0h1M443.3 563.8h1M393.4 553.3h1M414.8 580.2h1M424.1 579.0h1M417.3 580.6h1M407.8 571.8h1M400.2 559.5h1M434.4 552.5h1M440.8 577.1h1M392.1 562.3h1M406.5 572.6h1M436.4 567.6h1M425.8 590.2h1M391.8 562.3h1M442.6 563.8h1M422.8 580.6h1M440.5 557.9h1M397.6 579.4h1M414.8 573.9h1M424.7 545.2h1M404.2 553.9h1M419.4 545.3h1M406.7 572.4h1M425.2 564.0h1M437.4 558.7h1M438.2 558.8h1M406.8 556.5h1M423.4 564.8h1M442.3 565.6h1M406.7 591.2h1M428.7 567.0h1M429.7 572.6h1M403.0 578.2h1M417.5 580.2h1M399.2 580.9h1M420.4 556.5h1M430.5 568.0h1M439.5 564.1h1M419.5 591.5h1M394.8 568.7h1M434.5 565.2h1M403.8 555.7h1M427.2 582.3h1M435.0 557.0h1M404.2 558.3h1M435.2 580.4h1M432.6 550.2h1M413.7 543.0h1M433.5 581.8h1M423.1 557.3h1M388.4 565.6h1M410.9 551.7h1" stroke="#286e28" stroke-width="1" fill="none"/>
<path d="M415.6 567.1h1M442.1 560.6h1M444.7 564.9h1M410.1 554.2h1M426.7 573.2h1M422.7 576.5h1M439.0 565.6h1M416.0 544.0h1M421.5 554.0h1M421.9 592.6h1M424.5 564.1h1M417.1 546.4h1M411.5 588.1h1M395.2 551.1h1M407.2 555.0h1M398.4 570.2h1M436.7 574.7h1M436.9 583.0h1M418.7 543.3h1M397.8 586.5h1M393.0 561.5h1M415.8 566.2h1M418.9 558.0h1M409.5 585.7h1M399.7 577.6h1M410.8 554.0h1M412.9 575.3h1M418.3 545.2h1M443.3 564.9h1M430.0 570.4h1M400.7 579.9h1M392.1 562.1h1M415.3 544.0h1M403.3 586.1h1M403.6 549.5h1M396.8 553.2h1M406.4 585.2h1M394.9 569.7h1M419.2 570.3h1M401.3 553.0h1M394.2 579.5h1M416.2 592.6h1M433.3 561.1h1M411.8 549.0h1M399.4 579.1h1M390.5 567.7h1M412.1 549.8h1M425.4 564.9h1M410.7 579.7h1M430.6 586.1h1M404.2 575.3h1M403.2 555.9h1M406.0 582.0h1M413.9 570.4h1M440.4 556.1h1M424.7 545.8h1M414.3 563.6h1M427.3 547.7h1M420.5 595.4h1M422.5 581.0h1M421.6 550.3h1M412.4 584.6h1M418.9 556.2h1M437.7 581.4h1M392.9 568.3h1M440.1 578.0h1M404.1 591.2h1M389.9 574.7h1M435.9 549.9h1M436.0 555.2h1M418.2 571.1h1M418.3 552.7h1M433.4 577.2h1M411.2 572.4h1M433.0 578.0h1M413.5 552.2h1M417.3 560.8h1M405.9 551.7h1M407.6 543.8h1M441.3 555.1h1M439.9 583.4h1M438.2 582.3h1M434.8 556.4h1M422.6 543.0h1M397.0 583.8h1M405.5 575.7h1M432.8 569.1h1M431.8 552.3h1M408.8 573.9h1M431.3 547.1h1M403.1 564.7h1M405.5 574.3h1M417.9 585.6h1M438.3 561.4h1M416.8 551.2h1M431.6 564.8h1M404.2 593.1h1M417.2 583.9h1M428.1 565.6h1M439.2 578.3h1M415.7 555.8h1M433.4 562.1h1M414.4 549.2h1M408.3 567.9h1M432.5 587.5h1M415.7 573.9h1M427.2 581.7h1M395.7 578.4h1M405.6 560.7h1M403.3 588.2h1M430.4 565.8h1M422.6 580.0h1M437.5 578.5h1M417.9 553.9h1M415.6 545.1h1M426.7 548.3h1M401.1 575.0h1M413.7 579.1h1M394.0 577.6h1M389.9 570.3h1M437.5 576.9h1M410.8 564.7h1M438.6 577.3h1M401.7 575.5h1M425.7 571.8h1M419.0 584.7h1M432.5 588.1h1M424.8 557.3h1M429.6 581.8h1M431.3 590.1h1M410.4 574.5h1M402.9 566.3h1M393.3 558.2h1M400.0 551.8h1M401.4 577.1h1" stroke="#8a7428" stroke-width="1" fill="none"/>
<path d="M455.9 585.0h1M402.1 534.4h1M458.4 570.8h1M383.5 605.4h1M446.6 529.4h1M462.8 601.4h1M442.1 547.9h1M421.7 577.7h1M376.4 582.3h1M379.7 544.6h1M397.5 547.5h1M374.4 591.6h1M435.8 582.7h1M389.5 574.9h1M464.3 579.0h1M415.5 578.3h1M377.0 585.7h1M439.6 587.3h1M430.7 526.6h1M432.1 574.3h1M400.1 585.4h1M448.3 545.7h1M438.9 533.1h1M436.2 574.8h1M433.1 581.0h1M413.2 545.6h1M457.9 525.3h1M462.2 599.2h1M386.8 547.1h1M399.7 568.4h1M405.8 595.9h1M449.5 571.8h1M461.9 555.7h1M442.9 544.3h1M404.5 542.6h1M422.5 541.6h1M416.5 591.4h1M402.1 574.9h1M378.5 586.4h1M415.0 597.4h1M407.4 587.8h1M426.8 535.4h1M408.6 547.5h1M459.1 548.5h1M464.8 566.9h1M431.4 533.1h1M401.5 591.1h1M438.6 584.9h1M397.4 578.4h1M388.0 597.4h1M383.5 585.2h1M380.7 570.4h1M388.9 594.3h1M396.8 576.5h1M439.2 558.3h1M420.0 568.0h1M397.1 580.3h1M425.7 537.2h1M382.8 599.7h1M396.6 580.8h1M420.7 595.9h1M386.5 582.9h1M462.7 550.5h1M387.5 531.9h1M418.1 566.4h1M433.9 540.3h1M444.7 569.3h1M422.9 597.2h1M388.7 554.1h1M378.3 580.9h1M422.6 561.3h1M420.2 566.1h1M425.2 573.3h1M417.9 536.5h1M435.4 590.2h1M385.5 587.5h1M443.4 535.6h1M463.4 544.2h1M457.3 557.2h1M414.6 595.7h1" stroke="#141a50" stroke-width="1" fill="none"/>
<path d="M462.1 541.4h1M453.4 534.9h1M382.0 578.6h1M449.5 539.7h1M441.9 548.2h1M385.6 604.3h1M391.4 595.3h1M400.7 552.2h1M396.1 577.3h1M422.3 600.6h1M452.2 541.2h1M432.9 543.9h1M397.4 550.4h1M444.7 549.0h1M423.3 552.3h1M455.5 567.6h1M377.1 542.6h1M372.8 565.9h1M388.3 603.2h1M456.7 576.7h1M445.0 548.9h1M384.6 530.0h1M434.1 601.2h1M396.3 532.8h1M418.1 528.0h1M380.8 528.0h1M411.7 535.0h1M403.9 548.4h1M443.6 565.4h1M409.4 570.5h1M464.0 590.9h1M439.7 546.0h1M426.5 561.9h1M435.8 570.5h1M427.5 531.8h1M373.9 571.0h1M420.0 572.0h1M395.8 548.0h1M431.4 537.0h1M437.8 557.3h1M401.0 590.7h1M401.4 587.5h1M430.8 575.2h1M398.7 572.6h1M432.6 527.7h1M460.6 585.5h1M404.5 587.7h1M455.6 550.0h1M452.6 584.8h1M440.8 546.4h1M458.5 526.0h1M454.4 562.1h1M389.0 547.3h1M434.8 550.2h1M459.7 544.3h1M412.7 548.8h1M384.2 557.4h1M467.8 605.5h1M380.6 543.1h1M442.0 574.5h1M379.4 574.8h1M420.9 557.5h1M432.5 603.9h1M427.8 553.4h1M374.4 575.6h1M451.7 558.7h1M438.5 533.9h1M427.3 601.2h1M405.0 558.5h1M389.6 562.1h1M409.2 599.6h1M454.1 568.2h1M455.6 568.1h1M449.9 528.9h1M425.0 548.9h1M430.3 539.8h1M379.1 583.7h1M443.0 537.9h1M426.4 571.7h1M418.9 585.3h1" stroke="#1a2060" stroke-width="1" fill="none"/>
<path d="M419.3 538.1h1M450.1 550.2h1M443.7 547.3h1M441.6 568.4h1M412.5 552.0h1M425.5 537.1h1M443.6 546.2h1M436.0 547.5h1M433.0 566.1h1M437.9 559.9h1M438.2 569.5h1M433.9 543.5h1M426.8 554.7h1M435.7 538.1h1M432.0 559.6h1M428.4 555.8h1M430.5 561.7h1M443.3 566.2h1M421.5 554.2h1M437.2 565.9h1M436.3 544.6h1M437.4 543.7h1M446.2 564.5h1M444.9 561.2h1M414.7 547.4h1M435.1 556.6h1M449.2 558.5h1M422.3 562.4h1M429.8 536.3h1M447.7 554.1h1M434.1 539.1h1M433.0 567.9h1M439.3 548.3h1M417.0 564.1h1M430.5 539.4h1M443.9 548.2h1M433.7 552.7h1M410.1 556.7h1M448.9 543.3h1M427.7 549.1h1M432.7 546.9h1M441.0 553.8h1M449.8 544.4h1M420.9 556.3h1M445.8 560.1h1M420.6 565.0h1" stroke="#982a26" stroke-width="1" fill="none"/>
<path d="M425.1 562.5h1M424.8 553.9h1M426.4 559.9h1M434.1 542.4h1M426.1 558.7h1M431.7 560.8h1M428.6 556.5h1M414.4 548.9h1M432.4 565.7h1M426.2 541.7h1M435.1 557.2h1M433.3 557.4h1M424.1 564.2h1M434.4 551.9h1M420.9 562.1h1M429.8 541.0h1M434.0 538.1h1M429.7 558.1h1M421.5 536.8h1M429.0 565.1h1M448.0 551.8h1M422.1 537.0h1M426.5 551.1h1M431.8 541.5h1M438.2 559.0h1M442.3 566.7h1M417.6 558.8h1M442.5 540.9h1M445.0 562.6h1M437.3 546.6h1M415.1 561.3h1M441.1 565.6h1M424.2 563.0h1M426.0 547.6h1M449.6 559.3h1M423.7 542.7h1M430.5 557.7h1M425.6 566.6h1M421.0 546.1h1" stroke="#2e8030" stroke-width="1" fill="none"/>
<path d="M413.6 563.7h1M414.6 558.7h1M414.6 550.7h1M419.3 559.2h1M435.1 549.3h1M429.2 552.3h1M427.4 548.9h1M441.5 565.7h1M451.3 550.8h1M419.0 563.3h1M412.8 548.0h1M443.2 545.1h1M413.1 563.4h1M426.1 543.7h1M429.2 566.7h1M436.8 557.8h1M439.7 542.4h1M412.5 551.8h1M432.4 559.2h1M420.2 553.3h1M431.2 537.6h1M414.9 563.0h1M439.4 540.0h1M419.5 555.3h1M447.5 557.3h1M428.2 536.5h1M436.1 564.4h1M441.9 567.4h1M412.3 552.6h1M428.8 545.5h1M424.1 541.7h1M424.6 543.0h1M441.1 561.4h1M418.2 566.8h1M422.0 554.1h1" stroke="#a08830" stroke-width="1" fill="none"/>
<path d="M434.4 533.4h1M441.5 537.3h1M414.2 542.2h1M406.2 534.5h1M434.8 533.6h1M422.3 529.1h1M449.9 535.3h1M434.3 541.8h1M442.4 527.7h1M422.1 538.4h1M419.2 543.0h1M448.0 542.1h1M442.5 529.8h1M428.5 527.9h1M436.5 532.5h1M407.2 531.8h1M408.5 539.7h1M441.5 533.2h1M439.7 538.4h1M433.8 537.9h1M438.7 536.4h1M424.4 534.0h1M401.2 533.2h1M440.2 536.5h1M427.9 531.6h1M449.8 528.4h1M431.2 542.2h1M418.5 540.5h1M408.2 538.4h1M448.2 528.3h1M408.7 532.2h1M415.4 541.6h1M421.1 526.5h1M422.1 529.5h1M438.5 540.3h1" stroke="#902828" stroke-width="1" fill="none"/>
<path d="M434.2 527.7h1M443.4 542.0h1M445.3 528.7h1M431.9 531.9h1M425.9 529.9h1M436.1 534.5h1M434.8 536.6h1M433.8 540.4h1M445.5 541.5h1M402.1 537.5h1M401.0 531.6h1M429.3 536.2h1M414.9 539.4h1M405.7 538.7h1M450.8 541.1h1M451.3 536.0h1M438.7 541.8h1M432.1 535.9h1M450.5 534.6h1M438.6 543.7h1M430.6 527.1h1M422.8 541.0h1M455.4 532.1h1M449.6 539.5h1M425.8 542.4h1" stroke="#908030" stroke-width="1" fill="none"/>
<path d="M461.6 526.7h1M431.7 593.2h1M419.8 567.2h1M425.1 530.6h1M454.9 593.9h1M429.3 603.1h1M421.1 533.8h1M386.5 527.3h1M462.7 543.6h1M419.2 541.3h1M373.0 589.8h1M430.0 571.9h1M399.3 588.6h1M438.7 555.6h1M416.6 541.7h1M455.7 599.8h1M394.0 567.7h1M434.7 580.1h1M460.4 536.5h1M372.9 537.2h1M468.2 575.8h1M393.0 527.9h1M415.8 526.1h1M397.7 527.7h1M409.4 577.7h1M380.0 591.4h1M418.2 531.2h1" stroke="#287028" stroke-width="1" fill="none"/>
<path d="M448.9 592.2h1M462.6 545.6h1M417.2 560.8h1M453.0 596.0h1M391.3 596.0h1M449.4 573.9h1M388.5 553.0h1M432.0 581.6h1M452.3 587.0h1M375.3 525.2h1M394.0 590.0h1M428.7 555.0h1M402.9 567.3h1M410.5 594.6h1" stroke="#802424" stroke-width="1" fill="none"/>
<path d="M463.6 569.6h1M378.7 573.1h1M406.8 545.0h1M386.2 527.3h1M391.2 602.3h1M453.9 557.1h1M446.2 537.4h1M405.5 587.6h1M372.9 532.5h1M453.7 586.7h1M392.7 547.3h1M395.9 561.9h1M450.8 528.4h1M416.6 531.5h1M446.4 592.9h1M397.5 537.2h1M398.4 569.6h1M385.0 551.6h1M407.4 575.0h1M374.1 590.7h1M466.8 577.5h1M409.8 545.3h1M413.8 598.8h1M379.9 538.5h1M434.4 584.1h1M424.9 543.6h1M427.6 600.9h1M399.3 576.8h1M401.4 575.8h1" stroke="#807028" stroke-width="1" fill="none"/>
<path d="M458.7 546.1h1.4M458.2 557.1h1.4M460.9 551.6h1.4M459.9 550.5h1.4M464.7 557.7h1.4M464.4 537.6h1.4M460.0 540.3h1.4M457.4 545.0h1.4M458.2 547.9h1.4M460.4 561.2h1.4M464.2 558.7h1.4M468.7 542.4h1.4M461.1 563.5h1.4M460.4 558.3h1.4M463.1 539.3h1.4M468.3 550.2h1.4M466.7 560.9h1.4M462.5 538.8h1.4M467.9 553.2h1.4M463.2 547.4h1.4M460.4 561.8h1.4M463.2 531.1h1.4M462.5 538.0h1.4M464.0 529.8h1.4M458.7 547.7h1.4M468.2 556.3h1.4M462.5 556.7h1.4M461.1 559.5h1.4M463.4 549.5h1.4M459.8 537.0h1.4M462.7 564.4h1.4M456.6 551.1h1.4M465.2 539.4h1.4" stroke="#40b050" stroke-width="1.4" fill="none"/>
<path d="M464.6 545.3h1.4M464.5 542.4h1.4M467.0 553.9h1.4M461.9 550.9h1.4M457.8 536.2h1.4M465.6 551.3h1.4M458.0 558.4h1.4M459.6 544.7h1.4M463.3 557.0h1.4M466.4 554.7h1.4M463.5 532.0h1.4M459.4 530.0h1.4M461.1 533.1h1.4M457.4 542.2h1.4M463.3 562.7h1.4M468.5 531.4h1.4M463.6 558.0h1.4" stroke="#30a040" stroke-width="1.4" fill="none"/>
<path d="M445.0 531.5h1.3M455.0 537.9h1.3M444.7 530.2h1.3M453.7 528.4h1.3M452.0 534.5h1.3M448.6 527.7h1.3M446.3 531.9h1.3M451.0 528.1h1.3M454.4 534.2h1.3M453.9 534.2h1.3M444.6 534.4h1.3M447.5 538.8h1.3M453.3 537.1h1.3M449.4 531.1h1.3M448.0 537.9h1.3M445.4 533.0h1.3M450.0 534.4h1.3M448.4 535.5h1.3M451.2 538.2h1.3M451.6 532.9h1.3M453.9 531.9h1.3M449.3 532.4h1.3M453.8 532.8h1.3M449.0 535.5h1.3M446.8 537.8h1.3M449.4 533.3h1.3M457.5 530.8h1.3M457.6 530.6h1.3M451.4 538.8h1.3M454.5 532.3h1.3" stroke="#30a040" stroke-width="1.3" fill="none"/>
<path d="M376.1 594.4h1.2M380.2 588.3h1.2M374.7 593.3h1.2M391.4 594.5h1.2M381.6 598.1h1.2M385.7 593.0h1.2M390.5 602.0h1.2M380.6 590.1h1.2M378.2 602.3h1.2M376.7 597.8h1.2M388.7 601.2h1.2M387.2 596.5h1.2M384.1 596.4h1.2" stroke="#982828" stroke-width="1.2" fill="none"/>
<path d="M382.2 589.4h1.2M387.3 589.9h1.2M379.0 599.4h1.2M392.0 592.0h1.2M391.0 588.0h1.2M388.9 589.9h1.2M375.9 589.1h1.2M384.8 600.2h1.2M374.9 603.1h1.2M389.9 589.2h1.2M383.0 598.4h1.2M378.8 597.4h1.2M380.5 588.7h1.2M379.9 593.5h1.2M379.5 593.9h1.2M385.6 598.2h1.2M376.7 596.1h1.2" stroke="#309038" stroke-width="1.2" fill="none"/>
<path d="M538.1 588.4h1.2M493.6 557.7h1.2M500.1 584.8h1.2M516.9 542.3h1.2M519.2 546.2h1.2M510.7 566.4h1.2M547.7 548.5h1.2M512.6 552.2h1.2M531.7 548.6h1.2M528.3 556.5h1.2M514.9 573.9h1.2M504.2 547.9h1.2M497.2 585.6h1.2M486.5 560.0h1.2M493.2 586.6h1.2M517.8 545.3h1.2M526.7 589.1h1.2M525.4 588.5h1.2M500.0 552.4h1.2M540.8 577.3h1.2M544.9 586.9h1.2M506.0 575.6h1.2M508.3 538.4h1.2M506.5 560.3h1.2M526.8 593.9h1.2M511.4 535.0h1.2M515.8 554.2h1.2M527.1 560.8h1.2M504.4 538.5h1.2M507.8 539.5h1.2M518.8 600.6h1.2M543.5 556.2h1.2M549.8 579.1h1.2M520.9 577.7h1.2M547.1 560.6h1.2M528.8 539.6h1.2M521.4 539.6h1.2M549.0 552.5h1.2M522.7 590.6h1.2M506.0 587.4h1.2M486.3 560.9h1.2M556.1 563.2h1.2M520.0 536.3h1.2M514.8 590.6h1.2M522.7 572.0h1.2M533.7 541.4h1.2M517.8 550.5h1.2M517.5 543.4h1.2M486.2 566.2h1.2M524.9 600.1h1.2M492.6 565.3h1.2M504.8 594.2h1.2M534.0 541.0h1.2M548.7 549.6h1.2M517.3 594.4h1.2M533.2 594.8h1.2" stroke="#186a24" stroke-width="1.2" fill="none"/>
<path d="M510.8 542.3h1.2M498.1 568.3h1.2M490.1 565.2h1.2M505.1 550.6h1.2M552.0 560.4h1.2M534.3 542.8h1.2M510.0 595.1h1.2M503.6 576.5h1.2M536.6 569.1h1.2M519.2 599.9h1.2M506.0 541.0h1.2M532.8 580.2h1.2M488.7 571.9h1.2M494.6 575.0h1.2M520.6 557.7h1.2M497.5 560.7h1.2M527.3 565.5h1.2M495.1 557.9h1.2M536.4 551.1h1.2M535.1 581.8h1.2M518.4 584.2h1.2M515.5 571.2h1.2M495.2 550.1h1.2M526.1 566.8h1.2M533.1 568.8h1.2M552.7 551.8h1.2M536.1 572.6h1.2M520.8 581.5h1.2M537.3 544.6h1.2M513.8 557.9h1.2M504.3 562.5h1.2M544.7 563.1h1.2M523.2 562.1h1.2M515.6 576.2h1.2M552.2 551.1h1.2M523.5 557.4h1.2M545.4 548.8h1.2M554.4 569.2h1.2M529.2 586.7h1.2M510.9 566.8h1.2M541.4 558.2h1.2M520.1 547.0h1.2M535.3 556.9h1.2M512.8 573.7h1.2" stroke="#1e7a2a" stroke-width="1.2" fill="none"/>
<path d="M492.7 597.9h1.1M546.0 605.3h1.1M503.0 568.8h1.1M519.8 594.3h1.1M506.7 597.1h1.1M492.6 606.4h1.1M552.8 600.6h1.1M515.5 605.8h1.1M525.5 538.1h1.1M531.2 588.9h1.1M476.9 594.6h1.1M495.2 580.0h1.1M564.6 541.0h1.1M542.4 540.0h1.1M511.4 586.6h1.1M521.5 539.4h1.1M559.8 603.7h1.1M480.5 603.2h1.1M504.5 574.3h1.1M498.6 577.7h1.1M497.7 565.3h1.1M495.2 548.7h1.1M513.3 553.6h1.1M558.6 571.3h1.1M564.6 600.4h1.1" stroke="#1a6a26" stroke-width="1.1" fill="none"/>
<path d="M567.8 557.9h1.3M565.2 570.3h1.3M560.6 568.9h1.3M566.5 570.8h1.3M569.0 568.9h1.3M569.7 554.6h1.3M565.1 567.9h1.3M561.4 573.4h1.3M560.1 565.4h1.3M569.1 553.5h1.3M561.4 531.2h1.3M546.2 535.5h1.3M545.3 533.6h1.3M546.9 538.9h1.3M543.8 532.1h1.3M561.7 537.7h1.3M549.9 538.1h1.3M549.2 537.1h1.3M561.6 530.6h1.3M558.7 535.8h1.3M564.6 531.7h1.3M542.1 528.1h1.3M481.2 603.0h1.3M482.5 605.0h1.3M484.0 588.7h1.3M484.0 600.2h1.3M483.5 594.0h1.3M481.4 593.8h1.3M494.0 593.2h1.3M495.0 600.4h1.3M491.8 590.5h1.3M482.6 595.3h1.3M494.3 589.5h1.3M491.6 601.0h1.3M490.4 591.7h1.3M483.6 601.6h1.3M478.8 594.0h1.3M487.3 597.5h1.3M492.5 601.2h1.3M480.3 604.5h1.3M486.5 601.5h1.3M492.9 596.1h1.3" stroke="#28a038" stroke-width="1.3" fill="none"/>
<path d="M559.5 565.9h1.3M570.8 563.0h1.3M563.8 550.5h1.3M570.8 572.3h1.3M561.8 559.7h1.3M564.7 557.8h1.3M561.5 560.5h1.3M570.5 549.6h1.3M566.8 569.0h1.3M566.2 563.8h1.3M562.6 568.2h1.3M567.3 566.8h1.3M545.4 533.5h1.3M556.6 534.3h1.3M546.7 534.5h1.3M556.9 540.2h1.3M556.2 539.2h1.3M541.8 540.9h1.3M558.9 530.2h1.3M547.0 536.3h1.3M548.9 540.2h1.3M559.9 538.5h1.3M548.8 530.5h1.3M553.7 533.9h1.3M547.0 533.2h1.3M546.0 535.4h1.3M551.7 533.3h1.3M546.3 533.8h1.3M560.9 528.8h1.3M557.3 528.2h1.3M545.0 540.9h1.3M559.2 540.7h1.3M563.1 532.6h1.3M552.2 536.3h1.3M554.8 539.4h1.3" stroke="#30b040" stroke-width="1.3" fill="none"/>
<path d="M437.8 656.1h1.3M404.9 632.2h1.3M424.0 651.4h1.3M432.8 675.7h1.3M446.5 666.8h1.3M420.2 682.9h1.3M428.7 665.8h1.3M428.7 636.3h1.3M444.6 665.8h1.3M402.2 666.1h1.3M397.6 660.9h1.3M407.4 681.8h1.3M440.3 656.9h1.3M414.1 687.0h1.3M432.8 642.9h1.3M437.6 662.4h1.3M412.3 682.7h1.3M397.4 679.3h1.3M405.9 673.1h1.3M402.2 666.8h1.3M424.9 633.3h1.3M434.8 678.7h1.3M426.8 647.0h1.3M401.6 640.2h1.3M407.4 651.5h1.3M387.2 653.7h1.3M410.7 644.7h1.3M404.7 659.7h1.3M385.4 654.8h1.3M411.0 668.1h1.3M430.6 633.2h1.3M408.5 635.9h1.3M409.6 638.7h1.3M399.9 679.1h1.3M402.8 634.5h1.3M431.6 670.1h1.3M423.3 644.6h1.3M422.1 674.4h1.3M420.3 674.6h1.3M412.1 666.5h1.3M411.6 672.7h1.3M403.2 649.5h1.3M412.6 644.7h1.3M400.1 651.4h1.3M421.2 672.8h1.3M435.0 664.6h1.3M391.6 665.9h1.3M412.1 684.1h1.3M407.9 682.5h1.3M427.0 645.6h1.3M442.3 653.2h1.3" stroke="#7a1616" stroke-width="1.3" fill="none"/>
<path d="M404.1 642.0h1.3M402.8 648.7h1.3M432.0 641.3h1.3M440.1 650.9h1.3M417.5 637.0h1.3M389.8 654.3h1.3M411.9 643.1h1.3M399.9 648.0h1.3M410.0 660.9h1.3M405.4 648.8h1.3M421.6 666.0h1.3M391.6 650.5h1.3M385.5 652.1h1.3M405.5 666.5h1.3M408.3 636.0h1.3M430.5 639.2h1.3M407.3 650.1h1.3M429.1 635.3h1.3M391.2 642.3h1.3M396.4 672.4h1.3M438.8 678.4h1.3M430.7 677.7h1.3M416.5 631.9h1.3M424.0 633.7h1.3M410.3 677.2h1.3M411.7 629.4h1.3M429.8 668.8h1.3M435.2 669.3h1.3M417.0 652.0h1.3M407.7 674.8h1.3M405.8 645.2h1.3M399.4 665.1h1.3M412.8 643.4h1.3M428.3 646.8h1.3M431.4 680.2h1.3M404.2 640.3h1.3M389.5 674.4h1.3M435.6 651.3h1.3M413.5 662.0h1.3M418.1 628.9h1.3M389.5 667.7h1.3M398.7 642.1h1.3M427.0 661.9h1.3M396.6 654.6h1.3M430.2 685.7h1.3M431.9 659.8h1.3M410.8 640.0h1.3M396.0 644.8h1.3M402.5 644.9h1.3" stroke="#8c1c1c" stroke-width="1.3" fill="none"/>
<path d="M381.0 693.9h1.2M401.3 654.3h1.2M377.0 673.1h1.2M452.4 674.0h1.2M387.3 683.4h1.2M381.3 674.2h1.2M449.7 632.0h1.2M376.1 669.9h1.2M417.1 689.3h1.2M456.2 676.2h1.2M438.0 691.3h1.2M387.8 661.0h1.2M437.0 638.8h1.2M459.2 692.2h1.2M374.4 651.0h1.2M441.7 621.2h1.2M378.7 661.9h1.2M451.5 663.5h1.2M387.9 665.0h1.2M450.9 664.2h1.2M421.7 633.8h1.2M378.4 615.1h1.2M428.3 643.3h1.2M386.6 689.3h1.2M462.6 676.7h1.2M392.6 691.8h1.2M398.9 653.6h1.2M427.6 689.3h1.2M417.2 633.7h1.2M443.5 647.1h1.2M454.1 665.5h1.2M458.2 683.2h1.2M449.3 685.9h1.2M424.5 642.5h1.2M465.2 637.8h1.2M436.6 665.5h1.2M438.6 655.0h1.2M449.7 646.2h1.2" stroke="#801818" stroke-width="1.2" fill="none"/>
<path d="M447.7 667.8h1.2M390.0 687.5h1.2M456.2 687.3h1.2M424.5 685.0h1.2M454.1 689.9h1.2M421.4 676.2h1.2M382.3 691.8h1.2M430.4 691.4h1.2M424.0 692.9h1.2M415.8 625.3h1.2M455.3 654.2h1.2M379.1 681.6h1.2M463.7 672.1h1.2M382.6 657.8h1.2M413.2 619.0h1.2M457.4 649.4h1.2M442.5 626.2h1.2M458.6 653.5h1.2M401.6 690.4h1.2M375.5 693.5h1.2M387.7 670.6h1.2M389.0 678.8h1.2" stroke="#6a1212" stroke-width="1.2" fill="none"/>
<ellipse cx="520.8" cy="657.8" rx="30" ry="30" fill="#09091e" filter="url(#blur4)"/>
<path d="M540.8 653.5h1M502.3 669.7h1M518.3 686.3h1M513.5 665.9h1M537.8 665.4h1M528.3 659.5h1M523.7 668.3h1M530.1 672.8h1M513.1 638.8h1M508.5 682.8h1M541.4 663.8h1M527.3 643.4h1M499.7 650.0h1M529.9 643.7h1M500.8 674.7h1M502.2 653.3h1M512.1 659.7h1M508.2 660.5h1M493.3 664.3h1M508.0 651.0h1M527.9 639.2h1M521.6 650.6h1M522.9 667.3h1M517.9 677.2h1M511.4 645.7h1M500.2 673.0h1M525.3 641.7h1M523.3 660.4h1M531.1 668.9h1M512.2 654.6h1M528.0 663.0h1M508.9 647.4h1M541.3 666.4h1M517.1 679.2h1M506.4 653.8h1M511.7 668.2h1M525.6 665.8h1M518.4 672.3h1M530.1 642.5h1M498.7 641.7h1M510.0 665.6h1M499.3 650.2h1M494.9 672.3h1M492.1 654.4h1M538.2 650.5h1M528.9 654.5h1M533.9 652.5h1M519.3 645.1h1M521.1 654.2h1M494.2 667.3h1M494.1 648.6h1M505.6 659.6h1M533.7 645.8h1M516.6 642.4h1M507.6 675.3h1M502.8 679.6h1M509.0 666.2h1M523.8 667.6h1M541.9 658.1h1M495.5 648.8h1M531.1 681.4h1M534.2 679.8h1M515.7 662.0h1M520.5 677.5h1M497.5 661.1h1M511.1 674.1h1M522.3 663.7h1M511.2 660.5h1M516.6 639.9h1M515.3 669.7h1M495.6 650.7h1M501.9 674.8h1M503.6 644.9h1M503.2 656.3h1M522.0 670.1h1M519.6 676.6h1M507.6 645.7h1M506.9 682.2h1M531.2 655.5h1M500.2 666.0h1M508.8 641.1h1M501.7 661.4h1M532.6 670.4h1M513.0 640.4h1M525.8 655.9h1M520.0 643.7h1M513.9 646.5h1M513.3 654.1h1M539.5 654.5h1M530.1 641.3h1M525.8 644.3h1M505.4 660.2h1M532.4 672.2h1M507.2 636.3h1M513.9 658.5h1M518.8 655.3h1M540.0 659.7h1M522.9 670.4h1M534.4 647.5h1M506.3 671.6h1M529.3 658.0h1M519.9 650.0h1M503.7 656.2h1M532.4 670.4h1M509.0 656.7h1M510.2 676.4h1M495.5 653.9h1M518.2 686.2h1M512.0 686.1h1M511.8 642.7h1M536.5 643.6h1M524.1 640.6h1M497.7 666.2h1M521.8 664.0h1M506.2 672.7h1M537.3 647.9h1M517.1 678.2h1M508.9 663.6h1M511.9 673.9h1M532.9 673.4h1M529.3 675.7h1M504.3 637.9h1M522.0 668.4h1M512.4 652.1h1M525.1 670.7h1M508.9 637.0h1M509.5 682.6h1M527.1 651.2h1M523.3 653.8h1M503.3 673.6h1M524.1 644.7h1M532.6 672.5h1M508.6 635.6h1M519.9 659.8h1M538.3 673.3h1M520.7 665.6h1M524.1 685.0h1M525.8 651.1h1M511.8 665.2h1M515.7 666.5h1M520.0 684.6h1M499.1 667.9h1M523.6 654.1h1M516.8 645.8h1M521.5 662.8h1M498.3 667.8h1M537.1 675.4h1M520.1 645.6h1M510.8 675.9h1M517.5 648.4h1M509.4 671.7h1M536.0 674.4h1M503.4 673.5h1M513.8 634.9h1M497.8 654.2h1M496.9 660.5h1M496.4 670.0h1M503.4 646.4h1M517.1 683.5h1M503.2 654.7h1M504.9 644.6h1M512.3 685.9h1M508.2 642.6h1M522.1 657.9h1M504.7 656.5h1M492.5 659.1h1M516.1 654.2h1M508.4 658.1h1M518.0 633.6h1M542.4 656.0h1M506.4 643.1h1M518.8 640.1h1M526.5 665.7h1M525.9 670.1h1M498.7 658.6h1M499.8 655.9h1M503.8 653.5h1M507.0 653.7h1M523.6 638.4h1M518.8 642.8h1M537.0 669.1h1M515.5 674.9h1M510.1 678.0h1M531.5 677.8h1M508.8 653.2h1M530.1 677.4h1M515.8 679.4h1M527.2 678.4h1M529.8 674.8h1M535.3 676.9h1M513.0 657.7h1M527.1 681.1h1M499.3 656.7h1M534.0 673.3h1M508.9 684.0h1M534.6 645.1h1M530.4 655.6h1M542.8 658.5h1M513.3 685.3h1M516.4 643.7h1M507.4 642.5h1M532.7 647.7h1M519.0 673.2h1M535.4 675.7h1M539.9 668.0h1M532.7 639.2h1M535.7 652.8h1M533.3 663.6h1M513.8 686.4h1M504.4 638.2h1M514.7 651.9h1M534.8 671.8h1" stroke="#625c1c" stroke-width="1" fill="none"/>
<path d="M519.4 643.1h1M512.0 636.2h1M524.5 655.2h1M512.9 664.7h1M522.2 661.1h1M528.9 659.2h1M507.9 661.2h1M525.1 677.9h1M511.2 662.2h1M540.7 661.3h1M516.5 656.2h1M524.0 653.3h1M512.5 652.7h1M501.7 641.0h1M496.8 671.9h1M502.6 672.5h1M527.6 666.2h1M527.4 665.8h1M504.9 657.3h1M521.5 661.9h1M513.3 685.1h1M532.5 650.5h1M523.4 672.3h1M528.0 662.5h1M508.8 639.5h1M531.1 665.9h1M518.5 682.3h1M538.3 656.0h1M496.0 647.1h1M540.5 652.6h1M541.9 665.1h1M509.6 643.3h1M536.5 658.5h1M518.0 681.5h1M491.7 656.6h1M502.5 645.8h1M522.0 673.1h1M522.6 637.0h1M514.3 678.6h1M509.5 670.3h1M525.1 664.5h1M530.7 663.3h1M526.4 646.5h1M521.3 680.4h1M519.3 680.6h1M511.8 671.6h1M536.8 655.3h1M499.0 660.5h1M524.6 676.7h1M516.4 635.3h1M497.1 667.3h1M532.9 671.6h1M527.0 647.9h1M515.3 669.7h1M511.5 668.7h1M519.7 658.3h1M537.9 664.9h1M515.0 685.5h1M497.6 651.4h1M532.7 645.4h1M512.3 665.7h1M503.5 645.6h1M514.8 686.4h1M512.9 665.7h1M525.8 659.9h1M535.5 652.8h1M542.6 662.6h1M506.6 659.7h1M518.5 646.9h1M509.0 678.2h1M539.5 665.5h1M527.9 678.4h1M492.9 669.0h1M509.9 677.5h1M536.6 653.7h1M521.0 643.3h1M540.9 663.5h1M515.2 682.5h1M515.7 665.4h1M533.3 670.6h1M506.0 673.7h1M529.4 666.4h1M518.1 652.1h1M511.2 685.7h1M496.2 644.5h1M506.6 673.3h1M514.4 676.9h1M515.4 650.6h1M527.4 637.1h1M501.9 657.7h1M499.1 645.5h1M507.7 681.1h1M527.6 638.9h1M509.3 677.6h1M536.8 655.7h1M516.8 643.9h1M524.0 662.6h1M508.5 648.4h1M504.5 656.4h1M508.6 660.9h1M508.7 657.9h1M531.1 667.2h1M509.0 658.8h1M502.5 658.3h1M517.7 662.4h1M497.5 657.8h1M502.1 666.1h1M514.2 672.7h1M532.1 657.9h1M533.7 656.3h1M540.2 654.0h1M499.4 659.2h1M539.4 655.3h1M512.7 659.8h1M498.0 647.5h1M534.1 671.5h1M506.8 652.2h1M521.7 633.3h1M526.4 658.4h1M530.1 663.3h1M534.4 677.2h1M537.0 671.4h1M505.0 661.9h1M520.0 680.5h1M514.6 685.9h1M495.6 672.9h1M518.9 657.9h1M504.1 638.0h1M511.4 635.0h1M500.4 657.9h1M529.4 667.5h1M502.0 640.5h1M506.1 643.2h1M533.3 657.9h1M511.9 651.0h1M513.1 655.8h1M504.8 636.5h1M496.7 663.3h1M502.4 670.9h1M517.6 652.3h1M536.2 659.4h1M514.6 651.8h1M519.8 658.0h1M539.9 668.6h1M493.8 649.8h1M495.5 658.2h1M524.2 670.7h1M533.6 656.6h1M498.0 666.2h1M516.6 678.2h1M512.4 638.9h1M511.3 651.6h1M515.4 681.0h1M516.0 653.0h1M510.8 665.6h1M510.3 650.0h1M527.4 637.3h1M515.3 667.2h1M503.0 679.3h1M512.4 661.0h1M531.4 656.8h1M516.4 655.5h1M512.6 666.7h1M529.0 648.0h1M505.5 646.3h1M521.9 652.0h1M524.0 636.1h1M520.2 663.3h1M524.4 656.3h1M529.5 667.0h1M491.9 664.7h1M529.9 667.6h1M507.0 675.2h1M529.1 638.6h1M502.0 676.2h1M498.9 652.8h1M532.0 641.5h1M513.5 638.1h1M515.4 664.2h1M501.1 653.1h1M499.3 664.7h1M536.3 669.7h1M532.9 645.5h1M503.4 664.4h1M518.9 639.6h1M516.2 668.6h1M527.6 658.6h1M502.1 681.7h1M517.6 670.2h1M530.8 667.0h1M538.6 657.7h1M532.9 645.9h1M506.3 637.9h1M505.6 636.9h1M521.1 654.0h1M530.4 674.7h1M506.2 682.4h1M531.3 649.8h1M538.2 673.3h1M540.4 660.3h1M501.4 641.1h1M524.7 659.1h1M525.8 665.0h1M520.3 669.6h1M538.1 663.6h1M519.9 674.3h1M518.5 657.5h1" stroke="#7c7424" stroke-width="1" fill="none"/>
<path d="M532.8 674.6h1M503.1 651.5h1M527.5 656.2h1M523.5 647.8h1M506.1 661.4h1M517.2 663.9h1M516.7 657.5h1M507.8 667.6h1M498.5 642.9h1M515.9 679.4h1M522.9 641.8h1M514.0 683.0h1M511.4 666.1h1M533.0 680.2h1M521.9 682.2h1M539.6 670.6h1M529.1 682.8h1M541.6 655.1h1M533.4 651.8h1M533.6 666.2h1M525.7 637.5h1M529.0 669.4h1M512.6 639.1h1M506.8 679.6h1M497.8 647.6h1M514.5 663.3h1M518.6 661.7h1M517.1 637.1h1M509.4 681.3h1M500.0 672.6h1M505.0 653.3h1M529.7 667.4h1M521.7 644.4h1M532.1 677.9h1M504.6 649.3h1M528.6 664.7h1M508.7 636.5h1M504.5 649.8h1M532.6 639.4h1M514.4 684.2h1M526.4 679.3h1M512.9 651.6h1M523.5 681.1h1M503.4 653.5h1M503.7 661.4h1M523.4 639.2h1M502.0 646.0h1M526.4 638.1h1M510.3 637.9h1M498.4 661.2h1M533.0 677.4h1M497.8 650.0h1M520.4 641.4h1M500.6 664.5h1M520.9 674.1h1M534.2 669.0h1M509.3 673.3h1M518.7 642.5h1M535.7 674.2h1M522.8 662.3h1M510.1 684.3h1M500.9 650.6h1M533.8 672.1h1M512.3 642.2h1M528.5 675.4h1M505.3 655.8h1M500.7 643.4h1M524.6 663.1h1M531.3 659.7h1M511.1 640.3h1M518.6 645.0h1M511.1 685.0h1M503.4 678.5h1M508.1 677.1h1M504.9 666.7h1M513.2 633.8h1M537.4 651.9h1M504.3 650.5h1M497.8 662.9h1M520.2 647.4h1M515.5 633.5h1M536.2 664.5h1M525.5 650.3h1M507.1 653.4h1M511.6 661.2h1M524.8 645.9h1M499.4 642.9h1M523.6 665.9h1M525.5 662.8h1M522.4 684.0h1M527.2 641.5h1M506.7 658.6h1M528.5 660.1h1M511.5 683.2h1M502.0 678.0h1M540.6 649.7h1M518.4 671.1h1M496.7 648.7h1M518.6 644.1h1M509.6 648.3h1M498.2 653.5h1M512.0 639.7h1M520.0 639.3h1M497.7 668.4h1M519.6 679.7h1M542.7 654.2h1M500.2 641.4h1M511.0 654.0h1M508.3 678.9h1M526.2 649.2h1M509.9 652.3h1M523.8 638.9h1M522.9 638.6h1M518.4 671.2h1M493.5 659.8h1M517.9 669.4h1M536.7 676.8h1M535.7 676.1h1M496.8 649.3h1M508.9 665.5h1M503.9 668.0h1M505.8 665.8h1M533.3 668.2h1M522.1 655.1h1M527.4 663.3h1M539.8 664.0h1M532.6 658.0h1M495.9 650.1h1M510.0 681.4h1M519.2 633.6h1M534.1 658.7h1M520.7 648.9h1M498.7 644.1h1M505.4 644.6h1M498.4 656.5h1M526.9 662.9h1M535.6 649.9h1M497.6 652.7h1M529.6 648.8h1M509.7 682.2h1M505.5 651.0h1M534.5 667.2h1M518.0 645.1h1M509.3 648.1h1M532.8 667.2h1M492.2 658.4h1M515.3 684.4h1M514.6 665.2h1M508.6 654.3h1M499.9 640.2h1M536.1 674.5h1M522.5 649.7h1M502.0 641.0h1M508.7 659.3h1M513.0 672.1h1M524.8 641.0h1M500.9 665.0h1M519.3 639.4h1M520.7 680.3h1M526.9 662.4h1M535.9 662.2h1M522.5 648.9h1M540.1 669.6h1M518.3 657.8h1M503.3 679.5h1M522.7 666.5h1M500.4 669.2h1M532.5 661.3h1M535.6 642.5h1M508.5 670.9h1M520.1 673.7h1M523.7 655.8h1M508.8 654.6h1M498.2 666.5h1M503.1 669.2h1M512.0 636.6h1M526.7 684.9h1M523.4 673.1h1M505.6 650.2h1M518.7 634.9h1M529.3 666.5h1" stroke="#8c8430" stroke-width="1" fill="none"/>
<path d="M515.3 641.1h1M484.0 641.5h1M566.0 687.6h1M568.7 621.3h1M559.9 637.5h1M543.2 617.9h1M489.8 617.9h1M534.1 650.5h1M540.9 688.4h1M521.3 626.1h1M516.9 658.1h1M534.3 638.2h1M558.2 658.3h1M513.7 659.9h1M516.6 671.6h1M498.3 674.2h1M533.2 660.9h1M480.9 678.9h1M478.8 637.5h1M536.8 675.1h1M561.4 646.4h1M567.0 664.0h1M512.1 648.2h1M515.4 655.7h1M490.7 620.7h1M560.6 670.9h1M537.5 642.0h1M529.3 626.8h1M536.7 666.5h1M534.8 637.7h1M542.8 657.6h1M527.2 637.3h1M542.1 646.8h1M502.6 633.7h1M526.9 690.2h1M527.0 646.8h1M495.2 614.2h1M556.3 681.3h1M490.8 627.4h1M546.2 689.0h1M560.9 662.6h1M513.9 684.8h1M554.1 616.8h1M547.0 675.8h1M566.1 622.0h1M483.6 634.8h1M562.0 622.8h1M549.0 669.3h1M522.0 675.9h1M488.0 633.8h1M478.4 679.9h1M486.6 622.1h1M500.7 680.0h1M503.2 640.2h1M477.1 684.4h1M483.3 615.4h1M477.3 631.8h1M558.7 649.1h1M564.1 678.6h1M482.0 647.0h1M531.1 642.1h1M569.0 679.4h1M475.5 684.3h1M529.7 661.8h1M550.2 642.2h1M486.2 647.1h1M494.4 681.5h1M531.6 676.5h1M541.1 676.9h1M553.6 622.3h1M528.0 628.1h1M521.5 657.4h1M565.9 667.2h1M545.5 684.7h1M549.3 675.4h1M554.4 628.2h1M552.0 692.1h1M568.7 634.0h1M478.4 654.6h1M552.6 660.0h1M483.3 641.6h1M553.0 691.4h1M527.0 661.0h1M487.6 672.0h1M529.5 641.1h1M523.0 638.9h1M506.1 665.9h1M559.1 630.2h1M565.2 641.9h1M512.1 622.8h1M514.2 637.8h1M481.5 615.0h1M523.4 668.0h1M481.1 633.1h1M524.1 674.3h1M540.5 659.9h1M499.6 688.9h1M545.6 686.6h1M506.3 657.2h1M554.0 690.0h1M501.3 680.4h1M510.3 680.9h1M483.7 672.5h1M520.6 669.8h1M502.7 617.2h1M500.2 626.9h1M484.0 630.0h1M550.5 688.5h1M532.4 644.7h1M497.9 682.6h1M506.3 667.5h1M525.8 680.9h1M556.8 684.4h1M557.9 628.6h1M547.9 694.8h1M527.3 656.0h1M484.3 678.4h1M493.7 640.3h1M520.1 636.5h1M571.4 660.3h1" stroke="#141a48" stroke-width="1" fill="none"/>
<path d="M545.0 640.2h1M525.6 657.6h1M510.6 642.9h1M549.9 640.0h1M544.4 640.4h1M519.2 637.0h1M526.1 647.9h1M548.7 647.3h1M551.5 641.9h1M544.1 647.8h1M531.9 626.5h1M540.2 655.4h1M548.6 634.7h1M528.6 634.1h1M525.9 628.1h1M522.5 631.9h1M526.9 659.1h1M523.6 653.0h1M513.0 646.5h1M525.1 635.7h1M537.8 638.0h1M517.9 634.5h1M544.8 646.7h1M540.6 630.9h1M518.6 635.1h1M543.7 652.2h1M522.9 647.6h1M539.8 653.3h1M544.9 652.2h1M528.2 660.2h1M527.0 656.3h1M529.8 646.4h1M540.1 644.4h1M525.5 659.4h1M532.7 658.5h1M546.8 654.6h1M544.1 642.9h1M532.2 650.6h1M525.0 636.7h1M541.0 640.1h1M538.8 636.8h1M534.1 646.6h1M539.8 631.3h1M538.9 630.0h1M548.9 638.8h1M538.2 654.7h1M523.4 636.6h1M522.1 641.3h1M543.0 655.0h1M545.0 634.9h1M533.2 638.1h1M531.7 642.4h1M514.5 643.0h1M533.3 646.8h1M545.6 629.3h1M538.4 653.2h1M545.7 644.0h1M525.4 654.6h1M542.9 636.1h1M512.8 647.9h1M542.7 655.4h1M519.7 637.2h1M534.3 643.2h1M532.7 625.6h1M538.6 635.6h1" stroke="#a09838" stroke-width="1" fill="none"/>
<path d="M536.2 634.9h1M528.8 627.2h1M548.7 646.0h1M551.0 645.1h1M531.9 654.8h1M546.9 652.8h1M513.4 643.8h1M541.0 631.7h1M514.2 635.5h1M533.8 635.2h1M533.3 647.6h1M526.7 658.2h1M550.2 643.0h1M544.4 641.3h1M523.5 634.3h1M542.8 651.8h1M531.4 629.8h1M526.5 630.6h1M539.3 635.4h1M523.6 642.3h1M535.2 647.5h1M526.1 654.1h1M523.8 631.4h1M523.0 642.0h1M520.6 646.0h1M539.8 656.5h1M539.0 634.1h1M530.1 627.6h1M537.8 638.4h1M520.7 654.8h1M534.0 645.2h1M530.9 652.6h1M512.3 646.0h1M550.0 638.6h1M519.7 631.3h1M535.3 625.3h1M536.8 633.3h1M529.5 660.5h1M547.4 631.1h1M529.0 636.3h1M527.5 636.1h1M528.1 654.7h1M520.1 635.5h1M542.9 639.0h1M519.3 655.2h1M535.5 629.2h1M531.4 631.7h1M527.4 654.2h1M537.6 644.4h1M535.2 660.2h1M529.2 649.3h1M524.4 636.9h1M530.8 652.8h1M538.5 657.1h1M550.2 651.1h1" stroke="#8c8428" stroke-width="1" fill="none"/>
<path d="M535.5 621.3h1M502.7 628.1h1M533.8 635.9h1M542.0 622.1h1M519.2 618.5h1M550.2 623.3h1M543.4 626.1h1M527.8 618.3h1M518.1 634.2h1M542.6 627.5h1M518.8 618.2h1M554.4 621.4h1M500.5 619.6h1M515.2 636.1h1M549.7 626.5h1M520.7 634.4h1M506.2 633.9h1M534.8 623.7h1M517.6 614.7h1M530.2 619.2h1M514.2 619.2h1M519.1 626.9h1M508.1 621.0h1M526.8 617.2h1M493.9 631.0h1M511.3 630.3h1M526.1 614.4h1M520.6 622.0h1M515.5 629.5h1M533.4 630.9h1M501.0 631.2h1M521.8 618.6h1M539.7 625.2h1M509.6 618.6h1M501.3 623.5h1M498.8 620.2h1M493.9 618.2h1M512.0 614.5h1M539.5 635.1h1M557.3 621.4h1" stroke="#989030" stroke-width="1" fill="none"/>
<path d="M497.4 619.7h1M513.5 627.6h1M500.5 633.6h1M511.5 619.3h1M518.1 625.0h1M547.5 630.8h1M494.5 618.1h1M492.0 625.0h1M531.6 626.6h1M498.5 620.1h1M506.6 627.3h1M564.5 623.4h1M511.2 619.6h1M494.4 628.2h1M542.6 620.1h1M517.9 620.0h1M525.8 619.7h1M561.5 621.1h1M534.6 625.1h1M540.2 630.3h1M532.7 621.3h1M503.1 621.2h1M544.9 631.7h1M502.7 633.1h1M505.0 629.7h1M517.6 630.6h1M520.7 614.0h1M525.9 632.5h1M539.6 630.9h1M557.6 628.2h1M547.5 619.7h1M508.0 628.2h1M544.3 633.0h1M542.1 623.0h1M512.1 621.6h1M509.5 627.1h1M494.9 626.0h1M495.0 630.2h1M490.6 622.0h1M495.8 630.8h1M510.6 616.6h1M521.8 635.7h1M518.5 627.8h1M534.7 628.7h1M555.2 632.7h1M502.1 619.0h1M563.9 626.2h1M552.3 618.4h1M541.7 635.4h1M549.6 628.9h1" stroke="#807820" stroke-width="1" fill="none"/>
<path d="M495.0 686.3h1M557.9 643.1h1M513.7 643.9h1M506.6 646.0h1M479.6 683.7h1M488.4 658.0h1M562.3 666.0h1M568.9 655.7h1M537.1 622.2h1M567.8 665.5h1M477.5 614.4h1M550.9 646.6h1M510.0 637.9h1M549.5 666.9h1M531.0 665.0h1M563.6 658.7h1M560.2 618.6h1M528.8 632.6h1M494.9 663.4h1M478.8 689.0h1M508.6 618.5h1M539.1 669.7h1M528.7 626.0h1M482.1 623.7h1M542.6 647.6h1M541.0 669.4h1M532.7 691.8h1M559.1 682.9h1M566.5 629.1h1M524.3 623.7h1M481.0 667.8h1" stroke="#706820" stroke-width="1" fill="none"/>
<path d="M509.2 674.9h1M523.8 681.5h1M555.1 692.6h1M512.4 635.3h1M521.0 672.5h1M508.7 684.4h1M557.5 624.2h1M552.7 675.3h1M571.7 626.5h1M484.0 619.8h1M548.3 614.4h1M537.5 642.0h1M543.9 672.8h1M527.6 660.1h1M554.4 672.4h1M500.1 625.1h1M570.4 643.9h1M522.3 662.5h1M555.8 682.6h1M539.0 658.1h1M561.1 648.4h1M497.5 663.3h1M542.5 629.2h1M555.3 683.9h1M523.7 664.2h1M504.7 672.8h1M544.6 691.4h1M521.3 687.4h1M561.5 645.6h1M541.2 671.0h1M520.8 646.1h1M548.2 687.4h1M557.4 691.5h1M524.4 654.7h1M513.6 639.3h1M533.2 657.6h1M499.0 679.4h1M496.8 687.0h1M553.7 646.8h1M489.7 683.9h1M494.3 681.5h1M481.2 688.2h1M496.0 679.4h1M489.0 683.8h1M490.8 686.2h1M481.3 691.4h1M480.4 688.9h1M494.3 684.3h1M485.2 687.6h1M492.4 679.5h1M481.0 676.5h1M491.0 675.7h1M494.1 686.8h1M487.4 688.1h1M492.4 683.5h1M496.0 692.2h1M484.9 678.9h1M484.3 684.9h1M478.3 681.1h1M496.9 683.1h1M483.2 692.2h1M489.6 691.5h1M486.7 689.3h1M478.1 690.1h1" stroke="#888028" stroke-width="1" fill="none"/>
<text x="466.2" y="534.8" font-size="8.5" text-anchor="end" fill="#fff" font-weight="bold" >Merged</text>
<rect x="449.2" y="601.6" width="15" height="1.9" fill="#fff" />
<rect x="427" y="549" width="5.3" height="5.6" fill="none" stroke="#d8d8d8" stroke-width="0.6" stroke-dasharray="1.1,0.7"/>
<rect x="417.5" y="596.1" width="5.2" height="5.4" fill="none" stroke="#d8d8d8" stroke-width="0.6" stroke-dasharray="1.1,0.7"/>
<text x="569" y="534.8" font-size="8.5" text-anchor="end" fill="#fff" font-weight="bold" >Ki67</text>
<rect x="552" y="601.6" width="15" height="1.9" fill="#fff" />
<rect x="529.8" y="549" width="5.3" height="5.6" fill="none" stroke="#d8d8d8" stroke-width="0.6" stroke-dasharray="1.1,0.7"/>
<rect x="520.3" y="596.1" width="5.2" height="5.4" fill="none" stroke="#d8d8d8" stroke-width="0.6" stroke-dasharray="1.1,0.7"/>
<text x="466.2" y="622.6" font-size="8.5" text-anchor="end" fill="#fff" font-weight="bold" >CD8A</text>
<rect x="449.2" y="689.4" width="15" height="1.9" fill="#fff" />
<rect x="427" y="636.8" width="5.3" height="5.6" fill="none" stroke="#d8d8d8" stroke-width="0.6" stroke-dasharray="1.1,0.7"/>
<rect x="417.5" y="683.9" width="5.2" height="5.4" fill="none" stroke="#d8d8d8" stroke-width="0.6" stroke-dasharray="1.1,0.7"/>
<text x="569" y="622.6" font-size="8.5" text-anchor="end" fill="#fff" font-weight="bold" >TCF1</text>
<rect x="552" y="689.4" width="15" height="1.9" fill="#fff" />
<rect x="529.8" y="636.8" width="5.3" height="5.6" fill="none" stroke="#d8d8d8" stroke-width="0.6" stroke-dasharray="1.1,0.7"/>
<rect x="520.3" y="683.9" width="5.2" height="5.4" fill="none" stroke="#d8d8d8" stroke-width="0.6" stroke-dasharray="1.1,0.7"/>
<svg x="586.6" y="524.9" width="45.5" height="40" viewBox="0 0 45.5 40" overflow="hidden">
<rect x="0" y="0" width="45.5" height="40" fill="#000" />
<g filter="url(#blur05)">
<rect x="0" y="0" width="45.5" height="40" fill="#2c46b8" />
<path d="M0,2.4 C10,3 20,2 30,2.8 C38,3.4 42,2.2 45.5,2.8 V12 C43,13 41,15.5 37,16 C30,15.5 26,12 20,11.5 C12,11 6,9.5 0,9.5 Z" fill="#000"/>
<ellipse cx="11" cy="24" rx="7.5" ry="5" fill="#3a5ee0"/>
<ellipse cx="5" cy="35" rx="7" ry="5.5" fill="#3250c8"/>
<ellipse cx="23" cy="32" rx="7" ry="6" fill="#3452cc"/>
<ellipse cx="43" cy="20" rx="3" ry="5" fill="#3452cc"/>
<ellipse cx="41" cy="34" rx="4" ry="7" fill="#2c46b8"/>
<path d="M19,22 C22,26 28,27 30,40 M32,22 C33,30 36,36 34,40 M0,29 C6,30 12,29 17,28" stroke="#141c60" stroke-width="1.1" fill="none"/>
<path d="M3.5,18.5 C3,13 7,10.5 12,10.5 C16,10.5 19,13 18.5,18.5 C14,19.5 8,19.5 3.5,18.5 Z" fill="#38be5c"/>
<path d="M30,21 C33,17 38,17 41,21 C43,26 42,31 39,33 C35,34 31,30 30,25 Z" fill="#38be5c"/>
<ellipse cx="22.5" cy="17.6" rx="3.8" ry="2.2" fill="#90dcd8"/>
<path d="M2,16 l1,7 M17,19 l3,5 M29.5,19 l3,-3 M43,20 l2,6 M36,33 l3,3" stroke="#e0205a" stroke-width="1.3"/>
<ellipse cx="12" cy="32" rx="7" ry="5" fill="#9a98d0" opacity="0.45"/>
<ellipse cx="23" cy="17" rx="3.5" ry="2.5" fill="#b8b8e0" opacity="0.5"/>
<ellipse cx="40" cy="30" rx="3" ry="5" fill="#9a98d0" opacity="0.4"/>
</g>
</svg>
<path d="M607.8,544.9 L611.4,553.4 L607.8,550.4 L604.2,553.4 Z" fill="#f2d41c"/>
<text x="629.2" y="534.5" font-size="8.5" text-anchor="end" fill="#fff" font-weight="bold" >Merged</text>
<rect x="613.2" y="561.9" width="15.8" height="1.6" fill="#fff" />
<svg x="638.3" y="524.9" width="45.5" height="40" viewBox="0 0 45.5 40" overflow="hidden">
<rect x="0" y="0" width="45.5" height="40" fill="#000" />
<g filter="url(#blur05)">
<rect x="0" y="0" width="45.5" height="40" fill="#2c46b8" />
<path d="M0,2.4 C10,3 20,2 30,2.8 C38,3.4 42,2.2 45.5,2.8 V12 C43,13 41,15.5 37,16 C30,15.5 26,12 20,11.5 C12,11 6,9.5 0,9.5 Z" fill="#000"/>
<ellipse cx="11" cy="24" rx="7.5" ry="5" fill="#3a5ee0"/>
<ellipse cx="5" cy="35" rx="7" ry="5.5" fill="#3250c8"/>
<ellipse cx="23" cy="32" rx="7" ry="6" fill="#3452cc"/>
<ellipse cx="43" cy="20" rx="3" ry="5" fill="#3452cc"/>
<ellipse cx="41" cy="34" rx="4" ry="7" fill="#2c46b8"/>
<path d="M19,22 C22,26 28,27 30,40 M32,22 C33,30 36,36 34,40 M0,29 C6,30 12,29 17,28" stroke="#141c60" stroke-width="1.1" fill="none"/>
<path d="M3.5,18.5 C3,13 7,10.5 12,10.5 C16,10.5 19,13 18.5,18.5 C14,19.5 8,19.5 3.5,18.5 Z" fill="#38be5c"/>
<path d="M30,21 C33,17 38,17 41,21 C43,26 42,31 39,33 C35,34 31,30 30,25 Z" fill="#38be5c"/>
<ellipse cx="22.5" cy="17.6" rx="3.8" ry="2.2" fill="#90dcd8"/>
</g>
</svg>
<path d="M659.5,544.9 L663.1,553.4 L659.5,550.4 L655.9,553.4 Z" fill="#f2d41c"/>
<text x="680.9" y="534.5" font-size="8.5" text-anchor="end" fill="#fff" font-weight="bold" >Ki67</text>
<rect x="664.9" y="561.9" width="15.8" height="1.6" fill="#fff" />
<svg x="586.6" y="572.2" width="45.5" height="40" viewBox="0 0 45.5 40" overflow="hidden">
<rect x="0" y="0" width="45.5" height="40" fill="#000" />
<g filter="url(#blur05)">
<rect x="0" y="0" width="45.5" height="40" fill="#2c46b8" />
<path d="M0,2.4 C10,3 20,2 30,2.8 C38,3.4 42,2.2 45.5,2.8 V12 C43,13 41,15.5 37,16 C30,15.5 26,12 20,11.5 C12,11 6,9.5 0,9.5 Z" fill="#000"/>
<ellipse cx="11" cy="24" rx="7.5" ry="5" fill="#3a5ee0"/>
<ellipse cx="5" cy="35" rx="7" ry="5.5" fill="#3250c8"/>
<ellipse cx="23" cy="32" rx="7" ry="6" fill="#3452cc"/>
<ellipse cx="43" cy="20" rx="3" ry="5" fill="#3452cc"/>
<ellipse cx="41" cy="34" rx="4" ry="7" fill="#2c46b8"/>
<path d="M19,22 C22,26 28,27 30,40 M32,22 C33,30 36,36 34,40 M0,29 C6,30 12,29 17,28" stroke="#141c60" stroke-width="1.1" fill="none"/>
<path d="M2,16 l1,7 M17,19 l3,5 M29.5,19 l3,-3 M43,20 l2,6 M36,33 l3,3" stroke="#e0205a" stroke-width="1.3"/>
</g>
</svg>
<path d="M607.8,592.2 L611.4,600.7 L607.8,597.7 L604.2,600.7 Z" fill="#f2d41c"/>
<text x="629.2" y="581.8" font-size="8.5" text-anchor="end" fill="#fff" font-weight="bold" >CD8A</text>
<rect x="613.2" y="609.2" width="15.8" height="1.6" fill="#fff" />
<svg x="638.3" y="572.2" width="45.5" height="40" viewBox="0 0 45.5 40" overflow="hidden">
<rect x="0" y="0" width="45.5" height="40" fill="#000" />
<g filter="url(#blur05)">
<rect x="0" y="0" width="45.5" height="40" fill="#2c46b8" />
<path d="M0,2.4 C10,3 20,2 30,2.8 C38,3.4 42,2.2 45.5,2.8 V12 C43,13 41,15.5 37,16 C30,15.5 26,12 20,11.5 C12,11 6,9.5 0,9.5 Z" fill="#000"/>
<ellipse cx="11" cy="24" rx="7.5" ry="5" fill="#3a5ee0"/>
<ellipse cx="5" cy="35" rx="7" ry="5.5" fill="#3250c8"/>
<ellipse cx="23" cy="32" rx="7" ry="6" fill="#3452cc"/>
<ellipse cx="43" cy="20" rx="3" ry="5" fill="#3452cc"/>
<ellipse cx="41" cy="34" rx="4" ry="7" fill="#2c46b8"/>
<path d="M19,22 C22,26 28,27 30,40 M32,22 C33,30 36,36 34,40 M0,29 C6,30 12,29 17,28" stroke="#141c60" stroke-width="1.1" fill="none"/>
<ellipse cx="12" cy="32" rx="7" ry="5" fill="#9a98d0" opacity="0.45"/>
<ellipse cx="23" cy="17" rx="3.5" ry="2.5" fill="#b8b8e0" opacity="0.5"/>
<ellipse cx="40" cy="30" rx="3" ry="5" fill="#9a98d0" opacity="0.4"/>
</g>
</svg>
<path d="M659.5,592.2 L663.1,600.7 L659.5,597.7 L655.9,600.7 Z" fill="#f2d41c"/>
<text x="680.9" y="581.8" font-size="8.5" text-anchor="end" fill="#fff" font-weight="bold" >TCF1</text>
<rect x="664.9" y="609.2" width="15.8" height="1.6" fill="#fff" />
<svg x="586.6" y="619.5" width="45.5" height="34.2" viewBox="0 0 45.5 34.2" overflow="hidden">
<rect x="0" y="0" width="45.5" height="34.2" fill="#000" />
<g filter="url(#blur05)">
<ellipse cx="16" cy="14" rx="10" ry="8" fill="#b01c48" opacity="0.6" filter="url(#blur1)"/>
<ellipse cx="44" cy="24" rx="2" ry="3" fill="#c02040" opacity="0.7"/>
<ellipse cx="22" cy="9" rx="3" ry="2" fill="#d02050" opacity="0.8"/>
<ellipse cx="3" cy="6" rx="2" ry="4.5" fill="#1c2a78"/>
<ellipse cx="3" cy="15" rx="2.5" ry="3" fill="#1c2a78"/>
<ellipse cx="26" cy="12" rx="6" ry="2.5" fill="#1e2c88"/>
<ellipse cx="5.5" cy="25.8" rx="3" ry="6.5" fill="#2c48b8" transform="rotate(25 5.5 25.8)"/>
<ellipse cx="20.8" cy="18.2" rx="5.5" ry="4.2" fill="#3850c0"/>
<ellipse cx="37.2" cy="18.2" rx="5" ry="3.4" fill="#4454b8"/>
<ellipse cx="32.1" cy="26.6" rx="10" ry="3.2" fill="#3450c0"/>
<ellipse cx="16" cy="33.5" rx="8" ry="2" fill="#2840a8"/>
<ellipse cx="38" cy="6" rx="6" ry="3" fill="#2a3c9c"/>
<ellipse cx="12" cy="6" rx="4" ry="2.5" fill="#22308a"/>
<ellipse cx="43" cy="31" rx="4" ry="3" fill="#2a40a8"/>
<ellipse cx="11" cy="19" rx="3" ry="4" fill="#22308c"/>
<ellipse cx="20.8" cy="18.2" rx="4.6" ry="3.6" fill="#48c0a8"/>
<ellipse cx="37.2" cy="18.2" rx="3.2" ry="2.2" fill="#e8e8b8" opacity="0.8"/>
</g>
</svg>
<path d="M607.8,640.9 L611.4,649.3 L607.8,646.3 L604.2,649.3 Z" fill="#f2d41c"/>
<text x="629.2" y="629.1" font-size="8.5" text-anchor="end" fill="#fff" font-weight="bold" >Merged</text>
<rect x="615.1" y="651.5" width="13.6" height="1.6" fill="#fff" />
<svg x="638.3" y="619.5" width="45.5" height="34.2" viewBox="0 0 45.5 34.2" overflow="hidden">
<rect x="0" y="0" width="45.5" height="34.2" fill="#000" />
<g filter="url(#blur05)">
<ellipse cx="3" cy="6" rx="2" ry="4.5" fill="#1c2a78"/>
<ellipse cx="3" cy="15" rx="2.5" ry="3" fill="#1c2a78"/>
<ellipse cx="26" cy="12" rx="6" ry="2.5" fill="#1e2c88"/>
<ellipse cx="5.5" cy="25.8" rx="3" ry="6.5" fill="#2c48b8" transform="rotate(25 5.5 25.8)"/>
<ellipse cx="20.8" cy="18.2" rx="5.5" ry="4.2" fill="#3850c0"/>
<ellipse cx="37.2" cy="18.2" rx="5" ry="3.4" fill="#4454b8"/>
<ellipse cx="32.1" cy="26.6" rx="10" ry="3.2" fill="#3450c0"/>
<ellipse cx="16" cy="33.5" rx="8" ry="2" fill="#2840a8"/>
<ellipse cx="38" cy="6" rx="6" ry="3" fill="#2a3c9c"/>
<ellipse cx="12" cy="6" rx="4" ry="2.5" fill="#22308a"/>
<ellipse cx="43" cy="31" rx="4" ry="3" fill="#2a40a8"/>
<ellipse cx="11" cy="19" rx="3" ry="4" fill="#22308c"/>
<ellipse cx="20.8" cy="18.2" rx="4.6" ry="3.6" fill="#48c0a8"/>
</g>
</svg>
<path d="M659.5,640.9 L663.1,649.3 L659.5,646.3 L655.9,649.3 Z" fill="#f2d41c"/>
<text x="680.9" y="629.1" font-size="8.5" text-anchor="end" fill="#fff" font-weight="bold" >Ki67</text>
<rect x="666.8" y="651.5" width="13.6" height="1.6" fill="#fff" />
<svg x="586.6" y="660.9" width="45.5" height="34.2" viewBox="0 0 45.5 34.2" overflow="hidden">
<rect x="0" y="0" width="45.5" height="34.2" fill="#000" />
<g filter="url(#blur05)">
<ellipse cx="16" cy="14" rx="10" ry="8" fill="#b01c48" opacity="0.6" filter="url(#blur1)"/>
<ellipse cx="44" cy="24" rx="2" ry="3" fill="#c02040" opacity="0.7"/>
<ellipse cx="22" cy="9" rx="3" ry="2" fill="#d02050" opacity="0.8"/>
<ellipse cx="3" cy="6" rx="2" ry="4.5" fill="#1c2a78"/>
<ellipse cx="3" cy="15" rx="2.5" ry="3" fill="#1c2a78"/>
<ellipse cx="26" cy="12" rx="6" ry="2.5" fill="#1e2c88"/>
<ellipse cx="5.5" cy="25.8" rx="3" ry="6.5" fill="#2c48b8" transform="rotate(25 5.5 25.8)"/>
<ellipse cx="20.8" cy="18.2" rx="5.5" ry="4.2" fill="#3850c0"/>
<ellipse cx="37.2" cy="18.2" rx="5" ry="3.4" fill="#4454b8"/>
<ellipse cx="32.1" cy="26.6" rx="10" ry="3.2" fill="#3450c0"/>
<ellipse cx="16" cy="33.5" rx="8" ry="2" fill="#2840a8"/>
<ellipse cx="38" cy="6" rx="6" ry="3" fill="#2a3c9c"/>
<ellipse cx="12" cy="6" rx="4" ry="2.5" fill="#22308a"/>
<ellipse cx="43" cy="31" rx="4" ry="3" fill="#2a40a8"/>
<ellipse cx="11" cy="19" rx="3" ry="4" fill="#22308c"/>
</g>
</svg>
<path d="M607.8,682.3 L611.4,690.7 L607.8,687.7 L604.2,690.7 Z" fill="#f2d41c"/>
<text x="629.2" y="670.5" font-size="8.5" text-anchor="end" fill="#fff" font-weight="bold" >CD8A</text>
<rect x="615.1" y="692.9" width="13.6" height="1.6" fill="#fff" />
<svg x="638.3" y="660.9" width="45.5" height="34.2" viewBox="0 0 45.5 34.2" overflow="hidden">
<rect x="0" y="0" width="45.5" height="34.2" fill="#000" />
<g filter="url(#blur05)">
<ellipse cx="3" cy="6" rx="2" ry="4.5" fill="#1c2a78"/>
<ellipse cx="3" cy="15" rx="2.5" ry="3" fill="#1c2a78"/>
<ellipse cx="26" cy="12" rx="6" ry="2.5" fill="#1e2c88"/>
<ellipse cx="5.5" cy="25.8" rx="3" ry="6.5" fill="#2c48b8" transform="rotate(25 5.5 25.8)"/>
<ellipse cx="20.8" cy="18.2" rx="5.5" ry="4.2" fill="#3850c0"/>
<ellipse cx="37.2" cy="18.2" rx="5" ry="3.4" fill="#4454b8"/>
<ellipse cx="32.1" cy="26.6" rx="10" ry="3.2" fill="#3450c0"/>
<ellipse cx="16" cy="33.5" rx="8" ry="2" fill="#2840a8"/>
<ellipse cx="38" cy="6" rx="6" ry="3" fill="#2a3c9c"/>
<ellipse cx="12" cy="6" rx="4" ry="2.5" fill="#22308a"/>
<ellipse cx="43" cy="31" rx="4" ry="3" fill="#2a40a8"/>
<ellipse cx="11" cy="19" rx="3" ry="4" fill="#22308c"/>
<ellipse cx="37.2" cy="18.2" rx="3.2" ry="2.2" fill="#e8e8b8" opacity="0.8"/>
</g>
</svg>
<path d="M659.5,682.3 L663.1,690.7 L659.5,687.7 L655.9,690.7 Z" fill="#f2d41c"/>
<text x="680.9" y="670.5" font-size="8.5" text-anchor="end" fill="#fff" font-weight="bold" >TCF1</text>
<rect x="666.8" y="692.9" width="13.6" height="1.6" fill="#fff" />
</svg></body></html>
